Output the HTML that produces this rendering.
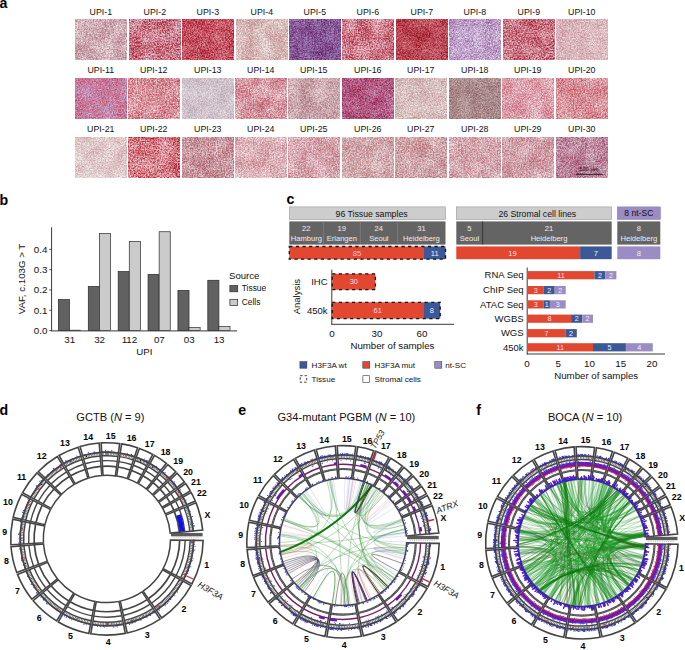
<!DOCTYPE html>
<html><head><meta charset="utf-8"><title>Figure</title>
<style>
html,body{margin:0;padding:0;background:#fff;}
#fig{position:relative;width:685px;height:650px;overflow:hidden;background:#fff;}
svg{position:absolute;left:0;top:0;font-family:"Liberation Sans",sans-serif;}
</style></head><body><div id="fig">
<svg width="685" height="650" viewBox="0 0 685 650">
<defs>
<filter id="t1" x="0" y="0" width="100%" height="100%" color-interpolation-filters="sRGB"><feTurbulence type="fractalNoise" baseFrequency="0.75" numOctaves="2" seed="8"/><feColorMatrix type="matrix" values="1 0 0 0 0  1 0 0 0 0  1 0 0 0 0  0 0 0 0 1" result="a"/><feTurbulence type="fractalNoise" baseFrequency="0.07" numOctaves="2" seed="18"/><feColorMatrix type="matrix" values="1 0 0 0 0  1 0 0 0 0  1 0 0 0 0  0 0 0 0 1" result="b"/><feComposite in="a" in2="b" operator="arithmetic" k1="0" k2="0.95" k3="0.35" k4="-0.15"/><feComponentTransfer><feFuncR type="table" tableValues="0.933 0.933 0.812 0.690 0.690"/><feFuncG type="table" tableValues="0.886 0.886 0.678 0.471 0.471"/><feFuncB type="table" tableValues="0.894 0.894 0.706 0.518 0.518"/></feComponentTransfer></filter>
<filter id="t2" x="0" y="0" width="100%" height="100%" color-interpolation-filters="sRGB"><feTurbulence type="fractalNoise" baseFrequency="0.75" numOctaves="2" seed="15"/><feColorMatrix type="matrix" values="1 0 0 0 0  1 0 0 0 0  1 0 0 0 0  0 0 0 0 1" result="a"/><feTurbulence type="fractalNoise" baseFrequency="0.07" numOctaves="2" seed="31"/><feColorMatrix type="matrix" values="1 0 0 0 0  1 0 0 0 0  1 0 0 0 0  0 0 0 0 1" result="b"/><feComposite in="a" in2="b" operator="arithmetic" k1="0" k2="0.95" k3="0.35" k4="-0.15"/><feComponentTransfer><feFuncR type="table" tableValues="0.910 0.910 0.788 0.667 0.667"/><feFuncG type="table" tableValues="0.824 0.824 0.471 0.118 0.118"/><feFuncB type="table" tableValues="0.871 0.871 0.533 0.196 0.196"/></feComponentTransfer></filter>
<filter id="t3" x="0" y="0" width="100%" height="100%" color-interpolation-filters="sRGB"><feTurbulence type="fractalNoise" baseFrequency="0.75" numOctaves="2" seed="22"/><feColorMatrix type="matrix" values="1 0 0 0 0  1 0 0 0 0  1 0 0 0 0  0 0 0 0 1" result="a"/><feTurbulence type="fractalNoise" baseFrequency="0.07" numOctaves="2" seed="44"/><feColorMatrix type="matrix" values="1 0 0 0 0  1 0 0 0 0  1 0 0 0 0  0 0 0 0 1" result="b"/><feComposite in="a" in2="b" operator="arithmetic" k1="0" k2="0.95" k3="0.35" k4="-0.15"/><feComponentTransfer><feFuncR type="table" tableValues="0.882 0.882 0.765 0.647 0.647"/><feFuncG type="table" tableValues="0.588 0.588 0.324 0.059 0.059"/><feFuncB type="table" tableValues="0.627 0.627 0.382 0.137 0.137"/></feComponentTransfer></filter>
<filter id="t4" x="0" y="0" width="100%" height="100%" color-interpolation-filters="sRGB"><feTurbulence type="fractalNoise" baseFrequency="0.75" numOctaves="2" seed="29"/><feColorMatrix type="matrix" values="1 0 0 0 0  1 0 0 0 0  1 0 0 0 0  0 0 0 0 1" result="a"/><feTurbulence type="fractalNoise" baseFrequency="0.07" numOctaves="2" seed="57"/><feColorMatrix type="matrix" values="1 0 0 0 0  1 0 0 0 0  1 0 0 0 0  0 0 0 0 1" result="b"/><feComposite in="a" in2="b" operator="arithmetic" k1="0" k2="0.95" k3="0.35" k4="-0.15"/><feComponentTransfer><feFuncR type="table" tableValues="0.949 0.949 0.847 0.745 0.745"/><feFuncG type="table" tableValues="0.918 0.918 0.733 0.549 0.549"/><feFuncB type="table" tableValues="0.910 0.910 0.729 0.549 0.549"/></feComponentTransfer></filter>
<filter id="t5" x="0" y="0" width="100%" height="100%" color-interpolation-filters="sRGB"><feTurbulence type="fractalNoise" baseFrequency="0.75" numOctaves="2" seed="36"/><feColorMatrix type="matrix" values="1 0 0 0 0  1 0 0 0 0  1 0 0 0 0  0 0 0 0 1" result="a"/><feTurbulence type="fractalNoise" baseFrequency="0.07" numOctaves="2" seed="70"/><feColorMatrix type="matrix" values="1 0 0 0 0  1 0 0 0 0  1 0 0 0 0  0 0 0 0 1" result="b"/><feComposite in="a" in2="b" operator="arithmetic" k1="0" k2="0.95" k3="0.35" k4="-0.15"/><feComponentTransfer><feFuncR type="table" tableValues="0.667 0.667 0.529 0.392 0.392"/><feFuncG type="table" tableValues="0.549 0.549 0.343 0.137 0.137"/><feFuncB type="table" tableValues="0.784 0.784 0.588 0.392 0.392"/></feComponentTransfer></filter>
<filter id="t6" x="0" y="0" width="100%" height="100%" color-interpolation-filters="sRGB"><feTurbulence type="fractalNoise" baseFrequency="0.75" numOctaves="2" seed="43"/><feColorMatrix type="matrix" values="1 0 0 0 0  1 0 0 0 0  1 0 0 0 0  0 0 0 0 1" result="a"/><feTurbulence type="fractalNoise" baseFrequency="0.07" numOctaves="2" seed="83"/><feColorMatrix type="matrix" values="1 0 0 0 0  1 0 0 0 0  1 0 0 0 0  0 0 0 0 1" result="b"/><feComposite in="a" in2="b" operator="arithmetic" k1="0" k2="0.95" k3="0.35" k4="-0.15"/><feComponentTransfer><feFuncR type="table" tableValues="0.933 0.933 0.804 0.675 0.675"/><feFuncG type="table" tableValues="0.804 0.804 0.480 0.157 0.157"/><feFuncB type="table" tableValues="0.831 0.831 0.537 0.243 0.243"/></feComponentTransfer></filter>
<filter id="t7" x="0" y="0" width="100%" height="100%" color-interpolation-filters="sRGB"><feTurbulence type="fractalNoise" baseFrequency="0.75" numOctaves="2" seed="50"/><feColorMatrix type="matrix" values="1 0 0 0 0  1 0 0 0 0  1 0 0 0 0  0 0 0 0 1" result="a"/><feTurbulence type="fractalNoise" baseFrequency="0.07" numOctaves="2" seed="96"/><feColorMatrix type="matrix" values="1 0 0 0 0  1 0 0 0 0  1 0 0 0 0  0 0 0 0 1" result="b"/><feComposite in="a" in2="b" operator="arithmetic" k1="0" k2="0.95" k3="0.35" k4="-0.15"/><feComponentTransfer><feFuncR type="table" tableValues="0.843 0.843 0.725 0.608 0.608"/><feFuncG type="table" tableValues="0.510 0.510 0.284 0.059 0.059"/><feFuncB type="table" tableValues="0.549 0.549 0.333 0.118 0.118"/></feComponentTransfer></filter>
<filter id="t8" x="0" y="0" width="100%" height="100%" color-interpolation-filters="sRGB"><feTurbulence type="fractalNoise" baseFrequency="0.75" numOctaves="2" seed="57"/><feColorMatrix type="matrix" values="1 0 0 0 0  1 0 0 0 0  1 0 0 0 0  0 0 0 0 1" result="a"/><feTurbulence type="fractalNoise" baseFrequency="0.07" numOctaves="2" seed="109"/><feColorMatrix type="matrix" values="1 0 0 0 0  1 0 0 0 0  1 0 0 0 0  0 0 0 0 1" result="b"/><feComposite in="a" in2="b" operator="arithmetic" k1="0" k2="0.95" k3="0.35" k4="-0.15"/><feComponentTransfer><feFuncR type="table" tableValues="0.902 0.902 0.745 0.588 0.588"/><feFuncG type="table" tableValues="0.863 0.863 0.627 0.392 0.392"/><feFuncB type="table" tableValues="0.941 0.941 0.784 0.627 0.627"/></feComponentTransfer></filter>
<filter id="t9" x="0" y="0" width="100%" height="100%" color-interpolation-filters="sRGB"><feTurbulence type="fractalNoise" baseFrequency="0.75" numOctaves="2" seed="64"/><feColorMatrix type="matrix" values="1 0 0 0 0  1 0 0 0 0  1 0 0 0 0  0 0 0 0 1" result="a"/><feTurbulence type="fractalNoise" baseFrequency="0.07" numOctaves="2" seed="122"/><feColorMatrix type="matrix" values="1 0 0 0 0  1 0 0 0 0  1 0 0 0 0  0 0 0 0 1" result="b"/><feComposite in="a" in2="b" operator="arithmetic" k1="0" k2="0.95" k3="0.35" k4="-0.15"/><feComponentTransfer><feFuncR type="table" tableValues="0.925 0.925 0.786 0.647 0.647"/><feFuncG type="table" tableValues="0.784 0.784 0.451 0.118 0.118"/><feFuncB type="table" tableValues="0.816 0.816 0.510 0.204 0.204"/></feComponentTransfer></filter>
<filter id="t10" x="0" y="0" width="100%" height="100%" color-interpolation-filters="sRGB"><feTurbulence type="fractalNoise" baseFrequency="0.75" numOctaves="2" seed="71"/><feColorMatrix type="matrix" values="1 0 0 0 0  1 0 0 0 0  1 0 0 0 0  0 0 0 0 1" result="a"/><feTurbulence type="fractalNoise" baseFrequency="0.07" numOctaves="2" seed="135"/><feColorMatrix type="matrix" values="1 0 0 0 0  1 0 0 0 0  1 0 0 0 0  0 0 0 0 1" result="b"/><feComposite in="a" in2="b" operator="arithmetic" k1="0" k2="0.95" k3="0.35" k4="-0.15"/><feComponentTransfer><feFuncR type="table" tableValues="0.941 0.941 0.855 0.769 0.769"/><feFuncG type="table" tableValues="0.886 0.886 0.718 0.549 0.549"/><feFuncB type="table" tableValues="0.894 0.894 0.741 0.588 0.588"/></feComponentTransfer></filter>
<filter id="t11" x="0" y="0" width="100%" height="100%" color-interpolation-filters="sRGB"><feTurbulence type="fractalNoise" baseFrequency="0.75" numOctaves="2" seed="78"/><feColorMatrix type="matrix" values="1 0 0 0 0  1 0 0 0 0  1 0 0 0 0  0 0 0 0 1" result="a"/><feTurbulence type="fractalNoise" baseFrequency="0.07" numOctaves="2" seed="148"/><feColorMatrix type="matrix" values="1 0 0 0 0  1 0 0 0 0  1 0 0 0 0  0 0 0 0 1" result="b"/><feComposite in="a" in2="b" operator="arithmetic" k1="0" k2="0.95" k3="0.35" k4="-0.15"/><feComponentTransfer><feFuncR type="table" tableValues="0.769 0.769 0.776 0.784 0.784"/><feFuncG type="table" tableValues="0.722 0.722 0.498 0.275 0.275"/><feFuncB type="table" tableValues="0.871 0.871 0.631 0.392 0.392"/></feComponentTransfer></filter>
<filter id="t12" x="0" y="0" width="100%" height="100%" color-interpolation-filters="sRGB"><feTurbulence type="fractalNoise" baseFrequency="0.75" numOctaves="2" seed="85"/><feColorMatrix type="matrix" values="1 0 0 0 0  1 0 0 0 0  1 0 0 0 0  0 0 0 0 1" result="a"/><feTurbulence type="fractalNoise" baseFrequency="0.07" numOctaves="2" seed="161"/><feColorMatrix type="matrix" values="1 0 0 0 0  1 0 0 0 0  1 0 0 0 0  0 0 0 0 1" result="b"/><feComposite in="a" in2="b" operator="arithmetic" k1="0" k2="0.95" k3="0.35" k4="-0.15"/><feComponentTransfer><feFuncR type="table" tableValues="0.949 0.949 0.847 0.745 0.745"/><feFuncG type="table" tableValues="0.855 0.855 0.565 0.275 0.275"/><feFuncB type="table" tableValues="0.871 0.871 0.602 0.333 0.333"/></feComponentTransfer></filter>
<filter id="t13" x="0" y="0" width="100%" height="100%" color-interpolation-filters="sRGB"><feTurbulence type="fractalNoise" baseFrequency="0.75" numOctaves="2" seed="92"/><feColorMatrix type="matrix" values="1 0 0 0 0  1 0 0 0 0  1 0 0 0 0  0 0 0 0 1" result="a"/><feTurbulence type="fractalNoise" baseFrequency="0.07" numOctaves="2" seed="174"/><feColorMatrix type="matrix" values="1 0 0 0 0  1 0 0 0 0  1 0 0 0 0  0 0 0 0 1" result="b"/><feComposite in="a" in2="b" operator="arithmetic" k1="0" k2="0.95" k3="0.35" k4="-0.15"/><feComponentTransfer><feFuncR type="table" tableValues="0.910 0.910 0.820 0.729 0.729"/><feFuncG type="table" tableValues="0.886 0.886 0.765 0.643 0.643"/><feFuncB type="table" tableValues="0.902 0.902 0.800 0.698 0.698"/></feComponentTransfer></filter>
<filter id="t14" x="0" y="0" width="100%" height="100%" color-interpolation-filters="sRGB"><feTurbulence type="fractalNoise" baseFrequency="0.75" numOctaves="2" seed="99"/><feColorMatrix type="matrix" values="1 0 0 0 0  1 0 0 0 0  1 0 0 0 0  0 0 0 0 1" result="a"/><feTurbulence type="fractalNoise" baseFrequency="0.07" numOctaves="2" seed="187"/><feColorMatrix type="matrix" values="1 0 0 0 0  1 0 0 0 0  1 0 0 0 0  0 0 0 0 1" result="b"/><feComposite in="a" in2="b" operator="arithmetic" k1="0" k2="0.95" k3="0.35" k4="-0.15"/><feComponentTransfer><feFuncR type="table" tableValues="0.949 0.949 0.847 0.745 0.745"/><feFuncG type="table" tableValues="0.863 0.863 0.608 0.353 0.353"/><feFuncB type="table" tableValues="0.878 0.878 0.645 0.412 0.412"/></feComponentTransfer></filter>
<filter id="t15" x="0" y="0" width="100%" height="100%" color-interpolation-filters="sRGB"><feTurbulence type="fractalNoise" baseFrequency="0.75" numOctaves="2" seed="106"/><feColorMatrix type="matrix" values="1 0 0 0 0  1 0 0 0 0  1 0 0 0 0  0 0 0 0 1" result="a"/><feTurbulence type="fractalNoise" baseFrequency="0.07" numOctaves="2" seed="200"/><feColorMatrix type="matrix" values="1 0 0 0 0  1 0 0 0 0  1 0 0 0 0  0 0 0 0 1" result="b"/><feComposite in="a" in2="b" operator="arithmetic" k1="0" k2="0.95" k3="0.35" k4="-0.15"/><feComponentTransfer><feFuncR type="table" tableValues="0.910 0.910 0.792 0.675 0.675"/><feFuncG type="table" tableValues="0.847 0.847 0.651 0.455 0.455"/><feFuncB type="table" tableValues="0.863 0.863 0.675 0.486 0.486"/></feComponentTransfer></filter>
<filter id="t16" x="0" y="0" width="100%" height="100%" color-interpolation-filters="sRGB"><feTurbulence type="fractalNoise" baseFrequency="0.75" numOctaves="2" seed="113"/><feColorMatrix type="matrix" values="1 0 0 0 0  1 0 0 0 0  1 0 0 0 0  0 0 0 0 1" result="a"/><feTurbulence type="fractalNoise" baseFrequency="0.07" numOctaves="2" seed="213"/><feColorMatrix type="matrix" values="1 0 0 0 0  1 0 0 0 0  1 0 0 0 0  0 0 0 0 1" result="b"/><feComposite in="a" in2="b" operator="arithmetic" k1="0" k2="0.95" k3="0.35" k4="-0.15"/><feComponentTransfer><feFuncR type="table" tableValues="0.804 0.804 0.696 0.588 0.588"/><feFuncG type="table" tableValues="0.588 0.588 0.353 0.118 0.118"/><feFuncB type="table" tableValues="0.745 0.745 0.510 0.275 0.275"/></feComponentTransfer></filter>
<filter id="t17" x="0" y="0" width="100%" height="100%" color-interpolation-filters="sRGB"><feTurbulence type="fractalNoise" baseFrequency="0.75" numOctaves="2" seed="120"/><feColorMatrix type="matrix" values="1 0 0 0 0  1 0 0 0 0  1 0 0 0 0  0 0 0 0 1" result="a"/><feTurbulence type="fractalNoise" baseFrequency="0.07" numOctaves="2" seed="226"/><feColorMatrix type="matrix" values="1 0 0 0 0  1 0 0 0 0  1 0 0 0 0  0 0 0 0 1" result="b"/><feComposite in="a" in2="b" operator="arithmetic" k1="0" k2="0.95" k3="0.35" k4="-0.15"/><feComponentTransfer><feFuncR type="table" tableValues="0.941 0.941 0.843 0.745 0.745"/><feFuncG type="table" tableValues="0.910 0.910 0.741 0.573 0.573"/><feFuncB type="table" tableValues="0.894 0.894 0.733 0.573 0.573"/></feComponentTransfer></filter>
<filter id="t18" x="0" y="0" width="100%" height="100%" color-interpolation-filters="sRGB"><feTurbulence type="fractalNoise" baseFrequency="0.75" numOctaves="2" seed="127"/><feColorMatrix type="matrix" values="1 0 0 0 0  1 0 0 0 0  1 0 0 0 0  0 0 0 0 1" result="a"/><feTurbulence type="fractalNoise" baseFrequency="0.07" numOctaves="2" seed="239"/><feColorMatrix type="matrix" values="1 0 0 0 0  1 0 0 0 0  1 0 0 0 0  0 0 0 0 1" result="b"/><feComposite in="a" in2="b" operator="arithmetic" k1="0" k2="0.95" k3="0.35" k4="-0.15"/><feComponentTransfer><feFuncR type="table" tableValues="0.784 0.784 0.667 0.549 0.549"/><feFuncG type="table" tableValues="0.706 0.706 0.545 0.384 0.384"/><feFuncB type="table" tableValues="0.698 0.698 0.545 0.392 0.392"/></feComponentTransfer></filter>
<filter id="t19" x="0" y="0" width="100%" height="100%" color-interpolation-filters="sRGB"><feTurbulence type="fractalNoise" baseFrequency="0.75" numOctaves="2" seed="134"/><feColorMatrix type="matrix" values="1 0 0 0 0  1 0 0 0 0  1 0 0 0 0  0 0 0 0 1" result="a"/><feTurbulence type="fractalNoise" baseFrequency="0.07" numOctaves="2" seed="252"/><feColorMatrix type="matrix" values="1 0 0 0 0  1 0 0 0 0  1 0 0 0 0  0 0 0 0 1" result="b"/><feComposite in="a" in2="b" operator="arithmetic" k1="0" k2="0.95" k3="0.35" k4="-0.15"/><feComponentTransfer><feFuncR type="table" tableValues="0.957 0.957 0.867 0.776 0.776"/><feFuncG type="table" tableValues="0.878 0.878 0.635 0.392 0.392"/><feFuncB type="table" tableValues="0.894 0.894 0.675 0.455 0.455"/></feComponentTransfer></filter>
<filter id="t20" x="0" y="0" width="100%" height="100%" color-interpolation-filters="sRGB"><feTurbulence type="fractalNoise" baseFrequency="0.75" numOctaves="2" seed="141"/><feColorMatrix type="matrix" values="1 0 0 0 0  1 0 0 0 0  1 0 0 0 0  0 0 0 0 1" result="a"/><feTurbulence type="fractalNoise" baseFrequency="0.07" numOctaves="2" seed="265"/><feColorMatrix type="matrix" values="1 0 0 0 0  1 0 0 0 0  1 0 0 0 0  0 0 0 0 1" result="b"/><feComposite in="a" in2="b" operator="arithmetic" k1="0" k2="0.95" k3="0.35" k4="-0.15"/><feComponentTransfer><feFuncR type="table" tableValues="0.949 0.949 0.851 0.753 0.753"/><feFuncG type="table" tableValues="0.839 0.839 0.573 0.306 0.306"/><feFuncB type="table" tableValues="0.855 0.855 0.608 0.361 0.361"/></feComponentTransfer></filter>
<filter id="t21" x="0" y="0" width="100%" height="100%" color-interpolation-filters="sRGB"><feTurbulence type="fractalNoise" baseFrequency="0.75" numOctaves="2" seed="148"/><feColorMatrix type="matrix" values="1 0 0 0 0  1 0 0 0 0  1 0 0 0 0  0 0 0 0 1" result="a"/><feTurbulence type="fractalNoise" baseFrequency="0.07" numOctaves="2" seed="278"/><feColorMatrix type="matrix" values="1 0 0 0 0  1 0 0 0 0  1 0 0 0 0  0 0 0 0 1" result="b"/><feComposite in="a" in2="b" operator="arithmetic" k1="0" k2="0.95" k3="0.35" k4="-0.15"/><feComponentTransfer><feFuncR type="table" tableValues="0.957 0.957 0.878 0.800 0.800"/><feFuncG type="table" tableValues="0.933 0.933 0.788 0.643 0.643"/><feFuncB type="table" tableValues="0.933 0.933 0.792 0.651 0.651"/></feComponentTransfer></filter>
<filter id="t22" x="0" y="0" width="100%" height="100%" color-interpolation-filters="sRGB"><feTurbulence type="fractalNoise" baseFrequency="0.75" numOctaves="2" seed="155"/><feColorMatrix type="matrix" values="1 0 0 0 0  1 0 0 0 0  1 0 0 0 0  0 0 0 0 1" result="a"/><feTurbulence type="fractalNoise" baseFrequency="0.07" numOctaves="2" seed="291"/><feColorMatrix type="matrix" values="1 0 0 0 0  1 0 0 0 0  1 0 0 0 0  0 0 0 0 1" result="b"/><feComposite in="a" in2="b" operator="arithmetic" k1="0" k2="0.95" k3="0.35" k4="-0.15"/><feComponentTransfer><feFuncR type="table" tableValues="0.957 0.957 0.831 0.706 0.706"/><feFuncG type="table" tableValues="0.839 0.839 0.478 0.118 0.118"/><feFuncB type="table" tableValues="0.855 0.855 0.518 0.180 0.180"/></feComponentTransfer></filter>
<filter id="t23" x="0" y="0" width="100%" height="100%" color-interpolation-filters="sRGB"><feTurbulence type="fractalNoise" baseFrequency="0.75" numOctaves="2" seed="162"/><feColorMatrix type="matrix" values="1 0 0 0 0  1 0 0 0 0  1 0 0 0 0  0 0 0 0 1" result="a"/><feTurbulence type="fractalNoise" baseFrequency="0.07" numOctaves="2" seed="304"/><feColorMatrix type="matrix" values="1 0 0 0 0  1 0 0 0 0  1 0 0 0 0  0 0 0 0 1" result="b"/><feComposite in="a" in2="b" operator="arithmetic" k1="0" k2="0.95" k3="0.35" k4="-0.15"/><feComponentTransfer><feFuncR type="table" tableValues="0.902 0.902 0.784 0.667 0.667"/><feFuncG type="table" tableValues="0.824 0.824 0.588 0.353 0.353"/><feFuncB type="table" tableValues="0.847 0.847 0.620 0.392 0.392"/></feComponentTransfer></filter>
<filter id="t24" x="0" y="0" width="100%" height="100%" color-interpolation-filters="sRGB"><feTurbulence type="fractalNoise" baseFrequency="0.75" numOctaves="2" seed="169"/><feColorMatrix type="matrix" values="1 0 0 0 0  1 0 0 0 0  1 0 0 0 0  0 0 0 0 1" result="a"/><feTurbulence type="fractalNoise" baseFrequency="0.07" numOctaves="2" seed="317"/><feColorMatrix type="matrix" values="1 0 0 0 0  1 0 0 0 0  1 0 0 0 0  0 0 0 0 1" result="b"/><feComposite in="a" in2="b" operator="arithmetic" k1="0" k2="0.95" k3="0.35" k4="-0.15"/><feComponentTransfer><feFuncR type="table" tableValues="0.957 0.957 0.863 0.769 0.769"/><feFuncG type="table" tableValues="0.902 0.902 0.694 0.486 0.486"/><feFuncB type="table" tableValues="0.910 0.910 0.718 0.525 0.525"/></feComponentTransfer></filter>
<filter id="t25" x="0" y="0" width="100%" height="100%" color-interpolation-filters="sRGB"><feTurbulence type="fractalNoise" baseFrequency="0.75" numOctaves="2" seed="176"/><feColorMatrix type="matrix" values="1 0 0 0 0  1 0 0 0 0  1 0 0 0 0  0 0 0 0 1" result="a"/><feTurbulence type="fractalNoise" baseFrequency="0.07" numOctaves="2" seed="330"/><feColorMatrix type="matrix" values="1 0 0 0 0  1 0 0 0 0  1 0 0 0 0  0 0 0 0 1" result="b"/><feComposite in="a" in2="b" operator="arithmetic" k1="0" k2="0.95" k3="0.35" k4="-0.15"/><feComponentTransfer><feFuncR type="table" tableValues="0.941 0.941 0.839 0.737 0.737"/><feFuncG type="table" tableValues="0.878 0.878 0.651 0.424 0.424"/><feFuncB type="table" tableValues="0.894 0.894 0.682 0.471 0.471"/></feComponentTransfer></filter>
<filter id="t26" x="0" y="0" width="100%" height="100%" color-interpolation-filters="sRGB"><feTurbulence type="fractalNoise" baseFrequency="0.75" numOctaves="2" seed="183"/><feColorMatrix type="matrix" values="1 0 0 0 0  1 0 0 0 0  1 0 0 0 0  0 0 0 0 1" result="a"/><feTurbulence type="fractalNoise" baseFrequency="0.07" numOctaves="2" seed="343"/><feColorMatrix type="matrix" values="1 0 0 0 0  1 0 0 0 0  1 0 0 0 0  0 0 0 0 1" result="b"/><feComposite in="a" in2="b" operator="arithmetic" k1="0" k2="0.95" k3="0.35" k4="-0.15"/><feComponentTransfer><feFuncR type="table" tableValues="0.925 0.925 0.820 0.714 0.714"/><feFuncG type="table" tableValues="0.871 0.871 0.663 0.455 0.455"/><feFuncB type="table" tableValues="0.878 0.878 0.678 0.478 0.478"/></feComponentTransfer></filter>
<filter id="t27" x="0" y="0" width="100%" height="100%" color-interpolation-filters="sRGB"><feTurbulence type="fractalNoise" baseFrequency="0.75" numOctaves="2" seed="190"/><feColorMatrix type="matrix" values="1 0 0 0 0  1 0 0 0 0  1 0 0 0 0  0 0 0 0 1" result="a"/><feTurbulence type="fractalNoise" baseFrequency="0.07" numOctaves="2" seed="356"/><feColorMatrix type="matrix" values="1 0 0 0 0  1 0 0 0 0  1 0 0 0 0  0 0 0 0 1" result="b"/><feComposite in="a" in2="b" operator="arithmetic" k1="0" k2="0.95" k3="0.35" k4="-0.15"/><feComponentTransfer><feFuncR type="table" tableValues="0.925 0.925 0.816 0.706 0.706"/><feFuncG type="table" tableValues="0.871 0.871 0.651 0.431 0.431"/><feFuncB type="table" tableValues="0.871 0.871 0.663 0.455 0.455"/></feComponentTransfer></filter>
<filter id="t28" x="0" y="0" width="100%" height="100%" color-interpolation-filters="sRGB"><feTurbulence type="fractalNoise" baseFrequency="0.75" numOctaves="2" seed="197"/><feColorMatrix type="matrix" values="1 0 0 0 0  1 0 0 0 0  1 0 0 0 0  0 0 0 0 1" result="a"/><feTurbulence type="fractalNoise" baseFrequency="0.07" numOctaves="2" seed="369"/><feColorMatrix type="matrix" values="1 0 0 0 0  1 0 0 0 0  1 0 0 0 0  0 0 0 0 1" result="b"/><feComposite in="a" in2="b" operator="arithmetic" k1="0" k2="0.95" k3="0.35" k4="-0.15"/><feComponentTransfer><feFuncR type="table" tableValues="0.941 0.941 0.835 0.729 0.729"/><feFuncG type="table" tableValues="0.878 0.878 0.659 0.439 0.439"/><feFuncB type="table" tableValues="0.894 0.894 0.690 0.486 0.486"/></feComponentTransfer></filter>
<filter id="t29" x="0" y="0" width="100%" height="100%" color-interpolation-filters="sRGB"><feTurbulence type="fractalNoise" baseFrequency="0.75" numOctaves="2" seed="204"/><feColorMatrix type="matrix" values="1 0 0 0 0  1 0 0 0 0  1 0 0 0 0  0 0 0 0 1" result="a"/><feTurbulence type="fractalNoise" baseFrequency="0.07" numOctaves="2" seed="382"/><feColorMatrix type="matrix" values="1 0 0 0 0  1 0 0 0 0  1 0 0 0 0  0 0 0 0 1" result="b"/><feComposite in="a" in2="b" operator="arithmetic" k1="0" k2="0.95" k3="0.35" k4="-0.15"/><feComponentTransfer><feFuncR type="table" tableValues="0.925 0.925 0.820 0.714 0.714"/><feFuncG type="table" tableValues="0.855 0.855 0.631 0.408 0.408"/><feFuncB type="table" tableValues="0.871 0.871 0.663 0.455 0.455"/></feComponentTransfer></filter>
<filter id="t30" x="0" y="0" width="100%" height="100%" color-interpolation-filters="sRGB"><feTurbulence type="fractalNoise" baseFrequency="0.75" numOctaves="2" seed="211"/><feColorMatrix type="matrix" values="1 0 0 0 0  1 0 0 0 0  1 0 0 0 0  0 0 0 0 1" result="a"/><feTurbulence type="fractalNoise" baseFrequency="0.07" numOctaves="2" seed="395"/><feColorMatrix type="matrix" values="1 0 0 0 0  1 0 0 0 0  1 0 0 0 0  0 0 0 0 1" result="b"/><feComposite in="a" in2="b" operator="arithmetic" k1="0" k2="0.95" k3="0.35" k4="-0.15"/><feComponentTransfer><feFuncR type="table" tableValues="0.871 0.871 0.741 0.612 0.612"/><feFuncG type="table" tableValues="0.784 0.784 0.525 0.267 0.267"/><feFuncB type="table" tableValues="0.839 0.839 0.616 0.392 0.392"/></feComponentTransfer></filter>
</defs>
<text x="-0.4" y="8" font-size="14.2" text-anchor="start" font-weight="bold" font-style="normal" fill="#000" >a</text>
<rect x="75" y="19" width="51.6" height="40.6" fill="#cfadb4" filter="url(#t1)"/>
<text x="100.8" y="14.6" font-size="8.8" text-anchor="middle" font-weight="normal" font-style="normal" fill="#111" >UPI-1</text>
<rect x="129" y="19" width="51.6" height="40.6" fill="#c97888" filter="url(#t2)"/>
<text x="154.8" y="14.6" font-size="8.8" text-anchor="middle" font-weight="normal" font-style="normal" fill="#111" >UPI-2</text>
<rect x="182" y="19" width="51.6" height="40.6" fill="#c35261" filter="url(#t3)"/>
<text x="207.8" y="14.6" font-size="8.8" text-anchor="middle" font-weight="normal" font-style="normal" fill="#111" >UPI-3</text>
<rect x="236" y="19" width="51.6" height="40.6" fill="#d8bbba" filter="url(#t4)"/>
<text x="261.8" y="14.6" font-size="8.8" text-anchor="middle" font-weight="normal" font-style="normal" fill="#111" >UPI-4</text>
<rect x="289" y="19" width="51.6" height="40.6" fill="#875796" filter="url(#t5)"/>
<text x="314.8" y="14.6" font-size="8.8" text-anchor="middle" font-weight="normal" font-style="normal" fill="#111" >UPI-5</text>
<rect x="342" y="19" width="51.6" height="40.6" fill="#cd7a89" filter="url(#t6)"/>
<text x="367.8" y="14.6" font-size="8.8" text-anchor="middle" font-weight="normal" font-style="normal" fill="#111" >UPI-6</text>
<rect x="396" y="19" width="51.6" height="40.6" fill="#b94855" filter="url(#t7)"/>
<text x="421.8" y="14.6" font-size="8.8" text-anchor="middle" font-weight="normal" font-style="normal" fill="#111" >UPI-7</text>
<rect x="449" y="19" width="51.6" height="40.6" fill="#bea0c8" filter="url(#t8)"/>
<text x="474.8" y="14.6" font-size="8.8" text-anchor="middle" font-weight="normal" font-style="normal" fill="#111" >UPI-8</text>
<rect x="503" y="19" width="51.6" height="40.6" fill="#c87382" filter="url(#t9)"/>
<text x="528.8" y="14.6" font-size="8.8" text-anchor="middle" font-weight="normal" font-style="normal" fill="#111" >UPI-9</text>
<rect x="556" y="19" width="51.6" height="40.6" fill="#dab7bd" filter="url(#t10)"/>
<text x="581.8" y="14.6" font-size="8.8" text-anchor="middle" font-weight="normal" font-style="normal" fill="#111" >UPI-10</text>
<rect x="75" y="78" width="51.6" height="40.6" fill="#c67fa1" filter="url(#t11)"/>
<text x="100.8" y="73" font-size="8.8" text-anchor="middle" font-weight="normal" font-style="normal" fill="#111" >UPI-11</text>
<rect x="128" y="78" width="51.6" height="40.6" fill="#d89099" filter="url(#t12)"/>
<text x="153.8" y="73" font-size="8.8" text-anchor="middle" font-weight="normal" font-style="normal" fill="#111" >UPI-12</text>
<rect x="182" y="78" width="51.6" height="40.6" fill="#d1c3cc" filter="url(#t13)"/>
<text x="207.8" y="73" font-size="8.8" text-anchor="middle" font-weight="normal" font-style="normal" fill="#111" >UPI-13</text>
<rect x="235" y="78" width="51.6" height="40.6" fill="#d89ba4" filter="url(#t14)"/>
<text x="260.8" y="73" font-size="8.8" text-anchor="middle" font-weight="normal" font-style="normal" fill="#111" >UPI-14</text>
<rect x="288" y="78" width="51.6" height="40.6" fill="#caa6ac" filter="url(#t15)"/>
<text x="313.8" y="73" font-size="8.8" text-anchor="middle" font-weight="normal" font-style="normal" fill="#111" >UPI-15</text>
<rect x="342" y="78" width="51.6" height="40.6" fill="#b15a82" filter="url(#t16)"/>
<text x="367.8" y="73" font-size="8.8" text-anchor="middle" font-weight="normal" font-style="normal" fill="#111" >UPI-16</text>
<rect x="395" y="78" width="51.6" height="40.6" fill="#d7bdbb" filter="url(#t17)"/>
<text x="420.8" y="73" font-size="8.8" text-anchor="middle" font-weight="normal" font-style="normal" fill="#111" >UPI-17</text>
<rect x="449" y="78" width="51.6" height="40.6" fill="#aa8b8b" filter="url(#t18)"/>
<text x="474.8" y="73" font-size="8.8" text-anchor="middle" font-weight="normal" font-style="normal" fill="#111" >UPI-18</text>
<rect x="502" y="78" width="51.6" height="40.6" fill="#dda2ac" filter="url(#t19)"/>
<text x="527.8" y="73" font-size="8.8" text-anchor="middle" font-weight="normal" font-style="normal" fill="#111" >UPI-19</text>
<rect x="556" y="78" width="51.6" height="40.6" fill="#d9929b" filter="url(#t20)"/>
<text x="581.8" y="73" font-size="8.8" text-anchor="middle" font-weight="normal" font-style="normal" fill="#111" >UPI-20</text>
<rect x="75" y="137" width="51.6" height="40.6" fill="#e0c9ca" filter="url(#t21)"/>
<text x="100.8" y="132.2" font-size="8.8" text-anchor="middle" font-weight="normal" font-style="normal" fill="#111" >UPI-21</text>
<rect x="128" y="137" width="51.6" height="40.6" fill="#d47a84" filter="url(#t22)"/>
<text x="153.8" y="132.2" font-size="8.8" text-anchor="middle" font-weight="normal" font-style="normal" fill="#111" >UPI-22</text>
<rect x="182" y="137" width="51.6" height="40.6" fill="#c8969e" filter="url(#t23)"/>
<text x="207.8" y="132.2" font-size="8.8" text-anchor="middle" font-weight="normal" font-style="normal" fill="#111" >UPI-23</text>
<rect x="235" y="137" width="51.6" height="40.6" fill="#dcb1b7" filter="url(#t24)"/>
<text x="260.8" y="132.2" font-size="8.8" text-anchor="middle" font-weight="normal" font-style="normal" fill="#111" >UPI-24</text>
<rect x="288" y="137" width="51.6" height="40.6" fill="#d6a6ae" filter="url(#t25)"/>
<text x="313.8" y="132.2" font-size="8.8" text-anchor="middle" font-weight="normal" font-style="normal" fill="#111" >UPI-25</text>
<rect x="342" y="137" width="51.6" height="40.6" fill="#d1a9ad" filter="url(#t26)"/>
<text x="367.8" y="132.2" font-size="8.8" text-anchor="middle" font-weight="normal" font-style="normal" fill="#111" >UPI-26</text>
<rect x="395" y="137" width="51.6" height="40.6" fill="#d0a6a9" filter="url(#t27)"/>
<text x="420.8" y="132.2" font-size="8.8" text-anchor="middle" font-weight="normal" font-style="normal" fill="#111" >UPI-27</text>
<rect x="449" y="137" width="51.6" height="40.6" fill="#d5a8b0" filter="url(#t28)"/>
<text x="474.8" y="132.2" font-size="8.8" text-anchor="middle" font-weight="normal" font-style="normal" fill="#111" >UPI-28</text>
<rect x="502" y="137" width="51.6" height="40.6" fill="#d1a1a9" filter="url(#t29)"/>
<text x="527.8" y="132.2" font-size="8.8" text-anchor="middle" font-weight="normal" font-style="normal" fill="#111" >UPI-29</text>
<rect x="556" y="137" width="51.6" height="40.6" fill="#bd869d" filter="url(#t30)"/>
<text x="581.8" y="132.2" font-size="8.8" text-anchor="middle" font-weight="normal" font-style="normal" fill="#111" >UPI-30</text>
<text x="589" y="171" font-size="5.6" text-anchor="middle" font-weight="normal" font-style="normal" fill="#111" >500 μm</text>
<line x1="576" y1="174.3" x2="603" y2="174.3" stroke="#111" stroke-width="0.9"/>
<text x="-0.6" y="205" font-size="14.2" text-anchor="start" font-weight="bold" font-style="normal" fill="#000" >b</text>
<line x1="51.6" y1="227.3" x2="51.6" y2="331" stroke="#222" stroke-width="0.9"/>
<line x1="51.2" y1="330.9" x2="237" y2="330.9" stroke="#222" stroke-width="0.9"/>
<line x1="49.3" y1="330.6" x2="51.6" y2="330.6" stroke="#222" stroke-width="0.8"/>
<text x="47.4" y="334" font-size="9.8" text-anchor="end" font-weight="normal" font-style="normal" fill="#111" >0.0</text>
<line x1="49.3" y1="310.3" x2="51.6" y2="310.3" stroke="#222" stroke-width="0.8"/>
<text x="47.4" y="313.7" font-size="9.8" text-anchor="end" font-weight="normal" font-style="normal" fill="#111" >0.1</text>
<line x1="49.3" y1="290" x2="51.6" y2="290" stroke="#222" stroke-width="0.8"/>
<text x="47.4" y="293.4" font-size="9.8" text-anchor="end" font-weight="normal" font-style="normal" fill="#111" >0.2</text>
<line x1="49.3" y1="269.7" x2="51.6" y2="269.7" stroke="#222" stroke-width="0.8"/>
<text x="47.4" y="273.1" font-size="9.8" text-anchor="end" font-weight="normal" font-style="normal" fill="#111" >0.3</text>
<line x1="49.3" y1="249.4" x2="51.6" y2="249.4" stroke="#222" stroke-width="0.8"/>
<text x="47.4" y="252.8" font-size="9.8" text-anchor="end" font-weight="normal" font-style="normal" fill="#111" >0.4</text>
<rect x="58.4" y="299.54" width="11.1" height="31.06" fill="#616161" stroke="#2a2a2a" stroke-width="0.7"/>
<rect x="69.5" y="330.19" width="11.1" height="0.41" fill="#cbcbcb" stroke="#2a2a2a" stroke-width="0.7"/>
<text x="69.7" y="343" font-size="9.8" text-anchor="middle" font-weight="normal" font-style="normal" fill="#111" >31</text>
<rect x="88.28" y="286.35" width="11.1" height="44.25" fill="#616161" stroke="#2a2a2a" stroke-width="0.7"/>
<rect x="99.38" y="233.57" width="11.1" height="97.03" fill="#cbcbcb" stroke="#2a2a2a" stroke-width="0.7"/>
<text x="99.58" y="343" font-size="9.8" text-anchor="middle" font-weight="normal" font-style="normal" fill="#111" >32</text>
<rect x="118.16" y="271.53" width="11.1" height="59.07" fill="#616161" stroke="#2a2a2a" stroke-width="0.7"/>
<rect x="129.26" y="241.48" width="11.1" height="89.12" fill="#cbcbcb" stroke="#2a2a2a" stroke-width="0.7"/>
<text x="129.46" y="343" font-size="9.8" text-anchor="middle" font-weight="normal" font-style="normal" fill="#111" >112</text>
<rect x="148.04" y="274.37" width="11.1" height="56.23" fill="#616161" stroke="#2a2a2a" stroke-width="0.7"/>
<rect x="159.14" y="231.74" width="11.1" height="98.86" fill="#cbcbcb" stroke="#2a2a2a" stroke-width="0.7"/>
<text x="159.34" y="343" font-size="9.8" text-anchor="middle" font-weight="normal" font-style="normal" fill="#111" >07</text>
<rect x="177.92" y="290.41" width="11.1" height="40.19" fill="#616161" stroke="#2a2a2a" stroke-width="0.7"/>
<rect x="189.02" y="327.56" width="11.1" height="3.04" fill="#cbcbcb" stroke="#2a2a2a" stroke-width="0.7"/>
<text x="189.22" y="343" font-size="9.8" text-anchor="middle" font-weight="normal" font-style="normal" fill="#111" >03</text>
<rect x="207.8" y="280.26" width="11.1" height="50.34" fill="#616161" stroke="#2a2a2a" stroke-width="0.7"/>
<rect x="218.9" y="326.34" width="11.1" height="4.26" fill="#cbcbcb" stroke="#2a2a2a" stroke-width="0.7"/>
<text x="219.1" y="343" font-size="9.8" text-anchor="middle" font-weight="normal" font-style="normal" fill="#111" >13</text>
<text x="144.4" y="355.2" font-size="9.7" text-anchor="middle" font-weight="normal" font-style="normal" fill="#111" >UPI</text>
<text transform="translate(25.4,279.0) rotate(-90)" font-size="9.7" text-anchor="middle" fill="#111">VAF, c.103G &gt; T</text>
<text x="229" y="278.6" font-size="9.6" text-anchor="start" font-weight="normal" font-style="normal" fill="#111" >Source</text>
<rect x="229.9" y="285.5" width="7.8" height="6.3" fill="#616161" stroke="#2a2a2a" stroke-width="0.7"/>
<rect x="229.9" y="299.3" width="7.8" height="6.3" fill="#cbcbcb" stroke="#2a2a2a" stroke-width="0.7"/>
<text x="241.8" y="291.4" font-size="8.4" text-anchor="start" font-weight="normal" font-style="normal" fill="#111" >Tissue</text>
<text x="241.8" y="305.2" font-size="8.4" text-anchor="start" font-weight="normal" font-style="normal" fill="#111" >Cells</text>
<text x="286.4" y="204" font-size="14.2" text-anchor="start" font-weight="bold" font-style="normal" fill="#000" >c</text>
<rect x="289.3" y="206.9" width="156.2" height="12.6" fill="#cdcdcd" stroke="#9a9a9a" stroke-width="0.6"/>
<text x="371.6" y="216.5" font-size="8.7" text-anchor="middle" font-weight="normal" font-style="normal" fill="#111" >96 Tissue samples</text>
<rect x="289.3" y="221.4" width="156.2" height="23.2" fill="#646464"/>
<text x="306.35" y="231.2" font-size="7.6" text-anchor="middle" font-weight="normal" font-style="normal" fill="#eee" >22</text>
<text x="306.35" y="241" font-size="7.6" text-anchor="middle" font-weight="normal" font-style="normal" fill="#eee" >Hamburg</text>
<line x1="323.4" y1="221.4" x2="323.4" y2="244.6" stroke="#8a8a8a" stroke-width="0.6"/>
<text x="341.85" y="231.2" font-size="7.6" text-anchor="middle" font-weight="normal" font-style="normal" fill="#eee" >19</text>
<text x="341.85" y="241" font-size="7.6" text-anchor="middle" font-weight="normal" font-style="normal" fill="#eee" >Erlangen</text>
<line x1="360.3" y1="221.4" x2="360.3" y2="244.6" stroke="#8a8a8a" stroke-width="0.6"/>
<text x="378.85" y="231.2" font-size="7.6" text-anchor="middle" font-weight="normal" font-style="normal" fill="#eee" >24</text>
<text x="378.85" y="241" font-size="7.6" text-anchor="middle" font-weight="normal" font-style="normal" fill="#eee" >Seoul</text>
<line x1="397.4" y1="221.4" x2="397.4" y2="244.6" stroke="#8a8a8a" stroke-width="0.6"/>
<text x="421.45" y="231.2" font-size="7.6" text-anchor="middle" font-weight="normal" font-style="normal" fill="#eee" >31</text>
<text x="421.45" y="241" font-size="7.6" text-anchor="middle" font-weight="normal" font-style="normal" fill="#eee" >Heidelberg</text>
<rect x="289.3" y="246.5" width="134.7" height="12.7" fill="#e2482f"/>
<rect x="424" y="246.5" width="21.5" height="12.7" fill="#3c5896"/>
<rect x="289.3" y="246.5" width="156.2" height="12.7" fill="none" stroke="#111" stroke-width="1.3" stroke-dasharray="3.2,3.4"/>
<text x="357" y="255.7" font-size="7.6" text-anchor="middle" font-weight="normal" font-style="normal" fill="#fbd" >85</text>
<text x="434.8" y="255.7" font-size="7.6" text-anchor="middle" font-weight="normal" font-style="normal" fill="#eef" >11</text>
<rect x="456.3" y="206.9" width="155.4" height="12.6" fill="#cdcdcd" stroke="#9a9a9a" stroke-width="0.6"/>
<text x="537.3" y="216.5" font-size="8.7" text-anchor="middle" font-weight="normal" font-style="normal" fill="#111" >26 Stromal cell lines</text>
<rect x="456.3" y="221.4" width="155.4" height="23.2" fill="#646464"/>
<line x1="482.6" y1="221.4" x2="482.6" y2="244.6" stroke="#222" stroke-width="0.7"/>
<text x="469.4" y="231.2" font-size="7.6" text-anchor="middle" font-weight="normal" font-style="normal" fill="#eee" >5</text>
<text x="469.4" y="241" font-size="7.6" text-anchor="middle" font-weight="normal" font-style="normal" fill="#eee" >Seoul</text>
<text x="549" y="231.2" font-size="7.6" text-anchor="middle" font-weight="normal" font-style="normal" fill="#eee" >21</text>
<text x="549" y="241" font-size="7.6" text-anchor="middle" font-weight="normal" font-style="normal" fill="#eee" >Heidelberg</text>
<rect x="456.3" y="246.4" width="123.8" height="12.8" fill="#e2482f"/>
<rect x="580.1" y="246.4" width="31.6" height="12.8" fill="#3c5896"/>
<text x="512.6" y="255.7" font-size="7.6" text-anchor="middle" font-weight="normal" font-style="normal" fill="#fde" >19</text>
<text x="595.9" y="255.7" font-size="7.6" text-anchor="middle" font-weight="normal" font-style="normal" fill="#eef" >7</text>
<rect x="617.3" y="206.9" width="43" height="12.6" fill="#9b8cc3" stroke="#8b7fb5" stroke-width="0.6"/>
<text x="638.8" y="216.4" font-size="8.6" text-anchor="middle" font-weight="normal" font-style="normal" fill="#111" >8 nt-SC</text>
<rect x="617.3" y="221.4" width="43" height="23.2" fill="#646464"/>
<text x="638.8" y="231.2" font-size="7.6" text-anchor="middle" font-weight="normal" font-style="normal" fill="#eee" >8</text>
<text x="638.8" y="241" font-size="7.6" text-anchor="middle" font-weight="normal" font-style="normal" fill="#eee" >Heidelberg</text>
<rect x="617.3" y="246.4" width="43" height="12.8" fill="#9b8cc3"/>
<text x="638.8" y="255.7" font-size="7.6" text-anchor="middle" font-weight="normal" font-style="normal" fill="#eee" >8</text>
<line x1="331.8" y1="269.7" x2="331.8" y2="324.6" stroke="#222" stroke-width="0.9"/>
<line x1="331.4" y1="324.3" x2="454" y2="324.3" stroke="#222" stroke-width="0.9"/>
<rect x="332.2" y="273.8" width="43.2" height="15.9" fill="#e2482f"/>
<rect x="332.2" y="273.8" width="43.2" height="15.9" fill="none" stroke="#111" stroke-width="1.3" stroke-dasharray="3.2,3.4"/>
<text x="353.8" y="284.3" font-size="7.4" text-anchor="middle" font-weight="normal" font-style="normal" fill="#fde" >30</text>
<rect x="332.2" y="302.3" width="91" height="16.3" fill="#e2482f"/>
<rect x="423.2" y="302.3" width="17" height="16.3" fill="#3c5896"/>
<rect x="332.2" y="302.3" width="108" height="16.3" fill="none" stroke="#111" stroke-width="1.3" stroke-dasharray="3.2,3.4"/>
<text x="377.7" y="313" font-size="7.4" text-anchor="middle" font-weight="normal" font-style="normal" fill="#fde" >61</text>
<text x="431.7" y="313" font-size="7.4" text-anchor="middle" font-weight="normal" font-style="normal" fill="#eef" >8</text>
<text x="327.6" y="285.2" font-size="9.5" text-anchor="end" font-weight="normal" font-style="normal" fill="#111" >IHC</text>
<text x="327.6" y="314.3" font-size="9.5" text-anchor="end" font-weight="normal" font-style="normal" fill="#111" >450k</text>
<text x="332" y="336.8" font-size="9.8" text-anchor="middle" font-weight="normal" font-style="normal" fill="#111" >0</text>
<text x="377" y="336.8" font-size="9.8" text-anchor="middle" font-weight="normal" font-style="normal" fill="#111" >30</text>
<text x="422" y="336.8" font-size="9.8" text-anchor="middle" font-weight="normal" font-style="normal" fill="#111" >60</text>
<text x="392.4" y="349.4" font-size="9.7" text-anchor="middle" font-weight="normal" font-style="normal" fill="#111" >Number of samples</text>
<text transform="translate(299.6,296.6) rotate(-90)" font-size="9.5" text-anchor="middle" fill="#111">Analysis</text>
<rect x="299.9" y="361.6" width="7" height="6.6" fill="#3c5896" stroke="#333" stroke-width="0.5"/>
<text x="311.6" y="367.8" font-size="8.1" text-anchor="start" font-weight="normal" font-style="normal" fill="#111" >H3F3A wt</text>
<rect x="362.8" y="361.6" width="7" height="6.6" fill="#e2482f" stroke="#333" stroke-width="0.5"/>
<text x="374.6" y="367.8" font-size="8.1" text-anchor="start" font-weight="normal" font-style="normal" fill="#111" >H3F3A mut</text>
<rect x="434.8" y="361.6" width="7" height="6.6" fill="#9b8cc3" stroke="#333" stroke-width="0.5"/>
<text x="445.3" y="367.8" font-size="8.1" text-anchor="start" font-weight="normal" font-style="normal" fill="#111" >nt-SC</text>
<rect x="300.2" y="375.7" width="6.5" height="6.5" fill="none" stroke="#222" stroke-width="0.9" stroke-dasharray="2.4,2.0"/>
<text x="311.6" y="382.2" font-size="8.1" text-anchor="start" font-weight="normal" font-style="normal" fill="#111" >Tissue</text>
<rect x="362.9" y="375.7" width="6.6" height="6.6" fill="#fff" stroke="#333" stroke-width="0.6"/>
<text x="374.6" y="382.2" font-size="8.1" text-anchor="start" font-weight="normal" font-style="normal" fill="#111" >Stromal cells</text>
<line x1="527.2" y1="267.5" x2="527.2" y2="354.3" stroke="#222" stroke-width="0.9"/>
<line x1="526.8" y1="354" x2="665" y2="354" stroke="#222" stroke-width="0.9"/>
<rect x="527.7" y="271.1" width="66.8" height="8.2" fill="#e2482f"/>
<text x="561.1" y="277.7" font-size="7.2" text-anchor="middle" font-weight="normal" font-style="normal" fill="#fde" >11</text>
<rect x="594.5" y="271.1" width="10.9" height="8.2" fill="#3c5896"/>
<text x="599.95" y="277.7" font-size="7.2" text-anchor="middle" font-weight="normal" font-style="normal" fill="#eef" >2</text>
<rect x="605.4" y="271.1" width="11" height="8.2" fill="#9b8cc3"/>
<text x="610.9" y="277.7" font-size="7.2" text-anchor="middle" font-weight="normal" font-style="normal" fill="#f4f0ff" >2</text>
<text x="523.6" y="278.4" font-size="9.5" text-anchor="end" font-weight="normal" font-style="normal" fill="#111" >RNA Seq</text>
<rect x="527.7" y="286" width="16.1" height="8.2" fill="#e2482f"/>
<text x="535.75" y="292.6" font-size="7.2" text-anchor="middle" font-weight="normal" font-style="normal" fill="#fde" >3</text>
<rect x="543.8" y="286" width="10.9" height="8.2" fill="#3c5896"/>
<text x="549.25" y="292.6" font-size="7.2" text-anchor="middle" font-weight="normal" font-style="normal" fill="#eef" >2</text>
<rect x="554.7" y="286" width="11" height="8.2" fill="#9b8cc3"/>
<text x="560.2" y="292.6" font-size="7.2" text-anchor="middle" font-weight="normal" font-style="normal" fill="#f4f0ff" >2</text>
<text x="523.6" y="293.3" font-size="9.5" text-anchor="end" font-weight="normal" font-style="normal" fill="#111" >ChIP Seq</text>
<rect x="527.7" y="300.3" width="16.1" height="8.2" fill="#e2482f"/>
<text x="535.75" y="306.9" font-size="7.2" text-anchor="middle" font-weight="normal" font-style="normal" fill="#fde" >3</text>
<rect x="543.8" y="300.3" width="6.1" height="8.2" fill="#3c5896"/>
<text x="546.85" y="306.9" font-size="7.2" text-anchor="middle" font-weight="normal" font-style="normal" fill="#eef" >1</text>
<rect x="549.9" y="300.3" width="15.8" height="8.2" fill="#9b8cc3"/>
<text x="557.8" y="306.9" font-size="7.2" text-anchor="middle" font-weight="normal" font-style="normal" fill="#f4f0ff" >3</text>
<text x="523.6" y="307.6" font-size="9.5" text-anchor="end" font-weight="normal" font-style="normal" fill="#111" >ATAC Seq</text>
<rect x="527.7" y="314.6" width="43.4" height="8.2" fill="#e2482f"/>
<text x="549.4" y="321.2" font-size="7.2" text-anchor="middle" font-weight="normal" font-style="normal" fill="#fde" >8</text>
<rect x="571.1" y="314.6" width="11.1" height="8.2" fill="#3c5896"/>
<text x="576.65" y="321.2" font-size="7.2" text-anchor="middle" font-weight="normal" font-style="normal" fill="#eef" >2</text>
<rect x="582.2" y="314.6" width="10.8" height="8.2" fill="#9b8cc3"/>
<text x="587.6" y="321.2" font-size="7.2" text-anchor="middle" font-weight="normal" font-style="normal" fill="#f4f0ff" >2</text>
<text x="523.6" y="321.9" font-size="9.5" text-anchor="end" font-weight="normal" font-style="normal" fill="#111" >WGBS</text>
<rect x="527.7" y="329.1" width="37.7" height="8.2" fill="#e2482f"/>
<text x="546.55" y="335.7" font-size="7.2" text-anchor="middle" font-weight="normal" font-style="normal" fill="#fde" >7</text>
<rect x="565.4" y="329.1" width="11.4" height="8.2" fill="#3c5896"/>
<text x="571.1" y="335.7" font-size="7.2" text-anchor="middle" font-weight="normal" font-style="normal" fill="#eef" >2</text>
<text x="523.6" y="336.4" font-size="9.5" text-anchor="end" font-weight="normal" font-style="normal" fill="#111" >WGS</text>
<rect x="527.7" y="343.2" width="65.3" height="8.2" fill="#e2482f"/>
<text x="560.35" y="349.8" font-size="7.2" text-anchor="middle" font-weight="normal" font-style="normal" fill="#fde" >11</text>
<rect x="593" y="343.2" width="32.9" height="8.2" fill="#3c5896"/>
<text x="609.45" y="349.8" font-size="7.2" text-anchor="middle" font-weight="normal" font-style="normal" fill="#eef" >5</text>
<rect x="625.9" y="343.2" width="26.9" height="8.2" fill="#9b8cc3"/>
<text x="639.35" y="349.8" font-size="7.2" text-anchor="middle" font-weight="normal" font-style="normal" fill="#f4f0ff" >4</text>
<text x="523.6" y="350.5" font-size="9.5" text-anchor="end" font-weight="normal" font-style="normal" fill="#111" >450k</text>
<text x="527" y="366.6" font-size="9.8" text-anchor="middle" font-weight="normal" font-style="normal" fill="#111" >0</text>
<text x="558.25" y="366.6" font-size="9.8" text-anchor="middle" font-weight="normal" font-style="normal" fill="#111" >5</text>
<text x="589.5" y="366.6" font-size="9.8" text-anchor="middle" font-weight="normal" font-style="normal" fill="#111" >10</text>
<text x="620.75" y="366.6" font-size="9.8" text-anchor="middle" font-weight="normal" font-style="normal" fill="#111" >15</text>
<text x="652" y="366.6" font-size="9.8" text-anchor="middle" font-weight="normal" font-style="normal" fill="#111" >20</text>
<text x="596.2" y="379" font-size="9.7" text-anchor="middle" font-weight="normal" font-style="normal" fill="#111" >Number of samples</text>
<text x="-0.5" y="414.6" font-size="14.2" text-anchor="start" font-weight="bold" font-style="normal" fill="#000" >d</text>
<text x="238.3" y="414.7" font-size="14.2" text-anchor="start" font-weight="bold" font-style="normal" fill="#000" >e</text>
<text x="476.2" y="414.6" font-size="14.2" text-anchor="start" font-weight="bold" font-style="normal" fill="#000" >f</text>
<text x="110.4" y="421" font-size="11.1" text-anchor="middle" fill="#111">GCTB (<tspan font-style="italic">N</tspan> = 9)</text>
<text x="346.4" y="421" font-size="11.1" text-anchor="middle" fill="#111">G34-mutant PGBM (<tspan font-style="italic">N</tspan> = 10)</text>
<text x="585.1" y="421" font-size="11.1" text-anchor="middle" fill="#111">BOCA (<tspan font-style="italic">N</tspan> = 10)</text>
<g><path d="M203.09 540.46A96.2 96.2 0 0 1 191.98 583.84L183.67 579.46A86.8 86.8 0 0 0 193.69 540.31Z" fill="none" stroke="#444" stroke-width="1.6"/><path d="M193.69 540.31A86.8 86.8 0 0 1 183.67 579.46L163.15 568.63A63.6 63.6 0 0 0 170.49 539.95Z" fill="none" stroke="#444" stroke-width="1.5"/><path d="M190.19 540.26A83.3 83.3 0 0 1 180.57 577.82" fill="none" stroke="#444" stroke-width="1.5"/><path d="M191.94 540.28A85.05 85.05 0 0 1 182.12 578.64" fill="none" stroke="#666" stroke-width="2.0" stroke-dasharray="0.8,0.8"/><path d="M179.69 540.09A72.8 72.8 0 0 1 171.29 572.92" fill="none" stroke="#444" stroke-width="1.7"/><path d="M185.19 540.18A78.3 78.3 0 0 1 176.15 575.49" fill="none" stroke="#444" stroke-width="1.4"/><circle cx="195.02" cy="546.25" r="0.55" fill="#2222ee"/><circle cx="188.61" cy="570.81" r="0.55" fill="#2222ee"/><circle cx="192.14" cy="560.58" r="0.55" fill="#2222ee"/><circle cx="190.75" cy="566.76" r="0.55" fill="#2222ee"/><circle cx="194.15" cy="544.55" r="0.55" fill="#2222ee"/><circle cx="187.71" cy="573.58" r="0.55" fill="#2222ee"/><circle cx="188.35" cy="570.64" r="0.55" fill="#2222ee"/><circle cx="192.93" cy="558.69" r="0.55" fill="#2222ee"/><circle cx="194.73" cy="550.08" r="0.55" fill="#2222ee"/><circle cx="184.13" cy="574.57" r="0.7" fill="#e02020"/><circle cx="191.9" cy="541.88" r="0.7" fill="#111"/><circle cx="191.92" cy="541.38" r="0.7" fill="#e02020"/><circle cx="187.22" cy="566.91" r="0.7" fill="#e02020"/><text x="206.64" y="567.58" font-size="8.8" font-weight="bold" text-anchor="middle">1</text><path d="M191.04 585.58A96.2 96.2 0 0 1 161.72 618L156.36 610.28A86.8 86.8 0 0 0 182.82 581.03Z" fill="none" stroke="#444" stroke-width="1.6"/><path d="M182.82 581.03A86.8 86.8 0 0 1 156.36 610.28L143.14 591.21A63.6 63.6 0 0 0 162.53 569.78Z" fill="none" stroke="#444" stroke-width="1.5"/><path d="M179.76 579.33A83.3 83.3 0 0 1 154.37 607.4" fill="none" stroke="#444" stroke-width="1.5"/><path d="M181.29 580.18A85.05 85.05 0 0 1 155.36 608.84" fill="none" stroke="#666" stroke-width="2.0" stroke-dasharray="0.8,0.8"/><path d="M170.57 574.24A72.8 72.8 0 0 1 148.38 598.77" fill="none" stroke="#444" stroke-width="1.7"/><path d="M175.39 576.91A78.3 78.3 0 0 1 151.52 603.29" fill="none" stroke="#444" stroke-width="1.4"/><circle cx="165.89" cy="604.29" r="0.55" fill="#2222ee"/><circle cx="165.1" cy="605.66" r="0.55" fill="#2222ee"/><circle cx="170.61" cy="599.38" r="0.55" fill="#2222ee"/><circle cx="167.5" cy="603.19" r="0.55" fill="#2222ee"/><circle cx="159.26" cy="610.32" r="0.55" fill="#2222ee"/><circle cx="174.72" cy="595.81" r="0.55" fill="#2222ee"/><circle cx="159.61" cy="608.81" r="0.55" fill="#2222ee"/><circle cx="168.82" cy="601.85" r="0.55" fill="#2222ee"/><circle cx="177.5" cy="591.97" r="0.55" fill="#2222ee"/><circle cx="159.12" cy="606.08" r="0.7" fill="#111"/><circle cx="157.9" cy="607.01" r="0.7" fill="#e02020"/><circle cx="169.78" cy="596.22" r="0.7" fill="#e06010"/><text x="183.83" y="611.63" font-size="8.8" font-weight="bold" text-anchor="middle">2</text><path d="M160.08 619.11A96.2 96.2 0 0 1 127.19 632.99L125.21 623.8A86.8 86.8 0 0 0 154.88 611.28Z" fill="none" stroke="#444" stroke-width="1.6"/><path d="M154.88 611.28A86.8 86.8 0 0 1 125.21 623.8L120.31 601.12A63.6 63.6 0 0 0 142.06 591.95Z" fill="none" stroke="#444" stroke-width="1.5"/><path d="M152.95 608.36A83.3 83.3 0 0 1 124.47 620.38" fill="none" stroke="#444" stroke-width="1.5"/><path d="M153.92 609.82A85.05 85.05 0 0 1 124.84 622.09" fill="none" stroke="#666" stroke-width="2.0" stroke-dasharray="0.8,0.8"/><path d="M147.14 599.61A72.8 72.8 0 0 1 122.26 610.11" fill="none" stroke="#444" stroke-width="1.7"/><path d="M150.19 604.2A78.3 78.3 0 0 1 123.42 615.49" fill="none" stroke="#444" stroke-width="1.4"/><circle cx="146.84" cy="617.48" r="0.55" fill="#2222ee"/><circle cx="129.66" cy="624.39" r="0.55" fill="#2222ee"/><circle cx="140.98" cy="620.2" r="0.55" fill="#2222ee"/><circle cx="154.07" cy="612.87" r="0.55" fill="#2222ee"/><circle cx="132.14" cy="623.15" r="0.55" fill="#2222ee"/><circle cx="150.48" cy="615.47" r="0.55" fill="#2222ee"/><circle cx="135.11" cy="622.53" r="0.55" fill="#2222ee"/><circle cx="143.41" cy="615.76" r="0.7" fill="#e02020"/><circle cx="135.33" cy="619.11" r="0.7" fill="#e02020"/><circle cx="132.04" cy="620.2" r="0.7" fill="#111"/><text x="147.18" y="637.56" font-size="8.8" font-weight="bold" text-anchor="middle">3</text><path d="M125.25 633.38A96.2 96.2 0 0 1 90.78 633.79L92.36 624.52A86.8 86.8 0 0 0 123.46 624.16Z" fill="none" stroke="#444" stroke-width="1.6"/><path d="M123.46 624.16A86.8 86.8 0 0 1 92.36 624.52L96.24 601.65A63.6 63.6 0 0 0 119.03 601.38Z" fill="none" stroke="#444" stroke-width="1.5"/><path d="M122.79 620.72A83.3 83.3 0 0 1 92.94 621.07" fill="none" stroke="#444" stroke-width="1.5"/><path d="M123.13 622.44A85.05 85.05 0 0 1 92.65 622.8" fill="none" stroke="#666" stroke-width="2.0" stroke-dasharray="0.8,0.8"/><path d="M120.79 610.41A72.8 72.8 0 0 1 94.7 610.72" fill="none" stroke="#444" stroke-width="1.7"/><path d="M121.84 615.81A78.3 78.3 0 0 1 93.78 616.14" fill="none" stroke="#444" stroke-width="1.4"/><circle cx="97.51" cy="626.29" r="0.55" fill="#2222ee"/><circle cx="100.78" cy="626.7" r="0.55" fill="#2222ee"/><circle cx="113.86" cy="627.09" r="0.55" fill="#2222ee"/><circle cx="104.4" cy="627.01" r="0.55" fill="#2222ee"/><circle cx="103.43" cy="626.48" r="0.55" fill="#2222ee"/><circle cx="116.26" cy="625.86" r="0.55" fill="#2222ee"/><circle cx="117.22" cy="626.85" r="0.55" fill="#2222ee"/><circle cx="106.49" cy="624" r="0.7" fill="#e02020"/><circle cx="107.5" cy="624" r="0.7" fill="#111"/><circle cx="112.18" cy="623.84" r="0.7" fill="#109090"/><text x="108.12" y="645.02" font-size="8.8" font-weight="bold" text-anchor="middle">4</text><path d="M88.83 633.44A96.2 96.2 0 0 1 58.28 621.96L63.03 613.85A86.8 86.8 0 0 0 90.6 624.21Z" fill="none" stroke="#444" stroke-width="1.6"/><path d="M90.6 624.21A86.8 86.8 0 0 1 63.03 613.85L74.75 593.83A63.6 63.6 0 0 0 94.96 601.42Z" fill="none" stroke="#444" stroke-width="1.5"/><path d="M91.26 620.77A83.3 83.3 0 0 1 64.8 610.83" fill="none" stroke="#444" stroke-width="1.5"/><path d="M90.93 622.49A85.05 85.05 0 0 1 63.91 612.34" fill="none" stroke="#666" stroke-width="2.0" stroke-dasharray="0.8,0.8"/><path d="M93.23 610.45A72.8 72.8 0 0 1 70.1 601.77" fill="none" stroke="#444" stroke-width="1.7"/><path d="M92.2 615.86A78.3 78.3 0 0 1 67.32 606.51" fill="none" stroke="#444" stroke-width="1.4"/><circle cx="71.61" cy="619.71" r="0.55" fill="#2222ee"/><circle cx="69.86" cy="618.62" r="0.55" fill="#2222ee"/><circle cx="66.22" cy="617.6" r="0.55" fill="#2222ee"/><circle cx="64.37" cy="616.01" r="0.55" fill="#2222ee"/><circle cx="86.17" cy="624.82" r="0.55" fill="#2222ee"/><circle cx="83.96" cy="624.47" r="0.55" fill="#2222ee"/><circle cx="77.47" cy="618.75" r="0.7" fill="#109090"/><circle cx="75.19" cy="617.87" r="0.7" fill="#e06010"/><text x="70.46" y="639.04" font-size="8.8" font-weight="bold" text-anchor="middle">5</text><path d="M56.58 620.94A96.2 96.2 0 0 1 33.19 600.76L40.39 594.72A86.8 86.8 0 0 0 61.5 612.93Z" fill="none" stroke="#444" stroke-width="1.6"/><path d="M61.5 612.93A86.8 86.8 0 0 1 40.39 594.72L58.17 579.82A63.6 63.6 0 0 0 73.63 593.16Z" fill="none" stroke="#444" stroke-width="1.5"/><path d="M63.33 609.95A83.3 83.3 0 0 1 43.07 592.47" fill="none" stroke="#444" stroke-width="1.5"/><path d="M62.41 611.44A85.05 85.05 0 0 1 41.73 593.6" fill="none" stroke="#666" stroke-width="2.0" stroke-dasharray="0.8,0.8"/><path d="M68.82 601A72.8 72.8 0 0 1 51.12 585.73" fill="none" stroke="#444" stroke-width="1.7"/><path d="M65.94 605.68A78.3 78.3 0 0 1 46.9 589.26" fill="none" stroke="#444" stroke-width="1.4"/><circle cx="40.9" cy="597" r="0.55" fill="#2222ee"/><circle cx="43.27" cy="599.59" r="0.55" fill="#2222ee"/><circle cx="60.41" cy="613.73" r="0.55" fill="#2222ee"/><circle cx="43.85" cy="600.05" r="0.55" fill="#2222ee"/><circle cx="47.13" cy="604.03" r="0.55" fill="#2222ee"/><circle cx="46.62" cy="603.15" r="0.55" fill="#2222ee"/><circle cx="57.88" cy="608.45" r="0.7" fill="#e02020"/><circle cx="45.73" cy="598.04" r="0.7" fill="#109090"/><text x="39.11" y="620.64" font-size="8.8" font-weight="bold" text-anchor="middle">6</text><path d="M31.93 599.23A96.2 96.2 0 0 1 17.47 574.4L26.21 570.93A86.8 86.8 0 0 0 39.26 593.34Z" fill="none" stroke="#444" stroke-width="1.6"/><path d="M39.26 593.34A86.8 86.8 0 0 1 26.21 570.93L47.77 562.38A63.6 63.6 0 0 0 57.34 578.81Z" fill="none" stroke="#444" stroke-width="1.5"/><path d="M41.98 591.15A83.3 83.3 0 0 1 29.46 569.64" fill="none" stroke="#444" stroke-width="1.5"/><path d="M40.62 592.25A85.05 85.05 0 0 1 27.83 570.29" fill="none" stroke="#666" stroke-width="2.0" stroke-dasharray="0.8,0.8"/><path d="M50.17 584.57A72.8 72.8 0 0 1 39.22 565.77" fill="none" stroke="#444" stroke-width="1.7"/><path d="M45.88 588.02A78.3 78.3 0 0 1 34.11 567.8" fill="none" stroke="#444" stroke-width="1.4"/><circle cx="37.1" cy="593.41" r="0.55" fill="#2222ee"/><circle cx="36.58" cy="592.59" r="0.55" fill="#2222ee"/><circle cx="31.2" cy="584.42" r="0.55" fill="#2222ee"/><circle cx="34.04" cy="587.8" r="0.55" fill="#2222ee"/><circle cx="27.67" cy="576.37" r="0.55" fill="#2222ee"/><circle cx="34.01" cy="587.54" r="0.55" fill="#2222ee"/><circle cx="36.54" cy="586.72" r="0.7" fill="#e06010"/><circle cx="31.58" cy="578.46" r="0.7" fill="#109090"/><text x="17.46" y="594.13" font-size="8.8" font-weight="bold" text-anchor="middle">7</text><path d="M16.76 572.55A96.2 96.2 0 0 1 11.01 546.72L20.38 545.96A86.8 86.8 0 0 0 25.57 569.27Z" fill="none" stroke="#444" stroke-width="1.6"/><path d="M25.57 569.27A86.8 86.8 0 0 1 20.38 545.96L43.51 544.09A63.6 63.6 0 0 0 47.31 561.16Z" fill="none" stroke="#444" stroke-width="1.5"/><path d="M28.85 568.05A83.3 83.3 0 0 1 23.87 545.68" fill="none" stroke="#444" stroke-width="1.5"/><path d="M27.21 568.66A85.05 85.05 0 0 1 22.13 545.82" fill="none" stroke="#666" stroke-width="2.0" stroke-dasharray="0.8,0.8"/><path d="M38.69 564.38A72.8 72.8 0 0 1 34.34 544.83" fill="none" stroke="#444" stroke-width="1.7"/><path d="M33.53 566.3A78.3 78.3 0 0 1 28.86 545.27" fill="none" stroke="#444" stroke-width="1.4"/><circle cx="21.44" cy="559.04" r="0.55" fill="#2222ee"/><circle cx="21.69" cy="558.52" r="0.55" fill="#2222ee"/><circle cx="21.7" cy="560.61" r="0.55" fill="#2222ee"/><circle cx="23.32" cy="564.95" r="0.55" fill="#2222ee"/><circle cx="19.45" cy="548.85" r="0.55" fill="#2222ee"/><circle cx="25.5" cy="563.6" r="0.7" fill="#111"/><circle cx="24.22" cy="558.88" r="0.7" fill="#e02020"/><text x="6.48" y="564.38" font-size="8.8" font-weight="bold" text-anchor="middle">8</text><path d="M10.87 544.75A96.2 96.2 0 0 1 12.73 519.29L21.93 521.21A86.8 86.8 0 0 0 20.26 544.18Z" fill="none" stroke="#444" stroke-width="1.6"/><path d="M20.26 544.18A86.8 86.8 0 0 1 21.93 521.21L44.64 525.95A63.6 63.6 0 0 0 43.42 542.78Z" fill="none" stroke="#444" stroke-width="1.5"/><path d="M23.75 543.97A83.3 83.3 0 0 1 25.36 521.92" fill="none" stroke="#444" stroke-width="1.5"/><path d="M22 544.07A85.05 85.05 0 0 1 23.65 521.56" fill="none" stroke="#666" stroke-width="2.0" stroke-dasharray="0.8,0.8"/><path d="M34.23 543.34A72.8 72.8 0 0 1 35.64 524.07" fill="none" stroke="#444" stroke-width="1.7"/><path d="M28.74 543.67A78.3 78.3 0 0 1 30.25 522.94" fill="none" stroke="#444" stroke-width="1.4"/><circle cx="19.02" cy="538.72" r="0.55" fill="#2222ee"/><circle cx="18.44" cy="543.02" r="0.55" fill="#2222ee"/><circle cx="19.05" cy="533.77" r="0.55" fill="#2222ee"/><circle cx="18.63" cy="534.18" r="0.55" fill="#2222ee"/><circle cx="20.41" cy="521.89" r="0.55" fill="#2222ee"/><circle cx="22.47" cy="528.66" r="0.7" fill="#e02020"/><circle cx="21.85" cy="538.61" r="0.7" fill="#e02020"/><text x="4.7" y="534.6" font-size="8.8" font-weight="bold" text-anchor="middle">9</text><path d="M13.16 517.35A96.2 96.2 0 0 1 21.65 494.37L29.98 498.73A86.8 86.8 0 0 0 22.32 519.46Z" fill="none" stroke="#444" stroke-width="1.6"/><path d="M22.32 519.46A86.8 86.8 0 0 1 29.98 498.73L50.54 509.48A63.6 63.6 0 0 0 44.92 524.67Z" fill="none" stroke="#444" stroke-width="1.5"/><path d="M25.73 520.25A83.3 83.3 0 0 1 33.08 500.35" fill="none" stroke="#444" stroke-width="1.5"/><path d="M24.02 519.86A85.05 85.05 0 0 1 31.53 499.54" fill="none" stroke="#666" stroke-width="2.0" stroke-dasharray="0.8,0.8"/><path d="M35.96 522.61A72.8 72.8 0 0 1 42.39 505.21" fill="none" stroke="#444" stroke-width="1.7"/><path d="M30.6 521.37A78.3 78.3 0 0 1 37.51 502.66" fill="none" stroke="#444" stroke-width="1.4"/><circle cx="23.52" cy="510.54" r="0.55" fill="#2222ee"/><circle cx="22.95" cy="512.03" r="0.55" fill="#2222ee"/><circle cx="21.79" cy="517.57" r="0.55" fill="#2222ee"/><circle cx="27.99" cy="498.99" r="0.55" fill="#2222ee"/><circle cx="22.6" cy="512.25" r="0.55" fill="#2222ee"/><circle cx="25.88" cy="513.09" r="0.7" fill="#109090"/><circle cx="28.97" cy="504.88" r="0.7" fill="#e02020"/><text x="7.96" y="505.47" font-size="8.8" font-weight="bold" text-anchor="middle">10</text><path d="M22.59 492.63A96.2 96.2 0 0 1 36.96 472.89L43.8 479.35A86.8 86.8 0 0 0 30.83 497.15Z" fill="none" stroke="#444" stroke-width="1.6"/><path d="M30.83 497.15A86.8 86.8 0 0 1 43.8 479.35L60.66 495.28A63.6 63.6 0 0 0 51.16 508.32Z" fill="none" stroke="#444" stroke-width="1.5"/><path d="M33.89 498.84A83.3 83.3 0 0 1 46.34 481.75" fill="none" stroke="#444" stroke-width="1.5"/><path d="M32.36 498A85.05 85.05 0 0 1 45.07 480.55" fill="none" stroke="#666" stroke-width="2.0" stroke-dasharray="0.8,0.8"/><path d="M43.1 503.89A72.8 72.8 0 0 1 53.98 488.96" fill="none" stroke="#444" stroke-width="1.7"/><path d="M38.28 501.25A78.3 78.3 0 0 1 49.98 485.19" fill="none" stroke="#444" stroke-width="1.4"/><circle cx="36.96" cy="486.28" r="0.55" fill="#2222ee"/><circle cx="36.21" cy="485.83" r="0.55" fill="#2222ee"/><circle cx="37.21" cy="485.78" r="0.55" fill="#2222ee"/><circle cx="41.21" cy="480.47" r="0.55" fill="#2222ee"/><circle cx="39.81" cy="481.32" r="0.55" fill="#2222ee"/><circle cx="41.63" cy="484.42" r="0.7" fill="#111"/><circle cx="38.26" cy="488.72" r="0.7" fill="#e02020"/><text x="21.54" y="479.86" font-size="8.8" font-weight="bold" text-anchor="middle">11</text><path d="M38.34 471.47A96.2 96.2 0 0 1 57.35 456.49L62.19 464.55A86.8 86.8 0 0 0 45.04 478.06Z" fill="none" stroke="#444" stroke-width="1.6"/><path d="M45.04 478.06A86.8 86.8 0 0 1 62.19 464.55L74.14 484.43A63.6 63.6 0 0 0 61.57 494.34Z" fill="none" stroke="#444" stroke-width="1.5"/><path d="M47.53 480.52A83.3 83.3 0 0 1 64 467.55" fill="none" stroke="#444" stroke-width="1.5"/><path d="M46.28 479.29A85.05 85.05 0 0 1 63.09 466.05" fill="none" stroke="#666" stroke-width="2.0" stroke-dasharray="0.8,0.8"/><path d="M55.01 487.88A72.8 72.8 0 0 1 69.4 476.55" fill="none" stroke="#444" stroke-width="1.7"/><path d="M51.09 484.03A78.3 78.3 0 0 1 66.57 471.83" fill="none" stroke="#444" stroke-width="1.4"/><circle cx="47.91" cy="474.3" r="0.55" fill="#2222ee"/><circle cx="53.39" cy="468.49" r="0.55" fill="#2222ee"/><circle cx="53.99" cy="468.64" r="0.55" fill="#2222ee"/><circle cx="60.13" cy="464.56" r="0.55" fill="#2222ee"/><circle cx="52.87" cy="470.22" r="0.55" fill="#2222ee"/><circle cx="56.05" cy="470.78" r="0.7" fill="#e02020"/><circle cx="60.76" cy="467.5" r="0.7" fill="#e02020"/><text x="41.74" y="459.33" font-size="8.8" font-weight="bold" text-anchor="middle">12</text><path d="M59.06 455.49A96.2 96.2 0 0 1 78.16 447.14L80.97 456.11A86.8 86.8 0 0 0 63.73 463.65Z" fill="none" stroke="#444" stroke-width="1.6"/><path d="M63.73 463.65A86.8 86.8 0 0 1 80.97 456.11L87.9 478.25A63.6 63.6 0 0 0 75.27 483.77Z" fill="none" stroke="#444" stroke-width="1.5"/><path d="M65.47 466.68A83.3 83.3 0 0 1 82.02 459.45" fill="none" stroke="#444" stroke-width="1.5"/><path d="M64.6 465.16A85.05 85.05 0 0 1 81.49 457.78" fill="none" stroke="#666" stroke-width="2.0" stroke-dasharray="0.8,0.8"/><path d="M70.7 475.79A72.8 72.8 0 0 1 85.15 469.47" fill="none" stroke="#444" stroke-width="1.7"/><path d="M67.96 471.02A78.3 78.3 0 0 1 83.51 464.23" fill="none" stroke="#444" stroke-width="1.4"/><circle cx="65.84" cy="460.63" r="0.55" fill="#2222ee"/><circle cx="76.9" cy="456.14" r="0.55" fill="#2222ee"/><circle cx="65.73" cy="461.27" r="0.55" fill="#2222ee"/><circle cx="68.03" cy="460.54" r="0.55" fill="#2222ee"/><circle cx="70.98" cy="461.86" r="0.7" fill="#111"/><text x="65" y="446.16" font-size="8.8" font-weight="bold" text-anchor="middle">13</text><path d="M80.06 446.57A96.2 96.2 0 0 1 99.17 443.06L99.92 452.43A86.8 86.8 0 0 0 82.68 455.6Z" fill="none" stroke="#444" stroke-width="1.6"/><path d="M82.68 455.6A86.8 86.8 0 0 1 99.92 452.43L101.79 475.56A63.6 63.6 0 0 0 89.15 477.88Z" fill="none" stroke="#444" stroke-width="1.5"/><path d="M83.66 458.96A83.3 83.3 0 0 1 100.21 455.92" fill="none" stroke="#444" stroke-width="1.5"/><path d="M83.17 457.28A85.05 85.05 0 0 1 100.07 454.18" fill="none" stroke="#666" stroke-width="2.0" stroke-dasharray="0.8,0.8"/><path d="M86.59 469.04A72.8 72.8 0 0 1 101.05 466.39" fill="none" stroke="#444" stroke-width="1.7"/><path d="M85.05 463.76A78.3 78.3 0 0 1 100.61 460.9" fill="none" stroke="#444" stroke-width="1.4"/><circle cx="88.32" cy="452.46" r="0.55" fill="#2222ee"/><circle cx="94.12" cy="451.9" r="0.55" fill="#2222ee"/><circle cx="99.15" cy="451.61" r="0.55" fill="#2222ee"/><circle cx="94.83" cy="452.28" r="0.55" fill="#2222ee"/><circle cx="86.46" cy="456.39" r="0.7" fill="#111"/><text x="88.15" y="439.97" font-size="8.8" font-weight="bold" text-anchor="middle">14</text><path d="M101.14 442.92A96.2 96.2 0 0 1 119.69 443.6L118.44 452.92A86.8 86.8 0 0 0 101.7 452.31Z" fill="none" stroke="#444" stroke-width="1.6"/><path d="M101.7 452.31A86.8 86.8 0 0 1 118.44 452.92L115.35 475.91A63.6 63.6 0 0 0 103.09 475.46Z" fill="none" stroke="#444" stroke-width="1.5"/><path d="M101.91 455.8A83.3 83.3 0 0 1 117.97 456.39" fill="none" stroke="#444" stroke-width="1.5"/><path d="M101.81 454.05A85.05 85.05 0 0 1 118.21 454.65" fill="none" stroke="#666" stroke-width="2.0" stroke-dasharray="0.8,0.8"/><path d="M102.54 466.28A72.8 72.8 0 0 1 116.58 466.8" fill="none" stroke="#444" stroke-width="1.7"/><path d="M102.21 460.79A78.3 78.3 0 0 1 117.31 461.34" fill="none" stroke="#444" stroke-width="1.4"/><circle cx="105.51" cy="450.65" r="0.55" fill="#2222ee"/><circle cx="111.76" cy="450.67" r="0.55" fill="#2222ee"/><circle cx="108.01" cy="451.15" r="0.55" fill="#2222ee"/><circle cx="106.9" cy="453.9" r="0.7" fill="#111"/><text x="110.69" y="438.99" font-size="8.8" font-weight="bold" text-anchor="middle">15</text><path d="M121.64 443.89A96.2 96.2 0 0 1 137.54 447.76L134.55 456.67A86.8 86.8 0 0 0 120.2 453.18Z" fill="none" stroke="#444" stroke-width="1.6"/><path d="M120.2 453.18A86.8 86.8 0 0 1 134.55 456.67L127.16 478.66A63.6 63.6 0 0 0 116.65 476.1Z" fill="none" stroke="#444" stroke-width="1.5"/><path d="M119.67 456.63A83.3 83.3 0 0 1 133.43 459.99" fill="none" stroke="#444" stroke-width="1.5"/><path d="M119.94 454.9A85.05 85.05 0 0 1 133.99 458.33" fill="none" stroke="#666" stroke-width="2.0" stroke-dasharray="0.8,0.8"/><path d="M118.06 467.01A72.8 72.8 0 0 1 130.09 469.94" fill="none" stroke="#444" stroke-width="1.7"/><path d="M118.9 461.58A78.3 78.3 0 0 1 131.84 464.73" fill="none" stroke="#444" stroke-width="1.4"/><circle cx="131.61" cy="454.22" r="0.55" fill="#2222ee"/><circle cx="127.6" cy="453.32" r="0.55" fill="#2222ee"/><circle cx="131.35" cy="454.64" r="0.55" fill="#2222ee"/><circle cx="125.85" cy="456.04" r="0.7" fill="#e02020"/><text x="131.53" y="440.99" font-size="8.8" font-weight="bold" text-anchor="middle">16</text><path d="M139.41 448.41A96.2 96.2 0 0 1 152.84 454.43L148.35 462.68A86.8 86.8 0 0 0 136.23 457.26Z" fill="none" stroke="#444" stroke-width="1.6"/><path d="M136.23 457.26A86.8 86.8 0 0 1 148.35 462.68L137.27 483.07A63.6 63.6 0 0 0 128.39 479.09Z" fill="none" stroke="#444" stroke-width="1.5"/><path d="M135.05 460.55A83.3 83.3 0 0 1 146.68 465.76" fill="none" stroke="#444" stroke-width="1.5"/><path d="M135.64 458.9A85.05 85.05 0 0 1 147.51 464.22" fill="none" stroke="#666" stroke-width="2.0" stroke-dasharray="0.8,0.8"/><path d="M131.5 470.43A72.8 72.8 0 0 1 141.66 474.99" fill="none" stroke="#444" stroke-width="1.7"/><path d="M133.36 465.26A78.3 78.3 0 0 1 144.29 470.15" fill="none" stroke="#444" stroke-width="1.4"/><circle cx="147.18" cy="460.32" r="0.55" fill="#2222ee"/><circle cx="146.52" cy="460.59" r="0.55" fill="#2222ee"/><circle cx="144.34" cy="458.94" r="0.55" fill="#2222ee"/><circle cx="140.39" cy="460.77" r="0.7" fill="#111"/><text x="149.71" y="446.52" font-size="8.8" font-weight="bold" text-anchor="middle">17</text><path d="M154.56 455.39A96.2 96.2 0 0 1 166.3 463.28L160.5 470.68A86.8 86.8 0 0 0 149.91 463.55Z" fill="none" stroke="#444" stroke-width="1.6"/><path d="M149.91 463.55A86.8 86.8 0 0 1 160.5 470.68L146.17 488.92A63.6 63.6 0 0 0 138.41 483.71Z" fill="none" stroke="#444" stroke-width="1.5"/><path d="M148.17 466.59A83.3 83.3 0 0 1 158.34 473.43" fill="none" stroke="#444" stroke-width="1.5"/><path d="M149.04 465.07A85.05 85.05 0 0 1 159.42 472.05" fill="none" stroke="#666" stroke-width="2.0" stroke-dasharray="0.8,0.8"/><path d="M142.97 475.71A72.8 72.8 0 0 1 151.85 481.69" fill="none" stroke="#444" stroke-width="1.7"/><path d="M145.69 470.94A78.3 78.3 0 0 1 155.25 477.36" fill="none" stroke="#444" stroke-width="1.4"/><circle cx="156.55" cy="466.2" r="0.55" fill="#2222ee"/><circle cx="160.32" cy="469.23" r="0.55" fill="#2222ee"/><circle cx="152.47" cy="467.14" r="0.7" fill="#111"/><text x="165.57" y="454.79" font-size="8.8" font-weight="bold" text-anchor="middle">18</text><path d="M167.85 464.52A96.2 96.2 0 0 1 175.74 471.76L169.02 478.32A86.8 86.8 0 0 0 161.89 471.79Z" fill="none" stroke="#444" stroke-width="1.6"/><path d="M161.89 471.79A86.8 86.8 0 0 1 169.02 478.32L152.41 494.53A63.6 63.6 0 0 0 147.19 489.74Z" fill="none" stroke="#444" stroke-width="1.5"/><path d="M159.68 474.5A83.3 83.3 0 0 1 166.51 480.77" fill="none" stroke="#444" stroke-width="1.5"/><path d="M160.78 473.15A85.05 85.05 0 0 1 167.77 479.55" fill="none" stroke="#666" stroke-width="2.0" stroke-dasharray="0.8,0.8"/><path d="M153.02 482.62A72.8 72.8 0 0 1 159 488.1" fill="none" stroke="#444" stroke-width="1.7"/><path d="M156.51 478.37A78.3 78.3 0 0 1 162.93 484.26" fill="none" stroke="#444" stroke-width="1.4"/><circle cx="169.05" cy="476.72" r="0.55" fill="#2222ee"/><circle cx="165.11" cy="472.49" r="0.55" fill="#2222ee"/><circle cx="166.27" cy="478.05" r="0.7" fill="#e02020"/><text x="178.14" y="464.32" font-size="8.8" font-weight="bold" text-anchor="middle">19</text><path d="M177.11 473.19A96.2 96.2 0 0 1 184.41 481.97L176.83 487.54A86.8 86.8 0 0 0 170.25 479.61Z" fill="none" stroke="#444" stroke-width="1.6"/><path d="M170.25 479.61A86.8 86.8 0 0 1 176.83 487.54L158.14 501.28A63.6 63.6 0 0 0 153.32 495.47Z" fill="none" stroke="#444" stroke-width="1.5"/><path d="M167.7 482.01A83.3 83.3 0 0 1 174.01 489.61" fill="none" stroke="#444" stroke-width="1.5"/><path d="M168.97 480.81A85.05 85.05 0 0 1 175.42 488.57" fill="none" stroke="#666" stroke-width="2.0" stroke-dasharray="0.8,0.8"/><path d="M160.03 489.18A72.8 72.8 0 0 1 165.55 495.83" fill="none" stroke="#444" stroke-width="1.7"/><path d="M164.05 485.42A78.3 78.3 0 0 1 169.99 492.57" fill="none" stroke="#444" stroke-width="1.4"/><circle cx="174.82" cy="483.91" r="0.55" fill="#2222ee"/><circle cx="174.35" cy="481.83" r="0.55" fill="#2222ee"/><circle cx="173.88" cy="486.54" r="0.7" fill="#e06010"/><text x="188.11" y="474.57" font-size="8.8" font-weight="bold" text-anchor="middle">20</text><path d="M185.56 483.57A96.2 96.2 0 0 1 190.25 490.92L182.11 495.62A86.8 86.8 0 0 0 177.88 488.98Z" fill="none" stroke="#444" stroke-width="1.6"/><path d="M177.88 488.98A86.8 86.8 0 0 1 182.11 495.62L162.01 507.2A63.6 63.6 0 0 0 158.91 502.34Z" fill="none" stroke="#444" stroke-width="1.5"/><path d="M175.01 491A83.3 83.3 0 0 1 179.08 497.36" fill="none" stroke="#444" stroke-width="1.5"/><path d="M176.45 489.99A85.05 85.05 0 0 1 180.59 496.49" fill="none" stroke="#666" stroke-width="2.0" stroke-dasharray="0.8,0.8"/><path d="M166.43 497.04A72.8 72.8 0 0 1 169.98 502.61" fill="none" stroke="#444" stroke-width="1.7"/><path d="M170.93 493.88A78.3 78.3 0 0 1 174.74 499.86" fill="none" stroke="#444" stroke-width="1.4"/><circle cx="180.56" cy="489.74" r="0.55" fill="#2222ee"/><circle cx="178.33" cy="492.78" r="0.7" fill="#e02020"/><text x="195.94" y="485.22" font-size="8.8" font-weight="bold" text-anchor="middle">21</text><path d="M191.22 492.65A96.2 96.2 0 0 1 195.3 501L186.66 504.71A86.8 86.8 0 0 0 182.98 497.17Z" fill="none" stroke="#444" stroke-width="1.6"/><path d="M182.98 497.17A86.8 86.8 0 0 1 186.66 504.71L165.34 513.86A63.6 63.6 0 0 0 162.65 508.34Z" fill="none" stroke="#444" stroke-width="1.5"/><path d="M179.92 498.86A83.3 83.3 0 0 1 183.45 506.09" fill="none" stroke="#444" stroke-width="1.5"/><path d="M181.45 498.01A85.05 85.05 0 0 1 185.05 505.4" fill="none" stroke="#666" stroke-width="2.0" stroke-dasharray="0.8,0.8"/><path d="M170.71 503.91A72.8 72.8 0 0 1 173.8 510.23" fill="none" stroke="#444" stroke-width="1.7"/><path d="M175.53 501.26A78.3 78.3 0 0 1 178.85 508.07" fill="none" stroke="#444" stroke-width="1.4"/><circle cx="186.02" cy="499.94" r="0.55" fill="#2222ee"/><circle cx="182.31" cy="499.61" r="0.7" fill="#e02020"/><text x="201.8" y="495.76" font-size="8.8" font-weight="bold" text-anchor="middle">22</text><path d="M196.06 502.83A96.2 96.2 0 0 1 202.69 530.1L193.33 530.96A86.8 86.8 0 0 0 187.35 506.36Z" fill="none" stroke="#444" stroke-width="1.6"/><path d="M187.35 506.36A86.8 86.8 0 0 1 193.33 530.96L170.23 533.1A63.6 63.6 0 0 0 165.85 515.07Z" fill="none" stroke="#444" stroke-width="1.5"/><path d="M184.11 507.67A83.3 83.3 0 0 1 189.85 531.28" fill="none" stroke="#444" stroke-width="1.5"/><path d="M185.73 507.02A85.05 85.05 0 0 1 191.59 531.12" fill="none" stroke="#666" stroke-width="2.0" stroke-dasharray="0.8,0.8"/><path d="M174.37 511.62A72.8 72.8 0 0 1 179.39 532.25" fill="none" stroke="#444" stroke-width="1.7"/><path d="M179.47 509.55A78.3 78.3 0 0 1 184.87 531.74" fill="none" stroke="#444" stroke-width="1.4"/><circle cx="192.55" cy="516.45" r="0.55" fill="#2222ee"/><circle cx="193.94" cy="525.62" r="0.55" fill="#2222ee"/><circle cx="193.99" cy="525.91" r="0.55" fill="#2222ee"/><circle cx="193.28" cy="523.34" r="0.55" fill="#2222ee"/><circle cx="190.2" cy="511.25" r="0.55" fill="#2222ee"/><circle cx="186.24" cy="508.3" r="0.7" fill="#109090"/><circle cx="190.63" cy="524.04" r="0.7" fill="#109090"/><text x="207.38" y="517.62" font-size="8.8" font-weight="bold" text-anchor="middle">X</text><rect x="171" y="532.95" width="31.6" height="3.4" fill="#5a5a5a"/><line x1="173.5" y1="537.75" x2="200.1" y2="537.75" stroke="#aaa" stroke-width="0.8" stroke-dasharray="1,1.2"/></g>
<g><path d="M300.25 588.12Q343 541.85 281.16 553.91" fill="none" stroke="#2a8f2a" stroke-width="0.6" stroke-opacity="0.55"/><path d="M392.25 581.14Q343 541.85 363.07 482.13" fill="none" stroke="#2a8f2a" stroke-width="0.6" stroke-opacity="0.55"/><path d="M396.03 575.86Q343 541.85 301.84 494.16" fill="none" stroke="#2a8f2a" stroke-width="0.6" stroke-opacity="0.55"/><path d="M363.41 482.25Q343 541.85 301.75 494.24" fill="none" stroke="#2a8f2a" stroke-width="0.6" stroke-opacity="0.55"/><path d="M384.64 494.57Q343 541.85 368.93 484.43" fill="none" stroke="#2a8f2a" stroke-width="0.6" stroke-opacity="0.55"/><path d="M380.85 491.49Q343 541.85 405.66 548.4" fill="none" stroke="#2a8f2a" stroke-width="0.6" stroke-opacity="0.55"/><path d="M303.08 493.11Q343 541.85 405.89 545.51" fill="none" stroke="#2a8f2a" stroke-width="0.6" stroke-opacity="0.55"/><path d="M330.25 480.15Q343 541.85 280 542.49" fill="none" stroke="#2a8f2a" stroke-width="0.6" stroke-opacity="0.55"/><path d="M394.45 578.21Q343 541.85 284.51 518.44" fill="none" stroke="#2a8f2a" stroke-width="0.6" stroke-opacity="0.55"/><path d="M283.7 520.59Q343 541.85 302.99 493.19" fill="none" stroke="#2a8f2a" stroke-width="0.6" stroke-opacity="0.55"/><path d="M363.09 482.14Q343 541.85 376.82 488.7" fill="none" stroke="#2a8f2a" stroke-width="0.6" stroke-opacity="0.55"/><path d="M283.9 520.02Q343 541.85 392.88 580.34" fill="none" stroke="#2a8f2a" stroke-width="0.6" stroke-opacity="0.55"/><path d="M378.54 489.83Q343 541.85 402.74 521.84" fill="none" stroke="#2a8f2a" stroke-width="0.6" stroke-opacity="0.55"/><path d="M281.03 553.18Q343 541.85 300.52 495.33" fill="none" stroke="#2a8f2a" stroke-width="0.6" stroke-opacity="0.55"/><path d="M404.67 528.98Q343 541.85 301.29 589.07" fill="none" stroke="#2a8f2a" stroke-width="0.6" stroke-opacity="0.55"/><path d="M366.78 483.51Q343 541.85 387.06 586.88" fill="none" stroke="#2a8f2a" stroke-width="0.6" stroke-opacity="0.55"/><path d="M280.12 545.77Q343 541.85 405.3 532.5" fill="none" stroke="#2a8f2a" stroke-width="0.6" stroke-opacity="0.55"/><path d="M368.35 484.18Q343 541.85 385.35 588.49" fill="none" stroke="#2a8f2a" stroke-width="0.6" stroke-opacity="0.55"/><path d="M299.27 587.2Q343 541.85 383.13 493.28" fill="none" stroke="#2a8f2a" stroke-width="0.6" stroke-opacity="0.55"/><path d="M367.35 483.75Q343 541.85 348.92 604.57" fill="none" stroke="#2a8f2a" stroke-width="0.6" stroke-opacity="0.55"/><path d="M405.31 551.13Q343 541.85 340.97 604.82" fill="none" stroke="#2a8f2a" stroke-width="0.6" stroke-opacity="0.55"/><path d="M404.63 528.79Q343 541.85 343.53 604.85" fill="none" stroke="#2a8f2a" stroke-width="0.6" stroke-opacity="0.55"/><path d="M295.25 582.94Q343 541.85 405.7 547.95" fill="none" stroke="#2a8f2a" stroke-width="0.6" stroke-opacity="0.55"/><path d="M379.96 490.83Q343 541.85 364.74 482.72" fill="none" stroke="#2a8f2a" stroke-width="0.6" stroke-opacity="0.55"/><path d="M347.13 604.71Q343 541.85 280.16 546.29" fill="none" stroke="#2a8f2a" stroke-width="0.6" stroke-opacity="0.55"/><path d="M402.32 520.64Q343 541.85 366.62 483.44" fill="none" stroke="#2a8f2a" stroke-width="0.6" stroke-opacity="0.55"/><path d="M345.17 604.81Q343 541.85 280.27 536.05" fill="none" stroke="#2a8f2a" stroke-width="0.6" stroke-opacity="0.55"/><path d="M341.13 604.82Q343 541.85 331.48 479.91" fill="none" stroke="#2a8f2a" stroke-width="0.6" stroke-opacity="0.55"/><path d="M326.91 480.94Q343 541.85 299.33 496.44" fill="none" stroke="#2a8f2a" stroke-width="0.6" stroke-opacity="0.55"/><path d="M299.87 495.92Q343 541.85 284.13 519.43" fill="none" stroke="#2a8f2a" stroke-width="0.6" stroke-opacity="0.55"/><path d="M377.45 489.11Q343 541.85 281.36 554.86" fill="none" stroke="#2a8f2a" stroke-width="0.6" stroke-opacity="0.55"/><path d="M328.78 480.48Q343 541.85 389.68 584.16" fill="none" stroke="#2a8f2a" stroke-width="0.6" stroke-opacity="0.55"/><path d="M280.47 534.17Q343 541.85 388.48 585.45" fill="none" stroke="#2a8f2a" stroke-width="0.6" stroke-opacity="0.55"/><path d="M404.84 553.87Q343 541.85 404.83 529.74" fill="none" stroke="#2a8f2a" stroke-width="0.6" stroke-opacity="0.55"/><path d="M283.77 520.38Q343 541.85 391.83 581.65" fill="none" stroke="#2a8f2a" stroke-width="0.6" stroke-opacity="0.55"/><path d="M368.97 484.45Q343 541.85 401.76 519.14" fill="none" stroke="#2a8f2a" stroke-width="0.6" stroke-opacity="0.55"/><path d="M367.01 483.61Q343 541.85 298.7 497.05" fill="none" stroke="#2a8f2a" stroke-width="0.6" stroke-opacity="0.55"/><path d="M375.66 487.98Q343 541.85 405.44 550.26" fill="none" stroke="#2a8f2a" stroke-width="0.6" stroke-opacity="0.55"/><path d="M384.26 589.46Q343 541.85 368.76 484.36" fill="none" stroke="#2a8f2a" stroke-width="0.6" stroke-opacity="0.55"/><path d="M368.77 484.36Q343 541.85 299.06 496.7" fill="none" stroke="#2a8f2a" stroke-width="0.6" stroke-opacity="0.55"/><path d="M350.4 604.41Q343 541.85 299.48 587.4" fill="none" stroke="#2a8f2a" stroke-width="0.6" stroke-opacity="0.55"/><path d="M372.51 486.19Q343 541.85 403.72 525.04" fill="none" stroke="#2a8f2a" stroke-width="0.6" stroke-opacity="0.55"/><path d="M401.89 519.48Q343 541.85 362.21 601.85" fill="none" stroke="#2a8f2a" stroke-width="0.6" stroke-opacity="0.55"/><path d="M299.44 587.36Q343 541.85 348.24 604.63" fill="none" stroke="#2a8f2a" stroke-width="0.6" stroke-opacity="0.55"/><path d="M394.17 578.61Q343 541.85 404.73 554.43" fill="none" stroke="#2a8f2a" stroke-width="0.6" stroke-opacity="0.55"/><path d="M297.47 585.39Q343 541.85 280.38 534.96" fill="none" stroke="#2a8f2a" stroke-width="0.6" stroke-opacity="0.55"/><path d="M383.82 589.84Q343 541.85 344.11 604.84" fill="none" stroke="#2a8f2a" stroke-width="0.6" stroke-opacity="0.55"/><path d="M356.03 603.49Q343 541.85 394.6 577.99" fill="none" stroke="#2a8f2a" stroke-width="0.6" stroke-opacity="0.55"/><path d="M348.28 479.07Q343 541.85 354.52 479.91" fill="none" stroke="#e08080" stroke-width="0.6" stroke-opacity="0.35"/><path d="M299.69 496.1Q343 541.85 304.97 491.62" fill="none" stroke="#6070e0" stroke-width="0.6" stroke-opacity="0.35"/><path d="M361.38 481.59Q343 541.85 369.32 484.61" fill="none" stroke="#6070e0" stroke-width="0.6" stroke-opacity="0.35"/><path d="M363.33 601.48Q343 541.85 357.58 603.14" fill="none" stroke="#e06060" stroke-width="0.6" stroke-opacity="0.35"/><path d="M405.43 533.41Q343 541.85 406 541.66" fill="none" stroke="#7080e0" stroke-width="0.6" stroke-opacity="0.35"/><path d="M340.51 604.8Q343 541.85 333.02 604.05" fill="none" stroke="#e08080" stroke-width="0.6" stroke-opacity="0.35"/><path d="M284.1 564.21Q343 541.85 281.43 555.19" fill="none" stroke="#e08080" stroke-width="0.6" stroke-opacity="0.35"/><path d="M402.19 520.28Q343 541.85 403.72 525.05" fill="none" stroke="#6070e0" stroke-width="0.6" stroke-opacity="0.35"/><path d="M393.73 579.21Q343 541.85 390.07 583.73" fill="none" stroke="#e08080" stroke-width="0.6" stroke-opacity="0.35"/><path d="M361.67 602.02Q343 541.85 354.89 603.72" fill="none" stroke="#e06060" stroke-width="0.6" stroke-opacity="0.35"/><path d="M280.83 552.04Q343 541.85 280.07 544.86" fill="none" stroke="#e06060" stroke-width="0.6" stroke-opacity="0.35"/><path d="M371.73 485.78Q343 541.85 374.48 487.28" fill="none" stroke="#7080e0" stroke-width="0.6" stroke-opacity="0.35"/><path d="M352.31 479.54Q343 541.85 360.1 481.22" fill="none" stroke="#7080e0" stroke-width="0.6" stroke-opacity="0.35"/><path d="M388.69 498.47Q343 541.85 392.32 502.65" fill="none" stroke="#e08080" stroke-width="0.6" stroke-opacity="0.35"/><path d="M397.07 574.19Q343 541.85 391.61 581.93" fill="none" stroke="#7080e0" stroke-width="0.6" stroke-opacity="0.35"/><path d="M282.18 558.28Q343 541.85 280.6 550.52" fill="none" stroke="#e06060" stroke-width="0.6" stroke-opacity="0.35"/><path d="M329.93 480.22Q343 541.85 333.38 479.59" fill="none" stroke="#6070e0" stroke-width="0.6" stroke-opacity="0.35"/><path d="M405.08 552.58Q343 541.85 403.58 559.15" fill="none" stroke="#7080e0" stroke-width="0.6" stroke-opacity="0.35"/><path d="M361.54 481.64Q343 541.85 364.69 482.7" fill="none" stroke="#7080e0" stroke-width="0.6" stroke-opacity="0.35"/><path d="M305.96 490.89Q343 541.85 310.03 488.17" fill="none" stroke="#6070e0" stroke-width="0.6" stroke-opacity="0.35"/><path d="M405.44 550.2Q343 541.85 403.79 558.38" fill="none" stroke="#e06060" stroke-width="0.6" stroke-opacity="0.35"/><path d="M280.53 533.67Q343 541.85 282.44 524.49" fill="none" stroke="#7080e0" stroke-width="0.6" stroke-opacity="0.35"/><path d="M405.26 532.22Q343 541.85 405.72 535.89" fill="none" stroke="#6070e0" stroke-width="0.6" stroke-opacity="0.35"/><path d="M405.05 552.75Q343 541.85 404.27 556.51" fill="none" stroke="#6070e0" stroke-width="0.6" stroke-opacity="0.35"/><path d="M345.06 478.88Q343 541.85 349.75 479.21" fill="none" stroke="#7080e0" stroke-width="0.6" stroke-opacity="0.35"/><path d="M371.58 485.7Q343 541.85 373.93 486.96" fill="none" stroke="#e08080" stroke-width="0.6" stroke-opacity="0.35"/><path d="M390.96 501Q343 541.85 395.36 506.82" fill="none" stroke="#7080e0" stroke-width="0.6" stroke-opacity="0.35"/><path d="M369.09 484.51Q343 541.85 376.95 488.78" fill="none" stroke="#6070e0" stroke-width="0.6" stroke-opacity="0.35"/><path d="M280.83 531.64Q343 541.85 282.15 525.55" fill="none" stroke="#e06060" stroke-width="0.6" stroke-opacity="0.35"/><path d="M384.1 494.1Q343 541.85 389.93 499.82" fill="none" stroke="#e06060" stroke-width="0.6" stroke-opacity="0.35"/><path d="M349.88 479.23Q343 541.85 353.2 479.68" fill="none" stroke="#6070e0" stroke-width="0.6" stroke-opacity="0.35"/><path d="M281.25 554.34Q343 541.85 280.18 546.64" fill="none" stroke="#e06060" stroke-width="0.6" stroke-opacity="0.35"/><path d="M315.33 598.45Q343 541.85 309.92 595.46" fill="none" stroke="#7080e0" stroke-width="0.6" stroke-opacity="0.35"/><path d="M353.07 479.66Q343 541.85 356.04 480.21" fill="none" stroke="#e06060" stroke-width="0.6" stroke-opacity="0.35"/><path d="M280.81 551.92Q335.55 531.54 372.09 485.97" fill="none" stroke="#0b7a0b" stroke-width="2" stroke-opacity="1"/><path d="M294.88 582.51Q343 541.85 288.55 573.54" fill="none" stroke="#7a1838" stroke-width="0.7" stroke-opacity="0.7"/><path d="M296.33 584.17Q343 541.85 287.48 571.62" fill="none" stroke="#333333" stroke-width="0.7" stroke-opacity="0.7"/><path d="M297.83 585.77Q343 541.85 286.47 569.66" fill="none" stroke="#3a3aaa" stroke-width="0.7" stroke-opacity="0.7"/><path d="M299.39 587.32Q343 541.85 285.54 567.68" fill="none" stroke="#7a1838" stroke-width="0.7" stroke-opacity="0.7"/><path d="M301.01 588.81Q343 541.85 284.67 565.65" fill="none" stroke="#2a7a2a" stroke-width="0.7" stroke-opacity="0.7"/><path d="M302.67 590.25Q343 541.85 283.87 563.6" fill="none" stroke="#3a3aaa" stroke-width="0.7" stroke-opacity="0.7"/><path d="M304.39 591.63Q343 541.85 283.15 561.53" fill="none" stroke="#333333" stroke-width="0.7" stroke-opacity="0.7"/><path d="M367.11 600.05Q343 541.85 357.17 603.24" fill="none" stroke="#222244" stroke-width="1.1" stroke-opacity="0.9"/><path d="M366.29 600.39Q343 541.85 358.24 602.98" fill="none" stroke="#7a1838" stroke-width="1" stroke-opacity="0.9"/><path d="M365.58 600.67Q343 541.85 359.31 602.7" fill="none" stroke="#2a2a9a" stroke-width="0.9" stroke-opacity="0.8"/><path d="M379.14 593.46Q343 541.85 369.62 598.95" fill="none" stroke="#d05070" stroke-width="0.7" stroke-opacity="0.8"/><path d="M377.77 594.38Q343 541.85 371.11 598.23" fill="none" stroke="#e08090" stroke-width="0.6" stroke-opacity="0.6"/><path d="M387.55 586.4Q343 541.85 378.68 593.77" fill="none" stroke="#1a3a1a" stroke-width="1.1" stroke-opacity="0.9"/><path d="M386.37 587.55Q343 541.85 380.03 592.82" fill="none" stroke="#5a3a1a" stroke-width="0.8" stroke-opacity="0.8"/><path d="M402.2 563.4Q343 541.85 398.63 571.43" fill="none" stroke="#555555" stroke-width="0.8" stroke-opacity="0.8"/><path d="M348.49 604.61Q343 541.85 335.32 604.38" fill="none" stroke="#666666" stroke-width="0.9" stroke-opacity="0.8"/><path d="M292.03 578.88Q343 541.85 345.2 604.81" fill="none" stroke="#777777" stroke-width="0.9" stroke-opacity="0.8"/><path d="M313.42 597.48Q343 541.85 332.06 603.89" fill="none" stroke="#2a8f2a" stroke-width="0.9" stroke-opacity="0.8"/><path d="M370.62 485.23Q343 541.85 364.55 482.65" fill="none" stroke="#5a1a1a" stroke-width="1" stroke-opacity="0.9"/><path d="M371.6 485.72Q343 541.85 363.51 482.28" fill="none" stroke="#1a5a1a" stroke-width="1" stroke-opacity="0.9"/><path d="M439.19 543.36A96.2 96.2 0 0 1 428.08 586.74L419.77 582.36A86.8 86.8 0 0 0 429.79 543.21Z" fill="none" stroke="#444" stroke-width="1.6"/><path d="M429.79 543.21A86.8 86.8 0 0 1 419.77 582.36L399.25 571.53A63.6 63.6 0 0 0 406.59 542.85Z" fill="none" stroke="#444" stroke-width="1.5"/><path d="M426.29 543.16A83.3 83.3 0 0 1 416.67 580.72" fill="none" stroke="#444" stroke-width="1.5"/><path d="M428.04 543.18A85.05 85.05 0 0 1 418.22 581.54" fill="none" stroke="#666" stroke-width="2.0" stroke-dasharray="0.8,0.8"/><path d="M415.79 542.99A72.8 72.8 0 0 1 407.39 575.82" fill="none" stroke="#444" stroke-width="2.1"/><path d="M415.79 542.99A72.8 72.8 0 0 1 407.39 575.82" fill="none" stroke="#bbb" stroke-width="0.7" stroke-dasharray="0.7,0.9"/><circle cx="422.33" cy="581.16" r="0.55" fill="#2222ee"/><circle cx="430.41" cy="545.95" r="0.55" fill="#2222ee"/><circle cx="424.15" cy="576.61" r="0.55" fill="#2222ee"/><circle cx="426.07" cy="570.17" r="0.55" fill="#2222ee"/><circle cx="427.21" cy="567.83" r="0.55" fill="#2222ee"/><circle cx="426.98" cy="566.72" r="0.55" fill="#2222ee"/><circle cx="428.78" cy="560.92" r="0.55" fill="#2222ee"/><circle cx="426.13" cy="572.48" r="0.55" fill="#2222ee"/><circle cx="422.02" cy="580.71" r="0.55" fill="#2222ee"/><circle cx="428.51" cy="561.44" r="0.55" fill="#2222ee"/><circle cx="430.37" cy="545.12" r="0.55" fill="#2222ee"/><circle cx="428.38" cy="562.24" r="0.55" fill="#2222ee"/><circle cx="429.79" cy="559.03" r="0.55" fill="#2222ee"/><circle cx="428.06" cy="564.7" r="0.55" fill="#2222ee"/><circle cx="429.7" cy="553.13" r="0.55" fill="#2222ee"/><circle cx="429.3" cy="556.69" r="0.55" fill="#2222ee"/><circle cx="428.73" cy="564.22" r="0.55" fill="#2222ee"/><circle cx="425.87" cy="570.3" r="0.55" fill="#2222ee"/><circle cx="423.26" cy="578.79" r="0.55" fill="#2222ee"/><circle cx="425.87" cy="572.88" r="0.55" fill="#2222ee"/><circle cx="425.33" cy="573.91" r="0.55" fill="#2222ee"/><circle cx="430.09" cy="558.01" r="0.55" fill="#2222ee"/><circle cx="421.38" cy="580.95" r="0.55" fill="#2222ee"/><circle cx="425.37" cy="573.54" r="0.55" fill="#2222ee"/><circle cx="428.66" cy="562.17" r="0.55" fill="#2222ee"/><circle cx="428.84" cy="563.41" r="0.55" fill="#2222ee"/><circle cx="428.63" cy="563.8" r="0.55" fill="#2222ee"/><circle cx="429.97" cy="557.99" r="0.55" fill="#2222ee"/><circle cx="422.79" cy="578.85" r="0.55" fill="#2222ee"/><circle cx="424.71" cy="565.45" r="0.7" fill="#111"/><circle cx="422.84" cy="571.16" r="0.7" fill="#e02020"/><circle cx="423.67" cy="568.8" r="0.7" fill="#109090"/><circle cx="421.57" cy="574.42" r="0.7" fill="#e06010"/><path d="M420.59 543.07A77.6 77.6 0 0 1 411.63 578.06" fill="none" stroke="#7a1a6a" stroke-width="1.4"/><circle cx="421.4" cy="566.45" r="0.5" fill="#2a2af0"/><circle cx="422.34" cy="561.37" r="0.5" fill="#2a2af0"/><circle cx="419.12" cy="572.97" r="0.5" fill="#2a2af0"/><circle cx="421.74" cy="564.42" r="0.5" fill="#2a2af0"/><circle cx="421.06" cy="566.32" r="0.5" fill="#2a2af0"/><circle cx="419.73" cy="570.44" r="0.5" fill="#2a2af0"/><circle cx="423.62" cy="557.3" r="0.5" fill="#2a2af0"/><circle cx="417.84" cy="575.82" r="0.5" fill="#2a2af0"/><circle cx="423.13" cy="556.25" r="0.5" fill="#2a2af0"/><circle cx="403.35" cy="567.03" r="0.55" fill="#2a2af0"/><circle cx="407.65" cy="546.36" r="0.55" fill="#2a2af0"/><circle cx="407.77" cy="544.66" r="0.55" fill="#2a2af0"/><circle cx="404.67" cy="563.28" r="0.55" fill="#2a2af0"/><circle cx="402.91" cy="564.91" r="0.55" fill="#2a2af0"/><circle cx="407.49" cy="551.14" r="0.55" fill="#2a2af0"/><circle cx="400.58" cy="569.98" r="0.55" fill="#2a2af0"/><circle cx="402.05" cy="569.17" r="0.55" fill="#2a2af0"/><circle cx="407.43" cy="544.88" r="0.55" fill="#2a2af0"/><circle cx="406.45" cy="550.5" r="0.55" fill="#2a2af0"/><circle cx="406.92" cy="546.58" r="0.55" fill="#2a2af0"/><circle cx="408.23" cy="544.44" r="0.55" fill="#2a2af0"/><circle cx="406" cy="554.12" r="0.55" fill="#2a2af0"/><circle cx="401.53" cy="570.19" r="0.55" fill="#2a2af0"/><circle cx="404.83" cy="558.38" r="0.55" fill="#2a2af0"/><circle cx="405.36" cy="560.57" r="0.55" fill="#2a2af0"/><circle cx="407.77" cy="550.63" r="0.55" fill="#2a2af0"/><circle cx="408.3" cy="543.34" r="0.55" fill="#2a2af0"/><text x="442.74" y="570.48" font-size="8.8" font-weight="bold" text-anchor="middle">1</text><path d="M427.14 588.48A96.2 96.2 0 0 1 397.82 620.9L392.46 613.18A86.8 86.8 0 0 0 418.92 583.93Z" fill="none" stroke="#444" stroke-width="1.6"/><path d="M418.92 583.93A86.8 86.8 0 0 1 392.46 613.18L379.24 594.11A63.6 63.6 0 0 0 398.63 572.68Z" fill="none" stroke="#444" stroke-width="1.5"/><path d="M415.86 582.23A83.3 83.3 0 0 1 390.47 610.3" fill="none" stroke="#444" stroke-width="1.5"/><path d="M417.39 583.08A85.05 85.05 0 0 1 391.46 611.74" fill="none" stroke="#666" stroke-width="2.0" stroke-dasharray="0.8,0.8"/><path d="M406.67 577.14A72.8 72.8 0 0 1 384.48 601.67" fill="none" stroke="#444" stroke-width="2.1"/><path d="M406.67 577.14A72.8 72.8 0 0 1 384.48 601.67" fill="none" stroke="#bbb" stroke-width="0.7" stroke-dasharray="0.7,0.9"/><circle cx="404.99" cy="604.73" r="0.55" fill="#2222ee"/><circle cx="413.6" cy="594.36" r="0.55" fill="#2222ee"/><circle cx="413.13" cy="595.11" r="0.55" fill="#2222ee"/><circle cx="405.03" cy="603.5" r="0.55" fill="#2222ee"/><circle cx="414.03" cy="593.59" r="0.55" fill="#2222ee"/><circle cx="404.66" cy="604.05" r="0.55" fill="#2222ee"/><circle cx="394.56" cy="612.56" r="0.55" fill="#2222ee"/><circle cx="403.36" cy="606.44" r="0.55" fill="#2222ee"/><circle cx="419.57" cy="585.91" r="0.55" fill="#2222ee"/><circle cx="395.2" cy="612.73" r="0.55" fill="#2222ee"/><circle cx="400.33" cy="608.6" r="0.55" fill="#2222ee"/><circle cx="412.97" cy="595.96" r="0.55" fill="#2222ee"/><circle cx="412.07" cy="595.91" r="0.55" fill="#2222ee"/><circle cx="394.57" cy="613.38" r="0.55" fill="#2222ee"/><circle cx="403.11" cy="606.87" r="0.55" fill="#2222ee"/><circle cx="403.36" cy="605.47" r="0.55" fill="#2222ee"/><circle cx="416.74" cy="589.15" r="0.55" fill="#2222ee"/><circle cx="409.24" cy="599.29" r="0.55" fill="#2222ee"/><circle cx="396.34" cy="612.16" r="0.55" fill="#2222ee"/><circle cx="418.87" cy="585.83" r="0.55" fill="#2222ee"/><circle cx="401.97" cy="606.47" r="0.55" fill="#2222ee"/><circle cx="417.87" cy="587.48" r="0.55" fill="#2222ee"/><circle cx="400.12" cy="608.99" r="0.55" fill="#2222ee"/><circle cx="412.01" cy="596.81" r="0.55" fill="#2222ee"/><circle cx="414.03" cy="594.31" r="0.55" fill="#2222ee"/><circle cx="416.54" cy="589.93" r="0.55" fill="#2222ee"/><circle cx="416.47" cy="590.31" r="0.55" fill="#2222ee"/><circle cx="417.59" cy="587.65" r="0.55" fill="#2222ee"/><circle cx="416.66" cy="584.37" r="0.7" fill="#e06010"/><circle cx="415" cy="587.11" r="0.7" fill="#e02020"/><circle cx="405.55" cy="599.48" r="0.7" fill="#e02020"/><path d="M410.87 579.47A77.6 77.6 0 0 1 387.22 605.62" fill="none" stroke="#7a1a6a" stroke-width="1.4"/><path d="M401.49 594.5A78.7 78.7 0 0 1 396.02 600.01" fill="none" stroke="#6a18b0" stroke-width="2.4"/><circle cx="399.17" cy="601.81" r="0.5" fill="#2a2af0"/><circle cx="410.59" cy="588.64" r="0.5" fill="#2a2af0"/><circle cx="405.17" cy="594.42" r="0.5" fill="#2a2af0"/><circle cx="401.71" cy="599.49" r="0.5" fill="#2a2af0"/><circle cx="392.18" cy="607.44" r="0.5" fill="#2a2af0"/><circle cx="392.47" cy="607.32" r="0.5" fill="#2a2af0"/><circle cx="403.88" cy="595.92" r="0.5" fill="#2a2af0"/><circle cx="390.97" cy="607.76" r="0.5" fill="#2a2af0"/><circle cx="407.06" cy="593.18" r="0.5" fill="#2a2af0"/><circle cx="381.57" cy="593.46" r="0.55" fill="#2a2af0"/><circle cx="382.99" cy="592.55" r="0.55" fill="#2a2af0"/><circle cx="397.52" cy="575.9" r="0.55" fill="#2a2af0"/><circle cx="385.58" cy="591.17" r="0.55" fill="#2a2af0"/><circle cx="384.07" cy="591.04" r="0.55" fill="#2a2af0"/><circle cx="388.19" cy="588.08" r="0.55" fill="#2a2af0"/><circle cx="382.82" cy="593.05" r="0.55" fill="#2a2af0"/><circle cx="398.77" cy="573.32" r="0.55" fill="#2a2af0"/><circle cx="394.82" cy="581.11" r="0.55" fill="#2a2af0"/><circle cx="396.04" cy="578.88" r="0.55" fill="#2a2af0"/><circle cx="397.56" cy="576.3" r="0.55" fill="#2a2af0"/><circle cx="386.23" cy="589.31" r="0.55" fill="#2a2af0"/><circle cx="394.31" cy="582.15" r="0.55" fill="#2a2af0"/><circle cx="395.04" cy="579.41" r="0.55" fill="#2a2af0"/><circle cx="388.49" cy="587.53" r="0.55" fill="#2a2af0"/><circle cx="392.73" cy="582.6" r="0.55" fill="#2a2af0"/><circle cx="398.01" cy="576.22" r="0.55" fill="#2a2af0"/><circle cx="391.08" cy="584.19" r="0.55" fill="#2a2af0"/><text x="419.93" y="614.53" font-size="8.8" font-weight="bold" text-anchor="middle">2</text><path d="M396.18 622.01A96.2 96.2 0 0 1 363.29 635.89L361.31 626.7A86.8 86.8 0 0 0 390.98 614.18Z" fill="none" stroke="#444" stroke-width="1.6"/><path d="M390.98 614.18A86.8 86.8 0 0 1 361.31 626.7L356.41 604.02A63.6 63.6 0 0 0 378.16 594.85Z" fill="none" stroke="#444" stroke-width="1.5"/><path d="M389.05 611.26A83.3 83.3 0 0 1 360.57 623.28" fill="none" stroke="#444" stroke-width="1.5"/><path d="M390.02 612.72A85.05 85.05 0 0 1 360.94 624.99" fill="none" stroke="#666" stroke-width="2.0" stroke-dasharray="0.8,0.8"/><path d="M383.24 602.51A72.8 72.8 0 0 1 358.36 613.01" fill="none" stroke="#444" stroke-width="2.1"/><path d="M383.24 602.51A72.8 72.8 0 0 1 358.36 613.01" fill="none" stroke="#bbb" stroke-width="0.7" stroke-dasharray="0.7,0.9"/><circle cx="370.98" cy="625.02" r="0.55" fill="#2222ee"/><circle cx="363.17" cy="627.07" r="0.55" fill="#2222ee"/><circle cx="380.83" cy="621.28" r="0.55" fill="#2222ee"/><circle cx="366.24" cy="627" r="0.55" fill="#2222ee"/><circle cx="370.36" cy="625.39" r="0.55" fill="#2222ee"/><circle cx="377.51" cy="623.03" r="0.55" fill="#2222ee"/><circle cx="380.1" cy="621.19" r="0.55" fill="#2222ee"/><circle cx="374.36" cy="624.14" r="0.55" fill="#2222ee"/><circle cx="371.44" cy="625.38" r="0.55" fill="#2222ee"/><circle cx="389.13" cy="617.11" r="0.55" fill="#2222ee"/><circle cx="374.77" cy="623.36" r="0.55" fill="#2222ee"/><circle cx="386.49" cy="618.41" r="0.55" fill="#2222ee"/><circle cx="368.13" cy="626.68" r="0.55" fill="#2222ee"/><circle cx="368.37" cy="626.63" r="0.55" fill="#2222ee"/><circle cx="371.92" cy="625.36" r="0.55" fill="#2222ee"/><circle cx="390.56" cy="616.57" r="0.55" fill="#2222ee"/><circle cx="380.49" cy="621.74" r="0.55" fill="#2222ee"/><circle cx="365.52" cy="626.71" r="0.55" fill="#2222ee"/><circle cx="386.44" cy="618.09" r="0.55" fill="#2222ee"/><circle cx="387.32" cy="618.55" r="0.55" fill="#2222ee"/><circle cx="362.96" cy="627.46" r="0.55" fill="#2222ee"/><circle cx="382.03" cy="620.38" r="0.55" fill="#2222ee"/><circle cx="376.63" cy="622.74" r="0.55" fill="#2222ee"/><circle cx="385.33" cy="615.62" r="0.7" fill="#e06010"/><circle cx="378.7" cy="619.04" r="0.7" fill="#109090"/><circle cx="368.01" cy="623.14" r="0.7" fill="#111"/><path d="M385.9 606.51A77.6 77.6 0 0 1 359.37 617.7" fill="none" stroke="#7a1a6a" stroke-width="1.4"/><circle cx="375.83" cy="617.12" r="0.5" fill="#2a2af0"/><circle cx="366.13" cy="620.29" r="0.5" fill="#2a2af0"/><circle cx="368.2" cy="619.66" r="0.5" fill="#2a2af0"/><circle cx="386.46" cy="611" r="0.5" fill="#2a2af0"/><circle cx="381.54" cy="614.38" r="0.5" fill="#2a2af0"/><circle cx="377.28" cy="616.39" r="0.5" fill="#2a2af0"/><circle cx="378.64" cy="615.64" r="0.5" fill="#2a2af0"/><circle cx="363.64" cy="603.78" r="0.55" fill="#2a2af0"/><circle cx="377.11" cy="597.36" r="0.55" fill="#2a2af0"/><circle cx="363.2" cy="603.37" r="0.55" fill="#2a2af0"/><circle cx="374.93" cy="598.63" r="0.55" fill="#2a2af0"/><circle cx="370.89" cy="600.82" r="0.55" fill="#2a2af0"/><circle cx="358.85" cy="604.31" r="0.55" fill="#2a2af0"/><circle cx="367.85" cy="602.2" r="0.55" fill="#2a2af0"/><circle cx="368.69" cy="600.74" r="0.55" fill="#2a2af0"/><circle cx="376.54" cy="597.02" r="0.55" fill="#2a2af0"/><circle cx="374.18" cy="598.65" r="0.55" fill="#2a2af0"/><circle cx="370.42" cy="600.01" r="0.55" fill="#2a2af0"/><circle cx="357.57" cy="604.73" r="0.55" fill="#2a2af0"/><circle cx="367.05" cy="602.37" r="0.55" fill="#2a2af0"/><circle cx="373.21" cy="599.73" r="0.55" fill="#2a2af0"/><text x="383.28" y="640.46" font-size="8.8" font-weight="bold" text-anchor="middle">3</text><path d="M361.35 636.28A96.2 96.2 0 0 1 326.88 636.69L328.46 627.42A86.8 86.8 0 0 0 359.56 627.06Z" fill="none" stroke="#444" stroke-width="1.6"/><path d="M359.56 627.06A86.8 86.8 0 0 1 328.46 627.42L332.34 604.55A63.6 63.6 0 0 0 355.13 604.28Z" fill="none" stroke="#444" stroke-width="1.5"/><path d="M358.89 623.62A83.3 83.3 0 0 1 329.04 623.97" fill="none" stroke="#444" stroke-width="1.5"/><path d="M359.23 625.34A85.05 85.05 0 0 1 328.75 625.7" fill="none" stroke="#666" stroke-width="2.0" stroke-dasharray="0.8,0.8"/><path d="M356.89 613.31A72.8 72.8 0 0 1 330.8 613.62" fill="none" stroke="#444" stroke-width="2.1"/><path d="M356.89 613.31A72.8 72.8 0 0 1 330.8 613.62" fill="none" stroke="#bbb" stroke-width="0.7" stroke-dasharray="0.7,0.9"/><circle cx="341.57" cy="629.83" r="0.55" fill="#2222ee"/><circle cx="340.61" cy="629.23" r="0.55" fill="#2222ee"/><circle cx="338.54" cy="629.72" r="0.55" fill="#2222ee"/><circle cx="343.62" cy="629.46" r="0.55" fill="#2222ee"/><circle cx="337.46" cy="630.24" r="0.55" fill="#2222ee"/><circle cx="336.05" cy="629.39" r="0.55" fill="#2222ee"/><circle cx="331.58" cy="629.15" r="0.55" fill="#2222ee"/><circle cx="338.86" cy="629.23" r="0.55" fill="#2222ee"/><circle cx="341.21" cy="630.34" r="0.55" fill="#2222ee"/><circle cx="331.08" cy="628.99" r="0.55" fill="#2222ee"/><circle cx="332.45" cy="629.17" r="0.55" fill="#2222ee"/><circle cx="329.08" cy="628.88" r="0.55" fill="#2222ee"/><circle cx="348.75" cy="629.97" r="0.55" fill="#2222ee"/><circle cx="330.5" cy="629.56" r="0.55" fill="#2222ee"/><circle cx="351.57" cy="629.58" r="0.55" fill="#2222ee"/><circle cx="333.76" cy="629.63" r="0.55" fill="#2222ee"/><circle cx="357.7" cy="628.61" r="0.55" fill="#2222ee"/><circle cx="328.91" cy="628.93" r="0.55" fill="#2222ee"/><circle cx="354.57" cy="628.82" r="0.55" fill="#2222ee"/><circle cx="345.03" cy="629.23" r="0.55" fill="#2222ee"/><circle cx="358.38" cy="628.92" r="0.55" fill="#2222ee"/><circle cx="342.06" cy="629.49" r="0.55" fill="#2222ee"/><circle cx="338.86" cy="626.8" r="0.7" fill="#e02020"/><circle cx="339.66" cy="626.83" r="0.7" fill="#e02020"/><circle cx="338.48" cy="626.78" r="0.7" fill="#109090"/><path d="M357.8 618.02A77.6 77.6 0 0 1 330 618.35" fill="none" stroke="#7a1a6a" stroke-width="1.4"/><path d="M337 620.32A78.7 78.7 0 0 1 330.01 619.47" fill="none" stroke="#6a18b0" stroke-width="2.4"/><circle cx="339.76" cy="623.98" r="0.5" fill="#2a2af0"/><circle cx="339.58" cy="623.57" r="0.5" fill="#2a2af0"/><circle cx="334.27" cy="622.87" r="0.5" fill="#2a2af0"/><circle cx="340.15" cy="623.59" r="0.5" fill="#2a2af0"/><circle cx="343.09" cy="624.1" r="0.5" fill="#2a2af0"/><circle cx="335.43" cy="623.53" r="0.5" fill="#2a2af0"/><circle cx="349.44" cy="623.23" r="0.5" fill="#2a2af0"/><circle cx="344.71" cy="606.15" r="0.55" fill="#2a2af0"/><circle cx="348.85" cy="606.93" r="0.55" fill="#2a2af0"/><circle cx="352.58" cy="606.29" r="0.55" fill="#2a2af0"/><circle cx="346.49" cy="606.27" r="0.55" fill="#2a2af0"/><circle cx="347.83" cy="605.78" r="0.55" fill="#2a2af0"/><circle cx="344.72" cy="606.06" r="0.55" fill="#2a2af0"/><circle cx="345.07" cy="606.23" r="0.55" fill="#2a2af0"/><circle cx="334.78" cy="606.62" r="0.55" fill="#2a2af0"/><circle cx="345.08" cy="606.71" r="0.55" fill="#2a2af0"/><circle cx="334.1" cy="605.69" r="0.55" fill="#2a2af0"/><circle cx="352.73" cy="605.44" r="0.55" fill="#2a2af0"/><circle cx="350.8" cy="606.33" r="0.55" fill="#2a2af0"/><circle cx="346.61" cy="606.25" r="0.55" fill="#2a2af0"/><circle cx="337.13" cy="605.91" r="0.55" fill="#2a2af0"/><text x="344.22" y="647.92" font-size="8.8" font-weight="bold" text-anchor="middle">4</text><path d="M324.93 636.34A96.2 96.2 0 0 1 294.38 624.86L299.13 616.75A86.8 86.8 0 0 0 326.7 627.11Z" fill="none" stroke="#444" stroke-width="1.6"/><path d="M326.7 627.11A86.8 86.8 0 0 1 299.13 616.75L310.85 596.73A63.6 63.6 0 0 0 331.06 604.32Z" fill="none" stroke="#444" stroke-width="1.5"/><path d="M327.36 623.67A83.3 83.3 0 0 1 300.9 613.73" fill="none" stroke="#444" stroke-width="1.5"/><path d="M327.03 625.39A85.05 85.05 0 0 1 300.01 615.24" fill="none" stroke="#666" stroke-width="2.0" stroke-dasharray="0.8,0.8"/><path d="M329.33 613.35A72.8 72.8 0 0 1 306.2 604.67" fill="none" stroke="#444" stroke-width="2.1"/><path d="M329.33 613.35A72.8 72.8 0 0 1 306.2 604.67" fill="none" stroke="#bbb" stroke-width="0.7" stroke-dasharray="0.7,0.9"/><circle cx="303.75" cy="620.79" r="0.55" fill="#2222ee"/><circle cx="314.66" cy="625.57" r="0.55" fill="#2222ee"/><circle cx="316.25" cy="626.16" r="0.55" fill="#2222ee"/><circle cx="300.8" cy="619.07" r="0.55" fill="#2222ee"/><circle cx="306.72" cy="622.61" r="0.55" fill="#2222ee"/><circle cx="305.42" cy="621.76" r="0.55" fill="#2222ee"/><circle cx="302.01" cy="620.31" r="0.55" fill="#2222ee"/><circle cx="305.02" cy="621.87" r="0.55" fill="#2222ee"/><circle cx="317.75" cy="626.3" r="0.55" fill="#2222ee"/><circle cx="307.52" cy="622.21" r="0.55" fill="#2222ee"/><circle cx="315.05" cy="624.88" r="0.55" fill="#2222ee"/><circle cx="300.07" cy="618.47" r="0.55" fill="#2222ee"/><circle cx="312.52" cy="624.91" r="0.55" fill="#2222ee"/><circle cx="320.6" cy="627.52" r="0.55" fill="#2222ee"/><circle cx="322.54" cy="626.86" r="0.55" fill="#2222ee"/><circle cx="316.2" cy="625.49" r="0.55" fill="#2222ee"/><circle cx="300.79" cy="619.59" r="0.55" fill="#2222ee"/><circle cx="305.08" cy="621.18" r="0.55" fill="#2222ee"/><circle cx="311.01" cy="623.49" r="0.55" fill="#2222ee"/><circle cx="303.23" cy="620.2" r="0.55" fill="#2222ee"/><circle cx="317.94" cy="626.38" r="0.55" fill="#2222ee"/><circle cx="322.26" cy="624.33" r="0.7" fill="#109090"/><circle cx="320.89" cy="623.97" r="0.7" fill="#e02020"/><path d="M328.43 618.07A77.6 77.6 0 0 1 303.78 608.81" fill="none" stroke="#7a1a6a" stroke-width="1.4"/><path d="M324.87 618.43A78.7 78.7 0 0 1 319.01 616.8" fill="none" stroke="#6a18b0" stroke-width="2.4"/><circle cx="320.62" cy="620.55" r="0.5" fill="#2a2af0"/><circle cx="320.66" cy="620.48" r="0.5" fill="#2a2af0"/><circle cx="320.78" cy="620.41" r="0.5" fill="#2a2af0"/><circle cx="311.47" cy="617.26" r="0.5" fill="#2a2af0"/><circle cx="317.36" cy="619.91" r="0.5" fill="#2a2af0"/><circle cx="325.64" cy="621.52" r="0.5" fill="#2a2af0"/><circle cx="313.43" cy="599.29" r="0.55" fill="#2a2af0"/><circle cx="314.99" cy="599.6" r="0.55" fill="#2a2af0"/><circle cx="319.61" cy="602.69" r="0.55" fill="#2a2af0"/><circle cx="323.4" cy="603.9" r="0.55" fill="#2a2af0"/><circle cx="318.11" cy="601.41" r="0.55" fill="#2a2af0"/><circle cx="310.71" cy="597.75" r="0.55" fill="#2a2af0"/><circle cx="320.71" cy="602.77" r="0.55" fill="#2a2af0"/><circle cx="323.81" cy="604.13" r="0.55" fill="#2a2af0"/><circle cx="318.26" cy="601.77" r="0.55" fill="#2a2af0"/><circle cx="319.23" cy="602.75" r="0.55" fill="#2a2af0"/><circle cx="310.56" cy="598.38" r="0.55" fill="#2a2af0"/><circle cx="321.2" cy="602.63" r="0.55" fill="#2a2af0"/><circle cx="319.98" cy="601.63" r="0.55" fill="#2a2af0"/><text x="306.56" y="641.94" font-size="8.8" font-weight="bold" text-anchor="middle">5</text><path d="M292.68 623.84A96.2 96.2 0 0 1 269.29 603.66L276.49 597.62A86.8 86.8 0 0 0 297.6 615.83Z" fill="none" stroke="#444" stroke-width="1.6"/><path d="M297.6 615.83A86.8 86.8 0 0 1 276.49 597.62L294.27 582.72A63.6 63.6 0 0 0 309.73 596.06Z" fill="none" stroke="#444" stroke-width="1.5"/><path d="M299.43 612.85A83.3 83.3 0 0 1 279.17 595.37" fill="none" stroke="#444" stroke-width="1.5"/><path d="M298.51 614.34A85.05 85.05 0 0 1 277.83 596.5" fill="none" stroke="#666" stroke-width="2.0" stroke-dasharray="0.8,0.8"/><path d="M304.92 603.9A72.8 72.8 0 0 1 287.22 588.63" fill="none" stroke="#444" stroke-width="2.1"/><path d="M304.92 603.9A72.8 72.8 0 0 1 287.22 588.63" fill="none" stroke="#bbb" stroke-width="0.7" stroke-dasharray="0.7,0.9"/><circle cx="293.75" cy="615.49" r="0.55" fill="#2222ee"/><circle cx="293.33" cy="615.13" r="0.55" fill="#2222ee"/><circle cx="281.53" cy="605.52" r="0.55" fill="#2222ee"/><circle cx="294.91" cy="615.27" r="0.55" fill="#2222ee"/><circle cx="280.01" cy="602.46" r="0.55" fill="#2222ee"/><circle cx="294.23" cy="614.88" r="0.55" fill="#2222ee"/><circle cx="292.85" cy="613.65" r="0.55" fill="#2222ee"/><circle cx="282.42" cy="605" r="0.55" fill="#2222ee"/><circle cx="276.24" cy="599.46" r="0.55" fill="#2222ee"/><circle cx="295.16" cy="616.28" r="0.55" fill="#2222ee"/><circle cx="291.09" cy="612.88" r="0.55" fill="#2222ee"/><circle cx="284.6" cy="607.1" r="0.55" fill="#2222ee"/><circle cx="285.82" cy="608.05" r="0.55" fill="#2222ee"/><circle cx="291.72" cy="613.98" r="0.55" fill="#2222ee"/><circle cx="279.11" cy="602.4" r="0.55" fill="#2222ee"/><circle cx="281.52" cy="605.44" r="0.55" fill="#2222ee"/><circle cx="293.36" cy="614.5" r="0.55" fill="#2222ee"/><circle cx="293.8" cy="614.26" r="0.55" fill="#2222ee"/><circle cx="294.27" cy="614.71" r="0.55" fill="#2222ee"/><circle cx="295.53" cy="615.54" r="0.55" fill="#2222ee"/><circle cx="289.86" cy="608.26" r="0.7" fill="#111"/><circle cx="284.61" cy="603.69" r="0.7" fill="#e02020"/><path d="M302.41 607.99A77.6 77.6 0 0 1 283.54 591.71" fill="none" stroke="#7a1a6a" stroke-width="1.4"/><circle cx="285.42" cy="600.1" r="0.5" fill="#2a2af0"/><circle cx="282.16" cy="596.18" r="0.5" fill="#2a2af0"/><circle cx="297.35" cy="610.23" r="0.5" fill="#2a2af0"/><circle cx="287.29" cy="601.49" r="0.5" fill="#2a2af0"/><circle cx="292.05" cy="605.71" r="0.5" fill="#2a2af0"/><circle cx="290.9" cy="604.95" r="0.5" fill="#2a2af0"/><circle cx="302.06" cy="592.49" r="0.55" fill="#2a2af0"/><circle cx="296.12" cy="586.57" r="0.55" fill="#2a2af0"/><circle cx="301.35" cy="590.97" r="0.55" fill="#2a2af0"/><circle cx="296.35" cy="587.66" r="0.55" fill="#2a2af0"/><circle cx="304.86" cy="594.47" r="0.55" fill="#2a2af0"/><circle cx="297.63" cy="588.28" r="0.55" fill="#2a2af0"/><circle cx="308.31" cy="596.55" r="0.55" fill="#2a2af0"/><circle cx="305.72" cy="594.21" r="0.55" fill="#2a2af0"/><circle cx="299.4" cy="589.93" r="0.55" fill="#2a2af0"/><circle cx="298.63" cy="589.4" r="0.55" fill="#2a2af0"/><circle cx="297.75" cy="588.05" r="0.55" fill="#2a2af0"/><circle cx="307.85" cy="596.62" r="0.55" fill="#2a2af0"/><text x="275.21" y="623.54" font-size="8.8" font-weight="bold" text-anchor="middle">6</text><path d="M268.03 602.13A96.2 96.2 0 0 1 253.57 577.3L262.31 573.83A86.8 86.8 0 0 0 275.36 596.24Z" fill="none" stroke="#444" stroke-width="1.6"/><path d="M275.36 596.24A86.8 86.8 0 0 1 262.31 573.83L283.87 565.28A63.6 63.6 0 0 0 293.44 581.71Z" fill="none" stroke="#444" stroke-width="1.5"/><path d="M278.08 594.05A83.3 83.3 0 0 1 265.56 572.54" fill="none" stroke="#444" stroke-width="1.5"/><path d="M276.72 595.15A85.05 85.05 0 0 1 263.93 573.19" fill="none" stroke="#666" stroke-width="2.0" stroke-dasharray="0.8,0.8"/><path d="M286.27 587.47A72.8 72.8 0 0 1 275.32 568.67" fill="none" stroke="#444" stroke-width="2.1"/><path d="M286.27 587.47A72.8 72.8 0 0 1 275.32 568.67" fill="none" stroke="#bbb" stroke-width="0.7" stroke-dasharray="0.7,0.9"/><circle cx="262.79" cy="579.01" r="0.55" fill="#2222ee"/><circle cx="266.21" cy="583.69" r="0.55" fill="#2222ee"/><circle cx="271.52" cy="592.37" r="0.55" fill="#2222ee"/><circle cx="265.23" cy="583.13" r="0.55" fill="#2222ee"/><circle cx="270.83" cy="593.16" r="0.55" fill="#2222ee"/><circle cx="261.13" cy="575.4" r="0.55" fill="#2222ee"/><circle cx="267.64" cy="586.8" r="0.55" fill="#2222ee"/><circle cx="270.63" cy="592.6" r="0.55" fill="#2222ee"/><circle cx="264.75" cy="581.52" r="0.55" fill="#2222ee"/><circle cx="262.25" cy="577.03" r="0.55" fill="#2222ee"/><circle cx="268.18" cy="587.99" r="0.55" fill="#2222ee"/><circle cx="264.33" cy="581.17" r="0.55" fill="#2222ee"/><circle cx="265.4" cy="582.37" r="0.55" fill="#2222ee"/><circle cx="264.74" cy="581.48" r="0.55" fill="#2222ee"/><circle cx="262.56" cy="576.67" r="0.55" fill="#2222ee"/><circle cx="269.14" cy="589.78" r="0.55" fill="#2222ee"/><circle cx="268.34" cy="588.5" r="0.55" fill="#2222ee"/><circle cx="262.44" cy="576.35" r="0.55" fill="#2222ee"/><circle cx="266.43" cy="578.88" r="0.7" fill="#e06010"/><circle cx="266.29" cy="578.57" r="0.7" fill="#e02020"/><path d="M282.53 590.48A77.6 77.6 0 0 1 270.86 570.44" fill="none" stroke="#7a1a6a" stroke-width="1.4"/><circle cx="267.39" cy="573.03" r="0.5" fill="#2a2af0"/><circle cx="270.82" cy="580.79" r="0.5" fill="#2a2af0"/><circle cx="271.33" cy="581.37" r="0.5" fill="#2a2af0"/><circle cx="269.06" cy="577.88" r="0.5" fill="#2a2af0"/><circle cx="274.6" cy="586.11" r="0.5" fill="#2a2af0"/><circle cx="273.73" cy="585.77" r="0.5" fill="#2a2af0"/><circle cx="287.04" cy="575.06" r="0.55" fill="#2a2af0"/><circle cx="285.6" cy="571.93" r="0.55" fill="#2a2af0"/><circle cx="290.42" cy="580.59" r="0.55" fill="#2a2af0"/><circle cx="283.89" cy="568.28" r="0.55" fill="#2a2af0"/><circle cx="284.8" cy="568.81" r="0.55" fill="#2a2af0"/><circle cx="285.16" cy="569.34" r="0.55" fill="#2a2af0"/><circle cx="283.61" cy="565.92" r="0.55" fill="#2a2af0"/><circle cx="286.42" cy="574.07" r="0.55" fill="#2a2af0"/><circle cx="285.2" cy="571.92" r="0.55" fill="#2a2af0"/><circle cx="291.57" cy="581.04" r="0.55" fill="#2a2af0"/><circle cx="285.47" cy="570.79" r="0.55" fill="#2a2af0"/><circle cx="286.75" cy="573" r="0.55" fill="#2a2af0"/><text x="253.56" y="597.03" font-size="8.8" font-weight="bold" text-anchor="middle">7</text><path d="M252.86 575.45A96.2 96.2 0 0 1 247.11 549.62L256.48 548.86A86.8 86.8 0 0 0 261.67 572.17Z" fill="none" stroke="#444" stroke-width="1.6"/><path d="M261.67 572.17A86.8 86.8 0 0 1 256.48 548.86L279.61 546.99A63.6 63.6 0 0 0 283.41 564.06Z" fill="none" stroke="#444" stroke-width="1.5"/><path d="M264.95 570.95A83.3 83.3 0 0 1 259.97 548.58" fill="none" stroke="#444" stroke-width="1.5"/><path d="M263.31 571.56A85.05 85.05 0 0 1 258.23 548.72" fill="none" stroke="#666" stroke-width="2.0" stroke-dasharray="0.8,0.8"/><path d="M274.79 567.28A72.8 72.8 0 0 1 270.44 547.73" fill="none" stroke="#444" stroke-width="2.1"/><path d="M274.79 567.28A72.8 72.8 0 0 1 270.44 547.73" fill="none" stroke="#bbb" stroke-width="0.7" stroke-dasharray="0.7,0.9"/><circle cx="258.84" cy="568.67" r="0.55" fill="#2222ee"/><circle cx="255.97" cy="555.91" r="0.55" fill="#2222ee"/><circle cx="257.63" cy="562.09" r="0.55" fill="#2222ee"/><circle cx="259.76" cy="570.34" r="0.55" fill="#2222ee"/><circle cx="256.2" cy="554.28" r="0.55" fill="#2222ee"/><circle cx="256.37" cy="559.55" r="0.55" fill="#2222ee"/><circle cx="256" cy="552.72" r="0.55" fill="#2222ee"/><circle cx="256.04" cy="558.34" r="0.55" fill="#2222ee"/><circle cx="257.88" cy="564.73" r="0.55" fill="#2222ee"/><circle cx="257.79" cy="563.38" r="0.55" fill="#2222ee"/><circle cx="256.36" cy="557.67" r="0.55" fill="#2222ee"/><circle cx="258.77" cy="566.27" r="0.55" fill="#2222ee"/><circle cx="255.17" cy="550.76" r="0.55" fill="#2222ee"/><circle cx="256.23" cy="553.43" r="0.55" fill="#2222ee"/><circle cx="257.45" cy="561.93" r="0.55" fill="#2222ee"/><circle cx="255.67" cy="550.3" r="0.55" fill="#2222ee"/><circle cx="259.13" cy="566.67" r="0.55" fill="#2222ee"/><circle cx="259.86" cy="559.78" r="0.7" fill="#e02020"/><circle cx="259.52" cy="558.1" r="0.7" fill="#111"/><path d="M270.29 568.95A77.6 77.6 0 0 1 265.65 548.12" fill="none" stroke="#7a1a6a" stroke-width="1.4"/><circle cx="265.52" cy="569.02" r="0.5" fill="#2a2af0"/><circle cx="263.53" cy="561.72" r="0.5" fill="#2a2af0"/><circle cx="265.37" cy="567.99" r="0.5" fill="#2a2af0"/><circle cx="262.68" cy="559.27" r="0.5" fill="#2a2af0"/><circle cx="262.49" cy="557.95" r="0.5" fill="#2a2af0"/><circle cx="279.48" cy="551.88" r="0.55" fill="#2a2af0"/><circle cx="282.14" cy="563.72" r="0.55" fill="#2a2af0"/><circle cx="282" cy="561.88" r="0.55" fill="#2a2af0"/><circle cx="280.53" cy="558.88" r="0.55" fill="#2a2af0"/><circle cx="279.24" cy="553.99" r="0.55" fill="#2a2af0"/><circle cx="279.19" cy="548.34" r="0.55" fill="#2a2af0"/><circle cx="280.2" cy="554.81" r="0.55" fill="#2a2af0"/><circle cx="279.36" cy="553.02" r="0.55" fill="#2a2af0"/><circle cx="281.72" cy="561.77" r="0.55" fill="#2a2af0"/><circle cx="279.34" cy="553.19" r="0.55" fill="#2a2af0"/><circle cx="278.83" cy="548.34" r="0.55" fill="#2a2af0"/><text x="242.58" y="567.28" font-size="8.8" font-weight="bold" text-anchor="middle">8</text><path d="M246.97 547.65A96.2 96.2 0 0 1 248.83 522.19L258.03 524.11A86.8 86.8 0 0 0 256.36 547.08Z" fill="none" stroke="#444" stroke-width="1.6"/><path d="M256.36 547.08A86.8 86.8 0 0 1 258.03 524.11L280.74 528.85A63.6 63.6 0 0 0 279.52 545.68Z" fill="none" stroke="#444" stroke-width="1.5"/><path d="M259.85 546.87A83.3 83.3 0 0 1 261.46 524.82" fill="none" stroke="#444" stroke-width="1.5"/><path d="M258.1 546.97A85.05 85.05 0 0 1 259.75 524.46" fill="none" stroke="#666" stroke-width="2.0" stroke-dasharray="0.8,0.8"/><path d="M270.33 546.24A72.8 72.8 0 0 1 271.74 526.97" fill="none" stroke="#444" stroke-width="2.1"/><path d="M270.33 546.24A72.8 72.8 0 0 1 271.74 526.97" fill="none" stroke="#bbb" stroke-width="0.7" stroke-dasharray="0.7,0.9"/><circle cx="254.54" cy="539.03" r="0.55" fill="#2222ee"/><circle cx="255.91" cy="533.12" r="0.55" fill="#2222ee"/><circle cx="256.09" cy="529.12" r="0.55" fill="#2222ee"/><circle cx="256.38" cy="525.44" r="0.55" fill="#2222ee"/><circle cx="255.53" cy="528.56" r="0.55" fill="#2222ee"/><circle cx="254.69" cy="535.2" r="0.55" fill="#2222ee"/><circle cx="255.29" cy="546.11" r="0.55" fill="#2222ee"/><circle cx="256.69" cy="528" r="0.55" fill="#2222ee"/><circle cx="255.01" cy="531.52" r="0.55" fill="#2222ee"/><circle cx="255.29" cy="530.57" r="0.55" fill="#2222ee"/><circle cx="255.01" cy="544.97" r="0.55" fill="#2222ee"/><circle cx="255.52" cy="533" r="0.55" fill="#2222ee"/><circle cx="254.77" cy="537.24" r="0.55" fill="#2222ee"/><circle cx="255.55" cy="543.03" r="0.55" fill="#2222ee"/><circle cx="254.85" cy="533.31" r="0.55" fill="#2222ee"/><circle cx="255.87" cy="528.11" r="0.55" fill="#2222ee"/><circle cx="257.97" cy="540" r="0.7" fill="#e02020"/><circle cx="259.47" cy="525.85" r="0.7" fill="#111"/><path d="M265.54 546.53A77.6 77.6 0 0 1 267.04 525.99" fill="none" stroke="#7a1a6a" stroke-width="1.4"/><circle cx="262.43" cy="527.71" r="0.5" fill="#2a2af0"/><circle cx="262.77" cy="527.46" r="0.5" fill="#2a2af0"/><circle cx="261.92" cy="533.91" r="0.5" fill="#2a2af0"/><circle cx="261.41" cy="541.47" r="0.5" fill="#2a2af0"/><circle cx="261.31" cy="546.22" r="0.5" fill="#2a2af0"/><circle cx="278.78" cy="537.16" r="0.55" fill="#2a2af0"/><circle cx="279.32" cy="534.72" r="0.55" fill="#2a2af0"/><circle cx="278.45" cy="536.85" r="0.55" fill="#2a2af0"/><circle cx="277.79" cy="538.72" r="0.55" fill="#2a2af0"/><circle cx="278.42" cy="543.31" r="0.55" fill="#2a2af0"/><circle cx="278.6" cy="537.82" r="0.55" fill="#2a2af0"/><circle cx="279.41" cy="529.36" r="0.55" fill="#2a2af0"/><circle cx="278.58" cy="536.88" r="0.55" fill="#2a2af0"/><circle cx="277.77" cy="538.14" r="0.55" fill="#2a2af0"/><circle cx="278.82" cy="532.2" r="0.55" fill="#2a2af0"/><text x="240.8" y="537.5" font-size="8.8" font-weight="bold" text-anchor="middle">9</text><path d="M249.26 520.25A96.2 96.2 0 0 1 257.75 497.27L266.08 501.63A86.8 86.8 0 0 0 258.42 522.36Z" fill="none" stroke="#444" stroke-width="1.6"/><path d="M258.42 522.36A86.8 86.8 0 0 1 266.08 501.63L286.64 512.38A63.6 63.6 0 0 0 281.02 527.57Z" fill="none" stroke="#444" stroke-width="1.5"/><path d="M261.83 523.15A83.3 83.3 0 0 1 269.18 503.25" fill="none" stroke="#444" stroke-width="1.5"/><path d="M260.12 522.76A85.05 85.05 0 0 1 267.63 502.44" fill="none" stroke="#666" stroke-width="2.0" stroke-dasharray="0.8,0.8"/><path d="M272.06 525.51A72.8 72.8 0 0 1 278.49 508.11" fill="none" stroke="#444" stroke-width="2.1"/><path d="M272.06 525.51A72.8 72.8 0 0 1 278.49 508.11" fill="none" stroke="#bbb" stroke-width="0.7" stroke-dasharray="0.7,0.9"/><circle cx="258.11" cy="518.23" r="0.55" fill="#2222ee"/><circle cx="258.2" cy="519.02" r="0.55" fill="#2222ee"/><circle cx="257.23" cy="521.1" r="0.55" fill="#2222ee"/><circle cx="264.44" cy="501.84" r="0.55" fill="#2222ee"/><circle cx="261.27" cy="510.04" r="0.55" fill="#2222ee"/><circle cx="260.08" cy="512.52" r="0.55" fill="#2222ee"/><circle cx="260.16" cy="512.99" r="0.55" fill="#2222ee"/><circle cx="258.27" cy="516.99" r="0.55" fill="#2222ee"/><circle cx="264" cy="502.22" r="0.55" fill="#2222ee"/><circle cx="261.93" cy="509.1" r="0.55" fill="#2222ee"/><circle cx="258.69" cy="515.24" r="0.55" fill="#2222ee"/><circle cx="264.49" cy="501.98" r="0.55" fill="#2222ee"/><circle cx="260.78" cy="509.86" r="0.55" fill="#2222ee"/><circle cx="258.49" cy="516.43" r="0.55" fill="#2222ee"/><circle cx="259.1" cy="513.95" r="0.55" fill="#2222ee"/><circle cx="259.99" cy="512.04" r="0.55" fill="#2222ee"/><circle cx="263.63" cy="511.29" r="0.7" fill="#111"/><circle cx="261.1" cy="518.91" r="0.7" fill="#109090"/><path d="M267.38 524.43A77.6 77.6 0 0 1 274.24 505.89" fill="none" stroke="#7a1a6a" stroke-width="1.4"/><circle cx="268.18" cy="508.75" r="0.5" fill="#2a2af0"/><circle cx="265.85" cy="513.21" r="0.5" fill="#2a2af0"/><circle cx="267.9" cy="508.79" r="0.5" fill="#2a2af0"/><circle cx="270.19" cy="505.18" r="0.5" fill="#2a2af0"/><circle cx="266.77" cy="511.57" r="0.5" fill="#2a2af0"/><circle cx="281.46" cy="519.87" r="0.55" fill="#2a2af0"/><circle cx="285.41" cy="512.7" r="0.55" fill="#2a2af0"/><circle cx="282.63" cy="517.56" r="0.55" fill="#2a2af0"/><circle cx="283.64" cy="516.6" r="0.55" fill="#2a2af0"/><circle cx="284.31" cy="515.13" r="0.55" fill="#2a2af0"/><circle cx="280.38" cy="524.68" r="0.55" fill="#2a2af0"/><circle cx="283.29" cy="517.26" r="0.55" fill="#2a2af0"/><circle cx="281.67" cy="519.19" r="0.55" fill="#2a2af0"/><circle cx="284.3" cy="514.96" r="0.55" fill="#2a2af0"/><circle cx="284.79" cy="513.37" r="0.55" fill="#2a2af0"/><text x="244.06" y="508.37" font-size="8.8" font-weight="bold" text-anchor="middle">10</text><path d="M258.69 495.53A96.2 96.2 0 0 1 273.06 475.79L279.9 482.25A86.8 86.8 0 0 0 266.93 500.05Z" fill="none" stroke="#444" stroke-width="1.6"/><path d="M266.93 500.05A86.8 86.8 0 0 1 279.9 482.25L296.76 498.18A63.6 63.6 0 0 0 287.26 511.22Z" fill="none" stroke="#444" stroke-width="1.5"/><path d="M269.99 501.74A83.3 83.3 0 0 1 282.44 484.65" fill="none" stroke="#444" stroke-width="1.5"/><path d="M268.46 500.9A85.05 85.05 0 0 1 281.17 483.45" fill="none" stroke="#666" stroke-width="2.0" stroke-dasharray="0.8,0.8"/><path d="M279.2 506.79A72.8 72.8 0 0 1 290.08 491.86" fill="none" stroke="#444" stroke-width="2.1"/><path d="M279.2 506.79A72.8 72.8 0 0 1 290.08 491.86" fill="none" stroke="#bbb" stroke-width="0.7" stroke-dasharray="0.7,0.9"/><circle cx="270.55" cy="491.59" r="0.55" fill="#2222ee"/><circle cx="275.26" cy="484.93" r="0.55" fill="#2222ee"/><circle cx="273.93" cy="487" r="0.55" fill="#2222ee"/><circle cx="271.1" cy="492.08" r="0.55" fill="#2222ee"/><circle cx="271.68" cy="491.09" r="0.55" fill="#2222ee"/><circle cx="277.99" cy="482.78" r="0.55" fill="#2222ee"/><circle cx="273" cy="488.06" r="0.55" fill="#2222ee"/><circle cx="267.69" cy="495.55" r="0.55" fill="#2222ee"/><circle cx="270.15" cy="493.38" r="0.55" fill="#2222ee"/><circle cx="273.25" cy="488.39" r="0.55" fill="#2222ee"/><circle cx="277.59" cy="483.09" r="0.55" fill="#2222ee"/><circle cx="267.6" cy="497.6" r="0.55" fill="#2222ee"/><circle cx="266.42" cy="498.51" r="0.55" fill="#2222ee"/><circle cx="275.1" cy="486.73" r="0.55" fill="#2222ee"/><circle cx="269.81" cy="493.04" r="0.55" fill="#2222ee"/><circle cx="276.81" cy="483.01" r="0.55" fill="#2222ee"/><circle cx="278.98" cy="485.86" r="0.7" fill="#111"/><circle cx="270.91" cy="496.72" r="0.7" fill="#111"/><path d="M274.99 504.48A77.6 77.6 0 0 1 286.59 488.57" fill="none" stroke="#7a1a6a" stroke-width="1.4"/><path d="M276.99 499A78.7 78.7 0 0 1 284.02 489.75" fill="none" stroke="#6a18b0" stroke-width="2.4"/><circle cx="275.47" cy="495.34" r="0.5" fill="#2a2af0"/><circle cx="276.43" cy="493.7" r="0.5" fill="#2a2af0"/><circle cx="272.53" cy="500.69" r="0.5" fill="#2a2af0"/><circle cx="275.39" cy="495.87" r="0.5" fill="#2a2af0"/><circle cx="275.08" cy="495.55" r="0.5" fill="#2a2af0"/><circle cx="294.57" cy="498.86" r="0.55" fill="#2a2af0"/><circle cx="291.99" cy="501.77" r="0.55" fill="#2a2af0"/><circle cx="288.18" cy="507.57" r="0.55" fill="#2a2af0"/><circle cx="290.04" cy="505.25" r="0.55" fill="#2a2af0"/><circle cx="287.66" cy="507.36" r="0.55" fill="#2a2af0"/><circle cx="286.14" cy="510.2" r="0.55" fill="#2a2af0"/><circle cx="292.86" cy="500.63" r="0.55" fill="#2a2af0"/><circle cx="292.15" cy="501.33" r="0.55" fill="#2a2af0"/><circle cx="292.07" cy="502.67" r="0.55" fill="#2a2af0"/><circle cx="291.12" cy="504.35" r="0.55" fill="#2a2af0"/><text x="257.64" y="482.76" font-size="8.8" font-weight="bold" text-anchor="middle">11</text><path d="M274.44 474.37A96.2 96.2 0 0 1 293.45 459.39L298.29 467.45A86.8 86.8 0 0 0 281.14 480.96Z" fill="none" stroke="#444" stroke-width="1.6"/><path d="M281.14 480.96A86.8 86.8 0 0 1 298.29 467.45L310.24 487.33A63.6 63.6 0 0 0 297.67 497.24Z" fill="none" stroke="#444" stroke-width="1.5"/><path d="M283.63 483.42A83.3 83.3 0 0 1 300.1 470.45" fill="none" stroke="#444" stroke-width="1.5"/><path d="M282.38 482.19A85.05 85.05 0 0 1 299.19 468.95" fill="none" stroke="#666" stroke-width="2.0" stroke-dasharray="0.8,0.8"/><path d="M291.11 490.78A72.8 72.8 0 0 1 305.5 479.45" fill="none" stroke="#444" stroke-width="2.1"/><path d="M291.11 490.78A72.8 72.8 0 0 1 305.5 479.45" fill="none" stroke="#bbb" stroke-width="0.7" stroke-dasharray="0.7,0.9"/><circle cx="292.26" cy="469.34" r="0.55" fill="#2222ee"/><circle cx="297.34" cy="467.02" r="0.55" fill="#2222ee"/><circle cx="290.63" cy="471.2" r="0.55" fill="#2222ee"/><circle cx="290.72" cy="470.7" r="0.55" fill="#2222ee"/><circle cx="284.74" cy="475.71" r="0.55" fill="#2222ee"/><circle cx="281.05" cy="479.59" r="0.55" fill="#2222ee"/><circle cx="282.75" cy="478.48" r="0.55" fill="#2222ee"/><circle cx="286.41" cy="474.65" r="0.55" fill="#2222ee"/><circle cx="281.79" cy="478.69" r="0.55" fill="#2222ee"/><circle cx="282.47" cy="477.34" r="0.55" fill="#2222ee"/><circle cx="292.9" cy="468.91" r="0.55" fill="#2222ee"/><circle cx="291.09" cy="471.13" r="0.55" fill="#2222ee"/><circle cx="294.92" cy="468.09" r="0.55" fill="#2222ee"/><circle cx="295.43" cy="467.25" r="0.55" fill="#2222ee"/><circle cx="292.22" cy="470.28" r="0.55" fill="#2222ee"/><circle cx="297.13" cy="470.23" r="0.7" fill="#111"/><circle cx="296.71" cy="470.5" r="0.7" fill="#e06010"/><path d="M287.69 487.42A77.6 77.6 0 0 1 303.03 475.33" fill="none" stroke="#7a1a6a" stroke-width="1.4"/><path d="M298.87 476.69A78.7 78.7 0 0 1 302.47 474.39" fill="none" stroke="#6a18b0" stroke-width="2.4"/><circle cx="289.11" cy="479.61" r="0.5" fill="#2a2af0"/><circle cx="297.95" cy="473.22" r="0.5" fill="#2a2af0"/><circle cx="291.96" cy="478.36" r="0.5" fill="#2a2af0"/><circle cx="299.98" cy="471.74" r="0.5" fill="#2a2af0"/><circle cx="290.16" cy="479.53" r="0.5" fill="#2a2af0"/><circle cx="305.78" cy="489.6" r="0.55" fill="#2a2af0"/><circle cx="298.98" cy="493.84" r="0.55" fill="#2a2af0"/><circle cx="299.81" cy="494.01" r="0.55" fill="#2a2af0"/><circle cx="300.35" cy="493.43" r="0.55" fill="#2a2af0"/><circle cx="297.62" cy="495.13" r="0.55" fill="#2a2af0"/><circle cx="307.07" cy="487.27" r="0.55" fill="#2a2af0"/><circle cx="305.99" cy="489.41" r="0.55" fill="#2a2af0"/><circle cx="298.67" cy="494.87" r="0.55" fill="#2a2af0"/><circle cx="306.17" cy="488.98" r="0.55" fill="#2a2af0"/><circle cx="306.05" cy="488.31" r="0.55" fill="#2a2af0"/><text x="277.84" y="462.23" font-size="8.8" font-weight="bold" text-anchor="middle">12</text><path d="M295.16 458.39A96.2 96.2 0 0 1 314.26 450.04L317.07 459.01A86.8 86.8 0 0 0 299.83 466.55Z" fill="none" stroke="#444" stroke-width="1.6"/><path d="M299.83 466.55A86.8 86.8 0 0 1 317.07 459.01L324 481.15A63.6 63.6 0 0 0 311.37 486.67Z" fill="none" stroke="#444" stroke-width="1.5"/><path d="M301.57 469.58A83.3 83.3 0 0 1 318.12 462.35" fill="none" stroke="#444" stroke-width="1.5"/><path d="M300.7 468.06A85.05 85.05 0 0 1 317.59 460.68" fill="none" stroke="#666" stroke-width="2.0" stroke-dasharray="0.8,0.8"/><path d="M306.8 478.69A72.8 72.8 0 0 1 321.25 472.37" fill="none" stroke="#444" stroke-width="2.1"/><path d="M306.8 478.69A72.8 72.8 0 0 1 321.25 472.37" fill="none" stroke="#bbb" stroke-width="0.7" stroke-dasharray="0.7,0.9"/><circle cx="305.31" cy="462.8" r="0.55" fill="#2222ee"/><circle cx="300.78" cy="464.58" r="0.55" fill="#2222ee"/><circle cx="300.12" cy="464.36" r="0.55" fill="#2222ee"/><circle cx="307.69" cy="461.35" r="0.55" fill="#2222ee"/><circle cx="305.33" cy="462.1" r="0.55" fill="#2222ee"/><circle cx="304.21" cy="462.34" r="0.55" fill="#2222ee"/><circle cx="301.91" cy="463.71" r="0.55" fill="#2222ee"/><circle cx="299.99" cy="465.64" r="0.55" fill="#2222ee"/><circle cx="301.7" cy="463.62" r="0.55" fill="#2222ee"/><circle cx="311.14" cy="459.24" r="0.55" fill="#2222ee"/><circle cx="312.35" cy="459.13" r="0.55" fill="#2222ee"/><circle cx="315.07" cy="458.87" r="0.55" fill="#2222ee"/><circle cx="316.24" cy="458.36" r="0.55" fill="#2222ee"/><circle cx="312.5" cy="462.46" r="0.7" fill="#e06010"/><path d="M304.41 474.53A77.6 77.6 0 0 1 319.82 467.79" fill="none" stroke="#7a1a6a" stroke-width="1.4"/><circle cx="317.83" cy="463.52" r="0.5" fill="#2a2af0"/><circle cx="312.93" cy="465.98" r="0.5" fill="#2a2af0"/><circle cx="312.71" cy="466.25" r="0.5" fill="#2a2af0"/><circle cx="317.68" cy="464.04" r="0.5" fill="#2a2af0"/><circle cx="317.03" cy="482.5" r="0.55" fill="#2a2af0"/><circle cx="322.38" cy="480.49" r="0.55" fill="#2a2af0"/><circle cx="312.26" cy="484.34" r="0.55" fill="#2a2af0"/><circle cx="312.29" cy="484.19" r="0.55" fill="#2a2af0"/><circle cx="312.64" cy="484.29" r="0.55" fill="#2a2af0"/><circle cx="319.97" cy="481.19" r="0.55" fill="#2a2af0"/><circle cx="318.41" cy="481.7" r="0.55" fill="#2a2af0"/><circle cx="312.56" cy="484.73" r="0.55" fill="#2a2af0"/><text x="301.1" y="449.06" font-size="8.8" font-weight="bold" text-anchor="middle">13</text><path d="M316.16 449.47A96.2 96.2 0 0 1 335.27 445.96L336.02 455.33A86.8 86.8 0 0 0 318.78 458.5Z" fill="none" stroke="#444" stroke-width="1.6"/><path d="M318.78 458.5A86.8 86.8 0 0 1 336.02 455.33L337.89 478.46A63.6 63.6 0 0 0 325.25 480.78Z" fill="none" stroke="#444" stroke-width="1.5"/><path d="M319.76 461.86A83.3 83.3 0 0 1 336.31 458.82" fill="none" stroke="#444" stroke-width="1.5"/><path d="M319.27 460.18A85.05 85.05 0 0 1 336.17 457.08" fill="none" stroke="#666" stroke-width="2.0" stroke-dasharray="0.8,0.8"/><path d="M322.69 471.94A72.8 72.8 0 0 1 337.15 469.29" fill="none" stroke="#444" stroke-width="2.1"/><path d="M322.69 471.94A72.8 72.8 0 0 1 337.15 469.29" fill="none" stroke="#bbb" stroke-width="0.7" stroke-dasharray="0.7,0.9"/><circle cx="328.25" cy="454.95" r="0.55" fill="#2222ee"/><circle cx="321.99" cy="455.8" r="0.55" fill="#2222ee"/><circle cx="330.09" cy="455.32" r="0.55" fill="#2222ee"/><circle cx="334.61" cy="454.7" r="0.55" fill="#2222ee"/><circle cx="322.71" cy="456" r="0.55" fill="#2222ee"/><circle cx="330" cy="454.87" r="0.55" fill="#2222ee"/><circle cx="324.14" cy="456.45" r="0.55" fill="#2222ee"/><circle cx="320.78" cy="457.3" r="0.55" fill="#2222ee"/><circle cx="320.7" cy="456.34" r="0.55" fill="#2222ee"/><circle cx="324.74" cy="456.08" r="0.55" fill="#2222ee"/><circle cx="325.94" cy="456.08" r="0.55" fill="#2222ee"/><circle cx="321.72" cy="456.92" r="0.55" fill="#2222ee"/><circle cx="331.18" cy="457.63" r="0.7" fill="#e06010"/><path d="M321.35 467.33A77.6 77.6 0 0 1 336.76 464.5" fill="none" stroke="#7a1a6a" stroke-width="1.4"/><path d="M333.85 463.68A78.7 78.7 0 0 1 336.68 463.4" fill="none" stroke="#6a18b0" stroke-width="2.4"/><circle cx="332.31" cy="460.69" r="0.5" fill="#2a2af0"/><circle cx="322.36" cy="463.11" r="0.5" fill="#2a2af0"/><circle cx="322.13" cy="463.14" r="0.5" fill="#2a2af0"/><circle cx="327.25" cy="461.79" r="0.5" fill="#2a2af0"/><circle cx="335.65" cy="477.12" r="0.55" fill="#2a2af0"/><circle cx="335.63" cy="478.03" r="0.55" fill="#2a2af0"/><circle cx="335.6" cy="477.14" r="0.55" fill="#2a2af0"/><circle cx="332.05" cy="477.42" r="0.55" fill="#2a2af0"/><circle cx="336.83" cy="477.71" r="0.55" fill="#2a2af0"/><circle cx="332.08" cy="478.08" r="0.55" fill="#2a2af0"/><circle cx="335.8" cy="477.71" r="0.55" fill="#2a2af0"/><circle cx="328.85" cy="478.87" r="0.55" fill="#2a2af0"/><text x="324.25" y="442.87" font-size="8.8" font-weight="bold" text-anchor="middle">14</text><path d="M337.24 445.82A96.2 96.2 0 0 1 355.79 446.5L354.54 455.82A86.8 86.8 0 0 0 337.8 455.21Z" fill="none" stroke="#444" stroke-width="1.6"/><path d="M337.8 455.21A86.8 86.8 0 0 1 354.54 455.82L351.45 478.81A63.6 63.6 0 0 0 339.19 478.36Z" fill="none" stroke="#444" stroke-width="1.5"/><path d="M338.01 458.7A83.3 83.3 0 0 1 354.07 459.29" fill="none" stroke="#444" stroke-width="1.5"/><path d="M337.91 456.95A85.05 85.05 0 0 1 354.31 457.55" fill="none" stroke="#666" stroke-width="2.0" stroke-dasharray="0.8,0.8"/><path d="M338.64 469.18A72.8 72.8 0 0 1 352.68 469.7" fill="none" stroke="#444" stroke-width="2.1"/><path d="M338.64 469.18A72.8 72.8 0 0 1 352.68 469.7" fill="none" stroke="#bbb" stroke-width="0.7" stroke-dasharray="0.7,0.9"/><circle cx="348.68" cy="454.13" r="0.55" fill="#2222ee"/><circle cx="350.89" cy="454.25" r="0.55" fill="#2222ee"/><circle cx="345.03" cy="453.65" r="0.55" fill="#2222ee"/><circle cx="346.86" cy="453.86" r="0.55" fill="#2222ee"/><circle cx="342.3" cy="453.96" r="0.55" fill="#2222ee"/><circle cx="347.56" cy="453.7" r="0.55" fill="#2222ee"/><circle cx="352.57" cy="453.95" r="0.55" fill="#2222ee"/><circle cx="346.89" cy="453.91" r="0.55" fill="#2222ee"/><circle cx="342.67" cy="453.29" r="0.55" fill="#2222ee"/><circle cx="344.13" cy="454.33" r="0.55" fill="#2222ee"/><circle cx="341.76" cy="454.21" r="0.55" fill="#2222ee"/><circle cx="340.22" cy="453.88" r="0.55" fill="#2222ee"/><circle cx="341.5" cy="456.81" r="0.7" fill="#e02020"/><path d="M338.36 464.39A77.6 77.6 0 0 1 353.31 464.94" fill="none" stroke="#7a1a6a" stroke-width="1.4"/><circle cx="340.97" cy="460.41" r="0.5" fill="#2a2af0"/><circle cx="350.66" cy="460.67" r="0.5" fill="#2a2af0"/><circle cx="346.25" cy="459.78" r="0.5" fill="#2a2af0"/><circle cx="347.46" cy="477.7" r="0.55" fill="#2a2af0"/><circle cx="348.7" cy="478.04" r="0.55" fill="#2a2af0"/><circle cx="346.13" cy="476.67" r="0.55" fill="#2a2af0"/><circle cx="345.91" cy="477.49" r="0.55" fill="#2a2af0"/><circle cx="351.27" cy="477.36" r="0.55" fill="#2a2af0"/><circle cx="348.86" cy="476.86" r="0.55" fill="#2a2af0"/><circle cx="350.51" cy="477.48" r="0.55" fill="#2a2af0"/><text x="346.79" y="441.89" font-size="8.8" font-weight="bold" text-anchor="middle">15</text><path d="M357.74 446.79A96.2 96.2 0 0 1 373.64 450.66L370.65 459.57A86.8 86.8 0 0 0 356.3 456.08Z" fill="none" stroke="#444" stroke-width="1.6"/><path d="M356.3 456.08A86.8 86.8 0 0 1 370.65 459.57L363.26 481.56A63.6 63.6 0 0 0 352.75 479Z" fill="none" stroke="#444" stroke-width="1.5"/><path d="M355.77 459.53A83.3 83.3 0 0 1 369.53 462.89" fill="none" stroke="#444" stroke-width="1.5"/><path d="M356.04 457.8A85.05 85.05 0 0 1 370.09 461.23" fill="none" stroke="#666" stroke-width="2.0" stroke-dasharray="0.8,0.8"/><path d="M354.16 469.91A72.8 72.8 0 0 1 366.19 472.84" fill="none" stroke="#444" stroke-width="2.1"/><path d="M354.16 469.91A72.8 72.8 0 0 1 366.19 472.84" fill="none" stroke="#bbb" stroke-width="0.7" stroke-dasharray="0.7,0.9"/><circle cx="368.24" cy="457.54" r="0.55" fill="#2222ee"/><circle cx="360.42" cy="455.86" r="0.55" fill="#2222ee"/><circle cx="360.45" cy="456.18" r="0.55" fill="#2222ee"/><circle cx="365.44" cy="456.88" r="0.55" fill="#2222ee"/><circle cx="369.23" cy="458.42" r="0.55" fill="#2222ee"/><circle cx="367.58" cy="457.73" r="0.55" fill="#2222ee"/><circle cx="361.37" cy="456.04" r="0.55" fill="#2222ee"/><circle cx="370.08" cy="457.94" r="0.55" fill="#2222ee"/><circle cx="363.3" cy="456.61" r="0.55" fill="#2222ee"/><circle cx="357.58" cy="455.23" r="0.55" fill="#2222ee"/><circle cx="369.07" cy="460.89" r="0.7" fill="#e02020"/><path d="M354.89 465.17A77.6 77.6 0 0 1 367.72 468.29" fill="none" stroke="#7a1a6a" stroke-width="1.4"/><path d="M360.32 465.08A78.7 78.7 0 0 1 366.62 466.78" fill="none" stroke="#6a18b0" stroke-width="2.4"/><circle cx="365.04" cy="463.48" r="0.5" fill="#2a2af0"/><circle cx="364.25" cy="463.08" r="0.5" fill="#2a2af0"/><circle cx="364.79" cy="462.92" r="0.5" fill="#2a2af0"/><circle cx="357.69" cy="478.12" r="0.55" fill="#2a2af0"/><circle cx="354.12" cy="477.44" r="0.55" fill="#2a2af0"/><circle cx="360.77" cy="480.29" r="0.55" fill="#2a2af0"/><circle cx="362.1" cy="480.67" r="0.55" fill="#2a2af0"/><circle cx="358.52" cy="479.54" r="0.55" fill="#2a2af0"/><circle cx="353.5" cy="478.41" r="0.55" fill="#2a2af0"/><text x="367.63" y="443.89" font-size="8.8" font-weight="bold" text-anchor="middle">16</text><path d="M375.51 451.31A96.2 96.2 0 0 1 388.94 457.33L384.45 465.58A86.8 86.8 0 0 0 372.33 460.16Z" fill="none" stroke="#444" stroke-width="1.6"/><path d="M372.33 460.16A86.8 86.8 0 0 1 384.45 465.58L373.37 485.97A63.6 63.6 0 0 0 364.49 481.99Z" fill="none" stroke="#444" stroke-width="1.5"/><path d="M371.15 463.45A83.3 83.3 0 0 1 382.78 468.66" fill="none" stroke="#444" stroke-width="1.5"/><path d="M371.74 461.8A85.05 85.05 0 0 1 383.61 467.12" fill="none" stroke="#666" stroke-width="2.0" stroke-dasharray="0.8,0.8"/><path d="M367.6 473.33A72.8 72.8 0 0 1 377.76 477.89" fill="none" stroke="#444" stroke-width="2.1"/><path d="M367.6 473.33A72.8 72.8 0 0 1 377.76 477.89" fill="none" stroke="#bbb" stroke-width="0.7" stroke-dasharray="0.7,0.9"/><circle cx="381.07" cy="462.42" r="0.55" fill="#2222ee"/><circle cx="379.39" cy="461.82" r="0.55" fill="#2222ee"/><circle cx="381.06" cy="462.14" r="0.55" fill="#2222ee"/><circle cx="381.04" cy="462.72" r="0.55" fill="#2222ee"/><circle cx="382.6" cy="463.83" r="0.55" fill="#2222ee"/><circle cx="373.46" cy="459.25" r="0.55" fill="#2222ee"/><circle cx="384.34" cy="463.72" r="0.55" fill="#2222ee"/><circle cx="379.12" cy="462.06" r="0.55" fill="#2222ee"/><circle cx="376.45" cy="460.95" r="0.55" fill="#2222ee"/><circle cx="379.28" cy="464.93" r="0.7" fill="#e02020"/><path d="M369.23 468.82A77.6 77.6 0 0 1 380.05 473.67" fill="none" stroke="#7a1a6a" stroke-width="1.4"/><circle cx="380.5" cy="469.48" r="0.5" fill="#2a2af0"/><circle cx="378.3" cy="467.76" r="0.5" fill="#2a2af0"/><circle cx="378.12" cy="467.96" r="0.5" fill="#2a2af0"/><circle cx="367.42" cy="481.35" r="0.55" fill="#2a2af0"/><circle cx="372.95" cy="484.16" r="0.55" fill="#2a2af0"/><circle cx="369.55" cy="483.57" r="0.55" fill="#2a2af0"/><circle cx="367.43" cy="482.33" r="0.55" fill="#2a2af0"/><circle cx="367.12" cy="482.24" r="0.55" fill="#2a2af0"/><circle cx="370.97" cy="483.23" r="0.55" fill="#2a2af0"/><text x="385.81" y="449.42" font-size="8.8" font-weight="bold" text-anchor="middle">17</text><path d="M390.66 458.29A96.2 96.2 0 0 1 402.4 466.18L396.6 473.58A86.8 86.8 0 0 0 386.01 466.45Z" fill="none" stroke="#444" stroke-width="1.6"/><path d="M386.01 466.45A86.8 86.8 0 0 1 396.6 473.58L382.27 491.82A63.6 63.6 0 0 0 374.51 486.61Z" fill="none" stroke="#444" stroke-width="1.5"/><path d="M384.27 469.49A83.3 83.3 0 0 1 394.44 476.33" fill="none" stroke="#444" stroke-width="1.5"/><path d="M385.14 467.97A85.05 85.05 0 0 1 395.52 474.95" fill="none" stroke="#666" stroke-width="2.0" stroke-dasharray="0.8,0.8"/><path d="M379.07 478.61A72.8 72.8 0 0 1 387.95 484.59" fill="none" stroke="#444" stroke-width="2.1"/><path d="M379.07 478.61A72.8 72.8 0 0 1 387.95 484.59" fill="none" stroke="#bbb" stroke-width="0.7" stroke-dasharray="0.7,0.9"/><circle cx="389.07" cy="466.31" r="0.55" fill="#2222ee"/><circle cx="387.28" cy="465.17" r="0.55" fill="#2222ee"/><circle cx="393.03" cy="469.24" r="0.55" fill="#2222ee"/><circle cx="390.02" cy="467.2" r="0.55" fill="#2222ee"/><circle cx="395.58" cy="471.73" r="0.55" fill="#2222ee"/><circle cx="388.54" cy="466.15" r="0.55" fill="#2222ee"/><circle cx="389.32" cy="467.59" r="0.55" fill="#2222ee"/><circle cx="391.81" cy="469.08" r="0.55" fill="#2222ee"/><circle cx="389.07" cy="467.18" r="0.55" fill="#2222ee"/><circle cx="386.59" cy="468.82" r="0.7" fill="#111"/><path d="M381.45 474.44A77.6 77.6 0 0 1 390.92 480.81" fill="none" stroke="#7a1a6a" stroke-width="1.4"/><path d="M384.81 475.17A78.7 78.7 0 0 1 391.6 479.95" fill="none" stroke="#6a18b0" stroke-width="2.4"/><circle cx="392.64" cy="476.95" r="0.5" fill="#2a2af0"/><circle cx="390.35" cy="474.7" r="0.5" fill="#2a2af0"/><circle cx="382.94" cy="490.07" r="0.55" fill="#2a2af0"/><circle cx="378.83" cy="488.58" r="0.55" fill="#2a2af0"/><circle cx="379.42" cy="488.74" r="0.55" fill="#2a2af0"/><circle cx="381.97" cy="490.34" r="0.55" fill="#2a2af0"/><circle cx="380.11" cy="488.19" r="0.55" fill="#2a2af0"/><text x="401.67" y="457.69" font-size="8.8" font-weight="bold" text-anchor="middle">18</text><path d="M403.95 467.42A96.2 96.2 0 0 1 411.84 474.66L405.12 481.22A86.8 86.8 0 0 0 397.99 474.69Z" fill="none" stroke="#444" stroke-width="1.6"/><path d="M397.99 474.69A86.8 86.8 0 0 1 405.12 481.22L388.51 497.43A63.6 63.6 0 0 0 383.29 492.64Z" fill="none" stroke="#444" stroke-width="1.5"/><path d="M395.78 477.4A83.3 83.3 0 0 1 402.61 483.67" fill="none" stroke="#444" stroke-width="1.5"/><path d="M396.88 476.05A85.05 85.05 0 0 1 403.87 482.45" fill="none" stroke="#666" stroke-width="2.0" stroke-dasharray="0.8,0.8"/><path d="M389.12 485.52A72.8 72.8 0 0 1 395.1 491" fill="none" stroke="#444" stroke-width="2.1"/><path d="M389.12 485.52A72.8 72.8 0 0 1 395.1 491" fill="none" stroke="#bbb" stroke-width="0.7" stroke-dasharray="0.7,0.9"/><circle cx="404.85" cy="478.5" r="0.55" fill="#2222ee"/><circle cx="400.46" cy="475.03" r="0.55" fill="#2222ee"/><circle cx="405.29" cy="479.46" r="0.55" fill="#2222ee"/><circle cx="399.23" cy="474.81" r="0.55" fill="#2222ee"/><circle cx="399.72" cy="475.3" r="0.55" fill="#2222ee"/><circle cx="401.62" cy="476.25" r="0.55" fill="#2222ee"/><circle cx="402.31" cy="477.43" r="0.55" fill="#2222ee"/><circle cx="403.01" cy="481.58" r="0.7" fill="#e02020"/><path d="M392.16 481.81A77.6 77.6 0 0 1 398.53 487.65" fill="none" stroke="#7a1a6a" stroke-width="1.4"/><path d="M394.28 482.15A78.7 78.7 0 0 1 398.29 485.84" fill="none" stroke="#6a18b0" stroke-width="2.4"/><circle cx="398.86" cy="481.99" r="0.5" fill="#2a2af0"/><circle cx="396.93" cy="480.88" r="0.5" fill="#2a2af0"/><circle cx="388.22" cy="496.47" r="0.55" fill="#2a2af0"/><circle cx="384.64" cy="492.71" r="0.55" fill="#2a2af0"/><circle cx="388.51" cy="495.01" r="0.55" fill="#2a2af0"/><circle cx="387.66" cy="495.61" r="0.55" fill="#2a2af0"/><text x="414.24" y="467.22" font-size="8.8" font-weight="bold" text-anchor="middle">19</text><path d="M413.21 476.09A96.2 96.2 0 0 1 420.51 484.87L412.93 490.44A86.8 86.8 0 0 0 406.35 482.51Z" fill="none" stroke="#444" stroke-width="1.6"/><path d="M406.35 482.51A86.8 86.8 0 0 1 412.93 490.44L394.24 504.18A63.6 63.6 0 0 0 389.42 498.37Z" fill="none" stroke="#444" stroke-width="1.5"/><path d="M403.8 484.91A83.3 83.3 0 0 1 410.11 492.51" fill="none" stroke="#444" stroke-width="1.5"/><path d="M405.07 483.71A85.05 85.05 0 0 1 411.52 491.47" fill="none" stroke="#666" stroke-width="2.0" stroke-dasharray="0.8,0.8"/><path d="M396.13 492.08A72.8 72.8 0 0 1 401.65 498.73" fill="none" stroke="#444" stroke-width="2.1"/><path d="M396.13 492.08A72.8 72.8 0 0 1 401.65 498.73" fill="none" stroke="#bbb" stroke-width="0.7" stroke-dasharray="0.7,0.9"/><circle cx="412.26" cy="488.48" r="0.55" fill="#2222ee"/><circle cx="407.92" cy="483.13" r="0.55" fill="#2222ee"/><circle cx="411.15" cy="486" r="0.55" fill="#2222ee"/><circle cx="411.87" cy="486.21" r="0.55" fill="#2222ee"/><circle cx="412.42" cy="487.3" r="0.55" fill="#2222ee"/><circle cx="409.02" cy="482.92" r="0.55" fill="#2222ee"/><circle cx="413.48" cy="488.5" r="0.55" fill="#2222ee"/><circle cx="406.05" cy="484.77" r="0.7" fill="#109090"/><path d="M399.64 488.8A77.6 77.6 0 0 1 405.52 495.89" fill="none" stroke="#7a1a6a" stroke-width="1.4"/><path d="M402.8 490.69A78.7 78.7 0 0 1 406.41 495.23" fill="none" stroke="#6a18b0" stroke-width="2.4"/><circle cx="407.75" cy="491.2" r="0.5" fill="#2a2af0"/><circle cx="407.34" cy="491.49" r="0.5" fill="#2a2af0"/><circle cx="393.35" cy="502.15" r="0.55" fill="#2a2af0"/><circle cx="393.05" cy="501.89" r="0.55" fill="#2a2af0"/><circle cx="390.07" cy="498.28" r="0.55" fill="#2a2af0"/><circle cx="393.97" cy="500.91" r="0.55" fill="#2a2af0"/><text x="424.21" y="477.47" font-size="8.8" font-weight="bold" text-anchor="middle">20</text><path d="M421.66 486.47A96.2 96.2 0 0 1 426.35 493.82L418.21 498.52A86.8 86.8 0 0 0 413.98 491.88Z" fill="none" stroke="#444" stroke-width="1.6"/><path d="M413.98 491.88A86.8 86.8 0 0 1 418.21 498.52L398.11 510.1A63.6 63.6 0 0 0 395.01 505.24Z" fill="none" stroke="#444" stroke-width="1.5"/><path d="M411.11 493.9A83.3 83.3 0 0 1 415.18 500.26" fill="none" stroke="#444" stroke-width="1.5"/><path d="M412.55 492.89A85.05 85.05 0 0 1 416.69 499.39" fill="none" stroke="#666" stroke-width="2.0" stroke-dasharray="0.8,0.8"/><path d="M402.53 499.94A72.8 72.8 0 0 1 406.08 505.51" fill="none" stroke="#444" stroke-width="2.1"/><path d="M402.53 499.94A72.8 72.8 0 0 1 406.08 505.51" fill="none" stroke="#bbb" stroke-width="0.7" stroke-dasharray="0.7,0.9"/><circle cx="417.2" cy="494.22" r="0.55" fill="#2222ee"/><circle cx="417.85" cy="494.8" r="0.55" fill="#2222ee"/><circle cx="419.24" cy="497.14" r="0.55" fill="#2222ee"/><circle cx="416.1" cy="493.79" r="0.55" fill="#2222ee"/><circle cx="418.41" cy="497" r="0.55" fill="#2222ee"/><circle cx="415.55" cy="497.46" r="0.7" fill="#e02020"/><path d="M406.45 497.18A77.6 77.6 0 0 1 410.24 503.11" fill="none" stroke="#7a1a6a" stroke-width="1.4"/><path d="M407.84 497.25A78.7 78.7 0 0 1 411.19 502.56" fill="none" stroke="#6a18b0" stroke-width="2.4"/><circle cx="413.53" cy="499.53" r="0.5" fill="#2a2af0"/><circle cx="398.6" cy="509.38" r="0.55" fill="#2a2af0"/><circle cx="398.32" cy="507.3" r="0.55" fill="#2a2af0"/><circle cx="397.29" cy="506.44" r="0.55" fill="#2a2af0"/><text x="432.04" y="488.12" font-size="8.8" font-weight="bold" text-anchor="middle">21</text><path d="M427.32 495.55A96.2 96.2 0 0 1 431.4 503.9L422.76 507.61A86.8 86.8 0 0 0 419.08 500.07Z" fill="none" stroke="#444" stroke-width="1.6"/><path d="M419.08 500.07A86.8 86.8 0 0 1 422.76 507.61L401.44 516.76A63.6 63.6 0 0 0 398.75 511.24Z" fill="none" stroke="#444" stroke-width="1.5"/><path d="M416.02 501.76A83.3 83.3 0 0 1 419.55 508.99" fill="none" stroke="#444" stroke-width="1.5"/><path d="M417.55 500.91A85.05 85.05 0 0 1 421.15 508.3" fill="none" stroke="#666" stroke-width="2.0" stroke-dasharray="0.8,0.8"/><path d="M406.81 506.81A72.8 72.8 0 0 1 409.9 513.13" fill="none" stroke="#444" stroke-width="2.1"/><path d="M406.81 506.81A72.8 72.8 0 0 1 409.9 513.13" fill="none" stroke="#bbb" stroke-width="0.7" stroke-dasharray="0.7,0.9"/><circle cx="421.53" cy="501.21" r="0.55" fill="#2222ee"/><circle cx="421.89" cy="502.89" r="0.55" fill="#2222ee"/><circle cx="422.41" cy="504.43" r="0.55" fill="#2222ee"/><circle cx="423.06" cy="505.44" r="0.55" fill="#2222ee"/><circle cx="422.1" cy="502.67" r="0.55" fill="#2222ee"/><circle cx="422.87" cy="504.31" r="0.55" fill="#2222ee"/><circle cx="420.52" cy="506.85" r="0.7" fill="#111"/><path d="M411.02 504.5A77.6 77.6 0 0 1 414.31 511.24" fill="none" stroke="#7a1a6a" stroke-width="1.4"/><path d="M413.44 506.74A78.7 78.7 0 0 1 415.32 510.81" fill="none" stroke="#6a18b0" stroke-width="2.4"/><circle cx="415.32" cy="503.08" r="0.5" fill="#2a2af0"/><circle cx="401.1" cy="513.68" r="0.55" fill="#2a2af0"/><circle cx="399.93" cy="511.73" r="0.55" fill="#2a2af0"/><circle cx="402.24" cy="514.52" r="0.55" fill="#2a2af0"/><text x="437.9" y="498.66" font-size="8.8" font-weight="bold" text-anchor="middle">22</text><path d="M432.16 505.73A96.2 96.2 0 0 1 438.79 533L429.43 533.86A86.8 86.8 0 0 0 423.45 509.26Z" fill="none" stroke="#444" stroke-width="1.6"/><path d="M423.45 509.26A86.8 86.8 0 0 1 429.43 533.86L406.33 536A63.6 63.6 0 0 0 401.95 517.97Z" fill="none" stroke="#444" stroke-width="1.5"/><path d="M420.21 510.57A83.3 83.3 0 0 1 425.95 534.18" fill="none" stroke="#444" stroke-width="1.5"/><path d="M421.83 509.92A85.05 85.05 0 0 1 427.69 534.02" fill="none" stroke="#666" stroke-width="2.0" stroke-dasharray="0.8,0.8"/><path d="M410.47 514.52A72.8 72.8 0 0 1 415.49 535.15" fill="none" stroke="#444" stroke-width="2.1"/><path d="M410.47 514.52A72.8 72.8 0 0 1 415.49 535.15" fill="none" stroke="#bbb" stroke-width="0.7" stroke-dasharray="0.7,0.9"/><circle cx="430.85" cy="532.93" r="0.55" fill="#2222ee"/><circle cx="430.63" cy="530.28" r="0.55" fill="#2222ee"/><circle cx="426.38" cy="513" r="0.55" fill="#2222ee"/><circle cx="430.51" cy="530.02" r="0.55" fill="#2222ee"/><circle cx="427.26" cy="515.64" r="0.55" fill="#2222ee"/><circle cx="427.74" cy="518.43" r="0.55" fill="#2222ee"/><circle cx="429.89" cy="526.63" r="0.55" fill="#2222ee"/><circle cx="426.08" cy="512.34" r="0.55" fill="#2222ee"/><circle cx="424.94" cy="510.74" r="0.55" fill="#2222ee"/><circle cx="430.54" cy="528.9" r="0.55" fill="#2222ee"/><circle cx="427.16" cy="515.08" r="0.55" fill="#2222ee"/><circle cx="426.3" cy="513.49" r="0.55" fill="#2222ee"/><circle cx="427.06" cy="517.56" r="0.55" fill="#2222ee"/><circle cx="428.16" cy="519.43" r="0.55" fill="#2222ee"/><circle cx="429.67" cy="529.69" r="0.55" fill="#2222ee"/><circle cx="426.54" cy="516.15" r="0.55" fill="#2222ee"/><circle cx="426.24" cy="514.19" r="0.55" fill="#2222ee"/><circle cx="430.56" cy="528.78" r="0.55" fill="#2222ee"/><circle cx="423.81" cy="515.34" r="0.7" fill="#e02020"/><circle cx="427.29" cy="530.53" r="0.7" fill="#e02020"/><path d="M414.92 512.71A77.6 77.6 0 0 1 420.27 534.71" fill="none" stroke="#7a1a6a" stroke-width="1.4"/><path d="M420.3 527.07A78.7 78.7 0 0 1 420.99 531.29" fill="none" stroke="#6a18b0" stroke-width="2.4"/><circle cx="421.76" cy="518.16" r="0.5" fill="#2a2af0"/><circle cx="423.64" cy="525.19" r="0.5" fill="#2a2af0"/><circle cx="420.71" cy="516.23" r="0.5" fill="#2a2af0"/><circle cx="422.35" cy="521.47" r="0.5" fill="#2a2af0"/><circle cx="423.42" cy="526.07" r="0.5" fill="#2a2af0"/><circle cx="405.5" cy="522.85" r="0.55" fill="#2a2af0"/><circle cx="407.17" cy="530.34" r="0.55" fill="#2a2af0"/><circle cx="405.29" cy="527.01" r="0.55" fill="#2a2af0"/><circle cx="406.1" cy="530.71" r="0.55" fill="#2a2af0"/><circle cx="406.46" cy="530.98" r="0.55" fill="#2a2af0"/><circle cx="406.71" cy="532.1" r="0.55" fill="#2a2af0"/><circle cx="406.38" cy="528.31" r="0.55" fill="#2a2af0"/><circle cx="404.02" cy="520.05" r="0.55" fill="#2a2af0"/><circle cx="404.55" cy="520.08" r="0.55" fill="#2a2af0"/><circle cx="404.88" cy="523.81" r="0.55" fill="#2a2af0"/><circle cx="407.66" cy="533.53" r="0.55" fill="#2a2af0"/><text x="443.48" y="520.52" font-size="8.8" font-weight="bold" text-anchor="middle">X</text><rect x="407.1" y="535.85" width="31.6" height="3.4" fill="#5a5a5a"/><line x1="409.6" y1="540.65" x2="436.2" y2="540.65" stroke="#aaa" stroke-width="0.8" stroke-dasharray="1,1.2"/></g>
<g><path d="M579.88 605.77Q583.24 544.05 643.84 531.82" fill="none" stroke="#10921a" stroke-width="0.45" stroke-opacity="0.54"/><path d="M641.11 564.04Q583.3 543.98 616.15 595.61" fill="none" stroke="#10921a" stroke-width="0.43" stroke-opacity="0.52"/><path d="M534.31 501.41Q580.47 544.17 624.63 589" fill="none" stroke="#10921a" stroke-width="0.58" stroke-opacity="0.59"/><path d="M607.78 485.4Q580.09 541.95 551.6 598.09" fill="none" stroke="#10921a" stroke-width="0.51" stroke-opacity="0.6"/><path d="M644.35 535.27Q583.32 541.65 606.02 484.64" fill="none" stroke="#10921a" stroke-width="0.58" stroke-opacity="0.52"/><path d="M585.11 479.89Q583.09 541.39 644.16 533.83" fill="none" stroke="#10921a" stroke-width="0.56" stroke-opacity="0.62"/><path d="M528.91 508.57Q580.59 541.32 558.9 484.11" fill="none" stroke="#10921a" stroke-width="0.52" stroke-opacity="0.47"/><path d="M560.42 483.54Q582.94 541.27 644.7 546.27" fill="none" stroke="#10921a" stroke-width="0.48" stroke-opacity="0.6"/><path d="M536.87 498.64Q579.91 542.53 526.27 572.56" fill="none" stroke="#10921a" stroke-width="0.55" stroke-opacity="0.46"/><path d="M541.2 494.63Q580.06 542.03 518.84 544.99" fill="none" stroke="#10921a" stroke-width="0.5" stroke-opacity="0.57"/><path d="M644.19 534.06Q583.21 544.08 578.92 605.73" fill="none" stroke="#10921a" stroke-width="0.54" stroke-opacity="0.49"/><path d="M615.89 595.78Q583.54 543.59 644.18 533.95" fill="none" stroke="#10921a" stroke-width="0.58" stroke-opacity="0.52"/><path d="M570.43 480.83Q583.64 542.28 604.45 601.59" fill="none" stroke="#10921a" stroke-width="0.58" stroke-opacity="0.63"/><path d="M536.19 586.26Q579.89 542.84 534.62 501.05" fill="none" stroke="#10921a" stroke-width="0.5" stroke-opacity="0.62"/><path d="M636.31 511.22Q582.88 541.22 591.4 480.53" fill="none" stroke="#10921a" stroke-width="0.43" stroke-opacity="0.54"/><path d="M519.09 536.81Q580.08 543.62 546.98 595.31" fill="none" stroke="#10921a" stroke-width="0.49" stroke-opacity="0.46"/><path d="M530.9 505.68Q579.97 543.34 559.5 601.72" fill="none" stroke="#10921a" stroke-width="0.43" stroke-opacity="0.54"/><path d="M643.56 555.24Q583.64 542.31 629.22 501.32" fill="none" stroke="#10921a" stroke-width="0.41" stroke-opacity="0.58"/><path d="M521.93 562.42Q580.08 541.97 560.05 483.67" fill="none" stroke="#10921a" stroke-width="0.59" stroke-opacity="0.59"/><path d="M608.12 600.04Q580.83 544.45 518.99 547.71" fill="none" stroke="#10921a" stroke-width="0.49" stroke-opacity="0.59"/><path d="M612.65 597.73Q582.18 544.67 575.01 605.43" fill="none" stroke="#10921a" stroke-width="0.5" stroke-opacity="0.57"/><path d="M612.45 487.76Q580.32 541.6 534.33 584.22" fill="none" stroke="#10921a" stroke-width="0.42" stroke-opacity="0.64"/><path d="M603.08 483.5Q583.65 542.34 628.3 585.3" fill="none" stroke="#10921a" stroke-width="0.58" stroke-opacity="0.53"/><path d="M530.93 505.64Q582.2 540.93 643.44 529.77" fill="none" stroke="#10921a" stroke-width="0.49" stroke-opacity="0.58"/><path d="M604.37 601.62Q583.71 542.81 604.71 484.11" fill="none" stroke="#10921a" stroke-width="0.54" stroke-opacity="0.49"/><path d="M619.81 492.56Q583.36 543.89 547.61 595.72" fill="none" stroke="#10921a" stroke-width="0.47" stroke-opacity="0.47"/><path d="M524.05 567.97Q579.89 542.79 524.38 516.87" fill="none" stroke="#10921a" stroke-width="0.41" stroke-opacity="0.61"/><path d="M638.36 570.56Q583.68 542.45 624.68 496.64" fill="none" stroke="#10921a" stroke-width="0.56" stroke-opacity="0.48"/><path d="M620.54 592.48Q580.79 544.42 520.09 530.13" fill="none" stroke="#10921a" stroke-width="0.54" stroke-opacity="0.64"/><path d="M518.86 540.16Q581.72 540.89 644.27 534.64" fill="none" stroke="#10921a" stroke-width="0.51" stroke-opacity="0.51"/><path d="M603.68 483.72Q581.81 540.89 560.23 483.61" fill="none" stroke="#10921a" stroke-width="0.51" stroke-opacity="0.51"/><path d="M534.35 584.24Q583.05 544.24 629.38 501.51" fill="none" stroke="#10921a" stroke-width="0.57" stroke-opacity="0.64"/><path d="M518.84 540.43Q580.12 541.89 545.61 491.23" fill="none" stroke="#10921a" stroke-width="0.5" stroke-opacity="0.53"/><path d="M625.5 497.42Q581.62 540.9 530.4 506.38" fill="none" stroke="#10921a" stroke-width="0.41" stroke-opacity="0.56"/><path d="M527.48 574.71Q582.42 544.61 644.29 534.77" fill="none" stroke="#10921a" stroke-width="0.49" stroke-opacity="0.48"/><path d="M523.66 567.06Q580.72 541.23 625.42 497.35" fill="none" stroke="#10921a" stroke-width="0.46" stroke-opacity="0.49"/><path d="M549.52 488.7Q582.65 541.09 644.45 536.16" fill="none" stroke="#10921a" stroke-width="0.4" stroke-opacity="0.49"/><path d="M598 603.68Q583.69 542.53 580.15 479.82" fill="none" stroke="#10921a" stroke-width="0.52" stroke-opacity="0.47"/><path d="M603.57 483.68Q583.65 542.33 629.2 584.3" fill="none" stroke="#10921a" stroke-width="0.44" stroke-opacity="0.56"/><path d="M519.89 531.15Q581.47 540.92 635.94 510.58" fill="none" stroke="#10921a" stroke-width="0.45" stroke-opacity="0.6"/><path d="M624.57 496.55Q583.49 541.91 644.08 533.32" fill="none" stroke="#10921a" stroke-width="0.58" stroke-opacity="0.49"/><path d="M599.93 482.47Q583.67 543.2 573.69 605.28" fill="none" stroke="#10921a" stroke-width="0.48" stroke-opacity="0.61"/><path d="M628.16 585.46Q581.73 544.71 532.48 582" fill="none" stroke="#10921a" stroke-width="0.44" stroke-opacity="0.59"/><path d="M612.02 487.52Q580.87 541.14 518.88 539.7" fill="none" stroke="#10921a" stroke-width="0.41" stroke-opacity="0.47"/><path d="M643.19 556.96Q582.42 540.99 524.54 516.52" fill="none" stroke="#10921a" stroke-width="0.43" stroke-opacity="0.49"/><path d="M603.35 602Q583.64 543.32 631.01 503.47" fill="none" stroke="#10921a" stroke-width="0.42" stroke-opacity="0.46"/><path d="M644.44 536.12Q582.08 544.69 519.97 554.88" fill="none" stroke="#10921a" stroke-width="0.49" stroke-opacity="0.55"/><path d="M526.52 573.02Q579.94 542.4 543.97 492.42" fill="none" stroke="#10921a" stroke-width="0.57" stroke-opacity="0.49"/><path d="M522.24 563.33Q580.43 541.47 600.8 482.73" fill="none" stroke="#10921a" stroke-width="0.43" stroke-opacity="0.55"/><path d="M634.01 507.54Q582.37 540.98 558.98 484.08" fill="none" stroke="#10921a" stroke-width="0.5" stroke-opacity="0.65"/><path d="M627.65 499.6Q583.51 543.66 574.55 605.38" fill="none" stroke="#10921a" stroke-width="0.56" stroke-opacity="0.61"/><path d="M527.7 575.08Q582.42 544.61 644.34 535.22" fill="none" stroke="#10921a" stroke-width="0.55" stroke-opacity="0.6"/><path d="M532.16 581.59Q580.24 541.69 602.1 483.16" fill="none" stroke="#10921a" stroke-width="0.49" stroke-opacity="0.45"/><path d="M540.51 590.38Q579.92 542.5 557.12 484.83" fill="none" stroke="#10921a" stroke-width="0.59" stroke-opacity="0.58"/><path d="M549.05 596.62Q579.91 542.55 564.06 482.35" fill="none" stroke="#10921a" stroke-width="0.48" stroke-opacity="0.65"/><path d="M642.85 558.35Q582.95 541.28 550.03 488.4" fill="none" stroke="#10921a" stroke-width="0.48" stroke-opacity="0.46"/><path d="M608.59 599.82Q581.45 544.68 536.4 586.48" fill="none" stroke="#10921a" stroke-width="0.58" stroke-opacity="0.56"/><path d="M519.85 531.35Q582.04 540.91 644.65 547.18" fill="none" stroke="#10921a" stroke-width="0.53" stroke-opacity="0.61"/><path d="M632.2 580.6Q583.09 541.4 540.14 495.54" fill="none" stroke="#10921a" stroke-width="0.59" stroke-opacity="0.48"/><path d="M519.72 553.51Q581.03 544.55 616.03 595.69" fill="none" stroke="#10921a" stroke-width="0.41" stroke-opacity="0.64"/><path d="M576.36 605.56Q579.9 543 563.13 482.63" fill="none" stroke="#10921a" stroke-width="0.54" stroke-opacity="0.51"/><path d="M644.79 544.17Q583.22 544.07 590.04 605.26" fill="none" stroke="#10921a" stroke-width="0.55" stroke-opacity="0.53"/><path d="M643.87 531.99Q583.36 541.71 613.23 488.2" fill="none" stroke="#10921a" stroke-width="0.59" stroke-opacity="0.46"/><path d="M644.2 534.13Q582.29 544.64 523.45 566.56" fill="none" stroke="#10921a" stroke-width="0.45" stroke-opacity="0.55"/><path d="M644.35 535.31Q583.34 541.67 607.6 485.33" fill="none" stroke="#10921a" stroke-width="0.56" stroke-opacity="0.57"/><path d="M628.71 584.85Q583.35 541.69 556.98 484.9" fill="none" stroke="#10921a" stroke-width="0.41" stroke-opacity="0.56"/><path d="M628.2 585.41Q581.52 544.69 525.02 570.09" fill="none" stroke="#10921a" stroke-width="0.45" stroke-opacity="0.57"/><path d="M524.78 569.58Q580.6 541.31 620.13 492.8" fill="none" stroke="#10921a" stroke-width="0.59" stroke-opacity="0.6"/><path d="M584.42 605.75Q582.6 544.53 627.92 585.72" fill="none" stroke="#10921a" stroke-width="0.52" stroke-opacity="0.52"/><path d="M576.32 605.56Q579.89 542.71 582.42 479.8" fill="none" stroke="#10921a" stroke-width="0.53" stroke-opacity="0.6"/><path d="M526.21 572.44Q579.97 542.26 551.2 487.73" fill="none" stroke="#10921a" stroke-width="0.41" stroke-opacity="0.47"/><path d="M571.86 480.59Q580.64 541.29 524.16 517.36" fill="none" stroke="#10921a" stroke-width="0.5" stroke-opacity="0.49"/><path d="M538.98 589.01Q580.23 541.72 609.55 486.24" fill="none" stroke="#10921a" stroke-width="0.42" stroke-opacity="0.61"/><path d="M557.03 484.87Q582 540.9 618.01 491.25" fill="none" stroke="#10921a" stroke-width="0.45" stroke-opacity="0.61"/><path d="M537.92 588.01Q579.94 542.35 563.28 482.58" fill="none" stroke="#10921a" stroke-width="0.51" stroke-opacity="0.6"/><path d="M644.32 535.04Q582.38 544.62 526.22 572.47" fill="none" stroke="#10921a" stroke-width="0.58" stroke-opacity="0.47"/><path d="M632.84 579.74Q580.69 544.35 530.37 506.42" fill="none" stroke="#10921a" stroke-width="0.46" stroke-opacity="0.61"/><path d="M632.43 580.29Q582.89 544.36 599.56 603.25" fill="none" stroke="#10921a" stroke-width="0.46" stroke-opacity="0.59"/><path d="M578.1 479.91Q579.89 542.8 578.36 605.71" fill="none" stroke="#10921a" stroke-width="0.55" stroke-opacity="0.52"/><path d="M628.44 585.15Q583.63 542.25 597.07 481.68" fill="none" stroke="#10921a" stroke-width="0.59" stroke-opacity="0.63"/><path d="M525.51 571.1Q580.65 541.28 624.58 496.55" fill="none" stroke="#10921a" stroke-width="0.48" stroke-opacity="0.64"/><path d="M644.12 533.55Q583.31 543.97 588.45 605.45" fill="none" stroke="#10921a" stroke-width="0.47" stroke-opacity="0.53"/><path d="M535.4 585.41Q581.37 544.66 604.5 601.57" fill="none" stroke="#10921a" stroke-width="0.51" stroke-opacity="0.62"/><path d="M530.74 505.9Q580.41 544.1 615.26 596.18" fill="none" stroke="#10921a" stroke-width="0.46" stroke-opacity="0.45"/><path d="M562.31 482.89Q582.23 540.94 625.79 497.7" fill="none" stroke="#10921a" stroke-width="0.56" stroke-opacity="0.47"/><path d="M631.87 581.03Q583.61 542.21 599.82 482.43" fill="none" stroke="#10921a" stroke-width="0.53" stroke-opacity="0.48"/><path d="M610.25 486.59Q581.96 540.9 562.89 482.7" fill="none" stroke="#10921a" stroke-width="0.55" stroke-opacity="0.55"/><path d="M610.63 486.78Q580.3 541.62 534.14 584" fill="none" stroke="#10921a" stroke-width="0.53" stroke-opacity="0.55"/><path d="M521.98 523.04Q581.02 541.06 607.06 485.09" fill="none" stroke="#10921a" stroke-width="0.48" stroke-opacity="0.62"/><path d="M573.12 480.4Q582.62 541.08 635.84 510.42" fill="none" stroke="#10921a" stroke-width="0.58" stroke-opacity="0.64"/><path d="M564.72 482.16Q580.4 541.5 520.05 530.3" fill="none" stroke="#10921a" stroke-width="0.48" stroke-opacity="0.53"/><path d="M618.91 593.71Q583.69 542.52 602.39 483.26" fill="none" stroke="#10921a" stroke-width="0.43" stroke-opacity="0.49"/><path d="M523.46 566.59Q580.57 544.26 568.27 604.33" fill="none" stroke="#10921a" stroke-width="0.46" stroke-opacity="0.47"/><path d="M562.74 482.75Q582.06 540.91 616.64 490.31" fill="none" stroke="#10921a" stroke-width="0.49" stroke-opacity="0.57"/><path d="M611.47 487.23Q583.51 543.65 555.67 600.12" fill="none" stroke="#10921a" stroke-width="0.5" stroke-opacity="0.5"/><path d="M644.27 534.63Q581.6 540.9 518.98 547.56" fill="none" stroke="#10921a" stroke-width="0.59" stroke-opacity="0.61"/><path d="M535.55 585.58Q579.97 543.35 519.62 532.66" fill="none" stroke="#10921a" stroke-width="0.6" stroke-opacity="0.58"/><path d="M587.63 605.53Q583.17 544.12 644.71 546.23" fill="none" stroke="#10921a" stroke-width="0.56" stroke-opacity="0.59"/><path d="M540.78 494.99Q580.28 543.95 616.86 595.15" fill="none" stroke="#10921a" stroke-width="0.45" stroke-opacity="0.62"/><path d="M520.23 529.45Q580.33 541.58 557.3 484.76" fill="none" stroke="#10921a" stroke-width="0.51" stroke-opacity="0.48"/><path d="M619.49 492.32Q583.55 542.03 644.47 549.21" fill="none" stroke="#10921a" stroke-width="0.56" stroke-opacity="0.47"/><path d="M580.93 605.79Q583.68 543.14 603.31 483.59" fill="none" stroke="#10921a" stroke-width="0.49" stroke-opacity="0.64"/><path d="M535.14 500.46Q581.98 540.9 635.66 510.12" fill="none" stroke="#10921a" stroke-width="0.48" stroke-opacity="0.63"/><path d="M633.46 578.86Q583.71 542.72 630.15 502.41" fill="none" stroke="#10921a" stroke-width="0.51" stroke-opacity="0.48"/><path d="M629.62 501.78Q583.36 543.9 559.22 601.62" fill="none" stroke="#10921a" stroke-width="0.46" stroke-opacity="0.54"/><path d="M605.11 484.27Q580.13 541.87 544.4 593.5" fill="none" stroke="#10921a" stroke-width="0.48" stroke-opacity="0.54"/><path d="M644.72 546.02Q583.6 542.17 628.92 500.98" fill="none" stroke="#10921a" stroke-width="0.48" stroke-opacity="0.59"/><path d="M587.74 605.52Q580.19 543.83 527.24 511.3" fill="none" stroke="#10921a" stroke-width="0.6" stroke-opacity="0.61"/><path d="M607.48 600.33Q580.1 543.66 550.52 488.12" fill="none" stroke="#10921a" stroke-width="0.51" stroke-opacity="0.51"/><path d="M607.25 600.43Q583.71 542.8 607.32 485.2" fill="none" stroke="#10921a" stroke-width="0.51" stroke-opacity="0.59"/><path d="M551.51 598.04Q583.29 544 629.22 501.32" fill="none" stroke="#10921a" stroke-width="0.42" stroke-opacity="0.59"/><path d="M592.51 480.72Q583.69 542.51 610.68 598.79" fill="none" stroke="#10921a" stroke-width="0.52" stroke-opacity="0.47"/><path d="M565.14 482.04Q582 540.9 610.82 486.88" fill="none" stroke="#10921a" stroke-width="0.47" stroke-opacity="0.53"/><path d="M644.56 548.29Q582.21 544.66 527.19 574.22" fill="none" stroke="#10921a" stroke-width="0.56" stroke-opacity="0.58"/><path d="M550.33 488.22Q582.8 541.17 644.72 546.05" fill="none" stroke="#10921a" stroke-width="0.53" stroke-opacity="0.47"/><path d="M534.69 584.63Q579.96 543.29 520.07 530.2" fill="none" stroke="#10921a" stroke-width="0.52" stroke-opacity="0.48"/><path d="M611.47 487.23Q583.36 541.7 644.11 533.5" fill="none" stroke="#10921a" stroke-width="0.5" stroke-opacity="0.48"/><path d="M593.52 480.9Q583.3 541.62 644.71 546.23" fill="none" stroke="#10921a" stroke-width="0.57" stroke-opacity="0.49"/><path d="M644.26 534.57Q582.74 541.14 556.38 485.16" fill="none" stroke="#10921a" stroke-width="0.45" stroke-opacity="0.57"/><path d="M585.67 479.92Q579.97 542.25 550.12 597.25" fill="none" stroke="#10921a" stroke-width="0.49" stroke-opacity="0.47"/><path d="M644.67 546.87Q583.5 543.67 621.61 591.63" fill="none" stroke="#10921a" stroke-width="0.51" stroke-opacity="0.56"/><path d="M572.13 605.05Q583.12 544.18 644.41 535.84" fill="none" stroke="#10921a" stroke-width="0.52" stroke-opacity="0.47"/><path d="M630.95 503.38Q583.41 543.83 566.86 604" fill="none" stroke="#10921a" stroke-width="0.51" stroke-opacity="0.62"/><path d="M613.72 597.12Q580.55 544.24 523.53 518.84" fill="none" stroke="#10921a" stroke-width="0.44" stroke-opacity="0.65"/><path d="M644.3 534.87Q582.85 541.21 564.58 482.2" fill="none" stroke="#10921a" stroke-width="0.55" stroke-opacity="0.53"/><path d="M534.25 501.47Q581.68 540.9 623.95 495.98" fill="none" stroke="#10921a" stroke-width="0.49" stroke-opacity="0.48"/><path d="M536.65 586.74Q579.9 542.97 529.56 507.59" fill="none" stroke="#10921a" stroke-width="0.45" stroke-opacity="0.56"/><path d="M551.79 598.19Q579.9 542.59 564.57 482.2" fill="none" stroke="#10921a" stroke-width="0.43" stroke-opacity="0.64"/><path d="M542.25 493.76Q580.02 542.11 519.54 552.46" fill="none" stroke="#10921a" stroke-width="0.54" stroke-opacity="0.6"/><path d="M613.25 488.21Q580.92 541.1 519.09 536.81" fill="none" stroke="#10921a" stroke-width="0.57" stroke-opacity="0.53"/><path d="M523.65 567.03Q579.9 542.61 529.59 507.54" fill="none" stroke="#10921a" stroke-width="0.51" stroke-opacity="0.54"/><path d="M643.87 532.01Q582.86 544.38 548.26 596.13" fill="none" stroke="#10921a" stroke-width="0.58" stroke-opacity="0.6"/><path d="M541.63 494.27Q581.61 540.9 611.65 487.32" fill="none" stroke="#10921a" stroke-width="0.41" stroke-opacity="0.47"/><path d="M579.03 479.86Q580.53 541.37 519.64 532.52" fill="none" stroke="#10921a" stroke-width="0.48" stroke-opacity="0.5"/><path d="M635.05 576.46Q583.66 543.22 644.32 535.08" fill="none" stroke="#10921a" stroke-width="0.57" stroke-opacity="0.53"/><path d="M626.82 498.73Q583.63 543.33 596.41 604.08" fill="none" stroke="#10921a" stroke-width="0.58" stroke-opacity="0.47"/><path d="M618.43 491.55Q583.7 542.62 627.51 586.15" fill="none" stroke="#10921a" stroke-width="0.4" stroke-opacity="0.5"/><path d="M624.79 496.75Q580.46 541.44 535.33 585.34" fill="none" stroke="#10921a" stroke-width="0.41" stroke-opacity="0.46"/><path d="M644.22 534.24Q582.93 544.34 555.11 599.87" fill="none" stroke="#10921a" stroke-width="0.6" stroke-opacity="0.54"/><path d="M603.75 601.85Q581.83 544.71 561.84 602.55" fill="none" stroke="#10921a" stroke-width="0.44" stroke-opacity="0.62"/><path d="M543.89 593.12Q580.15 543.75 519.25 550.35" fill="none" stroke="#10921a" stroke-width="0.6" stroke-opacity="0.49"/><path d="M560.42 483.54Q583.53 541.99 613.82 597.06" fill="none" stroke="#10921a" stroke-width="0.42" stroke-opacity="0.6"/><path d="M555.42 600.01Q582.92 544.34 644.35 535.32" fill="none" stroke="#10921a" stroke-width="0.43" stroke-opacity="0.59"/><path d="M644.22 534.25Q582.25 544.65 522.47 564" fill="none" stroke="#10921a" stroke-width="0.46" stroke-opacity="0.59"/><path d="M618.9 491.88Q580.39 541.51 534.39 584.29" fill="none" stroke="#10921a" stroke-width="0.52" stroke-opacity="0.5"/><path d="M563.58 603.11Q583.03 544.26 644.29 534.79" fill="none" stroke="#10921a" stroke-width="0.53" stroke-opacity="0.47"/><path d="M644.74 545.59Q582.17 544.67 524.78 569.58" fill="none" stroke="#10921a" stroke-width="0.41" stroke-opacity="0.57"/><path d="M579.46 605.76Q583.65 543.28 610.39 486.66" fill="none" stroke="#10921a" stroke-width="0.51" stroke-opacity="0.49"/><path d="M612.99 488.06Q580.31 541.61 535.6 585.63" fill="none" stroke="#10921a" stroke-width="0.44" stroke-opacity="0.56"/><path d="M564.53 482.21Q579.94 542.36 539.37 589.37" fill="none" stroke="#10921a" stroke-width="0.5" stroke-opacity="0.55"/><path d="M630.1 502.35Q582.66 541.1 585.88 479.93" fill="none" stroke="#10921a" stroke-width="0.43" stroke-opacity="0.61"/><path d="M617.1 594.98Q583.42 541.79 550.78 487.97" fill="none" stroke="#10921a" stroke-width="0.55" stroke-opacity="0.61"/><path d="M618.25 491.42Q583.65 543.27 589.55 605.32" fill="none" stroke="#10921a" stroke-width="0.52" stroke-opacity="0.55"/><path d="M642.89 558.2Q582.84 541.2 543.2 493.01" fill="none" stroke="#10921a" stroke-width="0.57" stroke-opacity="0.49"/><path d="M621.89 591.4Q583.5 543.67 644.68 546.63" fill="none" stroke="#10921a" stroke-width="0.49" stroke-opacity="0.5"/><path d="M627.63 499.58Q583.69 542.57 636.79 573.55" fill="none" stroke="#10921a" stroke-width="0.51" stroke-opacity="0.61"/><path d="M588.87 605.4Q582.59 544.54 624.49 589.13" fill="none" stroke="#10921a" stroke-width="0.46" stroke-opacity="0.57"/><path d="M519.87 531.25Q580.32 544.01 581.02 605.8" fill="none" stroke="#10921a" stroke-width="0.56" stroke-opacity="0.48"/><path d="M617.96 491.21Q583.62 542.22 641.12 564.02" fill="none" stroke="#10921a" stroke-width="0.44" stroke-opacity="0.64"/><path d="M642.82 558.49Q581.46 544.68 519.15 536.15" fill="none" stroke="#10921a" stroke-width="0.43" stroke-opacity="0.54"/><path d="M610.23 486.58Q583.54 542.02 642.61 559.28" fill="none" stroke="#10921a" stroke-width="0.43" stroke-opacity="0.53"/><path d="M568.14 604.3Q580.65 544.32 526.45 572.88" fill="none" stroke="#10921a" stroke-width="0.6" stroke-opacity="0.6"/><path d="M601.32 482.9Q583.71 542.88 596.5 604.06" fill="none" stroke="#10921a" stroke-width="0.45" stroke-opacity="0.54"/><path d="M644.31 534.95Q582.65 544.51 537.98 588.06" fill="none" stroke="#10921a" stroke-width="0.52" stroke-opacity="0.46"/><path d="M532.23 581.69Q579.98 542.23 563.35 482.56" fill="none" stroke="#10921a" stroke-width="0.54" stroke-opacity="0.62"/><path d="M535.65 499.92Q582.24 540.94 642.37 525.46" fill="none" stroke="#10921a" stroke-width="0.57" stroke-opacity="0.53"/><path d="M617.72 491.04Q583.68 543.12 598.9 603.43" fill="none" stroke="#10921a" stroke-width="0.51" stroke-opacity="0.48"/><path d="M521.9 562.33Q582.04 544.69 644.68 546.73" fill="none" stroke="#10921a" stroke-width="0.44" stroke-opacity="0.53"/><path d="M637.62 572Q583.41 541.78 579.37 479.85" fill="none" stroke="#10921a" stroke-width="0.4" stroke-opacity="0.49"/><path d="M572.8 605.15Q580.9 544.48 534.92 584.89" fill="none" stroke="#10921a" stroke-width="0.45" stroke-opacity="0.52"/><path d="M622.68 590.73Q583.57 543.51 644.44 536.12" fill="none" stroke="#10921a" stroke-width="0.54" stroke-opacity="0.63"/><path d="M644.7 546.31Q582.73 544.47 551.55 598.06" fill="none" stroke="#10921a" stroke-width="0.58" stroke-opacity="0.52"/><path d="M616.61 490.29Q581.04 541.05 519.71 532.13" fill="none" stroke="#10921a" stroke-width="0.45" stroke-opacity="0.46"/><path d="M624.55 589.08Q580.46 544.15 535.17 500.43" fill="none" stroke="#10921a" stroke-width="0.48" stroke-opacity="0.56"/><path d="M623.26 590.24Q583.65 542.33 595.37 481.28" fill="none" stroke="#10921a" stroke-width="0.53" stroke-opacity="0.48"/><path d="M536.48 586.56Q582.88 544.37 639 516.39" fill="none" stroke="#10921a" stroke-width="0.47" stroke-opacity="0.49"/><path d="M624.48 496.46Q583.57 542.08 644.71 546.07" fill="none" stroke="#10921a" stroke-width="0.58" stroke-opacity="0.49"/><path d="M599.51 603.26Q580 543.43 558.11 484.42" fill="none" stroke="#10921a" stroke-width="0.48" stroke-opacity="0.46"/><path d="M616.42 595.43Q581.48 544.68 531.59 580.85" fill="none" stroke="#10921a" stroke-width="0.53" stroke-opacity="0.5"/><path d="M632.98 579.54Q582.22 544.66 551.2 597.87" fill="none" stroke="#10921a" stroke-width="0.52" stroke-opacity="0.59"/><path d="M523.52 518.88Q580.72 541.23 580.49 479.81" fill="none" stroke="#10921a" stroke-width="0.47" stroke-opacity="0.46"/><path d="M529.71 578.24Q582.03 544.69 640.77 564.96" fill="none" stroke="#10921a" stroke-width="0.49" stroke-opacity="0.52"/><path d="M588.59 605.43Q583.04 544.25 642.6 559.29" fill="none" stroke="#10921a" stroke-width="0.51" stroke-opacity="0.5"/><path d="M570.7 480.79Q583.6 542.17 611.58 598.32" fill="none" stroke="#10921a" stroke-width="0.59" stroke-opacity="0.52"/><path d="M530.8 505.81Q582.29 540.95 644.4 535.74" fill="none" stroke="#10921a" stroke-width="0.52" stroke-opacity="0.53"/><path d="M527.95 575.5Q580.75 544.4 573.23 605.21" fill="none" stroke="#10921a" stroke-width="0.48" stroke-opacity="0.63"/><path d="M643.2 556.92Q583.43 543.78 622.98 590.48" fill="none" stroke="#10921a" stroke-width="0.47" stroke-opacity="0.65"/><path d="M596.56 604.05Q583.26 544.02 644.7 546.37" fill="none" stroke="#10921a" stroke-width="0.45" stroke-opacity="0.55"/><path d="M564.4 482.25Q580.56 541.35 524.53 516.56" fill="none" stroke="#10921a" stroke-width="0.57" stroke-opacity="0.64"/><path d="M630.33 502.63Q583.69 543.08 616.38 595.46" fill="none" stroke="#10921a" stroke-width="0.51" stroke-opacity="0.52"/><path d="M576.62 605.59Q583.64 543.32 610.22 486.57" fill="none" stroke="#10921a" stroke-width="0.45" stroke-opacity="0.51"/><path d="M613.52 597.23Q580.73 544.38 519.47 533.61" fill="none" stroke="#10921a" stroke-width="0.41" stroke-opacity="0.47"/><path d="M592.95 480.79Q583.61 542.2 627.95 585.69" fill="none" stroke="#10921a" stroke-width="0.5" stroke-opacity="0.48"/><path d="M519.71 532.13Q581.09 541.03 619.1 492.03" fill="none" stroke="#10921a" stroke-width="0.45" stroke-opacity="0.59"/><path d="M629.87 502.08Q581.72 540.89 530.48 506.27" fill="none" stroke="#10921a" stroke-width="0.52" stroke-opacity="0.62"/><path d="M624.9 496.85Q583.71 542.73 628.2 585.42" fill="none" stroke="#10921a" stroke-width="0.45" stroke-opacity="0.49"/><path d="M644.41 549.8Q582.63 541.08 537.3 498.2" fill="none" stroke="#10921a" stroke-width="0.43" stroke-opacity="0.59"/><path d="M525.21 570.48Q580.03 542.08 560.69 483.44" fill="none" stroke="#10921a" stroke-width="0.6" stroke-opacity="0.46"/><path d="M589.3 480.25Q583.58 542.12 629.11 584.4" fill="none" stroke="#10921a" stroke-width="0.55" stroke-opacity="0.65"/><path d="M629.72 583.7Q582.1 544.68 549.19 596.7" fill="none" stroke="#10921a" stroke-width="0.5" stroke-opacity="0.52"/><path d="M555.56 600.08Q583.39 543.86 624.4 496.39" fill="none" stroke="#10921a" stroke-width="0.48" stroke-opacity="0.57"/><path d="M610.83 486.89Q583.46 541.85 644.71 546.15" fill="none" stroke="#10921a" stroke-width="0.51" stroke-opacity="0.61"/><path d="M590.32 605.22Q580.5 544.2 518.91 539.1" fill="none" stroke="#10921a" stroke-width="0.4" stroke-opacity="0.56"/><path d="M623.18 590.31Q583.42 541.79 557.1 484.84" fill="none" stroke="#10921a" stroke-width="0.5" stroke-opacity="0.52"/><path d="M581.25 605.8Q582.86 544.39 640.27 566.25" fill="none" stroke="#10921a" stroke-width="0.46" stroke-opacity="0.47"/><path d="M610.03 599.12Q580.85 544.46 518.94 546.96" fill="none" stroke="#10921a" stroke-width="0.57" stroke-opacity="0.55"/><path d="M530.27 579.04Q580.52 541.38 623.17 495.29" fill="none" stroke="#10921a" stroke-width="0.51" stroke-opacity="0.58"/><path d="M552.84 486.85Q579.92 543.13 573.37 605.23" fill="none" stroke="#10921a" stroke-width="0.6" stroke-opacity="0.54"/><path d="M611.34 487.15Q583.54 543.59 559.54 601.74" fill="none" stroke="#10921a" stroke-width="0.44" stroke-opacity="0.64"/><path d="M644.5 548.98Q582.08 540.91 520.04 530.34" fill="none" stroke="#10921a" stroke-width="0.55" stroke-opacity="0.53"/><path d="M633.02 579.47Q583.65 543.28 644.43 535.96" fill="none" stroke="#10921a" stroke-width="0.45" stroke-opacity="0.63"/><path d="M643.57 555.17Q582.52 541.03 528.94 508.53" fill="none" stroke="#10921a" stroke-width="0.47" stroke-opacity="0.58"/><path d="M626.27 498.17Q583.22 544.07 542.51 592.05" fill="none" stroke="#10921a" stroke-width="0.46" stroke-opacity="0.63"/><path d="M550.25 597.33Q582.18 544.67 632.24 580.54" fill="none" stroke="#10921a" stroke-width="0.44" stroke-opacity="0.6"/><path d="M523.8 518.21Q580.58 541.33 568.11 481.3" fill="none" stroke="#10921a" stroke-width="0.43" stroke-opacity="0.52"/><path d="M524.87 569.77Q582.16 544.67 644.7 546.43" fill="none" stroke="#10921a" stroke-width="0.46" stroke-opacity="0.56"/><path d="M644.48 536.43Q583.45 543.76 607.3 600.41" fill="none" stroke="#10921a" stroke-width="0.55" stroke-opacity="0.47"/><path d="M644.66 547.07Q582.19 544.67 525.8 571.66" fill="none" stroke="#10921a" stroke-width="0.48" stroke-opacity="0.59"/><path d="M611.33 598.45Q582.12 544.68 572.56 605.12" fill="none" stroke="#10921a" stroke-width="0.46" stroke-opacity="0.49"/><path d="M544.08 593.26Q582.61 544.53 644.72 545.95" fill="none" stroke="#10921a" stroke-width="0.48" stroke-opacity="0.58"/><path d="M594.3 604.55Q580 543.44 552.5 487.03" fill="none" stroke="#10921a" stroke-width="0.53" stroke-opacity="0.55"/><path d="M531.13 505.36Q580.59 544.27 628.15 585.47" fill="none" stroke="#10921a" stroke-width="0.49" stroke-opacity="0.58"/><path d="M522.01 562.64Q579.94 542.36 537.17 498.33" fill="none" stroke="#10921a" stroke-width="0.43" stroke-opacity="0.54"/><path d="M644.77 544.86Q583.4 541.76 605.54 484.44" fill="none" stroke="#10921a" stroke-width="0.6" stroke-opacity="0.53"/><path d="M640.93 521.06Q583.67 543.16 628.63 584.95" fill="none" stroke="#10921a" stroke-width="0.45" stroke-opacity="0.62"/><path d="M565.17 482.03Q582.88 541.22 644.45 536.21" fill="none" stroke="#10921a" stroke-width="0.5" stroke-opacity="0.65"/><path d="M636.18 574.6Q583.71 542.89 638.87 516.12" fill="none" stroke="#10921a" stroke-width="0.56" stroke-opacity="0.54"/><path d="M520.88 526.74Q581.63 540.9 638.96 516.31" fill="none" stroke="#10921a" stroke-width="0.53" stroke-opacity="0.46"/><path d="M524.39 516.86Q581.28 540.96 617.32 490.77" fill="none" stroke="#10921a" stroke-width="0.56" stroke-opacity="0.62"/><path d="M619.8 492.55Q581.35 540.95 525 515.55" fill="none" stroke="#10921a" stroke-width="0.43" stroke-opacity="0.52"/><path d="M629.32 501.43Q583.71 542.81 628.87 584.67" fill="none" stroke="#10921a" stroke-width="0.57" stroke-opacity="0.57"/><path d="M559.64 483.83Q582.51 541.03 638.71 515.77" fill="none" stroke="#10921a" stroke-width="0.53" stroke-opacity="0.54"/><path d="M644.72 545.88Q582.69 544.49 548.75 596.43" fill="none" stroke="#10921a" stroke-width="0.46" stroke-opacity="0.57"/><path d="M577.96 479.92Q583.64 542.28 611.26 598.49" fill="none" stroke="#10921a" stroke-width="0.49" stroke-opacity="0.48"/><path d="M628.34 585.26Q583.62 543.38 644.32 535.01" fill="none" stroke="#10921a" stroke-width="0.44" stroke-opacity="0.65"/><path d="M528.98 577.14Q581.52 544.69 622.31 591.05" fill="none" stroke="#10921a" stroke-width="0.56" stroke-opacity="0.53"/><path d="M594.08 481.01Q583.71 542.74 598.24 603.62" fill="none" stroke="#10921a" stroke-width="0.57" stroke-opacity="0.51"/><path d="M634.23 507.88Q582.6 541.07 574.04 480.28" fill="none" stroke="#10921a" stroke-width="0.48" stroke-opacity="0.6"/><path d="M540.25 495.44Q579.96 542.31 522.22 563.28" fill="none" stroke="#10921a" stroke-width="0.46" stroke-opacity="0.54"/><path d="M644.42 535.93Q583.02 544.27 563.55 603.1" fill="none" stroke="#10921a" stroke-width="0.45" stroke-opacity="0.53"/><path d="M629.2 584.31Q583.63 543.34 644.16 533.85" fill="none" stroke="#10921a" stroke-width="0.47" stroke-opacity="0.61"/><path d="M634.63 508.48Q581.94 540.9 534.51 501.18" fill="none" stroke="#10921a" stroke-width="0.58" stroke-opacity="0.47"/><path d="M538.2 588.27Q582.7 544.48 643.84 531.86" fill="none" stroke="#10921a" stroke-width="0.53" stroke-opacity="0.54"/><path d="M542.79 592.27Q580.15 543.76 519.49 552.07" fill="none" stroke="#10921a" stroke-width="0.52" stroke-opacity="0.64"/><path d="M644.76 545.05Q583.39 543.86 608.33 599.94" fill="none" stroke="#10921a" stroke-width="0.48" stroke-opacity="0.6"/><path d="M612.52 487.8Q583.66 543.22 585.66 605.68" fill="none" stroke="#10921a" stroke-width="0.56" stroke-opacity="0.47"/><path d="M519.27 550.52Q581.81 544.71 644.41 549.82" fill="none" stroke="#10921a" stroke-width="0.58" stroke-opacity="0.45"/><path d="M541.17 590.95Q579.98 543.38 520.72 527.36" fill="none" stroke="#10921a" stroke-width="0.56" stroke-opacity="0.51"/><path d="M519.85 531.35Q580.97 544.52 629.48 583.98" fill="none" stroke="#10921a" stroke-width="0.42" stroke-opacity="0.55"/><path d="M566.81 603.99Q583.54 543.59 617.97 491.22" fill="none" stroke="#10921a" stroke-width="0.41" stroke-opacity="0.49"/><path d="M522.17 563.14Q579.9 542.68 525.11 515.32" fill="none" stroke="#10921a" stroke-width="0.42" stroke-opacity="0.62"/><path d="M621.72 591.54Q583.51 543.65 644.76 545.17" fill="none" stroke="#10921a" stroke-width="0.52" stroke-opacity="0.62"/><path d="M644.79 543.83Q582.39 544.61 531.66 580.95" fill="none" stroke="#10921a" stroke-width="0.56" stroke-opacity="0.6"/><path d="M593.65 480.93Q583.67 542.41 617.68 594.59" fill="none" stroke="#10921a" stroke-width="0.42" stroke-opacity="0.51"/><path d="M644.68 546.68Q582.97 541.29 562.25 482.91" fill="none" stroke="#10921a" stroke-width="0.48" stroke-opacity="0.47"/><path d="M572.84 605.16Q582.46 544.59 629.01 584.51" fill="none" stroke="#10921a" stroke-width="0.5" stroke-opacity="0.58"/><path d="M644.07 533.24Q582.61 544.53 534.85 584.8" fill="none" stroke="#10921a" stroke-width="0.45" stroke-opacity="0.52"/><path d="M521.72 561.75Q581.78 544.71 641.56 562.73" fill="none" stroke="#10921a" stroke-width="0.51" stroke-opacity="0.56"/><path d="M531.99 581.37Q581.18 544.61 597.68 603.77" fill="none" stroke="#10921a" stroke-width="0.46" stroke-opacity="0.55"/><path d="M596.93 603.96Q583.7 543 609.29 486.11" fill="none" stroke="#10921a" stroke-width="0.48" stroke-opacity="0.64"/><path d="M644.4 549.92Q582.59 541.06 535.34 500.25" fill="none" stroke="#10921a" stroke-width="0.52" stroke-opacity="0.52"/><path d="M564.18 603.29Q579.91 543.03 550.27 488.26" fill="none" stroke="#10921a" stroke-width="0.5" stroke-opacity="0.55"/><path d="M609.63 486.28Q583.57 542.08 641.29 563.54" fill="none" stroke="#10921a" stroke-width="0.45" stroke-opacity="0.61"/><path d="M525.19 570.45Q580.83 541.16 633.48 506.77" fill="none" stroke="#10921a" stroke-width="0.54" stroke-opacity="0.47"/><path d="M644.76 544.91Q583.6 542.17 629.63 501.8" fill="none" stroke="#10921a" stroke-width="0.56" stroke-opacity="0.61"/><path d="M564.92 482.1Q583.18 541.48 641.58 562.67" fill="none" stroke="#10921a" stroke-width="0.52" stroke-opacity="0.56"/><path d="M644.2 534.09Q582.79 541.17 560.7 483.44" fill="none" stroke="#10921a" stroke-width="0.55" stroke-opacity="0.57"/><path d="M644.69 546.53Q583.41 541.78 605.04 484.24" fill="none" stroke="#10921a" stroke-width="0.6" stroke-opacity="0.63"/><path d="M637.31 572.59Q583.66 542.38 619.23 492.12" fill="none" stroke="#10921a" stroke-width="0.48" stroke-opacity="0.54"/><path d="M525.46 571Q581.53 544.69 628.04 585.59" fill="none" stroke="#10921a" stroke-width="0.41" stroke-opacity="0.47"/><path d="M630.16 502.43Q582.42 540.99 568.17 481.29" fill="none" stroke="#10921a" stroke-width="0.42" stroke-opacity="0.51"/><path d="M644.49 536.55Q582.09 540.91 523.86 518.06" fill="none" stroke="#10921a" stroke-width="0.48" stroke-opacity="0.56"/><path d="M630.9 503.32Q583.71 542.85 628.67 584.9" fill="none" stroke="#10921a" stroke-width="0.41" stroke-opacity="0.54"/><path d="M534.26 584.14Q580 542.16 570.88 480.75" fill="none" stroke="#10921a" stroke-width="0.54" stroke-opacity="0.53"/><path d="M619.2 492.1Q583.7 542.59 629.4 584.08" fill="none" stroke="#10921a" stroke-width="0.52" stroke-opacity="0.49"/><path d="M542.54 592.07Q581.71 544.71 616.09 595.65" fill="none" stroke="#10921a" stroke-width="0.5" stroke-opacity="0.53"/><path d="M528.8 508.75Q581.68 540.9 630.24 502.52" fill="none" stroke="#10921a" stroke-width="0.5" stroke-opacity="0.65"/><path d="M550.77 597.63Q579.95 542.35 579.24 479.85" fill="none" stroke="#10921a" stroke-width="0.55" stroke-opacity="0.56"/><path d="M573.76 605.29Q582.68 544.49 637.57 572.11" fill="none" stroke="#10921a" stroke-width="0.54" stroke-opacity="0.54"/><path d="M553 486.77Q580.44 541.46 525.23 515.08" fill="none" stroke="#10921a" stroke-width="0.49" stroke-opacity="0.55"/><path d="M599.43 603.28Q583.7 542.98 610.5 486.72" fill="none" stroke="#10921a" stroke-width="0.57" stroke-opacity="0.46"/><path d="M582.03 479.8Q580.89 541.13 528.68 508.93" fill="none" stroke="#10921a" stroke-width="0.43" stroke-opacity="0.64"/><path d="M628.41 585.19Q583.68 542.5 612.87 488" fill="none" stroke="#10921a" stroke-width="0.58" stroke-opacity="0.59"/><path d="M539.83 589.78Q582.69 544.49 644.29 534.82" fill="none" stroke="#10921a" stroke-width="0.57" stroke-opacity="0.6"/><path d="M518.92 546.63Q580.46 544.16 579.15 605.74" fill="none" stroke="#10921a" stroke-width="0.5" stroke-opacity="0.62"/><path d="M615.34 596.13Q583.66 543.22 634.91 508.91" fill="none" stroke="#10921a" stroke-width="0.51" stroke-opacity="0.6"/><path d="M522.5 521.53Q580.5 541.4 564.97 482.09" fill="none" stroke="#10921a" stroke-width="0.45" stroke-opacity="0.46"/><path d="M644.45 536.18Q582.73 544.46 543.42 592.76" fill="none" stroke="#10921a" stroke-width="0.49" stroke-opacity="0.52"/><path d="M603.53 483.67Q583.3 541.62 644.38 535.58" fill="none" stroke="#10921a" stroke-width="0.47" stroke-opacity="0.5"/><path d="M644.49 536.6Q583.61 543.4 628.23 585.38" fill="none" stroke="#10921a" stroke-width="0.41" stroke-opacity="0.63"/><path d="M633.66 578.57Q582.92 541.26 531.92 504.32" fill="none" stroke="#10921a" stroke-width="0.46" stroke-opacity="0.62"/><path d="M641.56 562.76Q583.21 541.52 567.57 481.43" fill="none" stroke="#10921a" stroke-width="0.51" stroke-opacity="0.65"/><path d="M584.28 479.85Q582.74 541.14 634.52 508.32" fill="none" stroke="#10921a" stroke-width="0.42" stroke-opacity="0.56"/><path d="M612.62 597.75Q580.69 544.35 519.79 531.66" fill="none" stroke="#10921a" stroke-width="0.44" stroke-opacity="0.59"/><path d="M532.11 581.53Q579.97 543.36 518.96 538.38" fill="none" stroke="#10921a" stroke-width="0.51" stroke-opacity="0.64"/><path d="M528.53 509.17Q580.55 544.24 622.82 590.61" fill="none" stroke="#10921a" stroke-width="0.54" stroke-opacity="0.64"/><path d="M631.73 581.22Q581.06 544.56 519.45 533.76" fill="none" stroke="#10921a" stroke-width="0.42" stroke-opacity="0.62"/><path d="M582.31 479.8Q580.6 541.32 520.01 530.5" fill="none" stroke="#10921a" stroke-width="0.56" stroke-opacity="0.45"/><path d="M635.01 576.52Q583.68 542.45 619.53 492.35" fill="none" stroke="#10921a" stroke-width="0.48" stroke-opacity="0.52"/><path d="M539.46 589.45Q582.53 544.56 644.74 545.55" fill="none" stroke="#10921a" stroke-width="0.52" stroke-opacity="0.56"/><path d="M549.64 596.97Q579.92 542.49 569.03 481.11" fill="none" stroke="#10921a" stroke-width="0.58" stroke-opacity="0.49"/><path d="M621.99 591.32Q582.5 544.58 585.25 605.71" fill="none" stroke="#10921a" stroke-width="0.47" stroke-opacity="0.5"/><path d="M564.02 482.36Q579.91 543.04 579.37 605.75" fill="none" stroke="#10921a" stroke-width="0.58" stroke-opacity="0.49"/><path d="M571.21 480.7Q582.2 540.93 616.7 490.35" fill="none" stroke="#10921a" stroke-width="0.55" stroke-opacity="0.5"/><path d="M593.63 604.68Q581.09 544.57 530.41 579.24" fill="none" stroke="#10921a" stroke-width="0.47" stroke-opacity="0.63"/><path d="M644.78 544.25Q582.46 544.59 534.69 584.63" fill="none" stroke="#10921a" stroke-width="0.56" stroke-opacity="0.52"/><path d="M617.49 490.89Q580.36 541.55 535.3 585.31" fill="none" stroke="#10921a" stroke-width="0.55" stroke-opacity="0.55"/><path d="M630.05 502.29Q583.61 542.2 644.7 546.29" fill="none" stroke="#10921a" stroke-width="0.41" stroke-opacity="0.63"/><path d="M644.49 536.57Q582.85 544.39 551.25 597.9" fill="none" stroke="#10921a" stroke-width="0.54" stroke-opacity="0.64"/><path d="M603.08 483.5Q583.29 541.61 644.32 535.05" fill="none" stroke="#10921a" stroke-width="0.42" stroke-opacity="0.5"/><path d="M644.26 534.54Q583.68 543.13 637.68 571.88" fill="none" stroke="#10921a" stroke-width="0.41" stroke-opacity="0.51"/><path d="M529.59 507.54Q581.37 540.94 613.06 488.1" fill="none" stroke="#10921a" stroke-width="0.42" stroke-opacity="0.49"/><path d="M632.2 580.6Q582.26 544.65 555.16 599.89" fill="none" stroke="#10921a" stroke-width="0.5" stroke-opacity="0.48"/><path d="M550.46 597.45Q579.93 543.2 530.91 505.67" fill="none" stroke="#10921a" stroke-width="0.59" stroke-opacity="0.54"/><path d="M542.57 493.51Q581.97 540.9 629.34 501.46" fill="none" stroke="#10921a" stroke-width="0.59" stroke-opacity="0.65"/><path d="M643.35 556.25Q583.52 541.97 609.46 486.2" fill="none" stroke="#10921a" stroke-width="0.43" stroke-opacity="0.48"/><path d="M599.24 482.26Q583.7 542.66 607.89 600.15" fill="none" stroke="#10921a" stroke-width="0.56" stroke-opacity="0.55"/><path d="M562.75 482.75Q580.14 541.86 520.52 557.41" fill="none" stroke="#10921a" stroke-width="0.46" stroke-opacity="0.46"/><path d="M578.24 605.7Q579.94 543.23 550.91 487.89" fill="none" stroke="#10921a" stroke-width="0.52" stroke-opacity="0.51"/><path d="M540.83 590.65Q582.83 544.41 642.42 525.65" fill="none" stroke="#10921a" stroke-width="0.51" stroke-opacity="0.54"/><path d="M550.77 597.63Q582.84 544.4 644.48 536.44" fill="none" stroke="#10921a" stroke-width="0.57" stroke-opacity="0.63"/><path d="M614.96 596.37Q580.74 544.39 519.63 532.6" fill="none" stroke="#10921a" stroke-width="0.43" stroke-opacity="0.59"/><path d="M599.07 603.39Q580.16 543.77 537.23 498.28" fill="none" stroke="#10921a" stroke-width="0.46" stroke-opacity="0.47"/><path d="M582.11 479.8Q580.01 542.15 541.44 591.17" fill="none" stroke="#10921a" stroke-width="0.58" stroke-opacity="0.55"/><path d="M535.61 585.64Q582.46 544.59 644.74 545.59" fill="none" stroke="#10921a" stroke-width="0.51" stroke-opacity="0.58"/><path d="M519.71 553.49Q581.37 544.66 632.84 579.73" fill="none" stroke="#10921a" stroke-width="0.53" stroke-opacity="0.64"/><path d="M581.05 605.8Q580.74 544.39 523.95 567.75" fill="none" stroke="#10921a" stroke-width="0.45" stroke-opacity="0.62"/><path d="M627.61 499.55Q583.58 543.48 587.39 605.55" fill="none" stroke="#10921a" stroke-width="0.49" stroke-opacity="0.56"/><path d="M644.36 535.35Q581.74 540.89 518.9 539.25" fill="none" stroke="#10921a" stroke-width="0.57" stroke-opacity="0.55"/><path d="M543.56 592.87Q581.53 544.69 604.28 601.65" fill="none" stroke="#10921a" stroke-width="0.56" stroke-opacity="0.65"/><path d="M644.4 535.74Q583.09 541.4 583.58 479.83" fill="none" stroke="#10921a" stroke-width="0.56" stroke-opacity="0.61"/><path d="M616.91 595.11Q583.7 542.94 624.19 496.19" fill="none" stroke="#10921a" stroke-width="0.58" stroke-opacity="0.45"/><path d="M520.04 530.34Q579.99 543.42 540.61 590.47" fill="none" stroke="#10921a" stroke-width="0.58" stroke-opacity="0.64"/><path d="M564.56 482.2Q583.26 541.57 638.59 570.07" fill="none" stroke="#10921a" stroke-width="0.6" stroke-opacity="0.62"/><path d="M556.25 600.39Q581.86 544.71 611 598.62" fill="none" stroke="#10921a" stroke-width="0.6" stroke-opacity="0.57"/><path d="M629.65 583.78Q583.66 542.37 606.66 484.91" fill="none" stroke="#10921a" stroke-width="0.55" stroke-opacity="0.61"/><path d="M640.81 520.74Q582.04 540.91 530.14 506.74" fill="none" stroke="#10921a" stroke-width="0.5" stroke-opacity="0.53"/><path d="M543.98 593.18Q582.43 544.6 642.76 558.7" fill="none" stroke="#10921a" stroke-width="0.45" stroke-opacity="0.58"/><path d="M618.35 491.49Q582.35 540.97 579.77 479.83" fill="none" stroke="#10921a" stroke-width="0.45" stroke-opacity="0.49"/><path d="M552.16 487.21Q582.81 541.18 644.76 544.93" fill="none" stroke="#10921a" stroke-width="0.46" stroke-opacity="0.55"/><path d="M519.1 536.7Q581.49 544.68 643.16 557.09" fill="none" stroke="#10921a" stroke-width="0.49" stroke-opacity="0.6"/><path d="M551.72 598.15Q582.36 544.63 637.65 571.94" fill="none" stroke="#10921a" stroke-width="0.51" stroke-opacity="0.64"/><path d="M558 484.47Q579.96 542.29 531.19 580.31" fill="none" stroke="#10921a" stroke-width="0.49" stroke-opacity="0.64"/><path d="M628.16 585.46Q581.48 544.68 524.06 568.01" fill="none" stroke="#10921a" stroke-width="0.51" stroke-opacity="0.58"/><path d="M644.78 544.43Q582.01 540.9 520.02 530.46" fill="none" stroke="#10921a" stroke-width="0.41" stroke-opacity="0.48"/><path d="M524.84 515.88Q580.13 543.73 574.72 605.4" fill="none" stroke="#10921a" stroke-width="0.46" stroke-opacity="0.6"/><path d="M627.5 586.16Q581.11 544.58 518.82 544.24" fill="none" stroke="#10921a" stroke-width="0.41" stroke-opacity="0.46"/><path d="M577.57 605.66Q579.89 542.79 577.96 479.92" fill="none" stroke="#10921a" stroke-width="0.49" stroke-opacity="0.56"/><path d="M611.88 487.44Q580.4 541.5 528.72 576.73" fill="none" stroke="#10921a" stroke-width="0.52" stroke-opacity="0.46"/><path d="M589.41 480.26Q583.59 542.13 628.67 584.9" fill="none" stroke="#10921a" stroke-width="0.4" stroke-opacity="0.46"/><path d="M536.87 586.97Q580.08 543.62 519.18 549.74" fill="none" stroke="#10921a" stroke-width="0.57" stroke-opacity="0.55"/><path d="M537.35 498.16Q579.91 543.07 551.36 597.96" fill="none" stroke="#10921a" stroke-width="0.46" stroke-opacity="0.49"/><path d="M639.35 517.17Q581.56 540.91 519.71 532.1" fill="none" stroke="#10921a" stroke-width="0.58" stroke-opacity="0.5"/><path d="M528.24 575.97Q580.56 544.25 557.39 600.88" fill="none" stroke="#10921a" stroke-width="0.49" stroke-opacity="0.63"/><path d="M618.93 491.91Q580.5 541.4 528.4 576.23" fill="none" stroke="#10921a" stroke-width="0.46" stroke-opacity="0.59"/><path d="M644.42 535.86Q582.85 541.21 563.69 482.46" fill="none" stroke="#10921a" stroke-width="0.53" stroke-opacity="0.5"/><path d="M620.07 492.75Q581.2 540.99 521.17 525.68" fill="none" stroke="#10921a" stroke-width="0.54" stroke-opacity="0.45"/><path d="M531.05 580.12Q580.36 541.55 611.74 487.37" fill="none" stroke="#10921a" stroke-width="0.44" stroke-opacity="0.53"/><path d="M644.67 546.9Q583.38 543.87 608.81 599.72" fill="none" stroke="#10921a" stroke-width="0.52" stroke-opacity="0.61"/><path d="M630.26 502.54Q583.05 544.24 534.93 584.9" fill="none" stroke="#10921a" stroke-width="0.55" stroke-opacity="0.6"/><path d="M536.43 499.09Q580.08 543.62 586.95 605.59" fill="none" stroke="#10921a" stroke-width="0.51" stroke-opacity="0.65"/><path d="M622.89 590.56Q583.71 542.73 619.14 492.06" fill="none" stroke="#10921a" stroke-width="0.59" stroke-opacity="0.5"/><path d="M559.31 483.95Q582.76 541.15 644.06 533.19" fill="none" stroke="#10921a" stroke-width="0.56" stroke-opacity="0.53"/><path d="M622.1 591.23Q583.28 541.6 542.95 493.2" fill="none" stroke="#10921a" stroke-width="0.6" stroke-opacity="0.56"/><path d="M644.44 536.1Q582.75 544.45 544.64 593.67" fill="none" stroke="#10921a" stroke-width="0.46" stroke-opacity="0.59"/><path d="M580.39 479.82Q582.58 541.06 629.53 501.68" fill="none" stroke="#10921a" stroke-width="0.47" stroke-opacity="0.56"/><path d="M642.98 557.85Q582.3 544.64 536.73 586.82" fill="none" stroke="#10921a" stroke-width="0.46" stroke-opacity="0.62"/><path d="M644.25 534.52Q583.32 543.96 590.34 605.22" fill="none" stroke="#10921a" stroke-width="0.42" stroke-opacity="0.61"/><path d="M603.39 483.61Q583.66 543.23 575.03 605.44" fill="none" stroke="#10921a" stroke-width="0.41" stroke-opacity="0.61"/><path d="M635.3 509.54Q583.61 543.4 605.08 601.34" fill="none" stroke="#10921a" stroke-width="0.47" stroke-opacity="0.63"/><path d="M598.06 603.67Q576.18 550.51 518.88 546.01" fill="none" stroke="#8a3a3a" stroke-width="0.5" stroke-opacity="0.6"/><path d="M549.9 488.48Q586.65 534.59 644.78 544.55" fill="none" stroke="#8a3a3a" stroke-width="0.5" stroke-opacity="0.6"/><path d="M622.79 590.64Q590.39 546.96 644.75 545.29" fill="none" stroke="#3a6a6a" stroke-width="0.5" stroke-opacity="0.6"/><path d="M616.09 595.65Q586.61 551.04 610.98 598.64" fill="none" stroke="#3a6a6a" stroke-width="0.5" stroke-opacity="0.6"/><path d="M543.55 592.86Q573.19 538.68 596.75 481.6" fill="none" stroke="#4a5aa0" stroke-width="0.5" stroke-opacity="0.6"/><path d="M518.87 545.8Q580.29 552.22 640.64 565.31" fill="none" stroke="#6a4a2a" stroke-width="0.5" stroke-opacity="0.6"/><path d="M613.04 488.09Q583.89 533.49 576.97 479.99" fill="none" stroke="#8a3a3a" stroke-width="0.5" stroke-opacity="0.6"/><path d="M640.12 566.64Q584.03 552.08 540.69 590.54" fill="none" stroke="#3a6a6a" stroke-width="0.5" stroke-opacity="0.6"/><path d="M641.62 562.56Q590.27 547.2 632.35 580.4" fill="none" stroke="#4a5aa0" stroke-width="0.5" stroke-opacity="0.6"/><path d="M523.75 518.31Q585.36 533.95 640.62 565.35" fill="none" stroke="#6a4a2a" stroke-width="0.5" stroke-opacity="0.6"/><path d="M519.63 552.97Q574.75 549.23 565.97 603.78" fill="none" stroke="#8a3a3a" stroke-width="0.5" stroke-opacity="0.6"/><path d="M644.73 545.78Q591.33 542.36 644.19 534.07" fill="none" stroke="#8a3a3a" stroke-width="0.5" stroke-opacity="0.6"/><path d="M558.29 601.25Q572.52 545 534.55 501.13" fill="none" stroke="#6a4a2a" stroke-width="0.5" stroke-opacity="0.6"/><path d="M519.99 555Q572.26 542.75 520.13 529.92" fill="none" stroke="#3a6a6a" stroke-width="0.5" stroke-opacity="0.6"/><path d="M580.7 479.81Q575.21 535.9 518.93 538.81" fill="none" stroke="#8a3a3a" stroke-width="0.5" stroke-opacity="0.6"/><path d="M519.66 553.2Q572.26 542.64 520.04 530.36" fill="none" stroke="#4a5aa0" stroke-width="0.5" stroke-opacity="0.6"/><path d="M578.02 605.69Q580.13 552.19 563.73 603.15" fill="none" stroke="#6a4a2a" stroke-width="0.5" stroke-opacity="0.6"/><path d="M549.77 488.55Q572.45 544.69 573.33 605.23" fill="none" stroke="#3a6a6a" stroke-width="0.5" stroke-opacity="0.6"/><path d="M581.1 479.8Q584.01 533.52 610.87 486.91" fill="none" stroke="#4a5aa0" stroke-width="0.5" stroke-opacity="0.6"/><path d="M643.39 529.56Q591.31 542.08 644.68 546.63" fill="none" stroke="#6a4a2a" stroke-width="0.5" stroke-opacity="0.6"/><path d="M629 584.53Q577.19 551.15 521.35 525.07" fill="none" stroke="#8a3a3a" stroke-width="0.5" stroke-opacity="0.6"/><path d="M643.41 555.98Q586.5 551.1 561.4 602.41" fill="none" stroke="#6a4a2a" stroke-width="0.5" stroke-opacity="0.6"/><path d="M644.7 546.35Q590.27 547.18 621.04 592.09" fill="none" stroke="#6a4a2a" stroke-width="0.5" stroke-opacity="0.6"/><path d="M521.65 561.53Q583.01 552.26 644.73 545.8" fill="none" stroke="#6a4a2a" stroke-width="0.5" stroke-opacity="0.6"/><path d="M535.65 499.91Q574.44 548.88 615.2 596.21" fill="none" stroke="#3a6a6a" stroke-width="0.5" stroke-opacity="0.6"/><path d="M540.04 589.97Q583.71 555.38 635.7 575.41" fill="none" stroke="#0b780b" stroke-width="0.71" stroke-opacity="0.7"/><path d="M539.35 589.35Q583.26 555.44 633.75 578.43" fill="none" stroke="#0b780b" stroke-width="0.74" stroke-opacity="0.7"/><path d="M541.2 590.97Q584.49 555.23 638.66 569.92" fill="none" stroke="#0b780b" stroke-width="0.75" stroke-opacity="0.7"/><path d="M540.05 589.98Q584.73 555.18 640.29 566.22" fill="none" stroke="#0b780b" stroke-width="0.78" stroke-opacity="0.7"/><path d="M539.37 589.37Q582.21 555.51 627.16 586.52" fill="none" stroke="#0b780b" stroke-width="0.72" stroke-opacity="0.7"/><path d="M540.71 590.56Q583.28 555.43 632.82 579.76" fill="none" stroke="#0b780b" stroke-width="0.63" stroke-opacity="0.7"/><path d="M536.71 586.8Q582.49 555.5 631.37 581.68" fill="none" stroke="#0b780b" stroke-width="0.78" stroke-opacity="0.7"/><path d="M540.97 590.78Q584.96 555.12 640.67 565.23" fill="none" stroke="#0b780b" stroke-width="0.79" stroke-opacity="0.7"/><path d="M540.48 590.36Q584.44 555.24 638.88 569.47" fill="none" stroke="#0b780b" stroke-width="0.56" stroke-opacity="0.7"/><path d="M615.15 489.35Q573.75 532.95 522.8 564.89" fill="none" stroke="#0b780b" stroke-width="0.84" stroke-opacity="0.7"/><path d="M616.9 490.48Q573.54 533.12 524.62 569.24" fill="none" stroke="#0b780b" stroke-width="0.8" stroke-opacity="0.7"/><path d="M615.38 489.5Q574.05 532.71 521.65 561.53" fill="none" stroke="#0b780b" stroke-width="0.73" stroke-opacity="0.7"/><path d="M623.32 495.42Q573.8 532.91 526.77 573.46" fill="none" stroke="#0b780b" stroke-width="0.72" stroke-opacity="0.7"/><path d="M617.57 490.94Q574.6 532.31 520.55 557.54" fill="none" stroke="#0b780b" stroke-width="0.63" stroke-opacity="0.7"/><path d="M621.09 493.55Q573.82 532.89 525.32 570.71" fill="none" stroke="#0b780b" stroke-width="0.7" stroke-opacity="0.7"/><path d="M623.64 495.7Q574.18 532.61 524.8 569.63" fill="none" stroke="#0b780b" stroke-width="0.63" stroke-opacity="0.7"/><path d="M644.5 548.93Q586.36 530.93 531.13 505.36" fill="none" stroke="#0b780b" stroke-width="0.57" stroke-opacity="0.7"/><path d="M644.76 544.92Q585.2 530.54 526.72 512.23" fill="none" stroke="#0b780b" stroke-width="0.64" stroke-opacity="0.7"/><path d="M644.54 548.54Q586.37 530.93 531.43 504.97" fill="none" stroke="#0b780b" stroke-width="0.84" stroke-opacity="0.7"/><path d="M644.62 547.58Q586.15 530.85 530.62 506.06" fill="none" stroke="#0b780b" stroke-width="0.66" stroke-opacity="0.7"/><path d="M644.6 547.84Q585.94 530.77 529.2 508.13" fill="none" stroke="#0b780b" stroke-width="0.57" stroke-opacity="0.7"/><path d="M644.69 546.6Q585.62 530.67 528.1 509.86" fill="none" stroke="#0b780b" stroke-width="0.71" stroke-opacity="0.7"/><path d="M560.66 483.45Q569.18 544.37 575.79 605.51" fill="none" stroke="#0b780b" stroke-width="0.84" stroke-opacity="0.7"/><path d="M563.35 482.56Q569.1 543.51 570.2 604.72" fill="none" stroke="#0b780b" stroke-width="0.59" stroke-opacity="0.7"/><path d="M565.22 482.02Q569.09 542.21 559.69 601.79" fill="none" stroke="#0b780b" stroke-width="0.6" stroke-opacity="0.7"/><path d="M564.44 482.24Q569.08 543.08 567.1 604.06" fill="none" stroke="#0b780b" stroke-width="0.78" stroke-opacity="0.7"/><path d="M564.99 482.09Q569.1 543.51 571.88 605.01" fill="none" stroke="#0b780b" stroke-width="0.61" stroke-opacity="0.7"/><path d="M566.34 481.73Q569.11 543.67 574.86 605.42" fill="none" stroke="#0b780b" stroke-width="0.81" stroke-opacity="0.7"/><path d="M628.81 500.86Q593.28 548.29 578.68 605.72" fill="none" stroke="#0b780b" stroke-width="0.69" stroke-opacity="0.7"/><path d="M633.25 506.44Q592.58 549.54 571.63 604.97" fill="none" stroke="#0b780b" stroke-width="0.77" stroke-opacity="0.7"/><path d="M632.83 505.85Q592.53 549.63 569.96 604.68" fill="none" stroke="#0b780b" stroke-width="0.57" stroke-opacity="0.7"/><path d="M633.15 506.31Q592.99 548.85 579.36 605.75" fill="none" stroke="#0b780b" stroke-width="0.6" stroke-opacity="0.7"/><path d="M628.84 500.89Q593.39 548.05 581.33 605.8" fill="none" stroke="#0b780b" stroke-width="0.81" stroke-opacity="0.7"/><path d="M611.1 598.57Q571.3 549.98 540.5 495.23" fill="none" stroke="#0b780b" stroke-width="0.56" stroke-opacity="0.7"/><path d="M608.35 599.93Q570.77 549.13 545.86 491.06" fill="none" stroke="#0b780b" stroke-width="0.82" stroke-opacity="0.7"/><path d="M613.09 597.48Q571.41 550.13 540.76 495" fill="none" stroke="#0b780b" stroke-width="0.64" stroke-opacity="0.7"/><path d="M612.2 597.98Q571.35 550.05 540.76 495" fill="none" stroke="#0b780b" stroke-width="0.61" stroke-opacity="0.7"/><path d="M609.57 599.35Q571.14 549.74 541.32 494.53" fill="none" stroke="#0b780b" stroke-width="0.6" stroke-opacity="0.7"/><path d="M518.82 544.18Q575.76 531.61 617.49 490.88" fill="none" stroke="#0b780b" stroke-width="0.59" stroke-opacity="0.7"/><path d="M518.81 543.92Q575.93 531.51 618.92 491.89" fill="none" stroke="#0b780b" stroke-width="0.67" stroke-opacity="0.7"/><path d="M518.83 544.65Q575.32 531.85 613.75 488.5" fill="none" stroke="#0b780b" stroke-width="0.73" stroke-opacity="0.7"/><path d="M518.93 546.81Q575.48 531.76 617.06 490.59" fill="none" stroke="#0b780b" stroke-width="0.55" stroke-opacity="0.7"/><path d="M518.81 541.47Q576.25 531.35 619.76 492.52" fill="none" stroke="#0b780b" stroke-width="0.67" stroke-opacity="0.7"/><path d="M677.99 544.31A96.2 96.2 0 0 1 666.88 587.69L658.57 583.31A86.8 86.8 0 0 0 668.59 544.16Z" fill="none" stroke="#444" stroke-width="1.6"/><path d="M668.59 544.16A86.8 86.8 0 0 1 658.57 583.31L638.05 572.48A63.6 63.6 0 0 0 645.39 543.8Z" fill="none" stroke="#444" stroke-width="1.5"/><path d="M665.09 544.11A83.3 83.3 0 0 1 655.47 581.67" fill="none" stroke="#444" stroke-width="1.5"/><path d="M666.84 544.13A85.05 85.05 0 0 1 657.02 582.49" fill="none" stroke="#666" stroke-width="2.0" stroke-dasharray="0.8,0.8"/><path d="M654.59 543.94A72.8 72.8 0 0 1 646.19 576.77" fill="none" stroke="#444" stroke-width="2.1"/><path d="M654.59 543.94A72.8 72.8 0 0 1 646.19 576.77" fill="none" stroke="#bbb" stroke-width="0.7" stroke-dasharray="0.7,0.9"/><circle cx="669.11" cy="554.24" r="0.55" fill="#2222ee"/><circle cx="668.32" cy="559.52" r="0.55" fill="#2222ee"/><circle cx="665.15" cy="569.35" r="0.55" fill="#2222ee"/><circle cx="670.17" cy="545.18" r="0.55" fill="#2222ee"/><circle cx="668.62" cy="555.04" r="0.55" fill="#2222ee"/><circle cx="659.89" cy="583.29" r="0.55" fill="#2222ee"/><circle cx="662.65" cy="577.48" r="0.55" fill="#2222ee"/><circle cx="665.09" cy="569.89" r="0.55" fill="#2222ee"/><circle cx="665.96" cy="569.99" r="0.55" fill="#2222ee"/><circle cx="667.09" cy="565.6" r="0.55" fill="#2222ee"/><circle cx="664.58" cy="571.09" r="0.55" fill="#2222ee"/><circle cx="663.97" cy="574.6" r="0.55" fill="#2222ee"/><circle cx="668.13" cy="556.67" r="0.55" fill="#2222ee"/><circle cx="662.18" cy="578.55" r="0.55" fill="#2222ee"/><circle cx="664.86" cy="573.22" r="0.55" fill="#2222ee"/><circle cx="664.97" cy="573.06" r="0.55" fill="#2222ee"/><circle cx="668.36" cy="560.56" r="0.55" fill="#2222ee"/><circle cx="668.09" cy="562.56" r="0.55" fill="#2222ee"/><circle cx="661.54" cy="578.86" r="0.55" fill="#2222ee"/><circle cx="669.16" cy="550.1" r="0.55" fill="#2222ee"/><circle cx="660.41" cy="582.18" r="0.55" fill="#2222ee"/><circle cx="665.41" cy="569.47" r="0.55" fill="#2222ee"/><circle cx="666.85" cy="564.87" r="0.55" fill="#2222ee"/><circle cx="668.45" cy="558.76" r="0.55" fill="#2222ee"/><circle cx="666.61" cy="568.04" r="0.55" fill="#2222ee"/><circle cx="665.42" cy="571.83" r="0.55" fill="#2222ee"/><circle cx="662.89" cy="578.46" r="0.55" fill="#2222ee"/><circle cx="664.69" cy="571.12" r="0.55" fill="#2222ee"/><circle cx="662.8" cy="578.61" r="0.55" fill="#2222ee"/><circle cx="661.62" cy="580.04" r="0.55" fill="#2222ee"/><circle cx="664.17" cy="572.76" r="0.55" fill="#2222ee"/><circle cx="662.83" cy="577.34" r="0.55" fill="#2222ee"/><circle cx="668.27" cy="556.03" r="0.55" fill="#2222ee"/><circle cx="662.93" cy="578.37" r="0.55" fill="#2222ee"/><circle cx="669.99" cy="548.24" r="0.55" fill="#2222ee"/><circle cx="667.47" cy="561.01" r="0.55" fill="#2222ee"/><circle cx="669.05" cy="556.52" r="0.55" fill="#2222ee"/><circle cx="661.59" cy="578.61" r="0.55" fill="#2222ee"/><circle cx="665.26" cy="568.91" r="0.55" fill="#2222ee"/><circle cx="664.25" cy="572.98" r="0.55" fill="#2222ee"/><circle cx="662.48" cy="579.37" r="0.55" fill="#2222ee"/><circle cx="667.58" cy="564.98" r="0.55" fill="#2222ee"/><circle cx="668.13" cy="557.01" r="0.55" fill="#2222ee"/><circle cx="663.16" cy="567.59" r="0.7" fill="#e02020"/><circle cx="658.25" cy="580.07" r="0.7" fill="#e02020"/><circle cx="665.81" cy="556.04" r="0.7" fill="#109090"/><circle cx="666.47" cy="550.87" r="0.7" fill="#e02020"/><path d="M660.29 544.03A78.5 78.5 0 0 1 651.23 579.43" fill="none" stroke="#7a1a9a" stroke-width="3.4"/><path d="M662.29 544.06A80.5 80.5 0 0 1 653 580.37" fill="none" stroke="#3a1ae0" stroke-width="1.0"/><path d="M658.49 544A76.7 76.7 0 0 1 649.64 578.59" fill="none" stroke="#c0184a" stroke-width="0.8"/><line x1="658.28" y1="544.4" x2="657.59" y2="544.39" stroke="#901a80" stroke-width="0.9"/><line x1="662.55" y1="545.76" x2="663.97" y2="545.81" stroke="#3020e0" stroke-width="0.9"/><line x1="658.25" y1="545.6" x2="656.99" y2="545.56" stroke="#901a80" stroke-width="0.9"/><line x1="662.49" y1="547.03" x2="663.91" y2="547.1" stroke="#3020e0" stroke-width="0.9"/><line x1="662.41" y1="548.29" x2="663.97" y2="548.4" stroke="#3020e0" stroke-width="0.9"/><line x1="662.32" y1="549.56" x2="663.44" y2="549.65" stroke="#3020e0" stroke-width="0.9"/><line x1="662.06" y1="552.09" x2="662.75" y2="552.17" stroke="#3020e0" stroke-width="0.9"/><line x1="657.79" y1="551.59" x2="656.63" y2="551.46" stroke="#901a80" stroke-width="0.9"/><line x1="657.65" y1="552.78" x2="656.94" y2="552.69" stroke="#901a80" stroke-width="0.9"/><line x1="657.48" y1="553.97" x2="656.49" y2="553.83" stroke="#901a80" stroke-width="0.9"/><line x1="661.54" y1="555.86" x2="662.29" y2="555.98" stroke="#3020e0" stroke-width="0.9"/><line x1="657.09" y1="556.35" x2="656.27" y2="556.2" stroke="#901a80" stroke-width="0.9"/><line x1="660.83" y1="559.6" x2="661.6" y2="559.76" stroke="#3020e0" stroke-width="0.9"/><line x1="660.56" y1="560.84" x2="661.62" y2="561.08" stroke="#3020e0" stroke-width="0.9"/><line x1="656.37" y1="559.88" x2="655.88" y2="559.76" stroke="#901a80" stroke-width="0.9"/><line x1="659.96" y1="563.3" x2="661.24" y2="563.64" stroke="#3020e0" stroke-width="0.9"/><line x1="655.8" y1="562.21" x2="654.64" y2="561.91" stroke="#901a80" stroke-width="0.9"/><line x1="659.27" y1="565.75" x2="660.18" y2="566.02" stroke="#3020e0" stroke-width="0.9"/><line x1="658.9" y1="566.96" x2="659.6" y2="567.18" stroke="#3020e0" stroke-width="0.9"/><line x1="654.43" y1="566.82" x2="653.52" y2="566.52" stroke="#901a80" stroke-width="0.9"/><line x1="657.68" y1="570.57" x2="658.95" y2="571.03" stroke="#3020e0" stroke-width="0.9"/><line x1="657.23" y1="571.75" x2="658.41" y2="572.21" stroke="#3020e0" stroke-width="0.9"/><line x1="653.22" y1="570.21" x2="652.36" y2="569.88" stroke="#901a80" stroke-width="0.9"/><line x1="656.77" y1="572.94" x2="658" y2="573.43" stroke="#3020e0" stroke-width="0.9"/><line x1="652.78" y1="571.33" x2="651.52" y2="570.83" stroke="#901a80" stroke-width="0.9"/><line x1="656.29" y1="574.11" x2="657.57" y2="574.65" stroke="#3020e0" stroke-width="0.9"/><line x1="651.85" y1="573.55" x2="650.74" y2="573.06" stroke="#901a80" stroke-width="0.9"/><line x1="655.27" y1="576.43" x2="656.27" y2="576.89" stroke="#3020e0" stroke-width="0.9"/><line x1="654.73" y1="577.58" x2="655.61" y2="578" stroke="#3020e0" stroke-width="0.9"/><line x1="654.17" y1="578.73" x2="655.18" y2="579.23" stroke="#3020e0" stroke-width="0.9"/><line x1="650.32" y1="576.81" x2="649.49" y2="576.4" stroke="#901a80" stroke-width="0.9"/><line x1="653.6" y1="579.86" x2="654.34" y2="580.24" stroke="#3020e0" stroke-width="0.9"/><line x1="649.78" y1="577.89" x2="649.05" y2="577.51" stroke="#901a80" stroke-width="0.9"/><line x1="645.39" y1="544.02" x2="646.09" y2="544.03" stroke="#2a18e0" stroke-width="1.15"/><line x1="645.81" y1="544.03" x2="646.09" y2="544.03" stroke="#7a1aa8" stroke-width="1.0"/><line x1="645.37" y1="544.85" x2="648.6" y2="544.96" stroke="#2a18e0" stroke-width="1.15"/><line x1="647.31" y1="544.91" x2="648.6" y2="544.96" stroke="#7a1aa8" stroke-width="1.0"/><line x1="645.33" y1="545.68" x2="646.11" y2="545.72" stroke="#2a18e0" stroke-width="1.15"/><line x1="645.8" y1="545.71" x2="646.11" y2="545.72" stroke="#7a1aa8" stroke-width="1.0"/><line x1="645.29" y1="546.52" x2="648.11" y2="546.68" stroke="#2a18e0" stroke-width="1.15"/><line x1="646.98" y1="546.61" x2="648.11" y2="546.68" stroke="#7a1aa8" stroke-width="1.0"/><line x1="645.24" y1="547.35" x2="649.22" y2="547.63" stroke="#2a18e0" stroke-width="1.15"/><line x1="647.63" y1="547.52" x2="649.22" y2="547.63" stroke="#7a1aa8" stroke-width="1.0"/><line x1="645.17" y1="548.18" x2="645.81" y2="548.23" stroke="#2a18e0" stroke-width="1.15"/><line x1="645.55" y1="548.21" x2="645.81" y2="548.23" stroke="#7a1aa8" stroke-width="1.0"/><line x1="645.1" y1="549.01" x2="645.98" y2="549.09" stroke="#2a18e0" stroke-width="1.15"/><line x1="645.63" y1="549.06" x2="645.98" y2="549.09" stroke="#7a1aa8" stroke-width="1.0"/><line x1="645.01" y1="549.83" x2="645.98" y2="549.94" stroke="#2a18e0" stroke-width="1.15"/><line x1="645.59" y1="549.9" x2="645.98" y2="549.94" stroke="#7a1aa8" stroke-width="1.0"/><line x1="644.91" y1="550.66" x2="646.88" y2="550.9" stroke="#2a18e0" stroke-width="1.15"/><line x1="646.09" y1="550.81" x2="646.88" y2="550.9" stroke="#7a1aa8" stroke-width="1.0"/><line x1="644.8" y1="551.49" x2="648.98" y2="552.06" stroke="#2a18e0" stroke-width="1.15"/><line x1="647.31" y1="551.83" x2="648.98" y2="552.06" stroke="#7a1aa8" stroke-width="1.0"/><line x1="644.69" y1="552.31" x2="646.46" y2="552.58" stroke="#2a18e0" stroke-width="1.15"/><line x1="645.75" y1="552.47" x2="646.46" y2="552.58" stroke="#7a1aa8" stroke-width="1.0"/><line x1="644.56" y1="553.13" x2="645.09" y2="553.22" stroke="#2a18e0" stroke-width="1.15"/><line x1="644.88" y1="553.18" x2="645.09" y2="553.22" stroke="#7a1aa8" stroke-width="1.0"/><line x1="644.41" y1="553.95" x2="647.29" y2="554.46" stroke="#2a18e0" stroke-width="1.15"/><line x1="646.14" y1="554.26" x2="647.29" y2="554.46" stroke="#7a1aa8" stroke-width="1.0"/><line x1="644.26" y1="554.77" x2="647.22" y2="555.34" stroke="#2a18e0" stroke-width="1.15"/><line x1="646.04" y1="555.11" x2="647.22" y2="555.34" stroke="#7a1aa8" stroke-width="1.0"/><line x1="644.1" y1="555.59" x2="645.16" y2="555.8" stroke="#2a18e0" stroke-width="1.15"/><line x1="644.74" y1="555.72" x2="645.16" y2="555.8" stroke="#7a1aa8" stroke-width="1.0"/><line x1="643.93" y1="556.4" x2="645.11" y2="556.66" stroke="#2a18e0" stroke-width="1.15"/><line x1="644.64" y1="556.56" x2="645.11" y2="556.66" stroke="#7a1aa8" stroke-width="1.0"/><line x1="643.75" y1="557.21" x2="644.03" y2="557.28" stroke="#2a18e0" stroke-width="1.15"/><line x1="643.92" y1="557.25" x2="644.03" y2="557.28" stroke="#7a1aa8" stroke-width="1.0"/><line x1="643.55" y1="558.02" x2="648.3" y2="559.19" stroke="#2a18e0" stroke-width="1.15"/><line x1="646.4" y1="558.73" x2="648.3" y2="559.19" stroke="#7a1aa8" stroke-width="1.0"/><line x1="643.35" y1="558.83" x2="647.46" y2="559.9" stroke="#2a18e0" stroke-width="1.15"/><line x1="645.81" y1="559.47" x2="647.46" y2="559.9" stroke="#7a1aa8" stroke-width="1.0"/><line x1="643.13" y1="559.63" x2="644.95" y2="560.13" stroke="#2a18e0" stroke-width="1.15"/><line x1="644.22" y1="559.93" x2="644.95" y2="560.13" stroke="#7a1aa8" stroke-width="1.0"/><line x1="642.91" y1="560.44" x2="647.28" y2="561.7" stroke="#2a18e0" stroke-width="1.15"/><line x1="645.53" y1="561.19" x2="647.28" y2="561.7" stroke="#7a1aa8" stroke-width="1.0"/><line x1="642.67" y1="561.23" x2="644.54" y2="561.8" stroke="#2a18e0" stroke-width="1.15"/><line x1="643.79" y1="561.57" x2="644.54" y2="561.8" stroke="#7a1aa8" stroke-width="1.0"/><line x1="642.42" y1="562.03" x2="646.77" y2="563.41" stroke="#2a18e0" stroke-width="1.15"/><line x1="645.03" y1="562.86" x2="646.77" y2="563.41" stroke="#7a1aa8" stroke-width="1.0"/><line x1="642.17" y1="562.82" x2="646.61" y2="564.3" stroke="#2a18e0" stroke-width="1.15"/><line x1="644.83" y1="563.71" x2="646.61" y2="564.3" stroke="#7a1aa8" stroke-width="1.0"/><line x1="641.9" y1="563.61" x2="645" y2="564.68" stroke="#2a18e0" stroke-width="1.15"/><line x1="643.76" y1="564.25" x2="645" y2="564.68" stroke="#7a1aa8" stroke-width="1.0"/><line x1="641.62" y1="564.39" x2="645.41" y2="565.76" stroke="#2a18e0" stroke-width="1.15"/><line x1="643.89" y1="565.22" x2="645.41" y2="565.76" stroke="#7a1aa8" stroke-width="1.0"/><line x1="641.33" y1="565.18" x2="644.58" y2="566.4" stroke="#2a18e0" stroke-width="1.15"/><line x1="643.28" y1="565.91" x2="644.58" y2="566.4" stroke="#7a1aa8" stroke-width="1.0"/><line x1="641.04" y1="565.95" x2="642.16" y2="566.39" stroke="#2a18e0" stroke-width="1.15"/><line x1="641.71" y1="566.22" x2="642.16" y2="566.39" stroke="#7a1aa8" stroke-width="1.0"/><line x1="640.73" y1="566.73" x2="644.69" y2="568.34" stroke="#2a18e0" stroke-width="1.15"/><line x1="643.11" y1="567.69" x2="644.69" y2="568.34" stroke="#7a1aa8" stroke-width="1.0"/><line x1="640.41" y1="567.5" x2="641.17" y2="567.81" stroke="#2a18e0" stroke-width="1.15"/><line x1="640.86" y1="567.69" x2="641.17" y2="567.81" stroke="#7a1aa8" stroke-width="1.0"/><line x1="640.08" y1="568.26" x2="641.18" y2="568.74" stroke="#2a18e0" stroke-width="1.15"/><line x1="640.74" y1="568.55" x2="641.18" y2="568.74" stroke="#7a1aa8" stroke-width="1.0"/><line x1="639.74" y1="569.02" x2="640.77" y2="569.49" stroke="#2a18e0" stroke-width="1.15"/><line x1="640.36" y1="569.3" x2="640.77" y2="569.49" stroke="#7a1aa8" stroke-width="1.0"/><line x1="639.39" y1="569.78" x2="642.17" y2="571.08" stroke="#2a18e0" stroke-width="1.15"/><line x1="641.06" y1="570.56" x2="642.17" y2="571.08" stroke="#7a1aa8" stroke-width="1.0"/><line x1="639.04" y1="570.53" x2="640.5" y2="571.24" stroke="#2a18e0" stroke-width="1.15"/><line x1="639.92" y1="570.96" x2="640.5" y2="571.24" stroke="#7a1aa8" stroke-width="1.0"/><line x1="638.67" y1="571.28" x2="640.94" y2="572.42" stroke="#2a18e0" stroke-width="1.15"/><line x1="640.03" y1="571.96" x2="640.94" y2="572.42" stroke="#7a1aa8" stroke-width="1.0"/><line x1="638.29" y1="572.02" x2="640.26" y2="573.04" stroke="#2a18e0" stroke-width="1.15"/><line x1="639.47" y1="572.63" x2="640.26" y2="573.04" stroke="#7a1aa8" stroke-width="1.0"/><text x="681.54" y="571.43" font-size="8.8" font-weight="bold" text-anchor="middle">1</text><path d="M665.94 589.43A96.2 96.2 0 0 1 636.62 621.85L631.26 614.13A86.8 86.8 0 0 0 657.72 584.88Z" fill="none" stroke="#444" stroke-width="1.6"/><path d="M657.72 584.88A86.8 86.8 0 0 1 631.26 614.13L618.04 595.06A63.6 63.6 0 0 0 637.43 573.63Z" fill="none" stroke="#444" stroke-width="1.5"/><path d="M654.66 583.18A83.3 83.3 0 0 1 629.27 611.25" fill="none" stroke="#444" stroke-width="1.5"/><path d="M656.19 584.03A85.05 85.05 0 0 1 630.26 612.69" fill="none" stroke="#666" stroke-width="2.0" stroke-dasharray="0.8,0.8"/><path d="M645.47 578.09A72.8 72.8 0 0 1 623.28 602.62" fill="none" stroke="#444" stroke-width="2.1"/><path d="M645.47 578.09A72.8 72.8 0 0 1 623.28 602.62" fill="none" stroke="#bbb" stroke-width="0.7" stroke-dasharray="0.7,0.9"/><circle cx="653.38" cy="594.99" r="0.55" fill="#2222ee"/><circle cx="648.58" cy="599.43" r="0.55" fill="#2222ee"/><circle cx="658.71" cy="586.11" r="0.55" fill="#2222ee"/><circle cx="638.76" cy="609.98" r="0.55" fill="#2222ee"/><circle cx="657.66" cy="587.31" r="0.55" fill="#2222ee"/><circle cx="642.98" cy="606.12" r="0.55" fill="#2222ee"/><circle cx="642.95" cy="605.32" r="0.55" fill="#2222ee"/><circle cx="635.59" cy="611.77" r="0.55" fill="#2222ee"/><circle cx="643.81" cy="605.68" r="0.55" fill="#2222ee"/><circle cx="652.16" cy="596.55" r="0.55" fill="#2222ee"/><circle cx="648.74" cy="599.03" r="0.55" fill="#2222ee"/><circle cx="653.74" cy="593" r="0.55" fill="#2222ee"/><circle cx="644.89" cy="604.66" r="0.55" fill="#2222ee"/><circle cx="653.47" cy="593.09" r="0.55" fill="#2222ee"/><circle cx="657.82" cy="586.72" r="0.55" fill="#2222ee"/><circle cx="633.37" cy="614.2" r="0.55" fill="#2222ee"/><circle cx="636.14" cy="611.44" r="0.55" fill="#2222ee"/><circle cx="642.15" cy="607.57" r="0.55" fill="#2222ee"/><circle cx="640.88" cy="608.58" r="0.55" fill="#2222ee"/><circle cx="646.15" cy="602.61" r="0.55" fill="#2222ee"/><circle cx="656.18" cy="589.43" r="0.55" fill="#2222ee"/><circle cx="646.49" cy="603.01" r="0.55" fill="#2222ee"/><circle cx="641.02" cy="607.85" r="0.55" fill="#2222ee"/><circle cx="653.46" cy="593.64" r="0.55" fill="#2222ee"/><circle cx="646.4" cy="602.67" r="0.55" fill="#2222ee"/><circle cx="642.59" cy="606.22" r="0.55" fill="#2222ee"/><circle cx="637.86" cy="610.39" r="0.55" fill="#2222ee"/><circle cx="636.62" cy="610.91" r="0.55" fill="#2222ee"/><circle cx="656.21" cy="589.75" r="0.55" fill="#2222ee"/><circle cx="641.45" cy="607.15" r="0.55" fill="#2222ee"/><circle cx="651.7" cy="595.44" r="0.55" fill="#2222ee"/><circle cx="632.49" cy="614.83" r="0.55" fill="#2222ee"/><circle cx="646.06" cy="602.46" r="0.55" fill="#2222ee"/><circle cx="645.26" cy="603.07" r="0.55" fill="#2222ee"/><circle cx="645.68" cy="603.41" r="0.55" fill="#2222ee"/><circle cx="636.21" cy="611.47" r="0.55" fill="#2222ee"/><circle cx="657.52" cy="588.8" r="0.55" fill="#2222ee"/><circle cx="643.03" cy="605.93" r="0.55" fill="#2222ee"/><circle cx="641.88" cy="607.83" r="0.55" fill="#2222ee"/><circle cx="653.28" cy="594.33" r="0.55" fill="#2222ee"/><circle cx="634.32" cy="613.49" r="0.55" fill="#2222ee"/><circle cx="633.32" cy="613.96" r="0.55" fill="#2222ee"/><circle cx="651.09" cy="592.12" r="0.7" fill="#e02020"/><circle cx="635.54" cy="608.72" r="0.7" fill="#e06010"/><circle cx="646.96" cy="597.46" r="0.7" fill="#111"/><path d="M650.46 580.85A78.5 78.5 0 0 1 626.53 607.31" fill="none" stroke="#7a1a9a" stroke-width="3.4"/><path d="M652.21 581.82A80.5 80.5 0 0 1 627.67 608.95" fill="none" stroke="#3a1ae0" stroke-width="1.0"/><path d="M648.89 579.98A76.7 76.7 0 0 1 625.51 605.83" fill="none" stroke="#c0184a" stroke-width="0.8"/><line x1="650.33" y1="585.61" x2="650.69" y2="585.84" stroke="#3020e0" stroke-width="0.9"/><line x1="648.95" y1="587.74" x2="649.97" y2="588.43" stroke="#3020e0" stroke-width="0.9"/><line x1="645.37" y1="585.35" x2="644.88" y2="585.02" stroke="#901a80" stroke-width="0.9"/><line x1="648.23" y1="588.79" x2="649.11" y2="589.4" stroke="#3020e0" stroke-width="0.9"/><line x1="644.7" y1="586.35" x2="644.24" y2="586.03" stroke="#901a80" stroke-width="0.9"/><line x1="646.75" y1="590.86" x2="647.73" y2="591.58" stroke="#3020e0" stroke-width="0.9"/><line x1="645.21" y1="592.87" x2="645.67" y2="593.23" stroke="#3020e0" stroke-width="0.9"/><line x1="641.84" y1="590.21" x2="641.19" y2="589.7" stroke="#901a80" stroke-width="0.9"/><line x1="644.42" y1="593.86" x2="644.83" y2="594.19" stroke="#3020e0" stroke-width="0.9"/><line x1="641.09" y1="591.15" x2="640.58" y2="590.73" stroke="#901a80" stroke-width="0.9"/><line x1="640.32" y1="592.07" x2="639.26" y2="591.18" stroke="#901a80" stroke-width="0.9"/><line x1="642.78" y1="595.81" x2="643.6" y2="596.51" stroke="#3020e0" stroke-width="0.9"/><line x1="639.34" y1="599.53" x2="640.23" y2="600.41" stroke="#3020e0" stroke-width="0.9"/><line x1="638.44" y1="600.43" x2="638.86" y2="600.85" stroke="#3020e0" stroke-width="0.9"/><line x1="635.42" y1="597.36" x2="634.66" y2="596.58" stroke="#901a80" stroke-width="0.9"/><line x1="633.68" y1="599.02" x2="633.34" y2="598.64" stroke="#901a80" stroke-width="0.9"/><line x1="635.66" y1="603.03" x2="636.02" y2="603.44" stroke="#3020e0" stroke-width="0.9"/><line x1="633.74" y1="604.69" x2="634.66" y2="605.78" stroke="#3020e0" stroke-width="0.9"/><line x1="630.98" y1="601.4" x2="630.49" y2="600.81" stroke="#901a80" stroke-width="0.9"/><line x1="630.05" y1="602.16" x2="629.8" y2="601.85" stroke="#901a80" stroke-width="0.9"/><line x1="629.11" y1="602.91" x2="628.68" y2="602.37" stroke="#901a80" stroke-width="0.9"/><line x1="629.75" y1="607.83" x2="630.19" y2="608.42" stroke="#3020e0" stroke-width="0.9"/><line x1="628.73" y1="608.58" x2="629.06" y2="609.04" stroke="#3020e0" stroke-width="0.9"/><line x1="637.32" y1="573.82" x2="637.77" y2="574.07" stroke="#2a18e0" stroke-width="1.15"/><line x1="637.59" y1="573.97" x2="637.77" y2="574.07" stroke="#7a1aa8" stroke-width="1.0"/><line x1="636.91" y1="574.55" x2="638.19" y2="575.29" stroke="#2a18e0" stroke-width="1.15"/><line x1="637.68" y1="574.99" x2="638.19" y2="575.29" stroke="#7a1aa8" stroke-width="1.0"/><line x1="636.49" y1="575.27" x2="639.64" y2="577.14" stroke="#2a18e0" stroke-width="1.15"/><line x1="638.38" y1="576.39" x2="639.64" y2="577.14" stroke="#7a1aa8" stroke-width="1.0"/><line x1="636.06" y1="575.98" x2="639.94" y2="578.35" stroke="#2a18e0" stroke-width="1.15"/><line x1="638.39" y1="577.4" x2="639.94" y2="578.35" stroke="#7a1aa8" stroke-width="1.0"/><line x1="635.62" y1="576.69" x2="635.86" y2="576.84" stroke="#2a18e0" stroke-width="1.15"/><line x1="635.76" y1="576.78" x2="635.86" y2="576.84" stroke="#7a1aa8" stroke-width="1.0"/><line x1="635.17" y1="577.39" x2="635.59" y2="577.66" stroke="#2a18e0" stroke-width="1.15"/><line x1="635.42" y1="577.55" x2="635.59" y2="577.66" stroke="#7a1aa8" stroke-width="1.0"/><line x1="634.71" y1="578.08" x2="638.07" y2="580.32" stroke="#2a18e0" stroke-width="1.15"/><line x1="636.73" y1="579.43" x2="638.07" y2="580.32" stroke="#7a1aa8" stroke-width="1.0"/><line x1="634.25" y1="578.77" x2="637.3" y2="580.87" stroke="#2a18e0" stroke-width="1.15"/><line x1="636.08" y1="580.03" x2="637.3" y2="580.87" stroke="#7a1aa8" stroke-width="1.0"/><line x1="633.77" y1="579.46" x2="637.22" y2="581.89" stroke="#2a18e0" stroke-width="1.15"/><line x1="635.84" y1="580.92" x2="637.22" y2="581.89" stroke="#7a1aa8" stroke-width="1.0"/><line x1="633.29" y1="580.13" x2="636.54" y2="582.49" stroke="#2a18e0" stroke-width="1.15"/><line x1="635.24" y1="581.55" x2="636.54" y2="582.49" stroke="#7a1aa8" stroke-width="1.0"/><line x1="632.8" y1="580.81" x2="633.39" y2="581.25" stroke="#2a18e0" stroke-width="1.15"/><line x1="633.15" y1="581.07" x2="633.39" y2="581.25" stroke="#7a1aa8" stroke-width="1.0"/><line x1="632.29" y1="581.47" x2="633.45" y2="582.35" stroke="#2a18e0" stroke-width="1.15"/><line x1="632.99" y1="582" x2="633.45" y2="582.35" stroke="#7a1aa8" stroke-width="1.0"/><line x1="631.78" y1="582.13" x2="633.68" y2="583.62" stroke="#2a18e0" stroke-width="1.15"/><line x1="632.92" y1="583.02" x2="633.68" y2="583.62" stroke="#7a1aa8" stroke-width="1.0"/><line x1="631.26" y1="582.78" x2="634.15" y2="585.11" stroke="#2a18e0" stroke-width="1.15"/><line x1="633" y1="584.18" x2="634.15" y2="585.11" stroke="#7a1aa8" stroke-width="1.0"/><line x1="630.74" y1="583.42" x2="632.07" y2="584.53" stroke="#2a18e0" stroke-width="1.15"/><line x1="631.53" y1="584.08" x2="632.07" y2="584.53" stroke="#7a1aa8" stroke-width="1.0"/><line x1="630.2" y1="584.06" x2="632.88" y2="586.35" stroke="#2a18e0" stroke-width="1.15"/><line x1="631.81" y1="585.43" x2="632.88" y2="586.35" stroke="#7a1aa8" stroke-width="1.0"/><line x1="629.66" y1="584.69" x2="633.09" y2="587.69" stroke="#2a18e0" stroke-width="1.15"/><line x1="631.72" y1="586.49" x2="633.09" y2="587.69" stroke="#7a1aa8" stroke-width="1.0"/><line x1="629.1" y1="585.31" x2="630.21" y2="586.31" stroke="#2a18e0" stroke-width="1.15"/><line x1="629.77" y1="585.91" x2="630.21" y2="586.31" stroke="#7a1aa8" stroke-width="1.0"/><line x1="628.54" y1="585.93" x2="628.77" y2="586.14" stroke="#2a18e0" stroke-width="1.15"/><line x1="628.68" y1="586.06" x2="628.77" y2="586.14" stroke="#7a1aa8" stroke-width="1.0"/><line x1="627.98" y1="586.54" x2="630.79" y2="589.21" stroke="#2a18e0" stroke-width="1.15"/><line x1="629.67" y1="588.14" x2="630.79" y2="589.21" stroke="#7a1aa8" stroke-width="1.0"/><line x1="627.4" y1="587.14" x2="629.71" y2="589.38" stroke="#2a18e0" stroke-width="1.15"/><line x1="628.78" y1="588.48" x2="629.71" y2="589.38" stroke="#7a1aa8" stroke-width="1.0"/><line x1="626.81" y1="587.73" x2="628.82" y2="589.73" stroke="#2a18e0" stroke-width="1.15"/><line x1="628.02" y1="588.93" x2="628.82" y2="589.73" stroke="#7a1aa8" stroke-width="1.0"/><line x1="626.22" y1="588.31" x2="627.41" y2="589.54" stroke="#2a18e0" stroke-width="1.15"/><line x1="626.94" y1="589.05" x2="627.41" y2="589.54" stroke="#7a1aa8" stroke-width="1.0"/><line x1="625.62" y1="588.89" x2="628.28" y2="591.69" stroke="#2a18e0" stroke-width="1.15"/><line x1="627.22" y1="590.57" x2="628.28" y2="591.69" stroke="#7a1aa8" stroke-width="1.0"/><line x1="625.02" y1="589.46" x2="627.17" y2="591.79" stroke="#2a18e0" stroke-width="1.15"/><line x1="626.31" y1="590.86" x2="627.17" y2="591.79" stroke="#7a1aa8" stroke-width="1.0"/><line x1="624.4" y1="590.02" x2="626.03" y2="591.83" stroke="#2a18e0" stroke-width="1.15"/><line x1="625.38" y1="591.11" x2="626.03" y2="591.83" stroke="#7a1aa8" stroke-width="1.0"/><line x1="623.78" y1="590.58" x2="625.45" y2="592.48" stroke="#2a18e0" stroke-width="1.15"/><line x1="624.78" y1="591.72" x2="625.45" y2="592.48" stroke="#7a1aa8" stroke-width="1.0"/><line x1="623.15" y1="591.12" x2="623.3" y2="591.3" stroke="#2a18e0" stroke-width="1.15"/><line x1="623.24" y1="591.23" x2="623.3" y2="591.3" stroke="#7a1aa8" stroke-width="1.0"/><line x1="622.51" y1="591.66" x2="623.79" y2="593.19" stroke="#2a18e0" stroke-width="1.15"/><line x1="623.28" y1="592.58" x2="623.79" y2="593.19" stroke="#7a1aa8" stroke-width="1.0"/><line x1="621.87" y1="592.19" x2="623.39" y2="594.07" stroke="#2a18e0" stroke-width="1.15"/><line x1="622.78" y1="593.31" x2="623.39" y2="594.07" stroke="#7a1aa8" stroke-width="1.0"/><line x1="621.22" y1="592.71" x2="622.84" y2="594.76" stroke="#2a18e0" stroke-width="1.15"/><line x1="622.19" y1="593.94" x2="622.84" y2="594.76" stroke="#7a1aa8" stroke-width="1.0"/><line x1="620.56" y1="593.22" x2="623.06" y2="596.46" stroke="#2a18e0" stroke-width="1.15"/><line x1="622.06" y1="595.16" x2="623.06" y2="596.46" stroke="#7a1aa8" stroke-width="1.0"/><line x1="619.9" y1="593.72" x2="622.53" y2="597.24" stroke="#2a18e0" stroke-width="1.15"/><line x1="621.48" y1="595.83" x2="622.53" y2="597.24" stroke="#7a1aa8" stroke-width="1.0"/><line x1="619.23" y1="594.22" x2="620.46" y2="595.9" stroke="#2a18e0" stroke-width="1.15"/><line x1="619.97" y1="595.23" x2="620.46" y2="595.9" stroke="#7a1aa8" stroke-width="1.0"/><line x1="618.56" y1="594.7" x2="619.39" y2="595.89" stroke="#2a18e0" stroke-width="1.15"/><line x1="619.06" y1="595.41" x2="619.39" y2="595.89" stroke="#7a1aa8" stroke-width="1.0"/><text x="658.73" y="615.48" font-size="8.8" font-weight="bold" text-anchor="middle">2</text><path d="M634.98 622.96A96.2 96.2 0 0 1 602.09 636.84L600.11 627.65A86.8 86.8 0 0 0 629.78 615.13Z" fill="none" stroke="#444" stroke-width="1.6"/><path d="M629.78 615.13A86.8 86.8 0 0 1 600.11 627.65L595.21 604.97A63.6 63.6 0 0 0 616.96 595.8Z" fill="none" stroke="#444" stroke-width="1.5"/><path d="M627.85 612.21A83.3 83.3 0 0 1 599.37 624.23" fill="none" stroke="#444" stroke-width="1.5"/><path d="M628.82 613.67A85.05 85.05 0 0 1 599.74 625.94" fill="none" stroke="#666" stroke-width="2.0" stroke-dasharray="0.8,0.8"/><path d="M622.04 603.46A72.8 72.8 0 0 1 597.16 613.96" fill="none" stroke="#444" stroke-width="2.1"/><path d="M622.04 603.46A72.8 72.8 0 0 1 597.16 613.96" fill="none" stroke="#bbb" stroke-width="0.7" stroke-dasharray="0.7,0.9"/><circle cx="607.71" cy="627.18" r="0.55" fill="#2222ee"/><circle cx="624.84" cy="619.13" r="0.55" fill="#2222ee"/><circle cx="618.56" cy="623.08" r="0.55" fill="#2222ee"/><circle cx="606.59" cy="627.55" r="0.55" fill="#2222ee"/><circle cx="613.12" cy="624.58" r="0.55" fill="#2222ee"/><circle cx="618.81" cy="622.24" r="0.55" fill="#2222ee"/><circle cx="615.22" cy="624.3" r="0.55" fill="#2222ee"/><circle cx="624.4" cy="619.46" r="0.55" fill="#2222ee"/><circle cx="607.38" cy="626.41" r="0.55" fill="#2222ee"/><circle cx="607.03" cy="627.6" r="0.55" fill="#2222ee"/><circle cx="602.35" cy="628.22" r="0.55" fill="#2222ee"/><circle cx="614.48" cy="624.61" r="0.55" fill="#2222ee"/><circle cx="612.23" cy="625.98" r="0.55" fill="#2222ee"/><circle cx="610.36" cy="625.78" r="0.55" fill="#2222ee"/><circle cx="605.14" cy="627.63" r="0.55" fill="#2222ee"/><circle cx="613.09" cy="625.34" r="0.55" fill="#2222ee"/><circle cx="630.18" cy="616.7" r="0.55" fill="#2222ee"/><circle cx="611.18" cy="625.74" r="0.55" fill="#2222ee"/><circle cx="615.28" cy="624.13" r="0.55" fill="#2222ee"/><circle cx="624.8" cy="619.62" r="0.55" fill="#2222ee"/><circle cx="629.07" cy="617.03" r="0.55" fill="#2222ee"/><circle cx="611.64" cy="625.52" r="0.55" fill="#2222ee"/><circle cx="614.25" cy="625.19" r="0.55" fill="#2222ee"/><circle cx="604.05" cy="627.49" r="0.55" fill="#2222ee"/><circle cx="607.27" cy="627.19" r="0.55" fill="#2222ee"/><circle cx="628.61" cy="617.12" r="0.55" fill="#2222ee"/><circle cx="623.43" cy="619.76" r="0.55" fill="#2222ee"/><circle cx="615.04" cy="624.84" r="0.55" fill="#2222ee"/><circle cx="621.33" cy="621.92" r="0.55" fill="#2222ee"/><circle cx="610.05" cy="625.68" r="0.55" fill="#2222ee"/><circle cx="605.23" cy="627.75" r="0.55" fill="#2222ee"/><circle cx="603.14" cy="628.44" r="0.55" fill="#2222ee"/><circle cx="608.77" cy="626.37" r="0.55" fill="#2222ee"/><circle cx="606.93" cy="627.68" r="0.55" fill="#2222ee"/><circle cx="604.53" cy="624.76" r="0.7" fill="#e02020"/><circle cx="609.22" cy="623.31" r="0.7" fill="#e06010"/><circle cx="615.27" cy="620.99" r="0.7" fill="#e02020"/><path d="M625.2 608.21A78.5 78.5 0 0 1 598.36 619.53" fill="none" stroke="#7a1a9a" stroke-width="3.4"/><path d="M626.3 609.88A80.5 80.5 0 0 1 598.78 621.49" fill="none" stroke="#3a1ae0" stroke-width="1.0"/><path d="M624.2 606.71A76.7 76.7 0 0 1 597.98 617.77" fill="none" stroke="#c0184a" stroke-width="0.8"/><line x1="623.97" y1="611.72" x2="624.45" y2="612.5" stroke="#3020e0" stroke-width="0.9"/><line x1="621.73" y1="608.05" x2="621.08" y2="607" stroke="#901a80" stroke-width="0.9"/><line x1="622.88" y1="612.38" x2="623.36" y2="613.18" stroke="#3020e0" stroke-width="0.9"/><line x1="620.7" y1="608.67" x2="620.29" y2="607.98" stroke="#901a80" stroke-width="0.9"/><line x1="620.68" y1="613.63" x2="620.84" y2="613.94" stroke="#3020e0" stroke-width="0.9"/><line x1="618.61" y1="609.86" x2="618.01" y2="608.78" stroke="#901a80" stroke-width="0.9"/><line x1="619.56" y1="614.23" x2="619.92" y2="614.92" stroke="#3020e0" stroke-width="0.9"/><line x1="617.3" y1="615.39" x2="617.64" y2="616.09" stroke="#3020e0" stroke-width="0.9"/><line x1="614.32" y1="612.04" x2="614.19" y2="611.75" stroke="#901a80" stroke-width="0.9"/><line x1="612.13" y1="613.03" x2="611.75" y2="612.14" stroke="#901a80" stroke-width="0.9"/><line x1="612.67" y1="617.47" x2="612.88" y2="617.97" stroke="#3020e0" stroke-width="0.9"/><line x1="611.49" y1="617.95" x2="611.75" y2="618.61" stroke="#3020e0" stroke-width="0.9"/><line x1="609.91" y1="613.95" x2="609.51" y2="612.94" stroke="#901a80" stroke-width="0.9"/><line x1="610.31" y1="618.4" x2="610.43" y2="618.73" stroke="#3020e0" stroke-width="0.9"/><line x1="607.92" y1="619.26" x2="608.18" y2="620.02" stroke="#3020e0" stroke-width="0.9"/><line x1="606.53" y1="615.19" x2="606.31" y2="614.56" stroke="#901a80" stroke-width="0.9"/><line x1="606.72" y1="619.66" x2="607.17" y2="621.08" stroke="#3020e0" stroke-width="0.9"/><line x1="604.24" y1="615.93" x2="603.84" y2="614.61" stroke="#901a80" stroke-width="0.9"/><line x1="600.77" y1="616.91" x2="600.61" y2="616.26" stroke="#901a80" stroke-width="0.9"/><line x1="599.61" y1="617.2" x2="599.52" y2="616.85" stroke="#901a80" stroke-width="0.9"/><line x1="599.37" y1="621.67" x2="599.46" y2="622.07" stroke="#3020e0" stroke-width="0.9"/><line x1="616.77" y1="595.92" x2="618.82" y2="599.03" stroke="#2a18e0" stroke-width="1.15"/><line x1="618" y1="597.79" x2="618.82" y2="599.03" stroke="#7a1aa8" stroke-width="1.0"/><line x1="616.08" y1="596.37" x2="617.7" y2="598.91" stroke="#2a18e0" stroke-width="1.15"/><line x1="617.05" y1="597.9" x2="617.7" y2="598.91" stroke="#7a1aa8" stroke-width="1.0"/><line x1="615.37" y1="596.82" x2="616.3" y2="598.31" stroke="#2a18e0" stroke-width="1.15"/><line x1="615.93" y1="597.71" x2="616.3" y2="598.31" stroke="#7a1aa8" stroke-width="1.0"/><line x1="614.66" y1="597.25" x2="615.86" y2="599.24" stroke="#2a18e0" stroke-width="1.15"/><line x1="615.38" y1="598.45" x2="615.86" y2="599.24" stroke="#7a1aa8" stroke-width="1.0"/><line x1="613.95" y1="597.68" x2="614.35" y2="598.37" stroke="#2a18e0" stroke-width="1.15"/><line x1="614.19" y1="598.1" x2="614.35" y2="598.37" stroke="#7a1aa8" stroke-width="1.0"/><line x1="613.22" y1="598.09" x2="614.66" y2="600.63" stroke="#2a18e0" stroke-width="1.15"/><line x1="614.09" y1="599.61" x2="614.66" y2="600.63" stroke="#7a1aa8" stroke-width="1.0"/><line x1="612.5" y1="598.5" x2="614.25" y2="601.68" stroke="#2a18e0" stroke-width="1.15"/><line x1="613.55" y1="600.41" x2="614.25" y2="601.68" stroke="#7a1aa8" stroke-width="1.0"/><line x1="611.77" y1="598.9" x2="613.65" y2="602.43" stroke="#2a18e0" stroke-width="1.15"/><line x1="612.9" y1="601.02" x2="613.65" y2="602.43" stroke="#7a1aa8" stroke-width="1.0"/><line x1="611.03" y1="599.29" x2="612.21" y2="601.57" stroke="#2a18e0" stroke-width="1.15"/><line x1="611.74" y1="600.66" x2="612.21" y2="601.57" stroke="#7a1aa8" stroke-width="1.0"/><line x1="610.29" y1="599.66" x2="610.44" y2="599.97" stroke="#2a18e0" stroke-width="1.15"/><line x1="610.38" y1="599.85" x2="610.44" y2="599.97" stroke="#7a1aa8" stroke-width="1.0"/><line x1="609.54" y1="600.03" x2="610.86" y2="602.76" stroke="#2a18e0" stroke-width="1.15"/><line x1="610.33" y1="601.67" x2="610.86" y2="602.76" stroke="#7a1aa8" stroke-width="1.0"/><line x1="608.79" y1="600.39" x2="610.12" y2="603.24" stroke="#2a18e0" stroke-width="1.15"/><line x1="609.59" y1="602.1" x2="610.12" y2="603.24" stroke="#7a1aa8" stroke-width="1.0"/><line x1="608.03" y1="600.74" x2="609.11" y2="603.12" stroke="#2a18e0" stroke-width="1.15"/><line x1="608.68" y1="602.16" x2="609.11" y2="603.12" stroke="#7a1aa8" stroke-width="1.0"/><line x1="607.27" y1="601.08" x2="607.63" y2="601.89" stroke="#2a18e0" stroke-width="1.15"/><line x1="607.49" y1="601.57" x2="607.63" y2="601.89" stroke="#7a1aa8" stroke-width="1.0"/><line x1="606.51" y1="601.4" x2="608.35" y2="605.78" stroke="#2a18e0" stroke-width="1.15"/><line x1="607.62" y1="604.03" x2="608.35" y2="605.78" stroke="#7a1aa8" stroke-width="1.0"/><line x1="605.74" y1="601.72" x2="606.39" y2="603.33" stroke="#2a18e0" stroke-width="1.15"/><line x1="606.13" y1="602.69" x2="606.39" y2="603.33" stroke="#7a1aa8" stroke-width="1.0"/><line x1="604.97" y1="602.03" x2="605.17" y2="602.54" stroke="#2a18e0" stroke-width="1.15"/><line x1="605.09" y1="602.34" x2="605.17" y2="602.54" stroke="#7a1aa8" stroke-width="1.0"/><line x1="604.19" y1="602.33" x2="605.53" y2="605.9" stroke="#2a18e0" stroke-width="1.15"/><line x1="604.99" y1="604.47" x2="605.53" y2="605.9" stroke="#7a1aa8" stroke-width="1.0"/><line x1="603.41" y1="602.62" x2="604.86" y2="606.65" stroke="#2a18e0" stroke-width="1.15"/><line x1="604.28" y1="605.03" x2="604.86" y2="606.65" stroke="#7a1aa8" stroke-width="1.0"/><line x1="602.62" y1="602.89" x2="603.94" y2="606.68" stroke="#2a18e0" stroke-width="1.15"/><line x1="603.41" y1="605.17" x2="603.94" y2="606.68" stroke="#7a1aa8" stroke-width="1.0"/><line x1="601.83" y1="603.16" x2="602.07" y2="603.88" stroke="#2a18e0" stroke-width="1.15"/><line x1="601.98" y1="603.59" x2="602.07" y2="603.88" stroke="#7a1aa8" stroke-width="1.0"/><line x1="601.04" y1="603.42" x2="601.11" y2="603.64" stroke="#2a18e0" stroke-width="1.15"/><line x1="601.08" y1="603.55" x2="601.11" y2="603.64" stroke="#7a1aa8" stroke-width="1.0"/><line x1="600.25" y1="603.67" x2="601.41" y2="607.5" stroke="#2a18e0" stroke-width="1.15"/><line x1="600.94" y1="605.97" x2="601.41" y2="607.5" stroke="#7a1aa8" stroke-width="1.0"/><line x1="599.45" y1="603.9" x2="599.52" y2="604.17" stroke="#2a18e0" stroke-width="1.15"/><line x1="599.49" y1="604.06" x2="599.52" y2="604.17" stroke="#7a1aa8" stroke-width="1.0"/><line x1="598.65" y1="604.13" x2="599.61" y2="607.64" stroke="#2a18e0" stroke-width="1.15"/><line x1="599.23" y1="606.24" x2="599.61" y2="607.64" stroke="#7a1aa8" stroke-width="1.0"/><line x1="597.84" y1="604.34" x2="598.7" y2="607.64" stroke="#2a18e0" stroke-width="1.15"/><line x1="598.36" y1="606.32" x2="598.7" y2="607.64" stroke="#7a1aa8" stroke-width="1.0"/><line x1="597.04" y1="604.55" x2="597.09" y2="604.79" stroke="#2a18e0" stroke-width="1.15"/><line x1="597.07" y1="604.69" x2="597.09" y2="604.79" stroke="#7a1aa8" stroke-width="1.0"/><line x1="596.23" y1="604.74" x2="596.5" y2="605.9" stroke="#2a18e0" stroke-width="1.15"/><line x1="596.39" y1="605.44" x2="596.5" y2="605.9" stroke="#7a1aa8" stroke-width="1.0"/><text x="622.08" y="641.41" font-size="8.8" font-weight="bold" text-anchor="middle">3</text><path d="M600.15 637.23A96.2 96.2 0 0 1 565.68 637.64L567.26 628.37A86.8 86.8 0 0 0 598.36 628.01Z" fill="none" stroke="#444" stroke-width="1.6"/><path d="M598.36 628.01A86.8 86.8 0 0 1 567.26 628.37L571.14 605.5A63.6 63.6 0 0 0 593.93 605.23Z" fill="none" stroke="#444" stroke-width="1.5"/><path d="M597.69 624.57A83.3 83.3 0 0 1 567.84 624.92" fill="none" stroke="#444" stroke-width="1.5"/><path d="M598.03 626.29A85.05 85.05 0 0 1 567.55 626.65" fill="none" stroke="#666" stroke-width="2.0" stroke-dasharray="0.8,0.8"/><path d="M595.69 614.26A72.8 72.8 0 0 1 569.6 614.57" fill="none" stroke="#444" stroke-width="2.1"/><path d="M595.69 614.26A72.8 72.8 0 0 1 569.6 614.57" fill="none" stroke="#bbb" stroke-width="0.7" stroke-dasharray="0.7,0.9"/><circle cx="583.88" cy="631.22" r="0.55" fill="#2222ee"/><circle cx="578.3" cy="631.33" r="0.55" fill="#2222ee"/><circle cx="598.02" cy="628.92" r="0.55" fill="#2222ee"/><circle cx="573.97" cy="630.95" r="0.55" fill="#2222ee"/><circle cx="587.79" cy="630.37" r="0.55" fill="#2222ee"/><circle cx="584.38" cy="631.15" r="0.55" fill="#2222ee"/><circle cx="591.76" cy="630.46" r="0.55" fill="#2222ee"/><circle cx="568.11" cy="630.26" r="0.55" fill="#2222ee"/><circle cx="593.87" cy="630.56" r="0.55" fill="#2222ee"/><circle cx="594.7" cy="629.59" r="0.55" fill="#2222ee"/><circle cx="591.83" cy="630.65" r="0.55" fill="#2222ee"/><circle cx="582.36" cy="630.8" r="0.55" fill="#2222ee"/><circle cx="570.36" cy="629.83" r="0.55" fill="#2222ee"/><circle cx="571.04" cy="630.48" r="0.55" fill="#2222ee"/><circle cx="583.84" cy="630.92" r="0.55" fill="#2222ee"/><circle cx="596.95" cy="629.86" r="0.55" fill="#2222ee"/><circle cx="579.81" cy="631.21" r="0.55" fill="#2222ee"/><circle cx="595.14" cy="630.32" r="0.55" fill="#2222ee"/><circle cx="590.32" cy="629.92" r="0.55" fill="#2222ee"/><circle cx="585.96" cy="631.09" r="0.55" fill="#2222ee"/><circle cx="577.3" cy="630.22" r="0.55" fill="#2222ee"/><circle cx="583.29" cy="630.99" r="0.55" fill="#2222ee"/><circle cx="576.71" cy="630.54" r="0.55" fill="#2222ee"/><circle cx="577.87" cy="631.05" r="0.55" fill="#2222ee"/><circle cx="589.28" cy="631.02" r="0.55" fill="#2222ee"/><circle cx="584.57" cy="630.61" r="0.55" fill="#2222ee"/><circle cx="594.5" cy="629.28" r="0.55" fill="#2222ee"/><circle cx="589.02" cy="630.67" r="0.55" fill="#2222ee"/><circle cx="587.69" cy="630.23" r="0.55" fill="#2222ee"/><circle cx="575" cy="631.05" r="0.55" fill="#2222ee"/><circle cx="577.11" cy="630.51" r="0.55" fill="#2222ee"/><circle cx="574.15" cy="629.95" r="0.55" fill="#2222ee"/><circle cx="582.26" cy="630.5" r="0.55" fill="#2222ee"/><circle cx="572.96" cy="627.39" r="0.7" fill="#e02020"/><circle cx="587.6" cy="627.65" r="0.7" fill="#e02020"/><circle cx="584.58" cy="627.8" r="0.7" fill="#109090"/><path d="M596.78 619.86A78.5 78.5 0 0 1 568.65 620.19" fill="none" stroke="#7a1a9a" stroke-width="3.4"/><path d="M597.16 621.82A80.5 80.5 0 0 1 568.31 622.16" fill="none" stroke="#3a1ae0" stroke-width="1.0"/><path d="M596.43 618.09A76.7 76.7 0 0 1 568.95 618.42" fill="none" stroke="#c0184a" stroke-width="0.8"/><line x1="596.8" y1="622.2" x2="596.9" y2="622.7" stroke="#3020e0" stroke-width="0.9"/><line x1="591.78" y1="622.98" x2="591.97" y2="624.5" stroke="#3020e0" stroke-width="0.9"/><line x1="586.73" y1="623.45" x2="586.82" y2="624.96" stroke="#3020e0" stroke-width="0.9"/><line x1="586.47" y1="619.16" x2="586.44" y2="618.75" stroke="#901a80" stroke-width="0.9"/><line x1="585.27" y1="619.22" x2="585.23" y2="618.35" stroke="#901a80" stroke-width="0.9"/><line x1="584.07" y1="619.27" x2="584.03" y2="618.15" stroke="#901a80" stroke-width="0.9"/><line x1="582.93" y1="623.59" x2="582.94" y2="624.45" stroke="#3020e0" stroke-width="0.9"/><line x1="582.87" y1="619.29" x2="582.85" y2="618.18" stroke="#901a80" stroke-width="0.9"/><line x1="581.66" y1="619.3" x2="581.67" y2="618.89" stroke="#901a80" stroke-width="0.9"/><line x1="580.39" y1="623.59" x2="580.37" y2="624.42" stroke="#3020e0" stroke-width="0.9"/><line x1="580.46" y1="619.29" x2="580.47" y2="618.82" stroke="#901a80" stroke-width="0.9"/><line x1="576.86" y1="619.14" x2="576.89" y2="618.66" stroke="#901a80" stroke-width="0.9"/><line x1="575.32" y1="623.34" x2="575.25" y2="624.24" stroke="#3020e0" stroke-width="0.9"/><line x1="574.47" y1="618.95" x2="574.58" y2="617.72" stroke="#901a80" stroke-width="0.9"/><line x1="572.79" y1="623.1" x2="572.69" y2="623.99" stroke="#3020e0" stroke-width="0.9"/><line x1="572.08" y1="618.68" x2="572.15" y2="618.12" stroke="#901a80" stroke-width="0.9"/><line x1="570.89" y1="618.52" x2="570.95" y2="618.08" stroke="#901a80" stroke-width="0.9"/><line x1="593.72" y1="605.27" x2="593.94" y2="606.45" stroke="#2a18e0" stroke-width="1.15"/><line x1="593.85" y1="605.98" x2="593.94" y2="606.45" stroke="#7a1aa8" stroke-width="1.0"/><line x1="592.9" y1="605.42" x2="593.61" y2="609.44" stroke="#2a18e0" stroke-width="1.15"/><line x1="593.32" y1="607.83" x2="593.61" y2="609.44" stroke="#7a1aa8" stroke-width="1.0"/><line x1="592.08" y1="605.56" x2="592.87" y2="610.42" stroke="#2a18e0" stroke-width="1.15"/><line x1="592.55" y1="608.48" x2="592.87" y2="610.42" stroke="#7a1aa8" stroke-width="1.0"/><line x1="591.25" y1="605.69" x2="591.98" y2="610.56" stroke="#2a18e0" stroke-width="1.15"/><line x1="591.69" y1="608.61" x2="591.98" y2="610.56" stroke="#7a1aa8" stroke-width="1.0"/><line x1="590.43" y1="605.81" x2="590.67" y2="607.54" stroke="#2a18e0" stroke-width="1.15"/><line x1="590.57" y1="606.85" x2="590.67" y2="607.54" stroke="#7a1aa8" stroke-width="1.0"/><line x1="589.6" y1="605.92" x2="589.94" y2="608.63" stroke="#2a18e0" stroke-width="1.15"/><line x1="589.81" y1="607.54" x2="589.94" y2="608.63" stroke="#7a1aa8" stroke-width="1.0"/><line x1="588.78" y1="606.02" x2="588.91" y2="607.21" stroke="#2a18e0" stroke-width="1.15"/><line x1="588.86" y1="606.73" x2="588.91" y2="607.21" stroke="#7a1aa8" stroke-width="1.0"/><line x1="587.95" y1="606.1" x2="588.08" y2="607.47" stroke="#2a18e0" stroke-width="1.15"/><line x1="588.03" y1="606.92" x2="588.08" y2="607.47" stroke="#7a1aa8" stroke-width="1.0"/><line x1="587.12" y1="606.18" x2="587.29" y2="608.16" stroke="#2a18e0" stroke-width="1.15"/><line x1="587.22" y1="607.37" x2="587.29" y2="608.16" stroke="#7a1aa8" stroke-width="1.0"/><line x1="586.29" y1="606.24" x2="586.33" y2="606.77" stroke="#2a18e0" stroke-width="1.15"/><line x1="586.31" y1="606.56" x2="586.33" y2="606.77" stroke="#7a1aa8" stroke-width="1.0"/><line x1="585.46" y1="606.29" x2="585.53" y2="607.47" stroke="#2a18e0" stroke-width="1.15"/><line x1="585.5" y1="607" x2="585.53" y2="607.47" stroke="#7a1aa8" stroke-width="1.0"/><line x1="584.63" y1="606.34" x2="584.78" y2="609.84" stroke="#2a18e0" stroke-width="1.15"/><line x1="584.72" y1="608.44" x2="584.78" y2="609.84" stroke="#7a1aa8" stroke-width="1.0"/><line x1="583.8" y1="606.37" x2="583.94" y2="611.02" stroke="#2a18e0" stroke-width="1.15"/><line x1="583.88" y1="609.16" x2="583.94" y2="611.02" stroke="#7a1aa8" stroke-width="1.0"/><line x1="582.96" y1="606.39" x2="582.97" y2="606.79" stroke="#2a18e0" stroke-width="1.15"/><line x1="582.97" y1="606.63" x2="582.97" y2="606.79" stroke="#7a1aa8" stroke-width="1.0"/><line x1="582.13" y1="606.4" x2="582.15" y2="610.43" stroke="#2a18e0" stroke-width="1.15"/><line x1="582.14" y1="608.82" x2="582.15" y2="610.43" stroke="#7a1aa8" stroke-width="1.0"/><line x1="581.3" y1="606.4" x2="581.27" y2="609.43" stroke="#2a18e0" stroke-width="1.15"/><line x1="581.28" y1="608.22" x2="581.27" y2="609.43" stroke="#7a1aa8" stroke-width="1.0"/><line x1="580.47" y1="606.39" x2="580.45" y2="607.03" stroke="#2a18e0" stroke-width="1.15"/><line x1="580.46" y1="606.77" x2="580.45" y2="607.03" stroke="#7a1aa8" stroke-width="1.0"/><line x1="579.63" y1="606.36" x2="579.58" y2="608.04" stroke="#2a18e0" stroke-width="1.15"/><line x1="579.6" y1="607.37" x2="579.58" y2="608.04" stroke="#7a1aa8" stroke-width="1.0"/><line x1="578.8" y1="606.33" x2="578.63" y2="609.9" stroke="#2a18e0" stroke-width="1.15"/><line x1="578.7" y1="608.47" x2="578.63" y2="609.9" stroke="#7a1aa8" stroke-width="1.0"/><line x1="577.97" y1="606.28" x2="577.92" y2="607.21" stroke="#2a18e0" stroke-width="1.15"/><line x1="577.94" y1="606.84" x2="577.92" y2="607.21" stroke="#7a1aa8" stroke-width="1.0"/><line x1="577.14" y1="606.23" x2="576.87" y2="609.88" stroke="#2a18e0" stroke-width="1.15"/><line x1="576.98" y1="608.42" x2="576.87" y2="609.88" stroke="#7a1aa8" stroke-width="1.0"/><line x1="576.31" y1="606.16" x2="576.24" y2="607.01" stroke="#2a18e0" stroke-width="1.15"/><line x1="576.27" y1="606.67" x2="576.24" y2="607.01" stroke="#7a1aa8" stroke-width="1.0"/><line x1="575.48" y1="606.09" x2="575.22" y2="608.73" stroke="#2a18e0" stroke-width="1.15"/><line x1="575.32" y1="607.67" x2="575.22" y2="608.73" stroke="#7a1aa8" stroke-width="1.0"/><line x1="574.65" y1="606" x2="574.46" y2="607.67" stroke="#2a18e0" stroke-width="1.15"/><line x1="574.54" y1="607" x2="574.46" y2="607.67" stroke="#7a1aa8" stroke-width="1.0"/><line x1="573.83" y1="605.9" x2="573.36" y2="609.6" stroke="#2a18e0" stroke-width="1.15"/><line x1="573.55" y1="608.12" x2="573.36" y2="609.6" stroke="#7a1aa8" stroke-width="1.0"/><line x1="573" y1="605.79" x2="572.91" y2="606.42" stroke="#2a18e0" stroke-width="1.15"/><line x1="572.95" y1="606.17" x2="572.91" y2="606.42" stroke="#7a1aa8" stroke-width="1.0"/><line x1="572.18" y1="605.67" x2="571.81" y2="608.05" stroke="#2a18e0" stroke-width="1.15"/><line x1="571.96" y1="607.1" x2="571.81" y2="608.05" stroke="#7a1aa8" stroke-width="1.0"/><text x="583.02" y="648.87" font-size="8.8" font-weight="bold" text-anchor="middle">4</text><path d="M563.73 637.29A96.2 96.2 0 0 1 533.18 625.81L537.93 617.7A86.8 86.8 0 0 0 565.5 628.06Z" fill="none" stroke="#444" stroke-width="1.6"/><path d="M565.5 628.06A86.8 86.8 0 0 1 537.93 617.7L549.65 597.68A63.6 63.6 0 0 0 569.86 605.27Z" fill="none" stroke="#444" stroke-width="1.5"/><path d="M566.16 624.62A83.3 83.3 0 0 1 539.7 614.68" fill="none" stroke="#444" stroke-width="1.5"/><path d="M565.83 626.34A85.05 85.05 0 0 1 538.81 616.19" fill="none" stroke="#666" stroke-width="2.0" stroke-dasharray="0.8,0.8"/><path d="M568.13 614.3A72.8 72.8 0 0 1 545 605.62" fill="none" stroke="#444" stroke-width="2.1"/><path d="M568.13 614.3A72.8 72.8 0 0 1 545 605.62" fill="none" stroke="#bbb" stroke-width="0.7" stroke-dasharray="0.7,0.9"/><circle cx="551.96" cy="625.97" r="0.55" fill="#2222ee"/><circle cx="551.96" cy="626.17" r="0.55" fill="#2222ee"/><circle cx="560.47" cy="627.95" r="0.55" fill="#2222ee"/><circle cx="550.29" cy="624.85" r="0.55" fill="#2222ee"/><circle cx="541.34" cy="621.39" r="0.55" fill="#2222ee"/><circle cx="539.39" cy="620.06" r="0.55" fill="#2222ee"/><circle cx="563.93" cy="629.06" r="0.55" fill="#2222ee"/><circle cx="549.5" cy="624.64" r="0.55" fill="#2222ee"/><circle cx="556.85" cy="627.45" r="0.55" fill="#2222ee"/><circle cx="540.19" cy="619.8" r="0.55" fill="#2222ee"/><circle cx="546.37" cy="623.18" r="0.55" fill="#2222ee"/><circle cx="550.28" cy="625.47" r="0.55" fill="#2222ee"/><circle cx="538.64" cy="619.69" r="0.55" fill="#2222ee"/><circle cx="559.16" cy="628.36" r="0.55" fill="#2222ee"/><circle cx="559.72" cy="627.84" r="0.55" fill="#2222ee"/><circle cx="542.21" cy="621.15" r="0.55" fill="#2222ee"/><circle cx="557.02" cy="627.8" r="0.55" fill="#2222ee"/><circle cx="539.25" cy="619.58" r="0.55" fill="#2222ee"/><circle cx="553.88" cy="625.98" r="0.55" fill="#2222ee"/><circle cx="561.16" cy="628.04" r="0.55" fill="#2222ee"/><circle cx="538.47" cy="618.81" r="0.55" fill="#2222ee"/><circle cx="558.42" cy="627.26" r="0.55" fill="#2222ee"/><circle cx="562.55" cy="628.7" r="0.55" fill="#2222ee"/><circle cx="544.17" cy="622.8" r="0.55" fill="#2222ee"/><circle cx="547.16" cy="624.11" r="0.55" fill="#2222ee"/><circle cx="564.72" cy="628.86" r="0.55" fill="#2222ee"/><circle cx="538.95" cy="619.07" r="0.55" fill="#2222ee"/><circle cx="557.27" cy="627.29" r="0.55" fill="#2222ee"/><circle cx="557.24" cy="627.36" r="0.55" fill="#2222ee"/><circle cx="563.55" cy="628.56" r="0.55" fill="#2222ee"/><circle cx="539" cy="619.2" r="0.55" fill="#2222ee"/><circle cx="541.73" cy="617.82" r="0.7" fill="#e06010"/><circle cx="547.05" cy="620.43" r="0.7" fill="#e02020"/><path d="M567.06 619.9A78.5 78.5 0 0 1 542.12 610.53" fill="none" stroke="#7a1a9a" stroke-width="3.4"/><path d="M566.68 621.87A80.5 80.5 0 0 1 541.11 612.26" fill="none" stroke="#3a1ae0" stroke-width="1.0"/><path d="M567.4 618.14A76.7 76.7 0 0 1 543.03 608.98" fill="none" stroke="#c0184a" stroke-width="0.8"/><line x1="564.97" y1="621.83" x2="564.89" y2="622.19" stroke="#3020e0" stroke-width="0.9"/><line x1="563.73" y1="621.55" x2="563.61" y2="622.09" stroke="#3020e0" stroke-width="0.9"/><line x1="563.52" y1="617.08" x2="563.85" y2="615.77" stroke="#901a80" stroke-width="0.9"/><line x1="562.36" y1="616.79" x2="562.46" y2="616.38" stroke="#901a80" stroke-width="0.9"/><line x1="560.04" y1="620.61" x2="559.61" y2="622.14" stroke="#3020e0" stroke-width="0.9"/><line x1="561.2" y1="616.47" x2="561.32" y2="616.05" stroke="#901a80" stroke-width="0.9"/><line x1="558.82" y1="620.26" x2="558.69" y2="620.71" stroke="#3020e0" stroke-width="0.9"/><line x1="560.04" y1="616.14" x2="560.41" y2="614.89" stroke="#901a80" stroke-width="0.9"/><line x1="557.61" y1="619.89" x2="557.44" y2="620.42" stroke="#3020e0" stroke-width="0.9"/><line x1="555.2" y1="619.09" x2="554.95" y2="619.81" stroke="#3020e0" stroke-width="0.9"/><line x1="554" y1="618.67" x2="553.58" y2="619.81" stroke="#3020e0" stroke-width="0.9"/><line x1="555.48" y1="614.63" x2="555.59" y2="614.33" stroke="#901a80" stroke-width="0.9"/><line x1="552.81" y1="618.22" x2="552.36" y2="619.41" stroke="#3020e0" stroke-width="0.9"/><line x1="548.13" y1="616.25" x2="547.69" y2="617.23" stroke="#3020e0" stroke-width="0.9"/><line x1="548.84" y1="611.83" x2="549.42" y2="610.61" stroke="#901a80" stroke-width="0.9"/><line x1="547.76" y1="611.31" x2="548.02" y2="610.78" stroke="#901a80" stroke-width="0.9"/><line x1="544.71" y1="614.58" x2="544.54" y2="614.91" stroke="#3020e0" stroke-width="0.9"/><line x1="543.59" y1="613.99" x2="542.91" y2="615.26" stroke="#3020e0" stroke-width="0.9"/><line x1="545.62" y1="610.2" x2="545.77" y2="609.93" stroke="#901a80" stroke-width="0.9"/><line x1="569.64" y1="605.23" x2="568.86" y2="609.22" stroke="#2a18e0" stroke-width="1.15"/><line x1="569.17" y1="607.62" x2="568.86" y2="609.22" stroke="#7a1aa8" stroke-width="1.0"/><line x1="568.82" y1="605.06" x2="568.18" y2="608.16" stroke="#2a18e0" stroke-width="1.15"/><line x1="568.44" y1="606.92" x2="568.18" y2="608.16" stroke="#7a1aa8" stroke-width="1.0"/><line x1="568.01" y1="604.89" x2="567.66" y2="606.43" stroke="#2a18e0" stroke-width="1.15"/><line x1="567.8" y1="605.82" x2="567.66" y2="606.43" stroke="#7a1aa8" stroke-width="1.0"/><line x1="567.2" y1="604.7" x2="566.67" y2="606.93" stroke="#2a18e0" stroke-width="1.15"/><line x1="566.88" y1="606.04" x2="566.67" y2="606.93" stroke="#7a1aa8" stroke-width="1.0"/><line x1="566.39" y1="604.5" x2="565.78" y2="606.92" stroke="#2a18e0" stroke-width="1.15"/><line x1="566.03" y1="605.96" x2="565.78" y2="606.92" stroke="#7a1aa8" stroke-width="1.0"/><line x1="565.58" y1="604.3" x2="564.96" y2="606.65" stroke="#2a18e0" stroke-width="1.15"/><line x1="565.21" y1="605.71" x2="564.96" y2="606.65" stroke="#7a1aa8" stroke-width="1.0"/><line x1="564.78" y1="604.08" x2="563.46" y2="608.82" stroke="#2a18e0" stroke-width="1.15"/><line x1="563.99" y1="606.93" x2="563.46" y2="608.82" stroke="#7a1aa8" stroke-width="1.0"/><line x1="563.98" y1="603.85" x2="563.73" y2="604.71" stroke="#2a18e0" stroke-width="1.15"/><line x1="563.83" y1="604.36" x2="563.73" y2="604.71" stroke="#7a1aa8" stroke-width="1.0"/><line x1="563.18" y1="603.61" x2="563.05" y2="604.02" stroke="#2a18e0" stroke-width="1.15"/><line x1="563.1" y1="603.86" x2="563.05" y2="604.02" stroke="#7a1aa8" stroke-width="1.0"/><line x1="562.39" y1="603.36" x2="562.26" y2="603.76" stroke="#2a18e0" stroke-width="1.15"/><line x1="562.31" y1="603.6" x2="562.26" y2="603.76" stroke="#7a1aa8" stroke-width="1.0"/><line x1="561.59" y1="603.1" x2="560.64" y2="605.95" stroke="#2a18e0" stroke-width="1.15"/><line x1="561.02" y1="604.81" x2="560.64" y2="605.95" stroke="#7a1aa8" stroke-width="1.0"/><line x1="560.81" y1="602.84" x2="560.03" y2="605.07" stroke="#2a18e0" stroke-width="1.15"/><line x1="560.34" y1="604.17" x2="560.03" y2="605.07" stroke="#7a1aa8" stroke-width="1.0"/><line x1="560.02" y1="602.56" x2="559.29" y2="604.56" stroke="#2a18e0" stroke-width="1.15"/><line x1="559.59" y1="603.76" x2="559.29" y2="604.56" stroke="#7a1aa8" stroke-width="1.0"/><line x1="559.24" y1="602.27" x2="559.04" y2="602.79" stroke="#2a18e0" stroke-width="1.15"/><line x1="559.12" y1="602.58" x2="559.04" y2="602.79" stroke="#7a1aa8" stroke-width="1.0"/><line x1="558.47" y1="601.96" x2="557.32" y2="604.87" stroke="#2a18e0" stroke-width="1.15"/><line x1="557.78" y1="603.71" x2="557.32" y2="604.87" stroke="#7a1aa8" stroke-width="1.0"/><line x1="557.69" y1="601.65" x2="557.32" y2="602.57" stroke="#2a18e0" stroke-width="1.15"/><line x1="557.47" y1="602.2" x2="557.32" y2="602.57" stroke="#7a1aa8" stroke-width="1.0"/><line x1="556.93" y1="601.33" x2="555.84" y2="603.88" stroke="#2a18e0" stroke-width="1.15"/><line x1="556.28" y1="602.86" x2="555.84" y2="603.88" stroke="#7a1aa8" stroke-width="1.0"/><line x1="556.16" y1="601" x2="555.65" y2="602.17" stroke="#2a18e0" stroke-width="1.15"/><line x1="555.85" y1="601.7" x2="555.65" y2="602.17" stroke="#7a1aa8" stroke-width="1.0"/><line x1="555.4" y1="600.66" x2="553.58" y2="604.66" stroke="#2a18e0" stroke-width="1.15"/><line x1="554.31" y1="603.06" x2="553.58" y2="604.66" stroke="#7a1aa8" stroke-width="1.0"/><line x1="554.65" y1="600.31" x2="554.12" y2="601.43" stroke="#2a18e0" stroke-width="1.15"/><line x1="554.33" y1="600.98" x2="554.12" y2="601.43" stroke="#7a1aa8" stroke-width="1.0"/><line x1="553.9" y1="599.95" x2="553.67" y2="600.41" stroke="#2a18e0" stroke-width="1.15"/><line x1="553.76" y1="600.23" x2="553.67" y2="600.41" stroke="#7a1aa8" stroke-width="1.0"/><line x1="553.15" y1="599.58" x2="552.93" y2="600.02" stroke="#2a18e0" stroke-width="1.15"/><line x1="553.02" y1="599.85" x2="552.93" y2="600.02" stroke="#7a1aa8" stroke-width="1.0"/><line x1="552.41" y1="599.2" x2="550.93" y2="602.03" stroke="#2a18e0" stroke-width="1.15"/><line x1="551.52" y1="600.9" x2="550.93" y2="602.03" stroke="#7a1aa8" stroke-width="1.0"/><line x1="551.67" y1="598.81" x2="551.42" y2="599.29" stroke="#2a18e0" stroke-width="1.15"/><line x1="551.52" y1="599.1" x2="551.42" y2="599.29" stroke="#7a1aa8" stroke-width="1.0"/><line x1="550.94" y1="598.41" x2="550.57" y2="599.09" stroke="#2a18e0" stroke-width="1.15"/><line x1="550.72" y1="598.82" x2="550.57" y2="599.09" stroke="#7a1aa8" stroke-width="1.0"/><line x1="550.22" y1="598" x2="549.12" y2="599.92" stroke="#2a18e0" stroke-width="1.15"/><line x1="549.56" y1="599.15" x2="549.12" y2="599.92" stroke="#7a1aa8" stroke-width="1.0"/><text x="545.36" y="642.89" font-size="8.8" font-weight="bold" text-anchor="middle">5</text><path d="M531.48 624.79A96.2 96.2 0 0 1 508.09 604.61L515.29 598.57A86.8 86.8 0 0 0 536.4 616.78Z" fill="none" stroke="#444" stroke-width="1.6"/><path d="M536.4 616.78A86.8 86.8 0 0 1 515.29 598.57L533.07 583.67A63.6 63.6 0 0 0 548.53 597.01Z" fill="none" stroke="#444" stroke-width="1.5"/><path d="M538.23 613.8A83.3 83.3 0 0 1 517.97 596.32" fill="none" stroke="#444" stroke-width="1.5"/><path d="M537.31 615.29A85.05 85.05 0 0 1 516.63 597.45" fill="none" stroke="#666" stroke-width="2.0" stroke-dasharray="0.8,0.8"/><path d="M543.72 604.85A72.8 72.8 0 0 1 526.02 589.58" fill="none" stroke="#444" stroke-width="2.1"/><path d="M543.72 604.85A72.8 72.8 0 0 1 526.02 589.58" fill="none" stroke="#bbb" stroke-width="0.7" stroke-dasharray="0.7,0.9"/><circle cx="524.29" cy="609.25" r="0.55" fill="#2222ee"/><circle cx="526.91" cy="611.81" r="0.55" fill="#2222ee"/><circle cx="516.86" cy="602.34" r="0.55" fill="#2222ee"/><circle cx="532.21" cy="615.09" r="0.55" fill="#2222ee"/><circle cx="526.97" cy="611.81" r="0.55" fill="#2222ee"/><circle cx="532.45" cy="615.05" r="0.55" fill="#2222ee"/><circle cx="528.3" cy="612.34" r="0.55" fill="#2222ee"/><circle cx="534.67" cy="617.17" r="0.55" fill="#2222ee"/><circle cx="516.05" cy="601.36" r="0.55" fill="#2222ee"/><circle cx="519.27" cy="605.28" r="0.55" fill="#2222ee"/><circle cx="517.27" cy="603.36" r="0.55" fill="#2222ee"/><circle cx="525.41" cy="610.65" r="0.55" fill="#2222ee"/><circle cx="532.34" cy="616.14" r="0.55" fill="#2222ee"/><circle cx="526.92" cy="611.55" r="0.55" fill="#2222ee"/><circle cx="516.84" cy="601.79" r="0.55" fill="#2222ee"/><circle cx="530.81" cy="615" r="0.55" fill="#2222ee"/><circle cx="522.63" cy="607.27" r="0.55" fill="#2222ee"/><circle cx="534.82" cy="617" r="0.55" fill="#2222ee"/><circle cx="534.99" cy="617.79" r="0.55" fill="#2222ee"/><circle cx="531.33" cy="614.56" r="0.55" fill="#2222ee"/><circle cx="526.66" cy="611.4" r="0.55" fill="#2222ee"/><circle cx="525.65" cy="610.75" r="0.55" fill="#2222ee"/><circle cx="521.13" cy="606.43" r="0.55" fill="#2222ee"/><circle cx="532.82" cy="616.6" r="0.55" fill="#2222ee"/><circle cx="520.8" cy="605.53" r="0.55" fill="#2222ee"/><circle cx="525.35" cy="610.71" r="0.55" fill="#2222ee"/><circle cx="515.21" cy="599.53" r="0.55" fill="#2222ee"/><circle cx="535.17" cy="617.4" r="0.55" fill="#2222ee"/><circle cx="525.66" cy="611.18" r="0.55" fill="#2222ee"/><circle cx="520.12" cy="601.36" r="0.7" fill="#109090"/><circle cx="523.47" cy="604.7" r="0.7" fill="#111"/><path d="M540.74 609.7A78.5 78.5 0 0 1 521.65 593.24" fill="none" stroke="#7a1a9a" stroke-width="3.4"/><path d="M539.69 611.41A80.5 80.5 0 0 1 520.12 594.53" fill="none" stroke="#3a1ae0" stroke-width="1.0"/><path d="M541.68 608.17A76.7 76.7 0 0 1 523.03 592.08" fill="none" stroke="#c0184a" stroke-width="0.8"/><line x1="539.18" y1="611.44" x2="538.8" y2="612.05" stroke="#3020e0" stroke-width="0.9"/><line x1="540.43" y1="607.15" x2="540.9" y2="606.42" stroke="#901a80" stroke-width="0.9"/><line x1="535.99" y1="609.36" x2="535.21" y2="610.49" stroke="#3020e0" stroke-width="0.9"/><line x1="538.43" y1="605.82" x2="539.11" y2="604.83" stroke="#901a80" stroke-width="0.9"/><line x1="533.92" y1="607.89" x2="533.48" y2="608.49" stroke="#3020e0" stroke-width="0.9"/><line x1="535.51" y1="603.7" x2="536.07" y2="602.96" stroke="#901a80" stroke-width="0.9"/><line x1="531.9" y1="606.35" x2="531.24" y2="607.19" stroke="#3020e0" stroke-width="0.9"/><line x1="530.91" y1="605.56" x2="530.3" y2="606.31" stroke="#3020e0" stroke-width="0.9"/><line x1="533.62" y1="602.22" x2="534.4" y2="601.25" stroke="#901a80" stroke-width="0.9"/><line x1="529.1" y1="598.26" x2="529.39" y2="597.96" stroke="#901a80" stroke-width="0.9"/><line x1="525.23" y1="600.49" x2="524.17" y2="601.57" stroke="#3020e0" stroke-width="0.9"/><line x1="527.39" y1="596.57" x2="528.19" y2="595.78" stroke="#901a80" stroke-width="0.9"/><line x1="523.44" y1="598.69" x2="523" y2="599.11" stroke="#3020e0" stroke-width="0.9"/><line x1="521.72" y1="596.82" x2="521.14" y2="597.34" stroke="#3020e0" stroke-width="0.9"/><line x1="524.91" y1="593.95" x2="525.37" y2="593.54" stroke="#901a80" stroke-width="0.9"/><line x1="520.88" y1="595.87" x2="520.6" y2="596.12" stroke="#3020e0" stroke-width="0.9"/><line x1="548.34" y1="596.89" x2="547.38" y2="598.45" stroke="#2a18e0" stroke-width="1.15"/><line x1="547.77" y1="597.82" x2="547.38" y2="598.45" stroke="#7a1aa8" stroke-width="1.0"/><line x1="547.64" y1="596.45" x2="546.73" y2="597.87" stroke="#2a18e0" stroke-width="1.15"/><line x1="547.09" y1="597.3" x2="546.73" y2="597.87" stroke="#7a1aa8" stroke-width="1.0"/><line x1="546.94" y1="595.99" x2="545.33" y2="598.45" stroke="#2a18e0" stroke-width="1.15"/><line x1="545.97" y1="597.47" x2="545.33" y2="598.45" stroke="#7a1aa8" stroke-width="1.0"/><line x1="546.25" y1="595.53" x2="543.87" y2="599.05" stroke="#2a18e0" stroke-width="1.15"/><line x1="544.82" y1="597.64" x2="543.87" y2="599.05" stroke="#7a1aa8" stroke-width="1.0"/><line x1="545.56" y1="595.06" x2="544.46" y2="596.65" stroke="#2a18e0" stroke-width="1.15"/><line x1="544.9" y1="596.01" x2="544.46" y2="596.65" stroke="#7a1aa8" stroke-width="1.0"/><line x1="544.88" y1="594.58" x2="543.06" y2="597.13" stroke="#2a18e0" stroke-width="1.15"/><line x1="543.79" y1="596.11" x2="543.06" y2="597.13" stroke="#7a1aa8" stroke-width="1.0"/><line x1="544.2" y1="594.1" x2="542.61" y2="596.27" stroke="#2a18e0" stroke-width="1.15"/><line x1="543.25" y1="595.4" x2="542.61" y2="596.27" stroke="#7a1aa8" stroke-width="1.0"/><line x1="543.53" y1="593.6" x2="542.21" y2="595.36" stroke="#2a18e0" stroke-width="1.15"/><line x1="542.74" y1="594.66" x2="542.21" y2="595.36" stroke="#7a1aa8" stroke-width="1.0"/><line x1="542.87" y1="593.1" x2="542.07" y2="594.13" stroke="#2a18e0" stroke-width="1.15"/><line x1="542.39" y1="593.72" x2="542.07" y2="594.13" stroke="#7a1aa8" stroke-width="1.0"/><line x1="542.22" y1="592.58" x2="540.46" y2="594.8" stroke="#2a18e0" stroke-width="1.15"/><line x1="541.16" y1="593.91" x2="540.46" y2="594.8" stroke="#7a1aa8" stroke-width="1.0"/><line x1="541.57" y1="592.06" x2="540.49" y2="593.38" stroke="#2a18e0" stroke-width="1.15"/><line x1="540.92" y1="592.85" x2="540.49" y2="593.38" stroke="#7a1aa8" stroke-width="1.0"/><line x1="540.93" y1="591.53" x2="539.21" y2="593.58" stroke="#2a18e0" stroke-width="1.15"/><line x1="539.9" y1="592.76" x2="539.21" y2="593.58" stroke="#7a1aa8" stroke-width="1.0"/><line x1="540.29" y1="590.99" x2="538.63" y2="592.93" stroke="#2a18e0" stroke-width="1.15"/><line x1="539.29" y1="592.15" x2="538.63" y2="592.93" stroke="#7a1aa8" stroke-width="1.0"/><line x1="539.67" y1="590.44" x2="537.72" y2="592.64" stroke="#2a18e0" stroke-width="1.15"/><line x1="538.5" y1="591.76" x2="537.72" y2="592.64" stroke="#7a1aa8" stroke-width="1.0"/><line x1="539.05" y1="589.89" x2="536.71" y2="592.46" stroke="#2a18e0" stroke-width="1.15"/><line x1="537.64" y1="591.43" x2="536.71" y2="592.46" stroke="#7a1aa8" stroke-width="1.0"/><line x1="538.43" y1="589.32" x2="537.44" y2="590.39" stroke="#2a18e0" stroke-width="1.15"/><line x1="537.84" y1="589.96" x2="537.44" y2="590.39" stroke="#7a1aa8" stroke-width="1.0"/><line x1="537.83" y1="588.75" x2="534.75" y2="591.97" stroke="#2a18e0" stroke-width="1.15"/><line x1="535.98" y1="590.68" x2="534.75" y2="591.97" stroke="#7a1aa8" stroke-width="1.0"/><line x1="537.23" y1="588.17" x2="535.63" y2="589.8" stroke="#2a18e0" stroke-width="1.15"/><line x1="536.27" y1="589.15" x2="535.63" y2="589.8" stroke="#7a1aa8" stroke-width="1.0"/><line x1="536.64" y1="587.58" x2="535.51" y2="588.7" stroke="#2a18e0" stroke-width="1.15"/><line x1="535.96" y1="588.25" x2="535.51" y2="588.7" stroke="#7a1aa8" stroke-width="1.0"/><line x1="536.06" y1="586.99" x2="533.53" y2="589.43" stroke="#2a18e0" stroke-width="1.15"/><line x1="534.54" y1="588.46" x2="533.53" y2="589.43" stroke="#7a1aa8" stroke-width="1.0"/><line x1="535.48" y1="586.39" x2="532.07" y2="589.6" stroke="#2a18e0" stroke-width="1.15"/><line x1="533.44" y1="588.31" x2="532.07" y2="589.6" stroke="#7a1aa8" stroke-width="1.0"/><line x1="534.92" y1="585.78" x2="534.06" y2="586.57" stroke="#2a18e0" stroke-width="1.15"/><line x1="534.4" y1="586.25" x2="534.06" y2="586.57" stroke="#7a1aa8" stroke-width="1.0"/><line x1="534.36" y1="585.16" x2="531.72" y2="587.52" stroke="#2a18e0" stroke-width="1.15"/><line x1="532.78" y1="586.57" x2="531.72" y2="587.52" stroke="#7a1aa8" stroke-width="1.0"/><line x1="533.81" y1="584.53" x2="530.94" y2="587.03" stroke="#2a18e0" stroke-width="1.15"/><line x1="532.08" y1="586.03" x2="530.94" y2="587.03" stroke="#7a1aa8" stroke-width="1.0"/><line x1="533.27" y1="583.9" x2="532.75" y2="584.34" stroke="#2a18e0" stroke-width="1.15"/><line x1="532.96" y1="584.16" x2="532.75" y2="584.34" stroke="#7a1aa8" stroke-width="1.0"/><text x="514.01" y="624.49" font-size="8.8" font-weight="bold" text-anchor="middle">6</text><path d="M506.83 603.08A96.2 96.2 0 0 1 492.37 578.25L501.11 574.78A86.8 86.8 0 0 0 514.16 597.19Z" fill="none" stroke="#444" stroke-width="1.6"/><path d="M514.16 597.19A86.8 86.8 0 0 1 501.11 574.78L522.67 566.23A63.6 63.6 0 0 0 532.24 582.66Z" fill="none" stroke="#444" stroke-width="1.5"/><path d="M516.88 595A83.3 83.3 0 0 1 504.36 573.49" fill="none" stroke="#444" stroke-width="1.5"/><path d="M515.52 596.1A85.05 85.05 0 0 1 502.73 574.14" fill="none" stroke="#666" stroke-width="2.0" stroke-dasharray="0.8,0.8"/><path d="M525.07 588.42A72.8 72.8 0 0 1 514.12 569.62" fill="none" stroke="#444" stroke-width="2.1"/><path d="M525.07 588.42A72.8 72.8 0 0 1 514.12 569.62" fill="none" stroke="#bbb" stroke-width="0.7" stroke-dasharray="0.7,0.9"/><circle cx="504.51" cy="585.32" r="0.55" fill="#2222ee"/><circle cx="508.78" cy="591.53" r="0.55" fill="#2222ee"/><circle cx="506.5" cy="589.31" r="0.55" fill="#2222ee"/><circle cx="503.44" cy="583.95" r="0.55" fill="#2222ee"/><circle cx="506.7" cy="588.8" r="0.55" fill="#2222ee"/><circle cx="502.68" cy="581.11" r="0.55" fill="#2222ee"/><circle cx="507.8" cy="589.71" r="0.55" fill="#2222ee"/><circle cx="508.82" cy="591.3" r="0.55" fill="#2222ee"/><circle cx="501.6" cy="579.64" r="0.55" fill="#2222ee"/><circle cx="508.45" cy="590.67" r="0.55" fill="#2222ee"/><circle cx="501.01" cy="577.64" r="0.55" fill="#2222ee"/><circle cx="505.27" cy="586.15" r="0.55" fill="#2222ee"/><circle cx="501.01" cy="577.84" r="0.55" fill="#2222ee"/><circle cx="507.31" cy="590.15" r="0.55" fill="#2222ee"/><circle cx="504.21" cy="584.83" r="0.55" fill="#2222ee"/><circle cx="510.22" cy="594.34" r="0.55" fill="#2222ee"/><circle cx="511.04" cy="595.22" r="0.55" fill="#2222ee"/><circle cx="511.22" cy="595.14" r="0.55" fill="#2222ee"/><circle cx="505.23" cy="585.72" r="0.55" fill="#2222ee"/><circle cx="508.83" cy="591.94" r="0.55" fill="#2222ee"/><circle cx="503.79" cy="582.82" r="0.55" fill="#2222ee"/><circle cx="509.28" cy="592.04" r="0.55" fill="#2222ee"/><circle cx="511.35" cy="595.27" r="0.55" fill="#2222ee"/><circle cx="510.79" cy="594.51" r="0.55" fill="#2222ee"/><circle cx="503.78" cy="582.9" r="0.55" fill="#2222ee"/><circle cx="501.93" cy="581.01" r="0.55" fill="#2222ee"/><circle cx="503.97" cy="583.22" r="0.55" fill="#2222ee"/><circle cx="511.39" cy="590.51" r="0.7" fill="#109090"/><circle cx="505.64" cy="580.66" r="0.7" fill="#e02020"/><path d="M520.63 591.99A78.5 78.5 0 0 1 508.82 571.73" fill="none" stroke="#7a1a9a" stroke-width="3.4"/><path d="M519.07 593.25A80.5 80.5 0 0 1 506.96 572.46" fill="none" stroke="#3a1ae0" stroke-width="1.0"/><path d="M522.03 590.86A76.7 76.7 0 0 1 510.5 571.06" fill="none" stroke="#c0184a" stroke-width="0.8"/><line x1="518.57" y1="593.1" x2="517.62" y2="593.86" stroke="#3020e0" stroke-width="0.9"/><line x1="517.79" y1="592.1" x2="517.08" y2="592.65" stroke="#3020e0" stroke-width="0.9"/><line x1="517.02" y1="591.09" x2="515.98" y2="591.86" stroke="#3020e0" stroke-width="0.9"/><line x1="520.47" y1="588.52" x2="521.3" y2="587.9" stroke="#901a80" stroke-width="0.9"/><line x1="516.27" y1="590.07" x2="515.49" y2="590.63" stroke="#3020e0" stroke-width="0.9"/><line x1="519.76" y1="587.55" x2="520.78" y2="586.82" stroke="#901a80" stroke-width="0.9"/><line x1="517.72" y1="584.58" x2="518.47" y2="584.09" stroke="#901a80" stroke-width="0.9"/><line x1="517.07" y1="583.57" x2="517.37" y2="583.38" stroke="#901a80" stroke-width="0.9"/><line x1="512.76" y1="584.78" x2="511.8" y2="585.37" stroke="#3020e0" stroke-width="0.9"/><line x1="516.44" y1="582.55" x2="517.41" y2="581.96" stroke="#901a80" stroke-width="0.9"/><line x1="510.86" y1="581.48" x2="510.55" y2="581.65" stroke="#3020e0" stroke-width="0.9"/><line x1="509.68" y1="579.24" x2="509.23" y2="579.46" stroke="#3020e0" stroke-width="0.9"/><line x1="512.47" y1="575.14" x2="513.28" y2="574.76" stroke="#901a80" stroke-width="0.9"/><line x1="507.54" y1="574.64" x2="507.1" y2="574.82" stroke="#3020e0" stroke-width="0.9"/><line x1="511.02" y1="571.83" x2="511.31" y2="571.72" stroke="#901a80" stroke-width="0.9"/><line x1="532.1" y1="582.48" x2="528.86" y2="585.07" stroke="#2a18e0" stroke-width="1.15"/><line x1="530.16" y1="584.03" x2="528.86" y2="585.07" stroke="#7a1aa8" stroke-width="1.0"/><line x1="531.58" y1="581.83" x2="529.35" y2="583.56" stroke="#2a18e0" stroke-width="1.15"/><line x1="530.25" y1="582.87" x2="529.35" y2="583.56" stroke="#7a1aa8" stroke-width="1.0"/><line x1="531.08" y1="581.17" x2="530.53" y2="581.58" stroke="#2a18e0" stroke-width="1.15"/><line x1="530.75" y1="581.42" x2="530.53" y2="581.58" stroke="#7a1aa8" stroke-width="1.0"/><line x1="530.58" y1="580.5" x2="527.52" y2="582.76" stroke="#2a18e0" stroke-width="1.15"/><line x1="528.74" y1="581.85" x2="527.52" y2="582.76" stroke="#7a1aa8" stroke-width="1.0"/><line x1="530.09" y1="579.83" x2="528.36" y2="581.06" stroke="#2a18e0" stroke-width="1.15"/><line x1="529.05" y1="580.57" x2="528.36" y2="581.06" stroke="#7a1aa8" stroke-width="1.0"/><line x1="529.61" y1="579.15" x2="528.23" y2="580.11" stroke="#2a18e0" stroke-width="1.15"/><line x1="528.78" y1="579.72" x2="528.23" y2="580.11" stroke="#7a1aa8" stroke-width="1.0"/><line x1="529.14" y1="578.46" x2="526.59" y2="580.18" stroke="#2a18e0" stroke-width="1.15"/><line x1="527.61" y1="579.49" x2="526.59" y2="580.18" stroke="#7a1aa8" stroke-width="1.0"/><line x1="528.68" y1="577.77" x2="524.6" y2="580.45" stroke="#2a18e0" stroke-width="1.15"/><line x1="526.23" y1="579.38" x2="524.6" y2="580.45" stroke="#7a1aa8" stroke-width="1.0"/><line x1="528.22" y1="577.07" x2="524.68" y2="579.34" stroke="#2a18e0" stroke-width="1.15"/><line x1="526.1" y1="578.43" x2="524.68" y2="579.34" stroke="#7a1aa8" stroke-width="1.0"/><line x1="527.78" y1="576.37" x2="524.19" y2="578.59" stroke="#2a18e0" stroke-width="1.15"/><line x1="525.63" y1="577.7" x2="524.19" y2="578.59" stroke="#7a1aa8" stroke-width="1.0"/><line x1="527.34" y1="575.66" x2="524.2" y2="577.55" stroke="#2a18e0" stroke-width="1.15"/><line x1="525.46" y1="576.79" x2="524.2" y2="577.55" stroke="#7a1aa8" stroke-width="1.0"/><line x1="526.92" y1="574.94" x2="525.28" y2="575.9" stroke="#2a18e0" stroke-width="1.15"/><line x1="525.94" y1="575.52" x2="525.28" y2="575.9" stroke="#7a1aa8" stroke-width="1.0"/><line x1="526.5" y1="574.22" x2="522.85" y2="576.29" stroke="#2a18e0" stroke-width="1.15"/><line x1="524.31" y1="575.46" x2="522.85" y2="576.29" stroke="#7a1aa8" stroke-width="1.0"/><line x1="526.1" y1="573.49" x2="524.41" y2="574.42" stroke="#2a18e0" stroke-width="1.15"/><line x1="525.09" y1="574.05" x2="524.41" y2="574.42" stroke="#7a1aa8" stroke-width="1.0"/><line x1="525.7" y1="572.76" x2="524.48" y2="573.41" stroke="#2a18e0" stroke-width="1.15"/><line x1="524.97" y1="573.15" x2="524.48" y2="573.41" stroke="#7a1aa8" stroke-width="1.0"/><line x1="525.31" y1="572.02" x2="522.39" y2="573.54" stroke="#2a18e0" stroke-width="1.15"/><line x1="523.56" y1="572.93" x2="522.39" y2="573.54" stroke="#7a1aa8" stroke-width="1.0"/><line x1="524.93" y1="571.28" x2="521.9" y2="572.8" stroke="#2a18e0" stroke-width="1.15"/><line x1="523.12" y1="572.19" x2="521.9" y2="572.8" stroke="#7a1aa8" stroke-width="1.0"/><line x1="524.57" y1="570.53" x2="523.58" y2="571.01" stroke="#2a18e0" stroke-width="1.15"/><line x1="523.97" y1="570.82" x2="523.58" y2="571.01" stroke="#7a1aa8" stroke-width="1.0"/><line x1="524.21" y1="569.78" x2="522.07" y2="570.78" stroke="#2a18e0" stroke-width="1.15"/><line x1="522.93" y1="570.38" x2="522.07" y2="570.78" stroke="#7a1aa8" stroke-width="1.0"/><line x1="523.86" y1="569.03" x2="520.88" y2="570.38" stroke="#2a18e0" stroke-width="1.15"/><line x1="522.07" y1="569.84" x2="520.88" y2="570.38" stroke="#7a1aa8" stroke-width="1.0"/><line x1="523.52" y1="568.27" x2="519.81" y2="569.89" stroke="#2a18e0" stroke-width="1.15"/><line x1="521.3" y1="569.24" x2="519.81" y2="569.89" stroke="#7a1aa8" stroke-width="1.0"/><line x1="523.19" y1="567.5" x2="519.83" y2="568.92" stroke="#2a18e0" stroke-width="1.15"/><line x1="521.18" y1="568.35" x2="519.83" y2="568.92" stroke="#7a1aa8" stroke-width="1.0"/><line x1="522.87" y1="566.73" x2="520.01" y2="567.89" stroke="#2a18e0" stroke-width="1.15"/><line x1="521.16" y1="567.43" x2="520.01" y2="567.89" stroke="#7a1aa8" stroke-width="1.0"/><text x="492.36" y="597.98" font-size="8.8" font-weight="bold" text-anchor="middle">7</text><path d="M491.66 576.4A96.2 96.2 0 0 1 485.91 550.57L495.28 549.81A86.8 86.8 0 0 0 500.47 573.12Z" fill="none" stroke="#444" stroke-width="1.6"/><path d="M500.47 573.12A86.8 86.8 0 0 1 495.28 549.81L518.41 547.94A63.6 63.6 0 0 0 522.21 565.01Z" fill="none" stroke="#444" stroke-width="1.5"/><path d="M503.75 571.9A83.3 83.3 0 0 1 498.77 549.53" fill="none" stroke="#444" stroke-width="1.5"/><path d="M502.11 572.51A85.05 85.05 0 0 1 497.03 549.67" fill="none" stroke="#666" stroke-width="2.0" stroke-dasharray="0.8,0.8"/><path d="M513.59 568.23A72.8 72.8 0 0 1 509.24 548.68" fill="none" stroke="#444" stroke-width="2.1"/><path d="M513.59 568.23A72.8 72.8 0 0 1 509.24 548.68" fill="none" stroke="#bbb" stroke-width="0.7" stroke-dasharray="0.7,0.9"/><circle cx="496.51" cy="563.52" r="0.55" fill="#2222ee"/><circle cx="498.35" cy="571.84" r="0.55" fill="#2222ee"/><circle cx="496.37" cy="561.8" r="0.55" fill="#2222ee"/><circle cx="494.19" cy="552.08" r="0.55" fill="#2222ee"/><circle cx="495.39" cy="559.06" r="0.55" fill="#2222ee"/><circle cx="497.65" cy="570.51" r="0.55" fill="#2222ee"/><circle cx="498.07" cy="569.34" r="0.55" fill="#2222ee"/><circle cx="494.58" cy="550.34" r="0.55" fill="#2222ee"/><circle cx="495.92" cy="561.91" r="0.55" fill="#2222ee"/><circle cx="496.88" cy="567.76" r="0.55" fill="#2222ee"/><circle cx="496.93" cy="563.71" r="0.55" fill="#2222ee"/><circle cx="496.61" cy="562.37" r="0.55" fill="#2222ee"/><circle cx="494.54" cy="557.19" r="0.55" fill="#2222ee"/><circle cx="494.88" cy="552.5" r="0.55" fill="#2222ee"/><circle cx="495.33" cy="557.85" r="0.55" fill="#2222ee"/><circle cx="496.27" cy="562.47" r="0.55" fill="#2222ee"/><circle cx="497.43" cy="566.2" r="0.55" fill="#2222ee"/><circle cx="495.79" cy="558.93" r="0.55" fill="#2222ee"/><circle cx="494.75" cy="551.15" r="0.55" fill="#2222ee"/><circle cx="494.57" cy="551.17" r="0.55" fill="#2222ee"/><circle cx="498.25" cy="571.36" r="0.55" fill="#2222ee"/><circle cx="495.43" cy="561.27" r="0.55" fill="#2222ee"/><circle cx="495.7" cy="561.74" r="0.55" fill="#2222ee"/><circle cx="498.34" cy="571.35" r="0.55" fill="#2222ee"/><circle cx="495.29" cy="561.74" r="0.55" fill="#2222ee"/><circle cx="501.8" cy="571.68" r="0.7" fill="#e02020"/><circle cx="499.49" cy="564.21" r="0.7" fill="#e02020"/><path d="M508.24 570.22A78.5 78.5 0 0 1 503.56 549.14" fill="none" stroke="#7a1a9a" stroke-width="3.4"/><path d="M506.37 570.92A80.5 80.5 0 0 1 501.56 549.3" fill="none" stroke="#3a1ae0" stroke-width="1.0"/><path d="M509.93 569.59A76.7 76.7 0 0 1 505.35 548.99" fill="none" stroke="#c0184a" stroke-width="0.8"/><line x1="505.11" y1="568.23" x2="504.25" y2="568.51" stroke="#3020e0" stroke-width="0.9"/><line x1="504.72" y1="567.02" x2="504.05" y2="567.23" stroke="#3020e0" stroke-width="0.9"/><line x1="504.34" y1="565.81" x2="503.47" y2="566.07" stroke="#3020e0" stroke-width="0.9"/><line x1="508.47" y1="564.58" x2="509.13" y2="564.39" stroke="#901a80" stroke-width="0.9"/><line x1="503.35" y1="562.13" x2="502.63" y2="562.31" stroke="#3020e0" stroke-width="0.9"/><line x1="507.52" y1="561.1" x2="508.07" y2="560.97" stroke="#901a80" stroke-width="0.9"/><line x1="502.78" y1="559.66" x2="502.25" y2="559.77" stroke="#3020e0" stroke-width="0.9"/><line x1="506.98" y1="558.76" x2="507.47" y2="558.66" stroke="#901a80" stroke-width="0.9"/><line x1="506.74" y1="557.58" x2="507.99" y2="557.34" stroke="#901a80" stroke-width="0.9"/><line x1="506.52" y1="556.4" x2="507.28" y2="556.27" stroke="#901a80" stroke-width="0.9"/><line x1="502.07" y1="555.92" x2="500.84" y2="556.12" stroke="#3020e0" stroke-width="0.9"/><line x1="501.88" y1="554.66" x2="500.65" y2="554.85" stroke="#3020e0" stroke-width="0.9"/><line x1="506.13" y1="554.03" x2="506.66" y2="553.95" stroke="#901a80" stroke-width="0.9"/><line x1="501.7" y1="553.41" x2="501.15" y2="553.48" stroke="#3020e0" stroke-width="0.9"/><line x1="501.41" y1="550.89" x2="500.12" y2="551.02" stroke="#3020e0" stroke-width="0.9"/><line x1="522.13" y1="564.81" x2="519.3" y2="565.85" stroke="#2a18e0" stroke-width="1.15"/><line x1="520.43" y1="565.43" x2="519.3" y2="565.85" stroke="#7a1aa8" stroke-width="1.0"/><line x1="521.85" y1="564.02" x2="520.15" y2="564.62" stroke="#2a18e0" stroke-width="1.15"/><line x1="520.83" y1="564.38" x2="520.15" y2="564.62" stroke="#7a1aa8" stroke-width="1.0"/><line x1="521.57" y1="563.24" x2="518.18" y2="564.39" stroke="#2a18e0" stroke-width="1.15"/><line x1="519.54" y1="563.93" x2="518.18" y2="564.39" stroke="#7a1aa8" stroke-width="1.0"/><line x1="521.31" y1="562.45" x2="516.88" y2="563.89" stroke="#2a18e0" stroke-width="1.15"/><line x1="518.65" y1="563.31" x2="516.88" y2="563.89" stroke="#7a1aa8" stroke-width="1.0"/><line x1="521.06" y1="561.65" x2="516.7" y2="563.01" stroke="#2a18e0" stroke-width="1.15"/><line x1="518.44" y1="562.46" x2="516.7" y2="563.01" stroke="#7a1aa8" stroke-width="1.0"/><line x1="520.82" y1="560.86" x2="520.08" y2="561.08" stroke="#2a18e0" stroke-width="1.15"/><line x1="520.37" y1="560.99" x2="520.08" y2="561.08" stroke="#7a1aa8" stroke-width="1.0"/><line x1="520.59" y1="560.06" x2="520.29" y2="560.14" stroke="#2a18e0" stroke-width="1.15"/><line x1="520.41" y1="560.11" x2="520.29" y2="560.14" stroke="#7a1aa8" stroke-width="1.0"/><line x1="520.37" y1="559.25" x2="515.92" y2="560.44" stroke="#2a18e0" stroke-width="1.15"/><line x1="517.7" y1="559.97" x2="515.92" y2="560.44" stroke="#7a1aa8" stroke-width="1.0"/><line x1="520.16" y1="558.45" x2="516.88" y2="559.28" stroke="#2a18e0" stroke-width="1.15"/><line x1="518.19" y1="558.95" x2="516.88" y2="559.28" stroke="#7a1aa8" stroke-width="1.0"/><line x1="519.96" y1="557.64" x2="519.53" y2="557.74" stroke="#2a18e0" stroke-width="1.15"/><line x1="519.7" y1="557.7" x2="519.53" y2="557.74" stroke="#7a1aa8" stroke-width="1.0"/><line x1="519.77" y1="556.83" x2="518.86" y2="557.03" stroke="#2a18e0" stroke-width="1.15"/><line x1="519.23" y1="556.95" x2="518.86" y2="557.03" stroke="#7a1aa8" stroke-width="1.0"/><line x1="519.59" y1="556.02" x2="518.04" y2="556.34" stroke="#2a18e0" stroke-width="1.15"/><line x1="518.66" y1="556.21" x2="518.04" y2="556.34" stroke="#7a1aa8" stroke-width="1.0"/><line x1="519.42" y1="555.2" x2="515.18" y2="556.04" stroke="#2a18e0" stroke-width="1.15"/><line x1="516.88" y1="555.71" x2="515.18" y2="556.04" stroke="#7a1aa8" stroke-width="1.0"/><line x1="519.26" y1="554.38" x2="517.04" y2="554.8" stroke="#2a18e0" stroke-width="1.15"/><line x1="517.93" y1="554.63" x2="517.04" y2="554.8" stroke="#7a1aa8" stroke-width="1.0"/><line x1="519.12" y1="553.56" x2="514.47" y2="554.36" stroke="#2a18e0" stroke-width="1.15"/><line x1="516.33" y1="554.04" x2="514.47" y2="554.36" stroke="#7a1aa8" stroke-width="1.0"/><line x1="518.98" y1="552.74" x2="517.92" y2="552.91" stroke="#2a18e0" stroke-width="1.15"/><line x1="518.35" y1="552.84" x2="517.92" y2="552.91" stroke="#7a1aa8" stroke-width="1.0"/><line x1="518.86" y1="551.92" x2="518.41" y2="551.98" stroke="#2a18e0" stroke-width="1.15"/><line x1="518.59" y1="551.96" x2="518.41" y2="551.98" stroke="#7a1aa8" stroke-width="1.0"/><line x1="518.74" y1="551.09" x2="513.88" y2="551.73" stroke="#2a18e0" stroke-width="1.15"/><line x1="515.83" y1="551.48" x2="513.88" y2="551.73" stroke="#7a1aa8" stroke-width="1.0"/><line x1="518.64" y1="550.27" x2="517.31" y2="550.43" stroke="#2a18e0" stroke-width="1.15"/><line x1="517.84" y1="550.36" x2="517.31" y2="550.43" stroke="#7a1aa8" stroke-width="1.0"/><line x1="518.55" y1="549.44" x2="518.15" y2="549.48" stroke="#2a18e0" stroke-width="1.15"/><line x1="518.31" y1="549.47" x2="518.15" y2="549.48" stroke="#7a1aa8" stroke-width="1.0"/><line x1="518.47" y1="548.61" x2="513.74" y2="549.05" stroke="#2a18e0" stroke-width="1.15"/><line x1="515.63" y1="548.87" x2="513.74" y2="549.05" stroke="#7a1aa8" stroke-width="1.0"/><text x="481.38" y="568.23" font-size="8.8" font-weight="bold" text-anchor="middle">8</text><path d="M485.77 548.6A96.2 96.2 0 0 1 487.63 523.14L496.83 525.06A86.8 86.8 0 0 0 495.16 548.03Z" fill="none" stroke="#444" stroke-width="1.6"/><path d="M495.16 548.03A86.8 86.8 0 0 1 496.83 525.06L519.54 529.8A63.6 63.6 0 0 0 518.32 546.63Z" fill="none" stroke="#444" stroke-width="1.5"/><path d="M498.65 547.82A83.3 83.3 0 0 1 500.26 525.77" fill="none" stroke="#444" stroke-width="1.5"/><path d="M496.9 547.92A85.05 85.05 0 0 1 498.55 525.41" fill="none" stroke="#666" stroke-width="2.0" stroke-dasharray="0.8,0.8"/><path d="M509.13 547.19A72.8 72.8 0 0 1 510.54 527.92" fill="none" stroke="#444" stroke-width="2.1"/><path d="M509.13 547.19A72.8 72.8 0 0 1 510.54 527.92" fill="none" stroke="#bbb" stroke-width="0.7" stroke-dasharray="0.7,0.9"/><circle cx="493.32" cy="542.48" r="0.55" fill="#2222ee"/><circle cx="494.08" cy="540.16" r="0.55" fill="#2222ee"/><circle cx="493.75" cy="542.79" r="0.55" fill="#2222ee"/><circle cx="494.26" cy="535.06" r="0.55" fill="#2222ee"/><circle cx="494.29" cy="536.25" r="0.55" fill="#2222ee"/><circle cx="494.4" cy="528.77" r="0.55" fill="#2222ee"/><circle cx="494.25" cy="530.69" r="0.55" fill="#2222ee"/><circle cx="494.16" cy="546.04" r="0.55" fill="#2222ee"/><circle cx="494.21" cy="543.06" r="0.55" fill="#2222ee"/><circle cx="494.95" cy="525.87" r="0.55" fill="#2222ee"/><circle cx="495.13" cy="527.15" r="0.55" fill="#2222ee"/><circle cx="493.92" cy="545.02" r="0.55" fill="#2222ee"/><circle cx="493.39" cy="546.4" r="0.55" fill="#2222ee"/><circle cx="494.06" cy="541.67" r="0.55" fill="#2222ee"/><circle cx="495.68" cy="526.53" r="0.55" fill="#2222ee"/><circle cx="495.46" cy="527.01" r="0.55" fill="#2222ee"/><circle cx="494.85" cy="532.76" r="0.55" fill="#2222ee"/><circle cx="495.26" cy="527.53" r="0.55" fill="#2222ee"/><circle cx="493.66" cy="539.88" r="0.55" fill="#2222ee"/><circle cx="494.51" cy="534.34" r="0.55" fill="#2222ee"/><circle cx="493.73" cy="544.85" r="0.55" fill="#2222ee"/><circle cx="493.46" cy="547.11" r="0.55" fill="#2222ee"/><circle cx="494.24" cy="539.92" r="0.55" fill="#2222ee"/><circle cx="494.3" cy="540.28" r="0.55" fill="#2222ee"/><circle cx="496.78" cy="540.49" r="0.7" fill="#111"/><circle cx="496.8" cy="545.74" r="0.7" fill="#109090"/><path d="M503.44 547.53A78.5 78.5 0 0 1 504.96 526.75" fill="none" stroke="#7a1a9a" stroke-width="3.4"/><path d="M501.45 547.65A80.5 80.5 0 0 1 503 526.34" fill="none" stroke="#3a1ae0" stroke-width="1.0"/><path d="M505.24 547.42A76.7 76.7 0 0 1 506.72 527.12" fill="none" stroke="#c0184a" stroke-width="0.8"/><line x1="505.42" y1="547.01" x2="506.2" y2="546.97" stroke="#901a80" stroke-width="0.9"/><line x1="501.02" y1="544.71" x2="500.72" y2="544.72" stroke="#3020e0" stroke-width="0.9"/><line x1="501" y1="543.44" x2="499.59" y2="543.45" stroke="#3020e0" stroke-width="0.9"/><line x1="505.3" y1="543.41" x2="506.53" y2="543.4" stroke="#901a80" stroke-width="0.9"/><line x1="501" y1="542.17" x2="500.1" y2="542.16" stroke="#3020e0" stroke-width="0.9"/><line x1="505.36" y1="539.8" x2="506.28" y2="539.84" stroke="#901a80" stroke-width="0.9"/><line x1="505.42" y1="538.6" x2="505.8" y2="538.62" stroke="#901a80" stroke-width="0.9"/><line x1="501.2" y1="537.1" x2="500.6" y2="537.06" stroke="#3020e0" stroke-width="0.9"/><line x1="505.58" y1="536.2" x2="506.69" y2="536.3" stroke="#901a80" stroke-width="0.9"/><line x1="505.7" y1="535.01" x2="506.39" y2="535.08" stroke="#901a80" stroke-width="0.9"/><line x1="501.56" y1="533.31" x2="500.98" y2="533.24" stroke="#3020e0" stroke-width="0.9"/><line x1="505.83" y1="533.81" x2="506.14" y2="533.85" stroke="#901a80" stroke-width="0.9"/><line x1="501.9" y1="530.79" x2="500.78" y2="530.62" stroke="#3020e0" stroke-width="0.9"/><line x1="502.1" y1="529.54" x2="501.18" y2="529.39" stroke="#3020e0" stroke-width="0.9"/><line x1="506.34" y1="530.25" x2="507.13" y2="530.38" stroke="#901a80" stroke-width="0.9"/><line x1="502.31" y1="528.29" x2="501.18" y2="528.08" stroke="#3020e0" stroke-width="0.9"/><line x1="502.55" y1="527.04" x2="501.28" y2="526.79" stroke="#3020e0" stroke-width="0.9"/><line x1="518.3" y1="546.41" x2="516.89" y2="546.49" stroke="#2a18e0" stroke-width="1.15"/><line x1="517.45" y1="546.46" x2="516.89" y2="546.49" stroke="#7a1aa8" stroke-width="1.0"/><line x1="518.26" y1="545.58" x2="515.93" y2="545.68" stroke="#2a18e0" stroke-width="1.15"/><line x1="516.86" y1="545.64" x2="515.93" y2="545.68" stroke="#7a1aa8" stroke-width="1.0"/><line x1="518.23" y1="544.75" x2="517.03" y2="544.78" stroke="#2a18e0" stroke-width="1.15"/><line x1="517.51" y1="544.77" x2="517.03" y2="544.78" stroke="#7a1aa8" stroke-width="1.0"/><line x1="518.21" y1="543.91" x2="516.72" y2="543.94" stroke="#2a18e0" stroke-width="1.15"/><line x1="517.31" y1="543.93" x2="516.72" y2="543.94" stroke="#7a1aa8" stroke-width="1.0"/><line x1="518.2" y1="543.08" x2="517.42" y2="543.09" stroke="#2a18e0" stroke-width="1.15"/><line x1="517.73" y1="543.08" x2="517.42" y2="543.09" stroke="#7a1aa8" stroke-width="1.0"/><line x1="518.2" y1="542.25" x2="515.42" y2="542.23" stroke="#2a18e0" stroke-width="1.15"/><line x1="516.53" y1="542.24" x2="515.42" y2="542.23" stroke="#7a1aa8" stroke-width="1.0"/><line x1="518.22" y1="541.42" x2="517.77" y2="541.41" stroke="#2a18e0" stroke-width="1.15"/><line x1="517.95" y1="541.41" x2="517.77" y2="541.41" stroke="#7a1aa8" stroke-width="1.0"/><line x1="518.24" y1="540.59" x2="513.42" y2="540.42" stroke="#2a18e0" stroke-width="1.15"/><line x1="515.35" y1="540.48" x2="513.42" y2="540.42" stroke="#7a1aa8" stroke-width="1.0"/><line x1="518.27" y1="539.75" x2="517.51" y2="539.72" stroke="#2a18e0" stroke-width="1.15"/><line x1="517.82" y1="539.73" x2="517.51" y2="539.72" stroke="#7a1aa8" stroke-width="1.0"/><line x1="518.32" y1="538.92" x2="517.26" y2="538.86" stroke="#2a18e0" stroke-width="1.15"/><line x1="517.68" y1="538.88" x2="517.26" y2="538.86" stroke="#7a1aa8" stroke-width="1.0"/><line x1="518.37" y1="538.09" x2="515.64" y2="537.89" stroke="#2a18e0" stroke-width="1.15"/><line x1="516.73" y1="537.97" x2="515.64" y2="537.89" stroke="#7a1aa8" stroke-width="1.0"/><line x1="518.44" y1="537.26" x2="516.06" y2="537.05" stroke="#2a18e0" stroke-width="1.15"/><line x1="517.01" y1="537.14" x2="516.06" y2="537.05" stroke="#7a1aa8" stroke-width="1.0"/><line x1="518.52" y1="536.43" x2="515.89" y2="536.17" stroke="#2a18e0" stroke-width="1.15"/><line x1="516.94" y1="536.27" x2="515.89" y2="536.17" stroke="#7a1aa8" stroke-width="1.0"/><line x1="518.61" y1="535.6" x2="515.15" y2="535.21" stroke="#2a18e0" stroke-width="1.15"/><line x1="516.53" y1="535.37" x2="515.15" y2="535.21" stroke="#7a1aa8" stroke-width="1.0"/><line x1="518.71" y1="534.78" x2="518.27" y2="534.72" stroke="#2a18e0" stroke-width="1.15"/><line x1="518.44" y1="534.74" x2="518.27" y2="534.72" stroke="#7a1aa8" stroke-width="1.0"/><line x1="518.82" y1="533.95" x2="517.52" y2="533.77" stroke="#2a18e0" stroke-width="1.15"/><line x1="518.04" y1="533.84" x2="517.52" y2="533.77" stroke="#7a1aa8" stroke-width="1.0"/><line x1="518.94" y1="533.13" x2="515.8" y2="532.65" stroke="#2a18e0" stroke-width="1.15"/><line x1="517.05" y1="532.84" x2="515.8" y2="532.65" stroke="#7a1aa8" stroke-width="1.0"/><line x1="519.07" y1="532.31" x2="514.9" y2="531.61" stroke="#2a18e0" stroke-width="1.15"/><line x1="516.57" y1="531.89" x2="514.9" y2="531.61" stroke="#7a1aa8" stroke-width="1.0"/><line x1="519.21" y1="531.49" x2="514.66" y2="530.66" stroke="#2a18e0" stroke-width="1.15"/><line x1="516.48" y1="530.99" x2="514.66" y2="530.66" stroke="#7a1aa8" stroke-width="1.0"/><line x1="519.37" y1="530.67" x2="517.24" y2="530.26" stroke="#2a18e0" stroke-width="1.15"/><line x1="518.09" y1="530.42" x2="517.24" y2="530.26" stroke="#7a1aa8" stroke-width="1.0"/><text x="479.6" y="538.45" font-size="8.8" font-weight="bold" text-anchor="middle">9</text><path d="M488.06 521.2A96.2 96.2 0 0 1 496.55 498.22L504.88 502.58A86.8 86.8 0 0 0 497.22 523.31Z" fill="none" stroke="#444" stroke-width="1.6"/><path d="M497.22 523.31A86.8 86.8 0 0 1 504.88 502.58L525.44 513.33A63.6 63.6 0 0 0 519.82 528.52Z" fill="none" stroke="#444" stroke-width="1.5"/><path d="M500.63 524.1A83.3 83.3 0 0 1 507.98 504.2" fill="none" stroke="#444" stroke-width="1.5"/><path d="M498.92 523.71A85.05 85.05 0 0 1 506.43 503.39" fill="none" stroke="#666" stroke-width="2.0" stroke-dasharray="0.8,0.8"/><path d="M510.86 526.46A72.8 72.8 0 0 1 517.29 509.06" fill="none" stroke="#444" stroke-width="2.1"/><path d="M510.86 526.46A72.8 72.8 0 0 1 517.29 509.06" fill="none" stroke="#bbb" stroke-width="0.7" stroke-dasharray="0.7,0.9"/><circle cx="497.87" cy="515.35" r="0.55" fill="#2222ee"/><circle cx="497.22" cy="519.05" r="0.55" fill="#2222ee"/><circle cx="497.28" cy="518.79" r="0.55" fill="#2222ee"/><circle cx="497.94" cy="516.31" r="0.55" fill="#2222ee"/><circle cx="503.26" cy="503.08" r="0.55" fill="#2222ee"/><circle cx="501.45" cy="505.69" r="0.55" fill="#2222ee"/><circle cx="500.79" cy="509.98" r="0.55" fill="#2222ee"/><circle cx="501.21" cy="507.63" r="0.55" fill="#2222ee"/><circle cx="496.27" cy="521.41" r="0.55" fill="#2222ee"/><circle cx="499.12" cy="511.54" r="0.55" fill="#2222ee"/><circle cx="497.11" cy="517.22" r="0.55" fill="#2222ee"/><circle cx="499.25" cy="511.47" r="0.55" fill="#2222ee"/><circle cx="501.26" cy="506.64" r="0.55" fill="#2222ee"/><circle cx="501.61" cy="505.13" r="0.55" fill="#2222ee"/><circle cx="496.38" cy="520.71" r="0.55" fill="#2222ee"/><circle cx="501.53" cy="505.91" r="0.55" fill="#2222ee"/><circle cx="498.89" cy="514.53" r="0.55" fill="#2222ee"/><circle cx="501.98" cy="505.13" r="0.55" fill="#2222ee"/><circle cx="502.77" cy="502.98" r="0.55" fill="#2222ee"/><circle cx="497.06" cy="516.97" r="0.55" fill="#2222ee"/><circle cx="502.86" cy="503.58" r="0.55" fill="#2222ee"/><circle cx="497.27" cy="517.58" r="0.55" fill="#2222ee"/><circle cx="496.93" cy="520.16" r="0.55" fill="#2222ee"/><circle cx="500.08" cy="519.23" r="0.7" fill="#111"/><circle cx="503.3" cy="510.08" r="0.7" fill="#e02020"/><path d="M505.3 525.18A78.5 78.5 0 0 1 512.24 506.42" fill="none" stroke="#7a1a9a" stroke-width="3.4"/><path d="M503.35 524.73A80.5 80.5 0 0 1 510.47 505.5" fill="none" stroke="#3a1ae0" stroke-width="1.0"/><path d="M507.06 525.58A76.7 76.7 0 0 1 513.83 507.26" fill="none" stroke="#c0184a" stroke-width="0.8"/><line x1="503.16" y1="524.25" x2="502.48" y2="524.09" stroke="#3020e0" stroke-width="0.9"/><line x1="507.93" y1="522.91" x2="508.71" y2="523.12" stroke="#901a80" stroke-width="0.9"/><line x1="508.25" y1="521.75" x2="509.58" y2="522.13" stroke="#901a80" stroke-width="0.9"/><line x1="504.48" y1="519.35" x2="503.89" y2="519.17" stroke="#3020e0" stroke-width="0.9"/><line x1="508.59" y1="520.6" x2="508.92" y2="520.69" stroke="#901a80" stroke-width="0.9"/><line x1="508.95" y1="519.45" x2="510.1" y2="519.82" stroke="#901a80" stroke-width="0.9"/><line x1="505.25" y1="516.93" x2="504.39" y2="516.64" stroke="#3020e0" stroke-width="0.9"/><line x1="509.33" y1="518.31" x2="509.79" y2="518.46" stroke="#901a80" stroke-width="0.9"/><line x1="505.67" y1="515.73" x2="504.38" y2="515.27" stroke="#3020e0" stroke-width="0.9"/><line x1="506.56" y1="513.35" x2="505.62" y2="512.99" stroke="#3020e0" stroke-width="0.9"/><line x1="507.03" y1="512.17" x2="506.06" y2="511.78" stroke="#3020e0" stroke-width="0.9"/><line x1="507.52" y1="511" x2="506.31" y2="510.48" stroke="#3020e0" stroke-width="0.9"/><line x1="511.47" y1="512.7" x2="512.13" y2="512.98" stroke="#901a80" stroke-width="0.9"/><line x1="508.03" y1="509.84" x2="506.96" y2="509.36" stroke="#3020e0" stroke-width="0.9"/><line x1="508.55" y1="508.69" x2="507.81" y2="508.34" stroke="#3020e0" stroke-width="0.9"/><line x1="512.45" y1="510.5" x2="513.37" y2="510.93" stroke="#901a80" stroke-width="0.9"/><line x1="512.97" y1="509.42" x2="514.15" y2="509.99" stroke="#901a80" stroke-width="0.9"/><line x1="509.66" y1="506.4" x2="508.97" y2="506.05" stroke="#3020e0" stroke-width="0.9"/><line x1="513.5" y1="508.34" x2="514.71" y2="508.95" stroke="#901a80" stroke-width="0.9"/><line x1="519.87" y1="528.31" x2="517.31" y2="527.71" stroke="#2a18e0" stroke-width="1.15"/><line x1="518.34" y1="527.95" x2="517.31" y2="527.71" stroke="#7a1aa8" stroke-width="1.0"/><line x1="520.07" y1="527.5" x2="516.42" y2="526.59" stroke="#2a18e0" stroke-width="1.15"/><line x1="517.88" y1="526.95" x2="516.42" y2="526.59" stroke="#7a1aa8" stroke-width="1.0"/><line x1="520.27" y1="526.69" x2="518.34" y2="526.18" stroke="#2a18e0" stroke-width="1.15"/><line x1="519.11" y1="526.39" x2="518.34" y2="526.18" stroke="#7a1aa8" stroke-width="1.0"/><line x1="520.49" y1="525.89" x2="517.85" y2="525.16" stroke="#2a18e0" stroke-width="1.15"/><line x1="518.91" y1="525.45" x2="517.85" y2="525.16" stroke="#7a1aa8" stroke-width="1.0"/><line x1="520.72" y1="525.08" x2="519.8" y2="524.82" stroke="#2a18e0" stroke-width="1.15"/><line x1="520.17" y1="524.93" x2="519.8" y2="524.82" stroke="#7a1aa8" stroke-width="1.0"/><line x1="520.95" y1="524.29" x2="516.52" y2="522.94" stroke="#2a18e0" stroke-width="1.15"/><line x1="518.3" y1="523.48" x2="516.52" y2="522.94" stroke="#7a1aa8" stroke-width="1.0"/><line x1="521.2" y1="523.49" x2="518.67" y2="522.69" stroke="#2a18e0" stroke-width="1.15"/><line x1="519.69" y1="523.01" x2="518.67" y2="522.69" stroke="#7a1aa8" stroke-width="1.0"/><line x1="521.46" y1="522.7" x2="519.62" y2="522.09" stroke="#2a18e0" stroke-width="1.15"/><line x1="520.36" y1="522.33" x2="519.62" y2="522.09" stroke="#7a1aa8" stroke-width="1.0"/><line x1="521.73" y1="521.91" x2="517.12" y2="520.31" stroke="#2a18e0" stroke-width="1.15"/><line x1="518.97" y1="520.95" x2="517.12" y2="520.31" stroke="#7a1aa8" stroke-width="1.0"/><line x1="522.01" y1="521.13" x2="517.49" y2="519.49" stroke="#2a18e0" stroke-width="1.15"/><line x1="519.3" y1="520.15" x2="517.49" y2="519.49" stroke="#7a1aa8" stroke-width="1.0"/><line x1="522.3" y1="520.35" x2="518.76" y2="519.01" stroke="#2a18e0" stroke-width="1.15"/><line x1="520.18" y1="519.55" x2="518.76" y2="519.01" stroke="#7a1aa8" stroke-width="1.0"/><line x1="522.59" y1="519.57" x2="521.07" y2="518.97" stroke="#2a18e0" stroke-width="1.15"/><line x1="521.68" y1="519.21" x2="521.07" y2="518.97" stroke="#7a1aa8" stroke-width="1.0"/><line x1="522.9" y1="518.8" x2="519.25" y2="517.31" stroke="#2a18e0" stroke-width="1.15"/><line x1="520.71" y1="517.9" x2="519.25" y2="517.31" stroke="#7a1aa8" stroke-width="1.0"/><line x1="523.22" y1="518.03" x2="521.72" y2="517.39" stroke="#2a18e0" stroke-width="1.15"/><line x1="522.32" y1="517.65" x2="521.72" y2="517.39" stroke="#7a1aa8" stroke-width="1.0"/><line x1="523.55" y1="517.26" x2="522.13" y2="516.64" stroke="#2a18e0" stroke-width="1.15"/><line x1="522.7" y1="516.89" x2="522.13" y2="516.64" stroke="#7a1aa8" stroke-width="1.0"/><line x1="523.89" y1="516.5" x2="523" y2="516.1" stroke="#2a18e0" stroke-width="1.15"/><line x1="523.35" y1="516.26" x2="523" y2="516.1" stroke="#7a1aa8" stroke-width="1.0"/><line x1="524.24" y1="515.75" x2="521.42" y2="514.42" stroke="#2a18e0" stroke-width="1.15"/><line x1="522.55" y1="514.95" x2="521.42" y2="514.42" stroke="#7a1aa8" stroke-width="1.0"/><line x1="524.6" y1="515" x2="524.1" y2="514.75" stroke="#2a18e0" stroke-width="1.15"/><line x1="524.3" y1="514.85" x2="524.1" y2="514.75" stroke="#7a1aa8" stroke-width="1.0"/><line x1="524.97" y1="514.25" x2="524.25" y2="513.89" stroke="#2a18e0" stroke-width="1.15"/><line x1="524.54" y1="514.03" x2="524.25" y2="513.89" stroke="#7a1aa8" stroke-width="1.0"/><text x="482.86" y="509.32" font-size="8.8" font-weight="bold" text-anchor="middle">10</text><path d="M497.49 496.48A96.2 96.2 0 0 1 511.86 476.74L518.7 483.2A86.8 86.8 0 0 0 505.73 501Z" fill="none" stroke="#444" stroke-width="1.6"/><path d="M505.73 501A86.8 86.8 0 0 1 518.7 483.2L535.56 499.13A63.6 63.6 0 0 0 526.06 512.17Z" fill="none" stroke="#444" stroke-width="1.5"/><path d="M508.79 502.69A83.3 83.3 0 0 1 521.24 485.6" fill="none" stroke="#444" stroke-width="1.5"/><path d="M507.26 501.85A85.05 85.05 0 0 1 519.97 484.4" fill="none" stroke="#666" stroke-width="2.0" stroke-dasharray="0.8,0.8"/><path d="M518 507.74A72.8 72.8 0 0 1 528.88 492.81" fill="none" stroke="#444" stroke-width="2.1"/><path d="M518 507.74A72.8 72.8 0 0 1 528.88 492.81" fill="none" stroke="#bbb" stroke-width="0.7" stroke-dasharray="0.7,0.9"/><circle cx="509.73" cy="492.82" r="0.55" fill="#2222ee"/><circle cx="509.13" cy="493.01" r="0.55" fill="#2222ee"/><circle cx="506.01" cy="498.38" r="0.55" fill="#2222ee"/><circle cx="505.64" cy="497.82" r="0.55" fill="#2222ee"/><circle cx="512.91" cy="488.31" r="0.55" fill="#2222ee"/><circle cx="514.77" cy="486.23" r="0.55" fill="#2222ee"/><circle cx="515.04" cy="485.1" r="0.55" fill="#2222ee"/><circle cx="512.44" cy="488.36" r="0.55" fill="#2222ee"/><circle cx="514.61" cy="486.62" r="0.55" fill="#2222ee"/><circle cx="509.18" cy="494.01" r="0.55" fill="#2222ee"/><circle cx="517.46" cy="483.08" r="0.55" fill="#2222ee"/><circle cx="511.7" cy="489.01" r="0.55" fill="#2222ee"/><circle cx="513.94" cy="487.35" r="0.55" fill="#2222ee"/><circle cx="513.31" cy="487.74" r="0.55" fill="#2222ee"/><circle cx="514.8" cy="485.47" r="0.55" fill="#2222ee"/><circle cx="507.53" cy="496.2" r="0.55" fill="#2222ee"/><circle cx="515.86" cy="484.95" r="0.55" fill="#2222ee"/><circle cx="507.2" cy="495.22" r="0.55" fill="#2222ee"/><circle cx="505.91" cy="497.67" r="0.55" fill="#2222ee"/><circle cx="510.4" cy="490.42" r="0.55" fill="#2222ee"/><circle cx="504.71" cy="499.44" r="0.55" fill="#2222ee"/><circle cx="509.25" cy="492.26" r="0.55" fill="#2222ee"/><circle cx="516.55" cy="483.17" r="0.55" fill="#2222ee"/><circle cx="513.62" cy="491.96" r="0.7" fill="#109090"/><circle cx="510.89" cy="495.83" r="0.7" fill="#109090"/><path d="M513 505A78.5 78.5 0 0 1 524.73 488.9" fill="none" stroke="#7a1a9a" stroke-width="3.4"/><path d="M511.25 504.04A80.5 80.5 0 0 1 523.28 487.52" fill="none" stroke="#3a1ae0" stroke-width="1.0"/><path d="M514.58 505.87A76.7 76.7 0 0 1 526.04 490.13" fill="none" stroke="#c0184a" stroke-width="0.8"/><line x1="511.19" y1="503.52" x2="510.33" y2="503.04" stroke="#3020e0" stroke-width="0.9"/><line x1="514.95" y1="505.61" x2="516.1" y2="506.26" stroke="#901a80" stroke-width="0.9"/><line x1="516.15" y1="503.53" x2="516.9" y2="503.98" stroke="#901a80" stroke-width="0.9"/><line x1="513.12" y1="500.24" x2="511.91" y2="499.49" stroke="#3020e0" stroke-width="0.9"/><line x1="517.41" y1="501.49" x2="518.43" y2="502.14" stroke="#901a80" stroke-width="0.9"/><line x1="514.49" y1="498.1" x2="513.63" y2="497.53" stroke="#3020e0" stroke-width="0.9"/><line x1="515.2" y1="497.05" x2="514.5" y2="496.57" stroke="#3020e0" stroke-width="0.9"/><line x1="519.43" y1="498.5" x2="520.41" y2="499.19" stroke="#901a80" stroke-width="0.9"/><line x1="516.67" y1="494.98" x2="515.49" y2="494.11" stroke="#3020e0" stroke-width="0.9"/><line x1="517.43" y1="493.96" x2="516.18" y2="493.02" stroke="#3020e0" stroke-width="0.9"/><line x1="520.85" y1="496.56" x2="521.31" y2="496.91" stroke="#901a80" stroke-width="0.9"/><line x1="521.59" y1="495.61" x2="522.29" y2="496.17" stroke="#901a80" stroke-width="0.9"/><line x1="519.8" y1="490.99" x2="518.81" y2="490.16" stroke="#3020e0" stroke-width="0.9"/><line x1="521.46" y1="489.06" x2="520.84" y2="488.51" stroke="#3020e0" stroke-width="0.9"/><line x1="525.48" y1="491.03" x2="525.86" y2="491.38" stroke="#901a80" stroke-width="0.9"/><line x1="526.17" y1="511.98" x2="522.52" y2="509.96" stroke="#2a18e0" stroke-width="1.15"/><line x1="523.98" y1="510.77" x2="522.52" y2="509.96" stroke="#7a1aa8" stroke-width="1.0"/><line x1="526.57" y1="511.25" x2="525.12" y2="510.42" stroke="#2a18e0" stroke-width="1.15"/><line x1="525.7" y1="510.76" x2="525.12" y2="510.42" stroke="#7a1aa8" stroke-width="1.0"/><line x1="526.99" y1="510.53" x2="525.55" y2="509.68" stroke="#2a18e0" stroke-width="1.15"/><line x1="526.13" y1="510.02" x2="525.55" y2="509.68" stroke="#7a1aa8" stroke-width="1.0"/><line x1="527.42" y1="509.82" x2="526.94" y2="509.53" stroke="#2a18e0" stroke-width="1.15"/><line x1="527.13" y1="509.64" x2="526.94" y2="509.53" stroke="#7a1aa8" stroke-width="1.0"/><line x1="527.86" y1="509.11" x2="527.13" y2="508.66" stroke="#2a18e0" stroke-width="1.15"/><line x1="527.42" y1="508.84" x2="527.13" y2="508.66" stroke="#7a1aa8" stroke-width="1.0"/><line x1="528.3" y1="508.41" x2="524.82" y2="506.17" stroke="#2a18e0" stroke-width="1.15"/><line x1="526.21" y1="507.06" x2="524.82" y2="506.17" stroke="#7a1aa8" stroke-width="1.0"/><line x1="528.76" y1="507.71" x2="527.18" y2="506.67" stroke="#2a18e0" stroke-width="1.15"/><line x1="527.81" y1="507.09" x2="527.18" y2="506.67" stroke="#7a1aa8" stroke-width="1.0"/><line x1="529.22" y1="507.02" x2="526.07" y2="504.87" stroke="#2a18e0" stroke-width="1.15"/><line x1="527.33" y1="505.73" x2="526.07" y2="504.87" stroke="#7a1aa8" stroke-width="1.0"/><line x1="529.69" y1="506.33" x2="527.88" y2="505.07" stroke="#2a18e0" stroke-width="1.15"/><line x1="528.6" y1="505.57" x2="527.88" y2="505.07" stroke="#7a1aa8" stroke-width="1.0"/><line x1="530.17" y1="505.65" x2="529.88" y2="505.45" stroke="#2a18e0" stroke-width="1.15"/><line x1="530" y1="505.53" x2="529.88" y2="505.45" stroke="#7a1aa8" stroke-width="1.0"/><line x1="530.67" y1="504.98" x2="529.58" y2="504.18" stroke="#2a18e0" stroke-width="1.15"/><line x1="530.01" y1="504.5" x2="529.58" y2="504.18" stroke="#7a1aa8" stroke-width="1.0"/><line x1="531.16" y1="504.32" x2="527.55" y2="501.57" stroke="#2a18e0" stroke-width="1.15"/><line x1="529" y1="502.67" x2="527.55" y2="501.57" stroke="#7a1aa8" stroke-width="1.0"/><line x1="531.67" y1="503.66" x2="530.4" y2="502.66" stroke="#2a18e0" stroke-width="1.15"/><line x1="530.91" y1="503.06" x2="530.4" y2="502.66" stroke="#7a1aa8" stroke-width="1.0"/><line x1="532.19" y1="503" x2="529.4" y2="500.77" stroke="#2a18e0" stroke-width="1.15"/><line x1="530.51" y1="501.66" x2="529.4" y2="500.77" stroke="#7a1aa8" stroke-width="1.0"/><line x1="532.71" y1="502.36" x2="529.2" y2="499.47" stroke="#2a18e0" stroke-width="1.15"/><line x1="530.61" y1="500.62" x2="529.2" y2="499.47" stroke="#7a1aa8" stroke-width="1.0"/><line x1="533.25" y1="501.72" x2="529.83" y2="498.83" stroke="#2a18e0" stroke-width="1.15"/><line x1="531.2" y1="499.98" x2="529.83" y2="498.83" stroke="#7a1aa8" stroke-width="1.0"/><line x1="533.79" y1="501.09" x2="530.55" y2="498.27" stroke="#2a18e0" stroke-width="1.15"/><line x1="531.85" y1="499.4" x2="530.55" y2="498.27" stroke="#7a1aa8" stroke-width="1.0"/><line x1="534.34" y1="500.46" x2="533.39" y2="499.61" stroke="#2a18e0" stroke-width="1.15"/><line x1="533.77" y1="499.95" x2="533.39" y2="499.61" stroke="#7a1aa8" stroke-width="1.0"/><line x1="534.9" y1="499.84" x2="532.31" y2="497.48" stroke="#2a18e0" stroke-width="1.15"/><line x1="533.35" y1="498.42" x2="532.31" y2="497.48" stroke="#7a1aa8" stroke-width="1.0"/><text x="496.44" y="483.71" font-size="8.8" font-weight="bold" text-anchor="middle">11</text><path d="M513.24 475.32A96.2 96.2 0 0 1 532.25 460.34L537.09 468.4A86.8 86.8 0 0 0 519.94 481.91Z" fill="none" stroke="#444" stroke-width="1.6"/><path d="M519.94 481.91A86.8 86.8 0 0 1 537.09 468.4L549.04 488.28A63.6 63.6 0 0 0 536.47 498.19Z" fill="none" stroke="#444" stroke-width="1.5"/><path d="M522.43 484.37A83.3 83.3 0 0 1 538.9 471.4" fill="none" stroke="#444" stroke-width="1.5"/><path d="M521.18 483.14A85.05 85.05 0 0 1 537.99 469.9" fill="none" stroke="#666" stroke-width="2.0" stroke-dasharray="0.8,0.8"/><path d="M529.91 491.73A72.8 72.8 0 0 1 544.3 480.4" fill="none" stroke="#444" stroke-width="2.1"/><path d="M529.91 491.73A72.8 72.8 0 0 1 544.3 480.4" fill="none" stroke="#bbb" stroke-width="0.7" stroke-dasharray="0.7,0.9"/><circle cx="520.12" cy="480.69" r="0.55" fill="#2222ee"/><circle cx="531.93" cy="469.74" r="0.55" fill="#2222ee"/><circle cx="533.27" cy="468.91" r="0.55" fill="#2222ee"/><circle cx="528" cy="472.6" r="0.55" fill="#2222ee"/><circle cx="530.67" cy="471.09" r="0.55" fill="#2222ee"/><circle cx="526.47" cy="475.1" r="0.55" fill="#2222ee"/><circle cx="520.97" cy="479.62" r="0.55" fill="#2222ee"/><circle cx="526.98" cy="474.54" r="0.55" fill="#2222ee"/><circle cx="535.5" cy="467.86" r="0.55" fill="#2222ee"/><circle cx="531.18" cy="470.24" r="0.55" fill="#2222ee"/><circle cx="522.58" cy="477.08" r="0.55" fill="#2222ee"/><circle cx="535.47" cy="468.31" r="0.55" fill="#2222ee"/><circle cx="521.07" cy="478.62" r="0.55" fill="#2222ee"/><circle cx="533.9" cy="468.55" r="0.55" fill="#2222ee"/><circle cx="525.75" cy="474.8" r="0.55" fill="#2222ee"/><circle cx="521.36" cy="479.28" r="0.55" fill="#2222ee"/><circle cx="525.81" cy="474.53" r="0.55" fill="#2222ee"/><circle cx="520.39" cy="479.05" r="0.55" fill="#2222ee"/><circle cx="519.46" cy="479.9" r="0.55" fill="#2222ee"/><circle cx="522.81" cy="476.99" r="0.55" fill="#2222ee"/><circle cx="532.51" cy="469.24" r="0.55" fill="#2222ee"/><circle cx="526.7" cy="473.88" r="0.55" fill="#2222ee"/><circle cx="523.68" cy="476.2" r="0.55" fill="#2222ee"/><circle cx="523.26" cy="481.1" r="0.7" fill="#109090"/><circle cx="530.63" cy="474.86" r="0.7" fill="#e02020"/><path d="M525.85 487.74A78.5 78.5 0 0 1 541.37 475.51" fill="none" stroke="#7a1a9a" stroke-width="3.4"/><path d="M524.43 486.33A80.5 80.5 0 0 1 540.34 473.8" fill="none" stroke="#3a1ae0" stroke-width="1.0"/><path d="M527.13 489A76.7 76.7 0 0 1 542.3 477.06" fill="none" stroke="#c0184a" stroke-width="0.8"/><line x1="524.51" y1="485.82" x2="523.97" y2="485.28" stroke="#3020e0" stroke-width="0.9"/><line x1="527.56" y1="488.85" x2="527.91" y2="489.21" stroke="#901a80" stroke-width="0.9"/><line x1="525.41" y1="484.93" x2="524.42" y2="483.91" stroke="#3020e0" stroke-width="0.9"/><line x1="527.26" y1="483.19" x2="526.24" y2="482.07" stroke="#3020e0" stroke-width="0.9"/><line x1="531.05" y1="485.55" x2="531.5" y2="486.06" stroke="#901a80" stroke-width="0.9"/><line x1="531.96" y1="484.76" x2="532.62" y2="485.53" stroke="#901a80" stroke-width="0.9"/><line x1="530.13" y1="480.68" x2="529.28" y2="479.67" stroke="#3020e0" stroke-width="0.9"/><line x1="532.88" y1="483.99" x2="533.59" y2="484.85" stroke="#901a80" stroke-width="0.9"/><line x1="531.11" y1="479.88" x2="530.6" y2="479.25" stroke="#3020e0" stroke-width="0.9"/><line x1="533.81" y1="483.23" x2="534.4" y2="483.96" stroke="#901a80" stroke-width="0.9"/><line x1="532.1" y1="479.09" x2="531.51" y2="478.33" stroke="#3020e0" stroke-width="0.9"/><line x1="534.75" y1="482.48" x2="535.14" y2="482.98" stroke="#901a80" stroke-width="0.9"/><line x1="533.11" y1="478.32" x2="532.24" y2="477.17" stroke="#3020e0" stroke-width="0.9"/><line x1="536.67" y1="481.03" x2="537" y2="481.49" stroke="#901a80" stroke-width="0.9"/><line x1="535.16" y1="476.82" x2="534.44" y2="475.81" stroke="#3020e0" stroke-width="0.9"/><line x1="537.64" y1="480.33" x2="538.42" y2="481.43" stroke="#901a80" stroke-width="0.9"/><line x1="538.63" y1="479.65" x2="539.23" y2="480.52" stroke="#901a80" stroke-width="0.9"/><line x1="539.63" y1="478.98" x2="540.21" y2="479.85" stroke="#901a80" stroke-width="0.9"/><line x1="539.39" y1="474.02" x2="538.89" y2="473.21" stroke="#3020e0" stroke-width="0.9"/><line x1="536.63" y1="498.03" x2="534.74" y2="496.16" stroke="#2a18e0" stroke-width="1.15"/><line x1="535.49" y1="496.91" x2="534.74" y2="496.16" stroke="#7a1aa8" stroke-width="1.0"/><line x1="537.22" y1="497.44" x2="536.66" y2="496.88" stroke="#2a18e0" stroke-width="1.15"/><line x1="536.88" y1="497.1" x2="536.66" y2="496.88" stroke="#7a1aa8" stroke-width="1.0"/><line x1="537.81" y1="496.86" x2="536.29" y2="495.27" stroke="#2a18e0" stroke-width="1.15"/><line x1="536.9" y1="495.91" x2="536.29" y2="495.27" stroke="#7a1aa8" stroke-width="1.0"/><line x1="538.42" y1="496.29" x2="536.7" y2="494.45" stroke="#2a18e0" stroke-width="1.15"/><line x1="537.39" y1="495.18" x2="536.7" y2="494.45" stroke="#7a1aa8" stroke-width="1.0"/><line x1="539.03" y1="495.73" x2="538.86" y2="495.53" stroke="#2a18e0" stroke-width="1.15"/><line x1="538.93" y1="495.61" x2="538.86" y2="495.53" stroke="#7a1aa8" stroke-width="1.0"/><line x1="539.65" y1="495.17" x2="539.19" y2="494.65" stroke="#2a18e0" stroke-width="1.15"/><line x1="539.38" y1="494.86" x2="539.19" y2="494.65" stroke="#7a1aa8" stroke-width="1.0"/><line x1="540.28" y1="494.62" x2="539.35" y2="493.54" stroke="#2a18e0" stroke-width="1.15"/><line x1="539.72" y1="493.98" x2="539.35" y2="493.54" stroke="#7a1aa8" stroke-width="1.0"/><line x1="540.91" y1="494.08" x2="540.59" y2="493.7" stroke="#2a18e0" stroke-width="1.15"/><line x1="540.72" y1="493.85" x2="540.59" y2="493.7" stroke="#7a1aa8" stroke-width="1.0"/><line x1="541.55" y1="493.55" x2="539.13" y2="490.59" stroke="#2a18e0" stroke-width="1.15"/><line x1="540.1" y1="491.77" x2="539.13" y2="490.59" stroke="#7a1aa8" stroke-width="1.0"/><line x1="542.2" y1="493.03" x2="539.09" y2="489.12" stroke="#2a18e0" stroke-width="1.15"/><line x1="540.34" y1="490.69" x2="539.09" y2="489.12" stroke="#7a1aa8" stroke-width="1.0"/><line x1="542.86" y1="492.52" x2="540.85" y2="489.92" stroke="#2a18e0" stroke-width="1.15"/><line x1="541.65" y1="490.96" x2="540.85" y2="489.92" stroke="#7a1aa8" stroke-width="1.0"/><line x1="543.52" y1="492.01" x2="541.75" y2="489.67" stroke="#2a18e0" stroke-width="1.15"/><line x1="542.46" y1="490.61" x2="541.75" y2="489.67" stroke="#7a1aa8" stroke-width="1.0"/><line x1="544.19" y1="491.51" x2="543.79" y2="490.98" stroke="#2a18e0" stroke-width="1.15"/><line x1="543.95" y1="491.19" x2="543.79" y2="490.98" stroke="#7a1aa8" stroke-width="1.0"/><line x1="544.86" y1="491.03" x2="543.79" y2="489.52" stroke="#2a18e0" stroke-width="1.15"/><line x1="544.22" y1="490.12" x2="543.79" y2="489.52" stroke="#7a1aa8" stroke-width="1.0"/><line x1="545.54" y1="490.55" x2="544.92" y2="489.66" stroke="#2a18e0" stroke-width="1.15"/><line x1="545.17" y1="490.01" x2="544.92" y2="489.66" stroke="#7a1aa8" stroke-width="1.0"/><line x1="546.23" y1="490.08" x2="545.68" y2="489.26" stroke="#2a18e0" stroke-width="1.15"/><line x1="545.9" y1="489.59" x2="545.68" y2="489.26" stroke="#7a1aa8" stroke-width="1.0"/><line x1="546.92" y1="489.62" x2="545.73" y2="487.8" stroke="#2a18e0" stroke-width="1.15"/><line x1="546.21" y1="488.53" x2="545.73" y2="487.8" stroke="#7a1aa8" stroke-width="1.0"/><line x1="547.62" y1="489.16" x2="545.17" y2="485.32" stroke="#2a18e0" stroke-width="1.15"/><line x1="546.15" y1="486.86" x2="545.17" y2="485.32" stroke="#7a1aa8" stroke-width="1.0"/><line x1="548.33" y1="488.72" x2="547.71" y2="487.73" stroke="#2a18e0" stroke-width="1.15"/><line x1="547.96" y1="488.13" x2="547.71" y2="487.73" stroke="#7a1aa8" stroke-width="1.0"/><text x="516.64" y="463.18" font-size="8.8" font-weight="bold" text-anchor="middle">12</text><path d="M533.96 459.34A96.2 96.2 0 0 1 553.06 450.99L555.87 459.96A86.8 86.8 0 0 0 538.63 467.5Z" fill="none" stroke="#444" stroke-width="1.6"/><path d="M538.63 467.5A86.8 86.8 0 0 1 555.87 459.96L562.8 482.1A63.6 63.6 0 0 0 550.17 487.62Z" fill="none" stroke="#444" stroke-width="1.5"/><path d="M540.37 470.53A83.3 83.3 0 0 1 556.92 463.3" fill="none" stroke="#444" stroke-width="1.5"/><path d="M539.5 469.01A85.05 85.05 0 0 1 556.39 461.63" fill="none" stroke="#666" stroke-width="2.0" stroke-dasharray="0.8,0.8"/><path d="M545.6 479.64A72.8 72.8 0 0 1 560.05 473.32" fill="none" stroke="#444" stroke-width="2.1"/><path d="M545.6 479.64A72.8 72.8 0 0 1 560.05 473.32" fill="none" stroke="#bbb" stroke-width="0.7" stroke-dasharray="0.7,0.9"/><circle cx="545.15" cy="462.94" r="0.55" fill="#2222ee"/><circle cx="551.55" cy="459.7" r="0.55" fill="#2222ee"/><circle cx="545.65" cy="463.21" r="0.55" fill="#2222ee"/><circle cx="550.91" cy="460.56" r="0.55" fill="#2222ee"/><circle cx="552.82" cy="459.77" r="0.55" fill="#2222ee"/><circle cx="542.18" cy="463.77" r="0.55" fill="#2222ee"/><circle cx="549.58" cy="460.73" r="0.55" fill="#2222ee"/><circle cx="540.19" cy="465.16" r="0.55" fill="#2222ee"/><circle cx="553.33" cy="459.01" r="0.55" fill="#2222ee"/><circle cx="553.57" cy="459.15" r="0.55" fill="#2222ee"/><circle cx="544.28" cy="463.83" r="0.55" fill="#2222ee"/><circle cx="544.53" cy="463.68" r="0.55" fill="#2222ee"/><circle cx="552.46" cy="460.12" r="0.55" fill="#2222ee"/><circle cx="544" cy="463.99" r="0.55" fill="#2222ee"/><circle cx="544.45" cy="462.84" r="0.55" fill="#2222ee"/><circle cx="553.18" cy="459.1" r="0.55" fill="#2222ee"/><circle cx="554.26" cy="459.84" r="0.55" fill="#2222ee"/><circle cx="542.53" cy="464.29" r="0.55" fill="#2222ee"/><circle cx="546.17" cy="462.37" r="0.55" fill="#2222ee"/><circle cx="546.17" cy="465.57" r="0.7" fill="#e02020"/><path d="M542.76 474.7A78.5 78.5 0 0 1 558.35 467.88" fill="none" stroke="#7a1a9a" stroke-width="3.4"/><path d="M541.77 472.96A80.5 80.5 0 0 1 557.75 465.98" fill="none" stroke="#3a1ae0" stroke-width="1.0"/><path d="M543.66 476.26A76.7 76.7 0 0 1 558.89 469.6" fill="none" stroke="#c0184a" stroke-width="0.8"/><line x1="544.1" y1="476.23" x2="544.75" y2="477.38" stroke="#901a80" stroke-width="0.9"/><line x1="545.15" y1="475.65" x2="545.51" y2="476.3" stroke="#901a80" stroke-width="0.9"/><line x1="544.21" y1="471.28" x2="543.61" y2="470.14" stroke="#3020e0" stroke-width="0.9"/><line x1="546.21" y1="475.08" x2="546.39" y2="475.42" stroke="#901a80" stroke-width="0.9"/><line x1="545.34" y1="470.69" x2="544.7" y2="469.43" stroke="#3020e0" stroke-width="0.9"/><line x1="547.28" y1="474.53" x2="547.58" y2="475.12" stroke="#901a80" stroke-width="0.9"/><line x1="546.48" y1="470.13" x2="546.03" y2="469.21" stroke="#3020e0" stroke-width="0.9"/><line x1="549.44" y1="473.48" x2="549.79" y2="474.23" stroke="#901a80" stroke-width="0.9"/><line x1="550.53" y1="472.98" x2="550.74" y2="473.43" stroke="#901a80" stroke-width="0.9"/><line x1="551.64" y1="472.5" x2="552.14" y2="473.68" stroke="#901a80" stroke-width="0.9"/><line x1="552.74" y1="472.03" x2="553" y2="472.65" stroke="#901a80" stroke-width="0.9"/><line x1="552.29" y1="467.58" x2="551.76" y2="466.25" stroke="#3020e0" stroke-width="0.9"/><line x1="553.47" y1="467.13" x2="553.29" y2="466.63" stroke="#3020e0" stroke-width="0.9"/><line x1="554.98" y1="471.16" x2="555.42" y2="472.34" stroke="#901a80" stroke-width="0.9"/><line x1="554.67" y1="466.69" x2="554.32" y2="465.73" stroke="#3020e0" stroke-width="0.9"/><line x1="557.07" y1="465.88" x2="556.9" y2="465.36" stroke="#3020e0" stroke-width="0.9"/><line x1="550.36" y1="487.51" x2="550.04" y2="486.95" stroke="#2a18e0" stroke-width="1.15"/><line x1="550.17" y1="487.17" x2="550.04" y2="486.95" stroke="#7a1aa8" stroke-width="1.0"/><line x1="551.09" y1="487.11" x2="548.84" y2="483.03" stroke="#2a18e0" stroke-width="1.15"/><line x1="549.74" y1="484.66" x2="548.84" y2="483.03" stroke="#7a1aa8" stroke-width="1.0"/><line x1="551.82" y1="486.71" x2="551.03" y2="485.22" stroke="#2a18e0" stroke-width="1.15"/><line x1="551.35" y1="485.82" x2="551.03" y2="485.22" stroke="#7a1aa8" stroke-width="1.0"/><line x1="552.56" y1="486.32" x2="550.57" y2="482.48" stroke="#2a18e0" stroke-width="1.15"/><line x1="551.36" y1="484.02" x2="550.57" y2="482.48" stroke="#7a1aa8" stroke-width="1.0"/><line x1="553.3" y1="485.94" x2="552.66" y2="484.66" stroke="#2a18e0" stroke-width="1.15"/><line x1="552.91" y1="485.17" x2="552.66" y2="484.66" stroke="#7a1aa8" stroke-width="1.0"/><line x1="554.05" y1="485.57" x2="553.9" y2="485.28" stroke="#2a18e0" stroke-width="1.15"/><line x1="553.96" y1="485.4" x2="553.9" y2="485.28" stroke="#7a1aa8" stroke-width="1.0"/><line x1="554.8" y1="485.22" x2="552.7" y2="480.73" stroke="#2a18e0" stroke-width="1.15"/><line x1="553.54" y1="482.53" x2="552.7" y2="480.73" stroke="#7a1aa8" stroke-width="1.0"/><line x1="555.55" y1="484.87" x2="553.89" y2="481.2" stroke="#2a18e0" stroke-width="1.15"/><line x1="554.56" y1="482.67" x2="553.89" y2="481.2" stroke="#7a1aa8" stroke-width="1.0"/><line x1="556.31" y1="484.53" x2="554.55" y2="480.49" stroke="#2a18e0" stroke-width="1.15"/><line x1="555.26" y1="482.11" x2="554.55" y2="480.49" stroke="#7a1aa8" stroke-width="1.0"/><line x1="557.08" y1="484.2" x2="556.67" y2="483.24" stroke="#2a18e0" stroke-width="1.15"/><line x1="556.84" y1="483.62" x2="556.67" y2="483.24" stroke="#7a1aa8" stroke-width="1.0"/><line x1="557.85" y1="483.88" x2="556.07" y2="479.51" stroke="#2a18e0" stroke-width="1.15"/><line x1="556.78" y1="481.26" x2="556.07" y2="479.51" stroke="#7a1aa8" stroke-width="1.0"/><line x1="558.62" y1="483.57" x2="557.6" y2="480.95" stroke="#2a18e0" stroke-width="1.15"/><line x1="558.01" y1="482" x2="557.6" y2="480.95" stroke="#7a1aa8" stroke-width="1.0"/><line x1="559.4" y1="483.28" x2="559.24" y2="482.84" stroke="#2a18e0" stroke-width="1.15"/><line x1="559.3" y1="483.01" x2="559.24" y2="482.84" stroke="#7a1aa8" stroke-width="1.0"/><line x1="560.18" y1="482.99" x2="558.78" y2="479.12" stroke="#2a18e0" stroke-width="1.15"/><line x1="559.34" y1="480.67" x2="558.78" y2="479.12" stroke="#7a1aa8" stroke-width="1.0"/><line x1="560.97" y1="482.71" x2="559.33" y2="477.99" stroke="#2a18e0" stroke-width="1.15"/><line x1="559.98" y1="479.88" x2="559.33" y2="477.99" stroke="#7a1aa8" stroke-width="1.0"/><line x1="561.75" y1="482.44" x2="561.47" y2="481.6" stroke="#2a18e0" stroke-width="1.15"/><line x1="561.59" y1="481.94" x2="561.47" y2="481.6" stroke="#7a1aa8" stroke-width="1.0"/><line x1="562.55" y1="482.18" x2="562.01" y2="480.49" stroke="#2a18e0" stroke-width="1.15"/><line x1="562.22" y1="481.17" x2="562.01" y2="480.49" stroke="#7a1aa8" stroke-width="1.0"/><text x="539.9" y="450.01" font-size="8.8" font-weight="bold" text-anchor="middle">13</text><path d="M554.96 450.42A96.2 96.2 0 0 1 574.07 446.91L574.82 456.28A86.8 86.8 0 0 0 557.58 459.45Z" fill="none" stroke="#444" stroke-width="1.6"/><path d="M557.58 459.45A86.8 86.8 0 0 1 574.82 456.28L576.69 479.41A63.6 63.6 0 0 0 564.05 481.73Z" fill="none" stroke="#444" stroke-width="1.5"/><path d="M558.56 462.81A83.3 83.3 0 0 1 575.11 459.77" fill="none" stroke="#444" stroke-width="1.5"/><path d="M558.07 461.13A85.05 85.05 0 0 1 574.97 458.03" fill="none" stroke="#666" stroke-width="2.0" stroke-dasharray="0.8,0.8"/><path d="M561.49 472.89A72.8 72.8 0 0 1 575.95 470.24" fill="none" stroke="#444" stroke-width="2.1"/><path d="M561.49 472.89A72.8 72.8 0 0 1 575.95 470.24" fill="none" stroke="#bbb" stroke-width="0.7" stroke-dasharray="0.7,0.9"/><circle cx="569.01" cy="455.64" r="0.55" fill="#2222ee"/><circle cx="565.6" cy="456.22" r="0.55" fill="#2222ee"/><circle cx="562.76" cy="457.26" r="0.55" fill="#2222ee"/><circle cx="572.81" cy="455.42" r="0.55" fill="#2222ee"/><circle cx="559.26" cy="457.14" r="0.55" fill="#2222ee"/><circle cx="566.05" cy="456.01" r="0.55" fill="#2222ee"/><circle cx="563.33" cy="457.19" r="0.55" fill="#2222ee"/><circle cx="563.05" cy="456.41" r="0.55" fill="#2222ee"/><circle cx="562.06" cy="456.54" r="0.55" fill="#2222ee"/><circle cx="562.56" cy="456.44" r="0.55" fill="#2222ee"/><circle cx="560.62" cy="457.46" r="0.55" fill="#2222ee"/><circle cx="559.89" cy="458.01" r="0.55" fill="#2222ee"/><circle cx="566.31" cy="456.34" r="0.55" fill="#2222ee"/><circle cx="566.59" cy="456.47" r="0.55" fill="#2222ee"/><circle cx="562.81" cy="457.09" r="0.55" fill="#2222ee"/><circle cx="572.61" cy="455.79" r="0.55" fill="#2222ee"/><circle cx="564.43" cy="456.1" r="0.55" fill="#2222ee"/><circle cx="567.15" cy="456.32" r="0.55" fill="#2222ee"/><circle cx="574.18" cy="458.09" r="0.7" fill="#e02020"/><path d="M559.89 467.42A78.5 78.5 0 0 1 575.49 464.55" fill="none" stroke="#7a1a9a" stroke-width="3.4"/><path d="M559.34 465.5A80.5 80.5 0 0 1 575.33 462.56" fill="none" stroke="#3a1ae0" stroke-width="1.0"/><path d="M560.4 469.15A76.7 76.7 0 0 1 575.64 466.35" fill="none" stroke="#c0184a" stroke-width="0.8"/><line x1="560.88" y1="464.75" x2="560.72" y2="464.14" stroke="#3020e0" stroke-width="0.9"/><line x1="562" y1="468.91" x2="562.13" y2="469.42" stroke="#901a80" stroke-width="0.9"/><line x1="562.11" y1="464.44" x2="561.8" y2="463.21" stroke="#3020e0" stroke-width="0.9"/><line x1="563.34" y1="464.14" x2="563.15" y2="463.3" stroke="#3020e0" stroke-width="0.9"/><line x1="565.82" y1="463.59" x2="565.64" y2="462.66" stroke="#3020e0" stroke-width="0.9"/><line x1="566.68" y1="467.81" x2="566.81" y2="468.46" stroke="#901a80" stroke-width="0.9"/><line x1="567.07" y1="463.35" x2="566.79" y2="461.82" stroke="#3020e0" stroke-width="0.9"/><line x1="567.85" y1="467.58" x2="567.91" y2="467.89" stroke="#901a80" stroke-width="0.9"/><line x1="569.57" y1="462.93" x2="569.34" y2="461.41" stroke="#3020e0" stroke-width="0.9"/><line x1="570.22" y1="467.18" x2="570.41" y2="468.39" stroke="#901a80" stroke-width="0.9"/><line x1="570.83" y1="462.75" x2="570.66" y2="461.5" stroke="#3020e0" stroke-width="0.9"/><line x1="571.41" y1="467.01" x2="571.57" y2="468.16" stroke="#901a80" stroke-width="0.9"/><line x1="572.61" y1="466.85" x2="572.64" y2="467.16" stroke="#901a80" stroke-width="0.9"/><line x1="573.35" y1="462.44" x2="573.22" y2="461.25" stroke="#3020e0" stroke-width="0.9"/><line x1="574.61" y1="462.32" x2="574.58" y2="461.9" stroke="#3020e0" stroke-width="0.9"/><line x1="564.27" y1="481.66" x2="563.42" y2="478.72" stroke="#2a18e0" stroke-width="1.15"/><line x1="563.76" y1="479.9" x2="563.42" y2="478.72" stroke="#7a1aa8" stroke-width="1.0"/><line x1="565.07" y1="481.44" x2="564.19" y2="478.22" stroke="#2a18e0" stroke-width="1.15"/><line x1="564.54" y1="479.51" x2="564.19" y2="478.22" stroke="#7a1aa8" stroke-width="1.0"/><line x1="565.87" y1="481.23" x2="564.81" y2="477.11" stroke="#2a18e0" stroke-width="1.15"/><line x1="565.23" y1="478.76" x2="564.81" y2="477.11" stroke="#7a1aa8" stroke-width="1.0"/><line x1="566.68" y1="481.02" x2="565.87" y2="477.71" stroke="#2a18e0" stroke-width="1.15"/><line x1="566.19" y1="479.04" x2="565.87" y2="477.71" stroke="#7a1aa8" stroke-width="1.0"/><line x1="567.49" y1="480.83" x2="566.69" y2="477.37" stroke="#2a18e0" stroke-width="1.15"/><line x1="567.01" y1="478.75" x2="566.69" y2="477.37" stroke="#7a1aa8" stroke-width="1.0"/><line x1="568.3" y1="480.65" x2="567.46" y2="476.76" stroke="#2a18e0" stroke-width="1.15"/><line x1="567.8" y1="478.31" x2="567.46" y2="476.76" stroke="#7a1aa8" stroke-width="1.0"/><line x1="569.12" y1="480.48" x2="568.37" y2="476.82" stroke="#2a18e0" stroke-width="1.15"/><line x1="568.67" y1="478.28" x2="568.37" y2="476.82" stroke="#7a1aa8" stroke-width="1.0"/><line x1="569.93" y1="480.32" x2="569.5" y2="478.01" stroke="#2a18e0" stroke-width="1.15"/><line x1="569.67" y1="478.93" x2="569.5" y2="478.01" stroke="#7a1aa8" stroke-width="1.0"/><line x1="570.75" y1="480.17" x2="570.01" y2="475.94" stroke="#2a18e0" stroke-width="1.15"/><line x1="570.3" y1="477.63" x2="570.01" y2="475.94" stroke="#7a1aa8" stroke-width="1.0"/><line x1="571.57" y1="480.03" x2="571.07" y2="476.94" stroke="#2a18e0" stroke-width="1.15"/><line x1="571.27" y1="478.17" x2="571.07" y2="476.94" stroke="#7a1aa8" stroke-width="1.0"/><line x1="572.4" y1="479.9" x2="571.9" y2="476.56" stroke="#2a18e0" stroke-width="1.15"/><line x1="572.1" y1="477.9" x2="571.9" y2="476.56" stroke="#7a1aa8" stroke-width="1.0"/><line x1="573.22" y1="479.78" x2="572.79" y2="476.61" stroke="#2a18e0" stroke-width="1.15"/><line x1="572.96" y1="477.88" x2="572.79" y2="476.61" stroke="#7a1aa8" stroke-width="1.0"/><line x1="574.05" y1="479.67" x2="573.46" y2="474.93" stroke="#2a18e0" stroke-width="1.15"/><line x1="573.7" y1="476.83" x2="573.46" y2="474.93" stroke="#7a1aa8" stroke-width="1.0"/><line x1="574.87" y1="479.58" x2="574.57" y2="476.82" stroke="#2a18e0" stroke-width="1.15"/><line x1="574.69" y1="477.92" x2="574.57" y2="476.82" stroke="#7a1aa8" stroke-width="1.0"/><line x1="575.7" y1="479.49" x2="575.42" y2="476.55" stroke="#2a18e0" stroke-width="1.15"/><line x1="575.53" y1="477.73" x2="575.42" y2="476.55" stroke="#7a1aa8" stroke-width="1.0"/><text x="563.05" y="443.82" font-size="8.8" font-weight="bold" text-anchor="middle">14</text><path d="M576.04 446.77A96.2 96.2 0 0 1 594.59 447.45L593.34 456.77A86.8 86.8 0 0 0 576.6 456.16Z" fill="none" stroke="#444" stroke-width="1.6"/><path d="M576.6 456.16A86.8 86.8 0 0 1 593.34 456.77L590.25 479.76A63.6 63.6 0 0 0 577.99 479.31Z" fill="none" stroke="#444" stroke-width="1.5"/><path d="M576.81 459.65A83.3 83.3 0 0 1 592.87 460.24" fill="none" stroke="#444" stroke-width="1.5"/><path d="M576.71 457.9A85.05 85.05 0 0 1 593.11 458.5" fill="none" stroke="#666" stroke-width="2.0" stroke-dasharray="0.8,0.8"/><path d="M577.44 470.13A72.8 72.8 0 0 1 591.48 470.65" fill="none" stroke="#444" stroke-width="2.1"/><path d="M577.44 470.13A72.8 72.8 0 0 1 591.48 470.65" fill="none" stroke="#bbb" stroke-width="0.7" stroke-dasharray="0.7,0.9"/><circle cx="585.24" cy="455.11" r="0.55" fill="#2222ee"/><circle cx="582.74" cy="455.07" r="0.55" fill="#2222ee"/><circle cx="580.59" cy="454.22" r="0.55" fill="#2222ee"/><circle cx="582.51" cy="454.35" r="0.55" fill="#2222ee"/><circle cx="584.65" cy="454.78" r="0.55" fill="#2222ee"/><circle cx="578.03" cy="455.46" r="0.55" fill="#2222ee"/><circle cx="585.92" cy="454.78" r="0.55" fill="#2222ee"/><circle cx="581.52" cy="454.7" r="0.55" fill="#2222ee"/><circle cx="588.57" cy="454.82" r="0.55" fill="#2222ee"/><circle cx="583.05" cy="454.97" r="0.55" fill="#2222ee"/><circle cx="588.42" cy="454.94" r="0.55" fill="#2222ee"/><circle cx="590.42" cy="455.31" r="0.55" fill="#2222ee"/><circle cx="578.59" cy="454.76" r="0.55" fill="#2222ee"/><circle cx="579.44" cy="455.06" r="0.55" fill="#2222ee"/><circle cx="577.99" cy="454.28" r="0.55" fill="#2222ee"/><circle cx="585.08" cy="454.54" r="0.55" fill="#2222ee"/><circle cx="581.15" cy="454.26" r="0.55" fill="#2222ee"/><circle cx="587.97" cy="457.97" r="0.7" fill="#e02020"/><path d="M577.1 464.44A78.5 78.5 0 0 1 592.23 465" fill="none" stroke="#7a1a9a" stroke-width="3.4"/><path d="M576.98 462.44A80.5 80.5 0 0 1 592.5 463.01" fill="none" stroke="#3a1ae0" stroke-width="1.0"/><path d="M577.21 466.24A76.7 76.7 0 0 1 592 466.78" fill="none" stroke="#c0184a" stroke-width="0.8"/><line x1="578.65" y1="462.06" x2="578.61" y2="460.99" stroke="#3020e0" stroke-width="0.9"/><line x1="578.82" y1="466.36" x2="578.88" y2="467.73" stroke="#901a80" stroke-width="0.9"/><line x1="580.02" y1="466.32" x2="580.05" y2="467.39" stroke="#901a80" stroke-width="0.9"/><line x1="581.19" y1="462" x2="581.19" y2="461.56" stroke="#3020e0" stroke-width="0.9"/><line x1="587.23" y1="466.49" x2="587.19" y2="467.02" stroke="#901a80" stroke-width="0.9"/><line x1="590.06" y1="462.42" x2="590.21" y2="461.01" stroke="#3020e0" stroke-width="0.9"/><line x1="578.21" y1="479.3" x2="578.11" y2="477.52" stroke="#2a18e0" stroke-width="1.15"/><line x1="578.15" y1="478.23" x2="578.11" y2="477.52" stroke="#7a1aa8" stroke-width="1.0"/><line x1="579.05" y1="479.26" x2="579.03" y2="478.96" stroke="#2a18e0" stroke-width="1.15"/><line x1="579.04" y1="479.08" x2="579.03" y2="478.96" stroke="#7a1aa8" stroke-width="1.0"/><line x1="579.88" y1="479.23" x2="579.86" y2="478.53" stroke="#2a18e0" stroke-width="1.15"/><line x1="579.87" y1="478.81" x2="579.86" y2="478.53" stroke="#7a1aa8" stroke-width="1.0"/><line x1="580.71" y1="479.21" x2="580.68" y2="477.45" stroke="#2a18e0" stroke-width="1.15"/><line x1="580.69" y1="478.15" x2="580.68" y2="477.45" stroke="#7a1aa8" stroke-width="1.0"/><line x1="581.54" y1="479.2" x2="581.53" y2="476.34" stroke="#2a18e0" stroke-width="1.15"/><line x1="581.54" y1="477.49" x2="581.53" y2="476.34" stroke="#7a1aa8" stroke-width="1.0"/><line x1="582.38" y1="479.2" x2="582.39" y2="477.81" stroke="#2a18e0" stroke-width="1.15"/><line x1="582.38" y1="478.37" x2="582.39" y2="477.81" stroke="#7a1aa8" stroke-width="1.0"/><line x1="583.21" y1="479.22" x2="583.22" y2="478.67" stroke="#2a18e0" stroke-width="1.15"/><line x1="583.22" y1="478.89" x2="583.22" y2="478.67" stroke="#7a1aa8" stroke-width="1.0"/><line x1="584.04" y1="479.24" x2="584.18" y2="475.29" stroke="#2a18e0" stroke-width="1.15"/><line x1="584.12" y1="476.87" x2="584.18" y2="475.29" stroke="#7a1aa8" stroke-width="1.0"/><line x1="584.87" y1="479.27" x2="585.01" y2="476.5" stroke="#2a18e0" stroke-width="1.15"/><line x1="584.95" y1="477.61" x2="585.01" y2="476.5" stroke="#7a1aa8" stroke-width="1.0"/><line x1="585.7" y1="479.32" x2="585.88" y2="476.46" stroke="#2a18e0" stroke-width="1.15"/><line x1="585.81" y1="477.61" x2="585.88" y2="476.46" stroke="#7a1aa8" stroke-width="1.0"/><line x1="586.53" y1="479.38" x2="586.68" y2="477.36" stroke="#2a18e0" stroke-width="1.15"/><line x1="586.62" y1="478.17" x2="586.68" y2="477.36" stroke="#7a1aa8" stroke-width="1.0"/><line x1="587.36" y1="479.44" x2="587.39" y2="479.15" stroke="#2a18e0" stroke-width="1.15"/><line x1="587.38" y1="479.27" x2="587.39" y2="479.15" stroke="#7a1aa8" stroke-width="1.0"/><line x1="588.19" y1="479.52" x2="588.63" y2="475.15" stroke="#2a18e0" stroke-width="1.15"/><line x1="588.46" y1="476.9" x2="588.63" y2="475.15" stroke="#7a1aa8" stroke-width="1.0"/><line x1="589.02" y1="479.61" x2="589.37" y2="476.51" stroke="#2a18e0" stroke-width="1.15"/><line x1="589.23" y1="477.75" x2="589.37" y2="476.51" stroke="#7a1aa8" stroke-width="1.0"/><line x1="589.85" y1="479.71" x2="590.34" y2="475.87" stroke="#2a18e0" stroke-width="1.15"/><line x1="590.14" y1="477.41" x2="590.34" y2="475.87" stroke="#7a1aa8" stroke-width="1.0"/><text x="585.59" y="442.84" font-size="8.8" font-weight="bold" text-anchor="middle">15</text><path d="M596.54 447.74A96.2 96.2 0 0 1 612.44 451.61L609.45 460.52A86.8 86.8 0 0 0 595.1 457.03Z" fill="none" stroke="#444" stroke-width="1.6"/><path d="M595.1 457.03A86.8 86.8 0 0 1 609.45 460.52L602.06 482.51A63.6 63.6 0 0 0 591.55 479.95Z" fill="none" stroke="#444" stroke-width="1.5"/><path d="M594.57 460.48A83.3 83.3 0 0 1 608.33 463.84" fill="none" stroke="#444" stroke-width="1.5"/><path d="M594.84 458.75A85.05 85.05 0 0 1 608.89 462.18" fill="none" stroke="#666" stroke-width="2.0" stroke-dasharray="0.8,0.8"/><path d="M592.96 470.86A72.8 72.8 0 0 1 604.99 473.79" fill="none" stroke="#444" stroke-width="2.1"/><path d="M592.96 470.86A72.8 72.8 0 0 1 604.99 473.79" fill="none" stroke="#bbb" stroke-width="0.7" stroke-dasharray="0.7,0.9"/><circle cx="600.22" cy="456.42" r="0.55" fill="#2222ee"/><circle cx="595.82" cy="455.5" r="0.55" fill="#2222ee"/><circle cx="600.06" cy="456.56" r="0.55" fill="#2222ee"/><circle cx="600" cy="456.4" r="0.55" fill="#2222ee"/><circle cx="600.97" cy="456.79" r="0.55" fill="#2222ee"/><circle cx="600.26" cy="456.35" r="0.55" fill="#2222ee"/><circle cx="606.3" cy="458.65" r="0.55" fill="#2222ee"/><circle cx="606.27" cy="457.72" r="0.55" fill="#2222ee"/><circle cx="598.95" cy="456.87" r="0.55" fill="#2222ee"/><circle cx="608.64" cy="458.41" r="0.55" fill="#2222ee"/><circle cx="597.6" cy="455.89" r="0.55" fill="#2222ee"/><circle cx="608.37" cy="459.21" r="0.55" fill="#2222ee"/><circle cx="606.38" cy="458.56" r="0.55" fill="#2222ee"/><circle cx="606.54" cy="458.34" r="0.55" fill="#2222ee"/><circle cx="602.15" cy="457.65" r="0.55" fill="#2222ee"/><circle cx="603.86" cy="460.66" r="0.7" fill="#e02020"/><path d="M593.83 465.23A78.5 78.5 0 0 1 606.81 468.39" fill="none" stroke="#7a1a9a" stroke-width="3.4"/><path d="M594.14 463.25A80.5 80.5 0 0 1 607.44 466.49" fill="none" stroke="#3a1ae0" stroke-width="1.0"/><path d="M593.56 467.01A76.7 76.7 0 0 1 606.23 470.1" fill="none" stroke="#c0184a" stroke-width="0.8"/><line x1="594.6" y1="463.02" x2="594.66" y2="462.67" stroke="#3020e0" stroke-width="0.9"/><line x1="593.92" y1="467.27" x2="593.83" y2="467.84" stroke="#901a80" stroke-width="0.9"/><line x1="598.35" y1="463.71" x2="598.51" y2="462.93" stroke="#3020e0" stroke-width="0.9"/><line x1="603.28" y1="464.91" x2="603.37" y2="464.58" stroke="#3020e0" stroke-width="0.9"/><line x1="602.14" y1="469.05" x2="602.05" y2="469.36" stroke="#901a80" stroke-width="0.9"/><line x1="604.5" y1="465.25" x2="604.8" y2="464.23" stroke="#3020e0" stroke-width="0.9"/><line x1="603.29" y1="469.38" x2="603.13" y2="469.93" stroke="#901a80" stroke-width="0.9"/><line x1="605.72" y1="465.62" x2="605.94" y2="464.89" stroke="#3020e0" stroke-width="0.9"/><line x1="591.77" y1="479.99" x2="592.08" y2="477.99" stroke="#2a18e0" stroke-width="1.15"/><line x1="591.96" y1="478.79" x2="592.08" y2="477.99" stroke="#7a1aa8" stroke-width="1.0"/><line x1="592.59" y1="480.12" x2="593.39" y2="475.47" stroke="#2a18e0" stroke-width="1.15"/><line x1="593.07" y1="477.33" x2="593.39" y2="475.47" stroke="#7a1aa8" stroke-width="1.0"/><line x1="593.41" y1="480.27" x2="594.07" y2="476.7" stroke="#2a18e0" stroke-width="1.15"/><line x1="593.81" y1="478.13" x2="594.07" y2="476.7" stroke="#7a1aa8" stroke-width="1.0"/><line x1="594.23" y1="480.43" x2="594.27" y2="480.23" stroke="#2a18e0" stroke-width="1.15"/><line x1="594.25" y1="480.31" x2="594.27" y2="480.23" stroke="#7a1aa8" stroke-width="1.0"/><line x1="595.04" y1="480.59" x2="595.14" y2="480.14" stroke="#2a18e0" stroke-width="1.15"/><line x1="595.1" y1="480.32" x2="595.14" y2="480.14" stroke="#7a1aa8" stroke-width="1.0"/><line x1="595.85" y1="480.77" x2="596.43" y2="478.22" stroke="#2a18e0" stroke-width="1.15"/><line x1="596.2" y1="479.24" x2="596.43" y2="478.22" stroke="#7a1aa8" stroke-width="1.0"/><line x1="596.67" y1="480.96" x2="597.18" y2="478.82" stroke="#2a18e0" stroke-width="1.15"/><line x1="596.97" y1="479.67" x2="597.18" y2="478.82" stroke="#7a1aa8" stroke-width="1.0"/><line x1="597.47" y1="481.16" x2="597.97" y2="479.22" stroke="#2a18e0" stroke-width="1.15"/><line x1="597.77" y1="480" x2="597.97" y2="479.22" stroke="#7a1aa8" stroke-width="1.0"/><line x1="598.28" y1="481.37" x2="599.01" y2="478.64" stroke="#2a18e0" stroke-width="1.15"/><line x1="598.72" y1="479.74" x2="599.01" y2="478.64" stroke="#7a1aa8" stroke-width="1.0"/><line x1="599.08" y1="481.59" x2="599.74" y2="479.26" stroke="#2a18e0" stroke-width="1.15"/><line x1="599.48" y1="480.19" x2="599.74" y2="479.26" stroke="#7a1aa8" stroke-width="1.0"/><line x1="599.88" y1="481.82" x2="600.59" y2="479.44" stroke="#2a18e0" stroke-width="1.15"/><line x1="600.31" y1="480.39" x2="600.59" y2="479.44" stroke="#7a1aa8" stroke-width="1.0"/><line x1="600.68" y1="482.07" x2="601.98" y2="477.89" stroke="#2a18e0" stroke-width="1.15"/><line x1="601.46" y1="479.56" x2="601.98" y2="477.89" stroke="#7a1aa8" stroke-width="1.0"/><line x1="601.47" y1="482.32" x2="602.77" y2="478.32" stroke="#2a18e0" stroke-width="1.15"/><line x1="602.25" y1="479.92" x2="602.77" y2="478.32" stroke="#7a1aa8" stroke-width="1.0"/><text x="606.43" y="444.84" font-size="8.8" font-weight="bold" text-anchor="middle">16</text><path d="M614.31 452.26A96.2 96.2 0 0 1 627.74 458.28L623.25 466.53A86.8 86.8 0 0 0 611.13 461.11Z" fill="none" stroke="#444" stroke-width="1.6"/><path d="M611.13 461.11A86.8 86.8 0 0 1 623.25 466.53L612.17 486.92A63.6 63.6 0 0 0 603.29 482.94Z" fill="none" stroke="#444" stroke-width="1.5"/><path d="M609.95 464.4A83.3 83.3 0 0 1 621.58 469.61" fill="none" stroke="#444" stroke-width="1.5"/><path d="M610.54 462.75A85.05 85.05 0 0 1 622.41 468.07" fill="none" stroke="#666" stroke-width="2.0" stroke-dasharray="0.8,0.8"/><path d="M606.4 474.28A72.8 72.8 0 0 1 616.56 478.84" fill="none" stroke="#444" stroke-width="2.1"/><path d="M606.4 474.28A72.8 72.8 0 0 1 616.56 478.84" fill="none" stroke="#bbb" stroke-width="0.7" stroke-dasharray="0.7,0.9"/><circle cx="615.69" cy="461.11" r="0.55" fill="#2222ee"/><circle cx="622.77" cy="464.88" r="0.55" fill="#2222ee"/><circle cx="612.07" cy="460.7" r="0.55" fill="#2222ee"/><circle cx="620.9" cy="463.47" r="0.55" fill="#2222ee"/><circle cx="620.34" cy="463.68" r="0.55" fill="#2222ee"/><circle cx="618.05" cy="463.12" r="0.55" fill="#2222ee"/><circle cx="619.16" cy="462.46" r="0.55" fill="#2222ee"/><circle cx="614.43" cy="460.93" r="0.55" fill="#2222ee"/><circle cx="621.84" cy="464.23" r="0.55" fill="#2222ee"/><circle cx="615.94" cy="462.04" r="0.55" fill="#2222ee"/><circle cx="620.65" cy="463.27" r="0.55" fill="#2222ee"/><circle cx="622" cy="464.65" r="0.55" fill="#2222ee"/><circle cx="620.73" cy="463.46" r="0.55" fill="#2222ee"/><circle cx="616.47" cy="461.59" r="0.55" fill="#2222ee"/><circle cx="615.37" cy="464.66" r="0.7" fill="#e06010"/><path d="M608.33 468.92A78.5 78.5 0 0 1 619.28 473.83" fill="none" stroke="#7a1a9a" stroke-width="3.4"/><path d="M609.01 467.04A80.5 80.5 0 0 1 620.24 472.07" fill="none" stroke="#3a1ae0" stroke-width="1.0"/><path d="M607.72 470.61A76.7 76.7 0 0 1 618.42 475.41" fill="none" stroke="#c0184a" stroke-width="0.8"/><line x1="608.03" y1="470.94" x2="607.79" y2="471.6" stroke="#901a80" stroke-width="0.9"/><line x1="611.88" y1="467.81" x2="612.04" y2="467.4" stroke="#3020e0" stroke-width="0.9"/><line x1="613.05" y1="468.29" x2="613.3" y2="467.69" stroke="#3020e0" stroke-width="0.9"/><line x1="611.39" y1="472.25" x2="611.12" y2="472.9" stroke="#901a80" stroke-width="0.9"/><line x1="614.22" y1="468.79" x2="614.84" y2="467.35" stroke="#3020e0" stroke-width="0.9"/><line x1="614.68" y1="473.72" x2="614.43" y2="474.25" stroke="#901a80" stroke-width="0.9"/><line x1="615.76" y1="474.25" x2="615.28" y2="475.21" stroke="#901a80" stroke-width="0.9"/><line x1="616.83" y1="474.79" x2="616.47" y2="475.49" stroke="#901a80" stroke-width="0.9"/><line x1="617.89" y1="475.35" x2="617.69" y2="475.72" stroke="#901a80" stroke-width="0.9"/><line x1="603.5" y1="483.02" x2="603.7" y2="482.46" stroke="#2a18e0" stroke-width="1.15"/><line x1="603.62" y1="482.68" x2="603.7" y2="482.46" stroke="#7a1aa8" stroke-width="1.0"/><line x1="604.28" y1="483.31" x2="605.47" y2="480.16" stroke="#2a18e0" stroke-width="1.15"/><line x1="605" y1="481.42" x2="605.47" y2="480.16" stroke="#7a1aa8" stroke-width="1.0"/><line x1="605.06" y1="483.61" x2="605.3" y2="483" stroke="#2a18e0" stroke-width="1.15"/><line x1="605.2" y1="483.24" x2="605.3" y2="483" stroke="#7a1aa8" stroke-width="1.0"/><line x1="605.83" y1="483.92" x2="606.93" y2="481.22" stroke="#2a18e0" stroke-width="1.15"/><line x1="606.49" y1="482.3" x2="606.93" y2="481.22" stroke="#7a1aa8" stroke-width="1.0"/><line x1="606.6" y1="484.24" x2="607.74" y2="481.54" stroke="#2a18e0" stroke-width="1.15"/><line x1="607.29" y1="482.62" x2="607.74" y2="481.54" stroke="#7a1aa8" stroke-width="1.0"/><line x1="607.37" y1="484.56" x2="609.33" y2="480.1" stroke="#2a18e0" stroke-width="1.15"/><line x1="608.54" y1="481.89" x2="609.33" y2="480.1" stroke="#7a1aa8" stroke-width="1.0"/><line x1="608.13" y1="484.9" x2="609.55" y2="481.76" stroke="#2a18e0" stroke-width="1.15"/><line x1="608.98" y1="483.02" x2="609.55" y2="481.76" stroke="#7a1aa8" stroke-width="1.0"/><line x1="608.88" y1="485.25" x2="610.15" y2="482.57" stroke="#2a18e0" stroke-width="1.15"/><line x1="609.64" y1="483.64" x2="610.15" y2="482.57" stroke="#7a1aa8" stroke-width="1.0"/><line x1="609.63" y1="485.61" x2="609.73" y2="485.42" stroke="#2a18e0" stroke-width="1.15"/><line x1="609.69" y1="485.5" x2="609.73" y2="485.42" stroke="#7a1aa8" stroke-width="1.0"/><line x1="610.38" y1="485.98" x2="610.56" y2="485.63" stroke="#2a18e0" stroke-width="1.15"/><line x1="610.48" y1="485.77" x2="610.56" y2="485.63" stroke="#7a1aa8" stroke-width="1.0"/><line x1="611.12" y1="486.36" x2="611.35" y2="485.92" stroke="#2a18e0" stroke-width="1.15"/><line x1="611.26" y1="486.1" x2="611.35" y2="485.92" stroke="#7a1aa8" stroke-width="1.0"/><line x1="611.86" y1="486.75" x2="613.17" y2="484.3" stroke="#2a18e0" stroke-width="1.15"/><line x1="612.65" y1="485.28" x2="613.17" y2="484.3" stroke="#7a1aa8" stroke-width="1.0"/><text x="624.61" y="450.37" font-size="8.8" font-weight="bold" text-anchor="middle">17</text><path d="M629.46 459.24A96.2 96.2 0 0 1 641.2 467.13L635.4 474.53A86.8 86.8 0 0 0 624.81 467.4Z" fill="none" stroke="#444" stroke-width="1.6"/><path d="M624.81 467.4A86.8 86.8 0 0 1 635.4 474.53L621.07 492.77A63.6 63.6 0 0 0 613.31 487.56Z" fill="none" stroke="#444" stroke-width="1.5"/><path d="M623.07 470.44A83.3 83.3 0 0 1 633.24 477.28" fill="none" stroke="#444" stroke-width="1.5"/><path d="M623.94 468.92A85.05 85.05 0 0 1 634.32 475.9" fill="none" stroke="#666" stroke-width="2.0" stroke-dasharray="0.8,0.8"/><path d="M617.87 479.56A72.8 72.8 0 0 1 626.75 485.54" fill="none" stroke="#444" stroke-width="2.1"/><path d="M617.87 479.56A72.8 72.8 0 0 1 626.75 485.54" fill="none" stroke="#bbb" stroke-width="0.7" stroke-dasharray="0.7,0.9"/><circle cx="631.56" cy="470.49" r="0.55" fill="#2222ee"/><circle cx="628.69" cy="468.51" r="0.55" fill="#2222ee"/><circle cx="627.63" cy="468.15" r="0.55" fill="#2222ee"/><circle cx="625.75" cy="466.68" r="0.55" fill="#2222ee"/><circle cx="634.22" cy="471.62" r="0.55" fill="#2222ee"/><circle cx="631.89" cy="470.61" r="0.55" fill="#2222ee"/><circle cx="633.66" cy="472.11" r="0.55" fill="#2222ee"/><circle cx="633.77" cy="471.94" r="0.55" fill="#2222ee"/><circle cx="626.05" cy="467.07" r="0.55" fill="#2222ee"/><circle cx="632.66" cy="471.37" r="0.55" fill="#2222ee"/><circle cx="632.88" cy="470.98" r="0.55" fill="#2222ee"/><circle cx="626.17" cy="467.03" r="0.55" fill="#2222ee"/><circle cx="631.93" cy="469.89" r="0.55" fill="#2222ee"/><circle cx="625.3" cy="469.71" r="0.7" fill="#111"/><path d="M620.69 474.61A78.5 78.5 0 0 1 630.27 481.06" fill="none" stroke="#7a1a9a" stroke-width="3.4"/><path d="M621.68 472.88A80.5 80.5 0 0 1 631.51 479.48" fill="none" stroke="#3a1ae0" stroke-width="1.0"/><path d="M619.8 476.18A76.7 76.7 0 0 1 629.16 482.47" fill="none" stroke="#c0184a" stroke-width="0.8"/><line x1="620.05" y1="476.55" x2="619.64" y2="477.26" stroke="#901a80" stroke-width="0.9"/><line x1="623.13" y1="478.42" x2="622.85" y2="478.86" stroke="#901a80" stroke-width="0.9"/><line x1="626.51" y1="475.5" x2="627.07" y2="474.67" stroke="#3020e0" stroke-width="0.9"/><line x1="627.57" y1="476.21" x2="628.2" y2="475.28" stroke="#3020e0" stroke-width="0.9"/><line x1="625.13" y1="479.75" x2="624.72" y2="480.35" stroke="#901a80" stroke-width="0.9"/><line x1="628.61" y1="476.94" x2="629.14" y2="476.19" stroke="#3020e0" stroke-width="0.9"/><line x1="626.12" y1="480.44" x2="625.34" y2="481.53" stroke="#901a80" stroke-width="0.9"/><line x1="629.63" y1="477.68" x2="630.45" y2="476.57" stroke="#3020e0" stroke-width="0.9"/><line x1="630.65" y1="478.44" x2="631.49" y2="477.33" stroke="#3020e0" stroke-width="0.9"/><line x1="628.05" y1="481.87" x2="627.53" y2="482.56" stroke="#901a80" stroke-width="0.9"/><line x1="613.5" y1="487.67" x2="615.98" y2="483.35" stroke="#2a18e0" stroke-width="1.15"/><line x1="614.99" y1="485.08" x2="615.98" y2="483.35" stroke="#7a1aa8" stroke-width="1.0"/><line x1="614.22" y1="488.09" x2="614.84" y2="487.05" stroke="#2a18e0" stroke-width="1.15"/><line x1="614.59" y1="487.46" x2="614.84" y2="487.05" stroke="#7a1aa8" stroke-width="1.0"/><line x1="614.94" y1="488.51" x2="617.44" y2="484.41" stroke="#2a18e0" stroke-width="1.15"/><line x1="616.44" y1="486.05" x2="617.44" y2="484.41" stroke="#7a1aa8" stroke-width="1.0"/><line x1="615.64" y1="488.95" x2="615.91" y2="488.53" stroke="#2a18e0" stroke-width="1.15"/><line x1="615.8" y1="488.7" x2="615.91" y2="488.53" stroke="#7a1aa8" stroke-width="1.0"/><line x1="616.35" y1="489.4" x2="617.47" y2="487.66" stroke="#2a18e0" stroke-width="1.15"/><line x1="617.02" y1="488.35" x2="617.47" y2="487.66" stroke="#7a1aa8" stroke-width="1.0"/><line x1="617.04" y1="489.86" x2="618" y2="488.42" stroke="#2a18e0" stroke-width="1.15"/><line x1="617.61" y1="489" x2="618" y2="488.42" stroke="#7a1aa8" stroke-width="1.0"/><line x1="617.73" y1="490.32" x2="617.96" y2="489.98" stroke="#2a18e0" stroke-width="1.15"/><line x1="617.87" y1="490.12" x2="617.96" y2="489.98" stroke="#7a1aa8" stroke-width="1.0"/><line x1="618.42" y1="490.8" x2="620.59" y2="487.71" stroke="#2a18e0" stroke-width="1.15"/><line x1="619.72" y1="488.95" x2="620.59" y2="487.71" stroke="#7a1aa8" stroke-width="1.0"/><line x1="619.09" y1="491.28" x2="620.9" y2="488.79" stroke="#2a18e0" stroke-width="1.15"/><line x1="620.18" y1="489.79" x2="620.9" y2="488.79" stroke="#7a1aa8" stroke-width="1.0"/><line x1="619.76" y1="491.77" x2="621" y2="490.11" stroke="#2a18e0" stroke-width="1.15"/><line x1="620.51" y1="490.77" x2="621" y2="490.11" stroke="#7a1aa8" stroke-width="1.0"/><line x1="620.43" y1="492.28" x2="622.56" y2="489.49" stroke="#2a18e0" stroke-width="1.15"/><line x1="621.71" y1="490.6" x2="622.56" y2="489.49" stroke="#7a1aa8" stroke-width="1.0"/><text x="640.47" y="458.64" font-size="8.8" font-weight="bold" text-anchor="middle">18</text><path d="M642.75 468.37A96.2 96.2 0 0 1 650.64 475.61L643.92 482.17A86.8 86.8 0 0 0 636.79 475.64Z" fill="none" stroke="#444" stroke-width="1.6"/><path d="M636.79 475.64A86.8 86.8 0 0 1 643.92 482.17L627.31 498.38A63.6 63.6 0 0 0 622.09 493.59Z" fill="none" stroke="#444" stroke-width="1.5"/><path d="M634.58 478.35A83.3 83.3 0 0 1 641.41 484.62" fill="none" stroke="#444" stroke-width="1.5"/><path d="M635.68 477A85.05 85.05 0 0 1 642.67 483.4" fill="none" stroke="#666" stroke-width="2.0" stroke-dasharray="0.8,0.8"/><path d="M627.92 486.47A72.8 72.8 0 0 1 633.9 491.95" fill="none" stroke="#444" stroke-width="2.1"/><path d="M627.92 486.47A72.8 72.8 0 0 1 633.9 491.95" fill="none" stroke="#bbb" stroke-width="0.7" stroke-dasharray="0.7,0.9"/><circle cx="644" cy="480.92" r="0.55" fill="#2222ee"/><circle cx="639.09" cy="476" r="0.55" fill="#2222ee"/><circle cx="641.88" cy="478.52" r="0.55" fill="#2222ee"/><circle cx="643.65" cy="480.71" r="0.55" fill="#2222ee"/><circle cx="641.29" cy="478" r="0.55" fill="#2222ee"/><circle cx="639.22" cy="476.18" r="0.55" fill="#2222ee"/><circle cx="640.84" cy="477.75" r="0.55" fill="#2222ee"/><circle cx="643.43" cy="479.17" r="0.55" fill="#2222ee"/><circle cx="644.02" cy="481.05" r="0.55" fill="#2222ee"/><circle cx="640.77" cy="476.76" r="0.55" fill="#2222ee"/><circle cx="636.76" cy="477.9" r="0.7" fill="#e02020"/><path d="M631.53 482.06A78.5 78.5 0 0 1 637.98 487.97" fill="none" stroke="#7a1a9a" stroke-width="3.4"/><path d="M632.8 480.52A80.5 80.5 0 0 1 639.41 486.57" fill="none" stroke="#3a1ae0" stroke-width="1.0"/><path d="M630.39 483.46A76.7 76.7 0 0 1 636.69 489.23" fill="none" stroke="#c0184a" stroke-width="0.8"/><line x1="630.58" y1="483.87" x2="629.76" y2="484.85" stroke="#901a80" stroke-width="0.9"/><line x1="635.25" y1="482.2" x2="635.65" y2="481.74" stroke="#3020e0" stroke-width="0.9"/><line x1="636.19" y1="483.05" x2="637.14" y2="482.01" stroke="#3020e0" stroke-width="0.9"/><line x1="633.3" y1="486.23" x2="633.04" y2="486.51" stroke="#901a80" stroke-width="0.9"/><line x1="637.12" y1="483.91" x2="638.19" y2="482.78" stroke="#3020e0" stroke-width="0.9"/><line x1="638.95" y1="485.68" x2="639.82" y2="484.8" stroke="#3020e0" stroke-width="0.9"/><line x1="622.27" y1="493.73" x2="624.35" y2="491.21" stroke="#2a18e0" stroke-width="1.15"/><line x1="623.51" y1="492.22" x2="624.35" y2="491.21" stroke="#7a1aa8" stroke-width="1.0"/><line x1="622.9" y1="494.27" x2="625.75" y2="490.9" stroke="#2a18e0" stroke-width="1.15"/><line x1="624.61" y1="492.25" x2="625.75" y2="490.9" stroke="#7a1aa8" stroke-width="1.0"/><line x1="623.54" y1="494.81" x2="625.18" y2="492.92" stroke="#2a18e0" stroke-width="1.15"/><line x1="624.52" y1="493.68" x2="625.18" y2="492.92" stroke="#7a1aa8" stroke-width="1.0"/><line x1="624.16" y1="495.36" x2="626.63" y2="492.6" stroke="#2a18e0" stroke-width="1.15"/><line x1="625.64" y1="493.7" x2="626.63" y2="492.6" stroke="#7a1aa8" stroke-width="1.0"/><line x1="624.78" y1="495.92" x2="627.26" y2="493.21" stroke="#2a18e0" stroke-width="1.15"/><line x1="626.27" y1="494.29" x2="627.26" y2="493.21" stroke="#7a1aa8" stroke-width="1.0"/><line x1="625.39" y1="496.49" x2="628.29" y2="493.4" stroke="#2a18e0" stroke-width="1.15"/><line x1="627.13" y1="494.63" x2="628.29" y2="493.4" stroke="#7a1aa8" stroke-width="1.0"/><line x1="625.99" y1="497.06" x2="627.15" y2="495.86" stroke="#2a18e0" stroke-width="1.15"/><line x1="626.69" y1="496.34" x2="627.15" y2="495.86" stroke="#7a1aa8" stroke-width="1.0"/><line x1="626.59" y1="497.64" x2="628.31" y2="495.9" stroke="#2a18e0" stroke-width="1.15"/><line x1="627.62" y1="496.6" x2="628.31" y2="495.9" stroke="#7a1aa8" stroke-width="1.0"/><text x="653.04" y="468.17" font-size="8.8" font-weight="bold" text-anchor="middle">19</text><path d="M652.01 477.04A96.2 96.2 0 0 1 659.31 485.82L651.73 491.39A86.8 86.8 0 0 0 645.15 483.46Z" fill="none" stroke="#444" stroke-width="1.6"/><path d="M645.15 483.46A86.8 86.8 0 0 1 651.73 491.39L633.04 505.13A63.6 63.6 0 0 0 628.22 499.32Z" fill="none" stroke="#444" stroke-width="1.5"/><path d="M642.6 485.86A83.3 83.3 0 0 1 648.91 493.46" fill="none" stroke="#444" stroke-width="1.5"/><path d="M643.87 484.66A85.05 85.05 0 0 1 650.32 492.42" fill="none" stroke="#666" stroke-width="2.0" stroke-dasharray="0.8,0.8"/><path d="M634.93 493.03A72.8 72.8 0 0 1 640.45 499.68" fill="none" stroke="#444" stroke-width="2.1"/><path d="M634.93 493.03A72.8 72.8 0 0 1 640.45 499.68" fill="none" stroke="#bbb" stroke-width="0.7" stroke-dasharray="0.7,0.9"/><circle cx="647.25" cy="483.19" r="0.55" fill="#2222ee"/><circle cx="647.23" cy="484.43" r="0.55" fill="#2222ee"/><circle cx="651.99" cy="490.51" r="0.55" fill="#2222ee"/><circle cx="651.1" cy="489.47" r="0.55" fill="#2222ee"/><circle cx="648.07" cy="484.02" r="0.55" fill="#2222ee"/><circle cx="649.33" cy="485.98" r="0.55" fill="#2222ee"/><circle cx="648.33" cy="485.02" r="0.55" fill="#2222ee"/><circle cx="646.39" cy="483.48" r="0.55" fill="#2222ee"/><circle cx="650.69" cy="487.63" r="0.55" fill="#2222ee"/><circle cx="649.48" cy="486.05" r="0.55" fill="#2222ee"/><circle cx="645.39" cy="486.33" r="0.7" fill="#111"/><path d="M639.09 489.14A78.5 78.5 0 0 1 645.05 496.3" fill="none" stroke="#7a1a9a" stroke-width="3.4"/><path d="M640.55 487.77A80.5 80.5 0 0 1 646.66 495.12" fill="none" stroke="#3a1ae0" stroke-width="1.0"/><path d="M637.78 490.37A76.7 76.7 0 0 1 643.6 497.37" fill="none" stroke="#c0184a" stroke-width="0.8"/><line x1="641.06" y1="487.87" x2="641.46" y2="487.5" stroke="#3020e0" stroke-width="0.9"/><line x1="641.92" y1="488.81" x2="642.83" y2="487.99" stroke="#3020e0" stroke-width="0.9"/><line x1="639.51" y1="492.58" x2="639.15" y2="492.9" stroke="#901a80" stroke-width="0.9"/><line x1="640.29" y1="493.5" x2="639.27" y2="494.36" stroke="#901a80" stroke-width="0.9"/><line x1="645.19" y1="492.69" x2="646.02" y2="492.03" stroke="#3020e0" stroke-width="0.9"/><line x1="641.81" y1="495.36" x2="641.23" y2="495.82" stroke="#901a80" stroke-width="0.9"/><line x1="645.97" y1="493.69" x2="646.51" y2="493.28" stroke="#3020e0" stroke-width="0.9"/><line x1="642.55" y1="496.31" x2="642.14" y2="496.62" stroke="#901a80" stroke-width="0.9"/><line x1="628.37" y1="499.48" x2="631.49" y2="496.58" stroke="#2a18e0" stroke-width="1.15"/><line x1="630.24" y1="497.74" x2="631.49" y2="496.58" stroke="#7a1aa8" stroke-width="1.0"/><line x1="628.93" y1="500.1" x2="631.25" y2="498" stroke="#2a18e0" stroke-width="1.15"/><line x1="630.32" y1="498.84" x2="631.25" y2="498" stroke="#7a1aa8" stroke-width="1.0"/><line x1="629.49" y1="500.72" x2="629.89" y2="500.36" stroke="#2a18e0" stroke-width="1.15"/><line x1="629.73" y1="500.51" x2="629.89" y2="500.36" stroke="#7a1aa8" stroke-width="1.0"/><line x1="630.03" y1="501.35" x2="631.76" y2="499.87" stroke="#2a18e0" stroke-width="1.15"/><line x1="631.07" y1="500.46" x2="631.76" y2="499.87" stroke="#7a1aa8" stroke-width="1.0"/><line x1="630.57" y1="501.98" x2="632.72" y2="500.19" stroke="#2a18e0" stroke-width="1.15"/><line x1="631.86" y1="500.9" x2="632.72" y2="500.19" stroke="#7a1aa8" stroke-width="1.0"/><line x1="631.1" y1="502.62" x2="632.99" y2="501.08" stroke="#2a18e0" stroke-width="1.15"/><line x1="632.24" y1="501.7" x2="632.99" y2="501.08" stroke="#7a1aa8" stroke-width="1.0"/><line x1="631.62" y1="503.27" x2="632.89" y2="502.26" stroke="#2a18e0" stroke-width="1.15"/><line x1="632.39" y1="502.67" x2="632.89" y2="502.26" stroke="#7a1aa8" stroke-width="1.0"/><line x1="632.14" y1="503.93" x2="633.87" y2="502.59" stroke="#2a18e0" stroke-width="1.15"/><line x1="633.18" y1="503.12" x2="633.87" y2="502.59" stroke="#7a1aa8" stroke-width="1.0"/><line x1="632.64" y1="504.59" x2="636.37" y2="501.79" stroke="#2a18e0" stroke-width="1.15"/><line x1="634.88" y1="502.91" x2="636.37" y2="501.79" stroke="#7a1aa8" stroke-width="1.0"/><text x="663.01" y="478.42" font-size="8.8" font-weight="bold" text-anchor="middle">20</text><path d="M660.46 487.42A96.2 96.2 0 0 1 665.15 494.77L657.01 499.47A86.8 86.8 0 0 0 652.78 492.83Z" fill="none" stroke="#444" stroke-width="1.6"/><path d="M652.78 492.83A86.8 86.8 0 0 1 657.01 499.47L636.91 511.05A63.6 63.6 0 0 0 633.81 506.19Z" fill="none" stroke="#444" stroke-width="1.5"/><path d="M649.91 494.85A83.3 83.3 0 0 1 653.98 501.21" fill="none" stroke="#444" stroke-width="1.5"/><path d="M651.35 493.84A85.05 85.05 0 0 1 655.49 500.34" fill="none" stroke="#666" stroke-width="2.0" stroke-dasharray="0.8,0.8"/><path d="M641.33 500.89A72.8 72.8 0 0 1 644.88 506.46" fill="none" stroke="#444" stroke-width="2.1"/><path d="M641.33 500.89A72.8 72.8 0 0 1 644.88 506.46" fill="none" stroke="#bbb" stroke-width="0.7" stroke-dasharray="0.7,0.9"/><circle cx="656.25" cy="494.99" r="0.55" fill="#2222ee"/><circle cx="654.95" cy="492.84" r="0.55" fill="#2222ee"/><circle cx="655.01" cy="493.7" r="0.55" fill="#2222ee"/><circle cx="655.71" cy="494.26" r="0.55" fill="#2222ee"/><circle cx="656.96" cy="496.7" r="0.55" fill="#2222ee"/><circle cx="655.53" cy="494.12" r="0.55" fill="#2222ee"/><circle cx="654.38" cy="494.06" r="0.55" fill="#2222ee"/><circle cx="655.1" cy="495.1" r="0.55" fill="#2222ee"/><circle cx="654.62" cy="498.86" r="0.7" fill="#109090"/><path d="M645.99 497.61A78.5 78.5 0 0 1 649.82 503.61" fill="none" stroke="#7a1a9a" stroke-width="3.4"/><path d="M647.63 496.46A80.5 80.5 0 0 1 651.55 502.61" fill="none" stroke="#3a1ae0" stroke-width="1.0"/><path d="M644.52 498.65A76.7 76.7 0 0 1 648.26 504.51" fill="none" stroke="#c0184a" stroke-width="0.8"/><line x1="648.11" y1="496.63" x2="648.55" y2="496.33" stroke="#3020e0" stroke-width="0.9"/><line x1="648.83" y1="497.68" x2="649.36" y2="497.33" stroke="#3020e0" stroke-width="0.9"/><line x1="645.93" y1="501.09" x2="645.52" y2="501.35" stroke="#901a80" stroke-width="0.9"/><line x1="650.21" y1="499.81" x2="651.25" y2="499.16" stroke="#3020e0" stroke-width="0.9"/><line x1="633.93" y1="506.37" x2="636.93" y2="504.28" stroke="#2a18e0" stroke-width="1.15"/><line x1="635.73" y1="505.11" x2="636.93" y2="504.28" stroke="#7a1aa8" stroke-width="1.0"/><line x1="634.41" y1="507.06" x2="635.79" y2="506.12" stroke="#2a18e0" stroke-width="1.15"/><line x1="635.23" y1="506.49" x2="635.79" y2="506.12" stroke="#7a1aa8" stroke-width="1.0"/><line x1="634.87" y1="507.75" x2="638.1" y2="505.61" stroke="#2a18e0" stroke-width="1.15"/><line x1="636.81" y1="506.47" x2="638.1" y2="505.61" stroke="#7a1aa8" stroke-width="1.0"/><line x1="635.32" y1="508.45" x2="637.19" y2="507.25" stroke="#2a18e0" stroke-width="1.15"/><line x1="636.44" y1="507.73" x2="637.19" y2="507.25" stroke="#7a1aa8" stroke-width="1.0"/><line x1="635.77" y1="509.15" x2="636.87" y2="508.46" stroke="#2a18e0" stroke-width="1.15"/><line x1="636.43" y1="508.74" x2="636.87" y2="508.46" stroke="#7a1aa8" stroke-width="1.0"/><line x1="636.2" y1="509.86" x2="638.6" y2="508.41" stroke="#2a18e0" stroke-width="1.15"/><line x1="637.64" y1="508.99" x2="638.6" y2="508.41" stroke="#7a1aa8" stroke-width="1.0"/><line x1="636.63" y1="510.57" x2="640.46" y2="508.32" stroke="#2a18e0" stroke-width="1.15"/><line x1="638.93" y1="509.22" x2="640.46" y2="508.32" stroke="#7a1aa8" stroke-width="1.0"/><text x="670.84" y="489.07" font-size="8.8" font-weight="bold" text-anchor="middle">21</text><path d="M666.12 496.5A96.2 96.2 0 0 1 670.2 504.85L661.56 508.56A86.8 86.8 0 0 0 657.88 501.02Z" fill="none" stroke="#444" stroke-width="1.6"/><path d="M657.88 501.02A86.8 86.8 0 0 1 661.56 508.56L640.24 517.71A63.6 63.6 0 0 0 637.55 512.19Z" fill="none" stroke="#444" stroke-width="1.5"/><path d="M654.82 502.71A83.3 83.3 0 0 1 658.35 509.94" fill="none" stroke="#444" stroke-width="1.5"/><path d="M656.35 501.86A85.05 85.05 0 0 1 659.95 509.25" fill="none" stroke="#666" stroke-width="2.0" stroke-dasharray="0.8,0.8"/><path d="M645.61 507.76A72.8 72.8 0 0 1 648.7 514.08" fill="none" stroke="#444" stroke-width="2.1"/><path d="M645.61 507.76A72.8 72.8 0 0 1 648.7 514.08" fill="none" stroke="#bbb" stroke-width="0.7" stroke-dasharray="0.7,0.9"/><circle cx="659.84" cy="500.94" r="0.55" fill="#2222ee"/><circle cx="660.26" cy="501.74" r="0.55" fill="#2222ee"/><circle cx="662.13" cy="507.7" r="0.55" fill="#2222ee"/><circle cx="659.81" cy="503" r="0.55" fill="#2222ee"/><circle cx="662.49" cy="506.92" r="0.55" fill="#2222ee"/><circle cx="662.72" cy="507.28" r="0.55" fill="#2222ee"/><circle cx="660.71" cy="503.12" r="0.55" fill="#2222ee"/><circle cx="660.23" cy="503.34" r="0.55" fill="#2222ee"/><circle cx="658.02" cy="505.07" r="0.7" fill="#109090"/><path d="M650.61 505.02A78.5 78.5 0 0 1 653.94 511.84" fill="none" stroke="#7a1a9a" stroke-width="3.4"/><path d="M652.36 504.05A80.5 80.5 0 0 1 655.77 511.05" fill="none" stroke="#3a1ae0" stroke-width="1.0"/><path d="M649.03 505.88A76.7 76.7 0 0 1 652.28 512.55" fill="none" stroke="#c0184a" stroke-width="0.8"/><line x1="653.42" y1="505.4" x2="653.73" y2="505.24" stroke="#3020e0" stroke-width="0.9"/><line x1="654.56" y1="507.67" x2="655.86" y2="507.04" stroke="#3020e0" stroke-width="0.9"/><line x1="651.7" y1="511.72" x2="650.94" y2="512.06" stroke="#901a80" stroke-width="0.9"/><line x1="637.65" y1="512.38" x2="638.12" y2="512.13" stroke="#2a18e0" stroke-width="1.15"/><line x1="637.93" y1="512.23" x2="638.12" y2="512.13" stroke="#7a1aa8" stroke-width="1.0"/><line x1="638.05" y1="513.12" x2="639.35" y2="512.43" stroke="#2a18e0" stroke-width="1.15"/><line x1="638.83" y1="512.7" x2="639.35" y2="512.43" stroke="#7a1aa8" stroke-width="1.0"/><line x1="638.43" y1="513.86" x2="641.85" y2="512.11" stroke="#2a18e0" stroke-width="1.15"/><line x1="640.48" y1="512.81" x2="641.85" y2="512.11" stroke="#7a1aa8" stroke-width="1.0"/><line x1="638.81" y1="514.6" x2="639.23" y2="514.39" stroke="#2a18e0" stroke-width="1.15"/><line x1="639.06" y1="514.47" x2="639.23" y2="514.39" stroke="#7a1aa8" stroke-width="1.0"/><line x1="639.17" y1="515.35" x2="641.57" y2="514.2" stroke="#2a18e0" stroke-width="1.15"/><line x1="640.61" y1="514.66" x2="641.57" y2="514.2" stroke="#7a1aa8" stroke-width="1.0"/><line x1="639.52" y1="516.1" x2="640.35" y2="515.72" stroke="#2a18e0" stroke-width="1.15"/><line x1="640.02" y1="515.87" x2="640.35" y2="515.72" stroke="#7a1aa8" stroke-width="1.0"/><line x1="639.87" y1="516.86" x2="642.71" y2="515.59" stroke="#2a18e0" stroke-width="1.15"/><line x1="641.57" y1="516.1" x2="642.71" y2="515.59" stroke="#7a1aa8" stroke-width="1.0"/><text x="676.7" y="499.61" font-size="8.8" font-weight="bold" text-anchor="middle">22</text><path d="M670.96 506.68A96.2 96.2 0 0 1 677.59 533.95L668.23 534.81A86.8 86.8 0 0 0 662.25 510.21Z" fill="none" stroke="#444" stroke-width="1.6"/><path d="M662.25 510.21A86.8 86.8 0 0 1 668.23 534.81L645.13 536.95A63.6 63.6 0 0 0 640.75 518.92Z" fill="none" stroke="#444" stroke-width="1.5"/><path d="M659.01 511.52A83.3 83.3 0 0 1 664.75 535.13" fill="none" stroke="#444" stroke-width="1.5"/><path d="M660.63 510.87A85.05 85.05 0 0 1 666.49 534.97" fill="none" stroke="#666" stroke-width="2.0" stroke-dasharray="0.8,0.8"/><path d="M649.27 515.47A72.8 72.8 0 0 1 654.29 536.1" fill="none" stroke="#444" stroke-width="2.1"/><path d="M649.27 515.47A72.8 72.8 0 0 1 654.29 536.1" fill="none" stroke="#bbb" stroke-width="0.7" stroke-dasharray="0.7,0.9"/><circle cx="664.03" cy="511.12" r="0.55" fill="#2222ee"/><circle cx="665.93" cy="517" r="0.55" fill="#2222ee"/><circle cx="664.55" cy="512.68" r="0.55" fill="#2222ee"/><circle cx="669.15" cy="529.04" r="0.55" fill="#2222ee"/><circle cx="667.11" cy="523.05" r="0.55" fill="#2222ee"/><circle cx="669.12" cy="532.58" r="0.55" fill="#2222ee"/><circle cx="664.2" cy="510.79" r="0.55" fill="#2222ee"/><circle cx="668.08" cy="526.79" r="0.55" fill="#2222ee"/><circle cx="667.7" cy="525.79" r="0.55" fill="#2222ee"/><circle cx="665.57" cy="517.78" r="0.55" fill="#2222ee"/><circle cx="664.72" cy="513.34" r="0.55" fill="#2222ee"/><circle cx="666.97" cy="520.46" r="0.55" fill="#2222ee"/><circle cx="669.7" cy="531.72" r="0.55" fill="#2222ee"/><circle cx="666.59" cy="518.4" r="0.55" fill="#2222ee"/><circle cx="667.36" cy="520.99" r="0.55" fill="#2222ee"/><circle cx="667.82" cy="526.71" r="0.55" fill="#2222ee"/><circle cx="667.75" cy="525.35" r="0.55" fill="#2222ee"/><circle cx="666.01" cy="516.46" r="0.55" fill="#2222ee"/><circle cx="664.88" cy="515.3" r="0.55" fill="#2222ee"/><circle cx="664.47" cy="514.18" r="0.55" fill="#2222ee"/><circle cx="665.68" cy="517.83" r="0.55" fill="#2222ee"/><circle cx="665.33" cy="513.5" r="0.55" fill="#2222ee"/><circle cx="668.87" cy="531.11" r="0.55" fill="#2222ee"/><circle cx="667.33" cy="523.66" r="0.55" fill="#2222ee"/><circle cx="667.43" cy="524.16" r="0.55" fill="#2222ee"/><circle cx="667.83" cy="526.97" r="0.55" fill="#2222ee"/><circle cx="665.88" cy="529.98" r="0.7" fill="#e02020"/><circle cx="665.25" cy="526.38" r="0.7" fill="#e06010"/><path d="M654.56 513.33A78.5 78.5 0 0 1 659.97 535.58" fill="none" stroke="#7a1a9a" stroke-width="3.4"/><path d="M656.41 512.57A80.5 80.5 0 0 1 661.96 535.39" fill="none" stroke="#3a1ae0" stroke-width="1.0"/><path d="M652.89 514A76.7 76.7 0 0 1 658.17 535.74" fill="none" stroke="#c0184a" stroke-width="0.8"/><line x1="652.85" y1="514.45" x2="652.42" y2="514.62" stroke="#901a80" stroke-width="0.9"/><line x1="657.31" y1="514.04" x2="658.13" y2="513.72" stroke="#3020e0" stroke-width="0.9"/><line x1="658.17" y1="516.42" x2="658.51" y2="516.31" stroke="#3020e0" stroke-width="0.9"/><line x1="658.58" y1="517.63" x2="659.69" y2="517.26" stroke="#3020e0" stroke-width="0.9"/><line x1="654.49" y1="518.97" x2="654.18" y2="519.07" stroke="#901a80" stroke-width="0.9"/><line x1="658.96" y1="518.84" x2="660.36" y2="518.4" stroke="#3020e0" stroke-width="0.9"/><line x1="659.33" y1="520.05" x2="660.83" y2="519.61" stroke="#3020e0" stroke-width="0.9"/><line x1="660.32" y1="523.73" x2="661.47" y2="523.45" stroke="#3020e0" stroke-width="0.9"/><line x1="656.67" y1="527.09" x2="655.83" y2="527.26" stroke="#901a80" stroke-width="0.9"/><line x1="661.13" y1="527.45" x2="662.37" y2="527.21" stroke="#3020e0" stroke-width="0.9"/><line x1="656.91" y1="528.26" x2="655.88" y2="528.46" stroke="#901a80" stroke-width="0.9"/><line x1="662.09" y1="533.72" x2="663" y2="533.62" stroke="#3020e0" stroke-width="0.9"/><line x1="640.83" y1="519.13" x2="644.05" y2="517.83" stroke="#2a18e0" stroke-width="1.15"/><line x1="642.76" y1="518.35" x2="644.05" y2="517.83" stroke="#7a1aa8" stroke-width="1.0"/><line x1="641.13" y1="519.9" x2="641.95" y2="519.58" stroke="#2a18e0" stroke-width="1.15"/><line x1="641.63" y1="519.71" x2="641.95" y2="519.58" stroke="#7a1aa8" stroke-width="1.0"/><line x1="641.43" y1="520.68" x2="644.9" y2="519.39" stroke="#2a18e0" stroke-width="1.15"/><line x1="643.51" y1="519.91" x2="644.9" y2="519.39" stroke="#7a1aa8" stroke-width="1.0"/><line x1="641.71" y1="521.46" x2="643.15" y2="520.95" stroke="#2a18e0" stroke-width="1.15"/><line x1="642.58" y1="521.15" x2="643.15" y2="520.95" stroke="#7a1aa8" stroke-width="1.0"/><line x1="641.99" y1="522.25" x2="646.52" y2="520.7" stroke="#2a18e0" stroke-width="1.15"/><line x1="644.71" y1="521.32" x2="646.52" y2="520.7" stroke="#7a1aa8" stroke-width="1.0"/><line x1="642.25" y1="523.04" x2="643.03" y2="522.78" stroke="#2a18e0" stroke-width="1.15"/><line x1="642.72" y1="522.88" x2="643.03" y2="522.78" stroke="#7a1aa8" stroke-width="1.0"/><line x1="642.51" y1="523.83" x2="645.13" y2="523.01" stroke="#2a18e0" stroke-width="1.15"/><line x1="644.08" y1="523.34" x2="645.13" y2="523.01" stroke="#7a1aa8" stroke-width="1.0"/><line x1="642.75" y1="524.63" x2="645.35" y2="523.85" stroke="#2a18e0" stroke-width="1.15"/><line x1="644.31" y1="524.16" x2="645.35" y2="523.85" stroke="#7a1aa8" stroke-width="1.0"/><line x1="642.98" y1="525.43" x2="644.69" y2="524.94" stroke="#2a18e0" stroke-width="1.15"/><line x1="644.01" y1="525.13" x2="644.69" y2="524.94" stroke="#7a1aa8" stroke-width="1.0"/><line x1="643.2" y1="526.23" x2="646.51" y2="525.34" stroke="#2a18e0" stroke-width="1.15"/><line x1="645.18" y1="525.69" x2="646.51" y2="525.34" stroke="#7a1aa8" stroke-width="1.0"/><line x1="643.41" y1="527.03" x2="646.46" y2="526.25" stroke="#2a18e0" stroke-width="1.15"/><line x1="645.24" y1="526.57" x2="646.46" y2="526.25" stroke="#7a1aa8" stroke-width="1.0"/><line x1="643.62" y1="527.84" x2="647.08" y2="527" stroke="#2a18e0" stroke-width="1.15"/><line x1="645.69" y1="527.34" x2="647.08" y2="527" stroke="#7a1aa8" stroke-width="1.0"/><line x1="643.81" y1="528.65" x2="647.86" y2="527.73" stroke="#2a18e0" stroke-width="1.15"/><line x1="646.24" y1="528.1" x2="647.86" y2="527.73" stroke="#7a1aa8" stroke-width="1.0"/><line x1="643.99" y1="529.46" x2="644.64" y2="529.32" stroke="#2a18e0" stroke-width="1.15"/><line x1="644.38" y1="529.38" x2="644.64" y2="529.32" stroke="#7a1aa8" stroke-width="1.0"/><line x1="644.16" y1="530.28" x2="645.02" y2="530.11" stroke="#2a18e0" stroke-width="1.15"/><line x1="644.67" y1="530.18" x2="645.02" y2="530.11" stroke="#7a1aa8" stroke-width="1.0"/><line x1="644.31" y1="531.1" x2="648.76" y2="530.27" stroke="#2a18e0" stroke-width="1.15"/><line x1="646.98" y1="530.6" x2="648.76" y2="530.27" stroke="#7a1aa8" stroke-width="1.0"/><line x1="644.46" y1="531.92" x2="645.89" y2="531.67" stroke="#2a18e0" stroke-width="1.15"/><line x1="645.32" y1="531.77" x2="645.89" y2="531.67" stroke="#7a1aa8" stroke-width="1.0"/><line x1="644.6" y1="532.74" x2="645.49" y2="532.59" stroke="#2a18e0" stroke-width="1.15"/><line x1="645.14" y1="532.65" x2="645.49" y2="532.59" stroke="#7a1aa8" stroke-width="1.0"/><line x1="644.73" y1="533.56" x2="648.07" y2="533.07" stroke="#2a18e0" stroke-width="1.15"/><line x1="646.73" y1="533.27" x2="648.07" y2="533.07" stroke="#7a1aa8" stroke-width="1.0"/><line x1="644.84" y1="534.38" x2="648.38" y2="533.91" stroke="#2a18e0" stroke-width="1.15"/><line x1="646.97" y1="534.1" x2="648.38" y2="533.91" stroke="#7a1aa8" stroke-width="1.0"/><line x1="644.95" y1="535.21" x2="645.92" y2="535.09" stroke="#2a18e0" stroke-width="1.15"/><line x1="645.53" y1="535.14" x2="645.92" y2="535.09" stroke="#7a1aa8" stroke-width="1.0"/><line x1="645.04" y1="536.04" x2="649.26" y2="535.59" stroke="#2a18e0" stroke-width="1.15"/><line x1="647.57" y1="535.77" x2="649.26" y2="535.59" stroke="#7a1aa8" stroke-width="1.0"/><text x="682.28" y="521.47" font-size="8.8" font-weight="bold" text-anchor="middle">X</text><rect x="645.9" y="536.8" width="31.6" height="3.4" fill="#5a5a5a"/><line x1="648.4" y1="541.6" x2="675" y2="541.6" stroke="#aaa" stroke-width="0.8" stroke-dasharray="1,1.2"/></g>
<path d="M180.77 514.23A77.9 77.9 0 0 1 184.41 531.21L179.74 531.68A73.2 73.2 0 0 0 176.32 515.72Z" fill="#1010ee"/>
<line x1="186.08" y1="575.71" x2="193.07" y2="578.95" stroke="#e8202a" stroke-width="1.2"/>
<text transform="translate(197.03,586.27) rotate(30.5)" font-size="8.9" font-style="italic" fill="#222">H3F3A</text>
<line x1="422.18" y1="578.61" x2="429.17" y2="581.85" stroke="#e8202a" stroke-width="1.2"/>
<text transform="translate(433.09,585.02) rotate(30.5)" font-size="8.9" font-style="italic" fill="#222">H3F3A</text>
<line x1="373.43" y1="460.03" x2="376.04" y2="453" stroke="#e8202a" stroke-width="1.6"/>
<text transform="translate(375.2,449.6) rotate(-61)" font-size="8.4" font-style="italic" fill="#222">TP53</text>
<line x1="427.97" y1="520.98" x2="434.19" y2="519.45" stroke="#d02050" stroke-width="1.4"/>
<text transform="translate(437.6,513.9) rotate(-21)" font-size="8.8" font-style="italic" fill="#222">ATRX</text>
</svg></div></body></html>
